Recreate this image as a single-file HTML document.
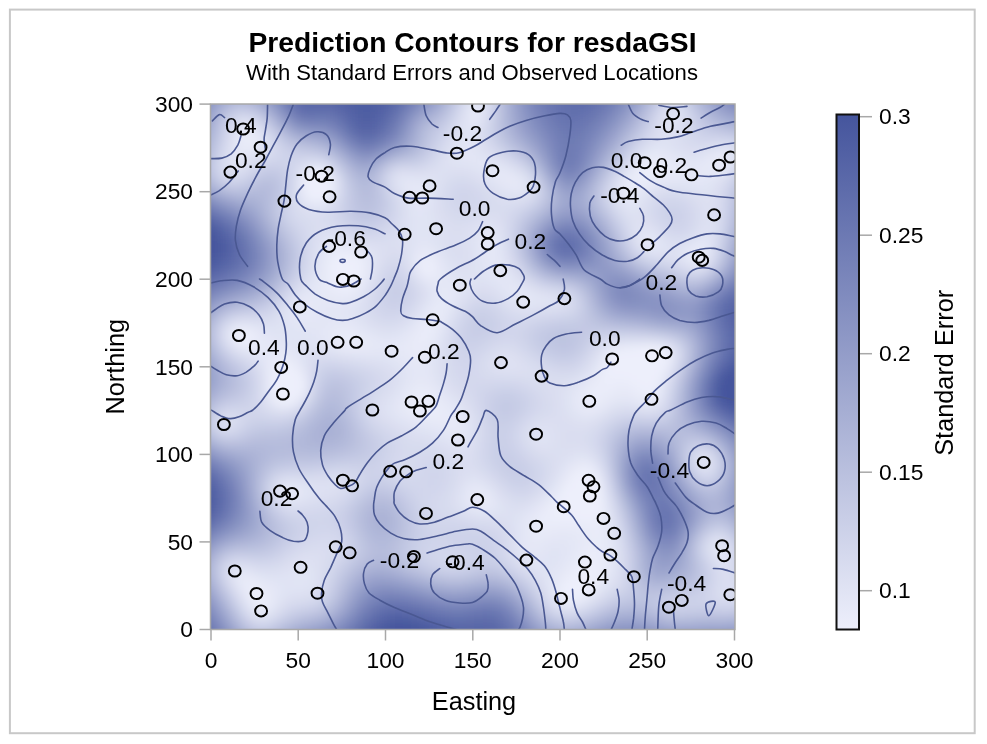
<!DOCTYPE html>
<html><head><meta charset="utf-8"><title>Prediction Contours for resdaGSI</title>
<style>
html,body{margin:0;padding:0;background:#fff;}
svg{display:block;}
text{font-family:"Liberation Sans",Arial,sans-serif;fill:#000;}
</style></head><body>
<svg width="987" height="744" viewBox="0 0 987 744">
<defs>
<clipPath id="pc"><rect x="210.5" y="104.0" width="524.5" height="525.5"/></clipPath>
<filter id="bl" x="-5%" y="-5%" width="110%" height="110%"><feGaussianBlur stdDeviation="4.5"/></filter>
<linearGradient id="cbg" x1="0" y1="0" x2="0" y2="1"><stop offset="0" stop-color="#45559d"/><stop offset="1" stop-color="#edeffb"/></linearGradient>
</defs>
<rect x="0" y="0" width="987" height="744" fill="#fff"/>
<rect x="9.9" y="9.6" width="964.8" height="723.6" fill="#fff" stroke="#c8c8c8" stroke-width="2"/>
<text x="472.5" y="51.5" text-anchor="middle" font-weight="bold" font-size="28.2">Prediction Contours for resdaGSI</text>
<text x="472" y="79.5" text-anchor="middle" font-size="22.1">With Standard Errors and Observed Locations</text>
<g clip-path="url(#pc)"><g class="fld" filter="url(#bl)">
<g transform="translate(0,80)"><rect x="186.5" width="8.5" height="8.5" fill="#5765a7"/><rect x="194.5" width="8.5" height="8.5" fill="#5f6dac"/><rect x="202.5" width="8.5" height="8.5" fill="#6976b1"/><rect x="210.5" width="8.5" height="8.5" fill="#727eb6"/><rect x="218.5" width="8.5" height="8.5" fill="#7a86bb"/><rect x="226.5" width="8.5" height="8.5" fill="#7f8bbe"/><rect x="234.5" width="8.5" height="8.5" fill="#828dbf"/><rect x="242.5" width="8.5" height="8.5" fill="#808bbe"/><rect x="250.5" width="8.5" height="8.5" fill="#7c87bc"/><rect x="258.5" width="8.5" height="8.5" fill="#7581b8"/><rect x="266.5" width="8.5" height="8.5" fill="#6d79b3"/><rect x="274.5" width="8.5" height="8.5" fill="#6472af"/><rect x="282.5" width="8.5" height="8.5" fill="#5d6baa"/><rect x="290.5" width="8.5" height="8.5" fill="#5765a7"/><rect x="298.5" width="8.5" height="8.5" fill="#5261a5"/><rect x="306.5" width="8.5" height="8.5" fill="#505fa3"/><rect x="314.5" width="8.5" height="8.5" fill="#4e5da2"/><rect x="322.5" width="8.5" height="8.5" fill="#4c5ca1"/><rect x="330.5" width="8.5" height="8.5" fill="#4b5aa0"/><rect x="338.5" width="8.5" height="8.5" fill="#49589f"/><rect x="346.5" width="8.5" height="8.5" fill="#47579e"/><rect x="354.5" width="8.5" height="8.5" fill="#46569e"/><rect x="362.5" width="8.5" height="8.5" fill="#46569e"/><rect x="370.5" width="8.5" height="8.5" fill="#47579e"/><rect x="378.5" width="8.5" height="8.5" fill="#4a5aa0"/><rect x="386.5" width="8.5" height="8.5" fill="#4e5da2"/><rect x="394.5" width="8.5" height="8.5" fill="#5362a5"/><rect x="402.5" width="8.5" height="8.5" fill="#5a68a9"/><rect x="410.5" width="8.5" height="8.5" fill="#6270ad"/><rect x="418.5" width="8.5" height="8.5" fill="#6c79b3"/><rect x="426.5" width="8.5" height="8.5" fill="#7783b9"/><rect x="434.5" width="8.5" height="8.5" fill="#848fc0"/><rect x="442.5" width="8.5" height="8.5" fill="#939dc9"/><rect x="450.5" width="8.5" height="8.5" fill="#a2abd1"/><rect x="458.5" width="8.5" height="8.5" fill="#b1b8d9"/><rect x="466.5" width="8.5" height="8.5" fill="#bbc1df"/><rect x="474.5" width="8.5" height="8.5" fill="#bfc5e1"/><rect x="482.5" width="8.5" height="8.5" fill="#bbc1df"/><rect x="490.5" width="8.5" height="8.5" fill="#b0b7d9"/><rect x="498.5" width="8.5" height="8.5" fill="#a1a9d0"/><rect x="506.5" width="8.5" height="8.5" fill="#929cc8"/><rect x="514.5" width="8.5" height="8.5" fill="#848fc0"/><rect x="522.5" width="8.5" height="8.5" fill="#7985ba"/><rect x="530.5" width="8.5" height="8.5" fill="#707cb5"/><rect x="538.5" width="8.5" height="8.5" fill="#6875b1"/><rect x="546.5" width="8.5" height="8.5" fill="#6270ad"/><rect x="554.5" width="8.5" height="8.5" fill="#5e6cab"/><rect x="562.5" width="8.5" height="8.5" fill="#5b69a9"/><rect x="570.5" width="8.5" height="8.5" fill="#5967a8"/><rect x="578.5" width="8.5" height="8.5" fill="#5866a8"/><rect x="586.5" width="8.5" height="8.5" fill="#5967a8"/><rect x="594.5" width="8.5" height="8.5" fill="#5b69a9"/><rect x="602.5" width="8.5" height="8.5" fill="#5f6dab"/><rect x="610.5" width="8.5" height="8.5" fill="#6472ae"/><rect x="618.5" width="8.5" height="8.5" fill="#6b78b3"/><rect x="626.5" width="8.5" height="8.5" fill="#7581b8"/><rect x="634.5" width="8.5" height="8.5" fill="#7f8abe"/><rect x="642.5" width="8.5" height="8.5" fill="#8b95c4"/><rect x="650.5" width="8.5" height="8.5" fill="#969fca"/><rect x="658.5" width="8.5" height="8.5" fill="#9fa8d0"/><rect x="666.5" width="8.5" height="8.5" fill="#a5add2"/><rect x="674.5" width="8.5" height="8.5" fill="#a4acd2"/><rect x="682.5" width="8.5" height="8.5" fill="#9ea7cf"/><rect x="690.5" width="8.5" height="8.5" fill="#959eca"/><rect x="698.5" width="8.5" height="8.5" fill="#8993c3"/><rect x="706.5" width="8.5" height="8.5" fill="#7e89bd"/><rect x="714.5" width="8.5" height="8.5" fill="#7480b7"/><rect x="722.5" width="8.5" height="8.5" fill="#6b78b2"/><rect x="730.5" width="8.5" height="8.5" fill="#6471ae"/><rect x="738.5" width="8.5" height="8.5" fill="#5e6cab"/><rect x="746.5" width="8.5" height="8.5" fill="#5a68a9"/><rect x="754.5" width="8.5" height="8.5" fill="#5665a7"/></g>
<g transform="translate(0,88)"><rect x="186.5" width="8.5" height="8.5" fill="#5d6bab"/><rect x="194.5" width="8.5" height="8.5" fill="#6875b1"/><rect x="202.5" width="8.5" height="8.5" fill="#7480b8"/><rect x="210.5" width="8.5" height="8.5" fill="#808cbe"/><rect x="218.5" width="8.5" height="8.5" fill="#8b95c4"/><rect x="226.5" width="8.5" height="8.5" fill="#939cc8"/><rect x="234.5" width="8.5" height="8.5" fill="#969fca"/><rect x="242.5" width="8.5" height="8.5" fill="#949ec9"/><rect x="250.5" width="8.5" height="8.5" fill="#8f99c6"/><rect x="258.5" width="8.5" height="8.5" fill="#8690c1"/><rect x="266.5" width="8.5" height="8.5" fill="#7b87bb"/><rect x="274.5" width="8.5" height="8.5" fill="#707cb5"/><rect x="282.5" width="8.5" height="8.5" fill="#6572af"/><rect x="290.5" width="8.5" height="8.5" fill="#5c6aaa"/><rect x="298.5" width="8.5" height="8.5" fill="#5664a6"/><rect x="306.5" width="8.5" height="8.5" fill="#5362a5"/><rect x="314.5" width="8.5" height="8.5" fill="#5261a4"/><rect x="322.5" width="8.5" height="8.5" fill="#5160a3"/><rect x="330.5" width="8.5" height="8.5" fill="#4f5ea2"/><rect x="338.5" width="8.5" height="8.5" fill="#4c5ba1"/><rect x="346.5" width="8.5" height="8.5" fill="#4a59a0"/><rect x="354.5" width="8.5" height="8.5" fill="#48589f"/><rect x="362.5" width="8.5" height="8.5" fill="#48589f"/><rect x="370.5" width="8.5" height="8.5" fill="#49599f"/><rect x="378.5" width="8.5" height="8.5" fill="#4c5ca1"/><rect x="386.5" width="8.5" height="8.5" fill="#5160a4"/><rect x="394.5" width="8.5" height="8.5" fill="#5766a7"/><rect x="402.5" width="8.5" height="8.5" fill="#5f6dac"/><rect x="410.5" width="8.5" height="8.5" fill="#6976b1"/><rect x="418.5" width="8.5" height="8.5" fill="#7480b7"/><rect x="426.5" width="8.5" height="8.5" fill="#818cbe"/><rect x="434.5" width="8.5" height="8.5" fill="#8f99c6"/><rect x="442.5" width="8.5" height="8.5" fill="#9fa8d0"/><rect x="450.5" width="8.5" height="8.5" fill="#b1b8d9"/><rect x="458.5" width="8.5" height="8.5" fill="#c2c7e3"/><rect x="466.5" width="8.5" height="8.5" fill="#ced3ea"/><rect x="474.5" width="8.5" height="8.5" fill="#d3d7ec"/><rect x="482.5" width="8.5" height="8.5" fill="#cdd2e9"/><rect x="490.5" width="8.5" height="8.5" fill="#bfc5e1"/><rect x="498.5" width="8.5" height="8.5" fill="#adb5d7"/><rect x="506.5" width="8.5" height="8.5" fill="#9ca4cd"/><rect x="514.5" width="8.5" height="8.5" fill="#8c96c5"/><rect x="522.5" width="8.5" height="8.5" fill="#7f8abd"/><rect x="530.5" width="8.5" height="8.5" fill="#7480b7"/><rect x="538.5" width="8.5" height="8.5" fill="#6b78b2"/><rect x="546.5" width="8.5" height="8.5" fill="#6572af"/><rect x="554.5" width="8.5" height="8.5" fill="#606eac"/><rect x="562.5" width="8.5" height="8.5" fill="#5c6aaa"/><rect x="570.5" width="8.5" height="8.5" fill="#5b69a9"/><rect x="578.5" width="8.5" height="8.5" fill="#5a69a9"/><rect x="586.5" width="8.5" height="8.5" fill="#5c6aaa"/><rect x="594.5" width="8.5" height="8.5" fill="#5f6dab"/><rect x="602.5" width="8.5" height="8.5" fill="#6471ae"/><rect x="610.5" width="8.5" height="8.5" fill="#6b77b2"/><rect x="618.5" width="8.5" height="8.5" fill="#7480b7"/><rect x="626.5" width="8.5" height="8.5" fill="#7f8abd"/><rect x="634.5" width="8.5" height="8.5" fill="#8c96c5"/><rect x="642.5" width="8.5" height="8.5" fill="#9aa3cd"/><rect x="650.5" width="8.5" height="8.5" fill="#a8b0d5"/><rect x="658.5" width="8.5" height="8.5" fill="#b4bbdb"/><rect x="666.5" width="8.5" height="8.5" fill="#bbc1df"/><rect x="674.5" width="8.5" height="8.5" fill="#bac1df"/><rect x="682.5" width="8.5" height="8.5" fill="#b3bada"/><rect x="690.5" width="8.5" height="8.5" fill="#a6aed3"/><rect x="698.5" width="8.5" height="8.5" fill="#98a1cc"/><rect x="706.5" width="8.5" height="8.5" fill="#8b95c4"/><rect x="714.5" width="8.5" height="8.5" fill="#7f8abe"/><rect x="722.5" width="8.5" height="8.5" fill="#7682b8"/><rect x="730.5" width="8.5" height="8.5" fill="#6e7ab4"/><rect x="738.5" width="8.5" height="8.5" fill="#6774b0"/><rect x="746.5" width="8.5" height="8.5" fill="#6270ad"/><rect x="754.5" width="8.5" height="8.5" fill="#5d6bab"/></g>
<g transform="translate(0,96)"><rect x="186.5" width="8.5" height="8.5" fill="#6472af"/><rect x="194.5" width="8.5" height="8.5" fill="#717eb6"/><rect x="202.5" width="8.5" height="8.5" fill="#808bbe"/><rect x="210.5" width="8.5" height="8.5" fill="#8f99c6"/><rect x="218.5" width="8.5" height="8.5" fill="#9ca5ce"/><rect x="226.5" width="8.5" height="8.5" fill="#a6aed4"/><rect x="234.5" width="8.5" height="8.5" fill="#abb3d6"/><rect x="242.5" width="8.5" height="8.5" fill="#aab2d6"/><rect x="250.5" width="8.5" height="8.5" fill="#a4acd2"/><rect x="258.5" width="8.5" height="8.5" fill="#99a2cc"/><rect x="266.5" width="8.5" height="8.5" fill="#8b96c4"/><rect x="274.5" width="8.5" height="8.5" fill="#7c88bc"/><rect x="282.5" width="8.5" height="8.5" fill="#6d7ab3"/><rect x="290.5" width="8.5" height="8.5" fill="#606eac"/><rect x="298.5" width="8.5" height="8.5" fill="#5867a8"/><rect x="306.5" width="8.5" height="8.5" fill="#5665a7"/><rect x="314.5" width="8.5" height="8.5" fill="#5665a7"/><rect x="322.5" width="8.5" height="8.5" fill="#5665a6"/><rect x="330.5" width="8.5" height="8.5" fill="#5463a5"/><rect x="338.5" width="8.5" height="8.5" fill="#5160a4"/><rect x="346.5" width="8.5" height="8.5" fill="#4e5da2"/><rect x="354.5" width="8.5" height="8.5" fill="#4b5ba1"/><rect x="362.5" width="8.5" height="8.5" fill="#4b5aa0"/><rect x="370.5" width="8.5" height="8.5" fill="#4c5ba1"/><rect x="378.5" width="8.5" height="8.5" fill="#4f5ea3"/><rect x="386.5" width="8.5" height="8.5" fill="#5563a6"/><rect x="394.5" width="8.5" height="8.5" fill="#5c6aaa"/><rect x="402.5" width="8.5" height="8.5" fill="#6674b0"/><rect x="410.5" width="8.5" height="8.5" fill="#727fb6"/><rect x="418.5" width="8.5" height="8.5" fill="#7f8abd"/><rect x="426.5" width="8.5" height="8.5" fill="#8c96c5"/><rect x="434.5" width="8.5" height="8.5" fill="#9aa3cd"/><rect x="442.5" width="8.5" height="8.5" fill="#abb3d6"/><rect x="450.5" width="8.5" height="8.5" fill="#bdc3e0"/><rect x="458.5" width="8.5" height="8.5" fill="#cfd3ea"/><rect x="466.5" width="8.5" height="8.5" fill="#dce0f2"/><rect x="474.5" width="8.5" height="8.5" fill="#e0e3f4"/><rect x="482.5" width="8.5" height="8.5" fill="#d9dcf0"/><rect x="490.5" width="8.5" height="8.5" fill="#c8cde6"/><rect x="498.5" width="8.5" height="8.5" fill="#b5bcdc"/><rect x="506.5" width="8.5" height="8.5" fill="#a2aad1"/><rect x="514.5" width="8.5" height="8.5" fill="#919bc8"/><rect x="522.5" width="8.5" height="8.5" fill="#838ec0"/><rect x="530.5" width="8.5" height="8.5" fill="#7883b9"/><rect x="538.5" width="8.5" height="8.5" fill="#6e7bb4"/><rect x="546.5" width="8.5" height="8.5" fill="#6774b0"/><rect x="554.5" width="8.5" height="8.5" fill="#6270ad"/><rect x="562.5" width="8.5" height="8.5" fill="#5f6dab"/><rect x="570.5" width="8.5" height="8.5" fill="#5d6baa"/><rect x="578.5" width="8.5" height="8.5" fill="#5d6bab"/><rect x="586.5" width="8.5" height="8.5" fill="#5f6dac"/><rect x="594.5" width="8.5" height="8.5" fill="#6371ae"/><rect x="602.5" width="8.5" height="8.5" fill="#6976b1"/><rect x="610.5" width="8.5" height="8.5" fill="#727eb6"/><rect x="618.5" width="8.5" height="8.5" fill="#7c88bc"/><rect x="626.5" width="8.5" height="8.5" fill="#8993c3"/><rect x="634.5" width="8.5" height="8.5" fill="#98a1cb"/><rect x="642.5" width="8.5" height="8.5" fill="#a8b0d4"/><rect x="650.5" width="8.5" height="8.5" fill="#b9bfde"/><rect x="658.5" width="8.5" height="8.5" fill="#c7cce6"/><rect x="666.5" width="8.5" height="8.5" fill="#cfd3ea"/><rect x="674.5" width="8.5" height="8.5" fill="#ced2e9"/><rect x="682.5" width="8.5" height="8.5" fill="#c4cae4"/><rect x="690.5" width="8.5" height="8.5" fill="#b6bcdc"/><rect x="698.5" width="8.5" height="8.5" fill="#a6aed4"/><rect x="706.5" width="8.5" height="8.5" fill="#98a1cc"/><rect x="714.5" width="8.5" height="8.5" fill="#8c96c5"/><rect x="722.5" width="8.5" height="8.5" fill="#828dbf"/><rect x="730.5" width="8.5" height="8.5" fill="#7a85ba"/><rect x="738.5" width="8.5" height="8.5" fill="#737fb6"/><rect x="746.5" width="8.5" height="8.5" fill="#6c79b3"/><rect x="754.5" width="8.5" height="8.5" fill="#6673b0"/></g>
<g transform="translate(0,104)"><rect x="186.5" width="8.5" height="8.5" fill="#6b78b2"/><rect x="194.5" width="8.5" height="8.5" fill="#7a85bb"/><rect x="202.5" width="8.5" height="8.5" fill="#8b95c4"/><rect x="210.5" width="8.5" height="8.5" fill="#9ca5ce"/><rect x="218.5" width="8.5" height="8.5" fill="#acb3d7"/><rect x="226.5" width="8.5" height="8.5" fill="#b9bfde"/><rect x="234.5" width="8.5" height="8.5" fill="#c0c6e2"/><rect x="242.5" width="8.5" height="8.5" fill="#c0c5e2"/><rect x="250.5" width="8.5" height="8.5" fill="#b9bfde"/><rect x="258.5" width="8.5" height="8.5" fill="#acb4d7"/><rect x="266.5" width="8.5" height="8.5" fill="#9da5ce"/><rect x="274.5" width="8.5" height="8.5" fill="#8a95c4"/><rect x="282.5" width="8.5" height="8.5" fill="#7783b9"/><rect x="290.5" width="8.5" height="8.5" fill="#6774b0"/><rect x="298.5" width="8.5" height="8.5" fill="#5e6bab"/><rect x="306.5" width="8.5" height="8.5" fill="#5b6aaa"/><rect x="314.5" width="8.5" height="8.5" fill="#5d6baa"/><rect x="322.5" width="8.5" height="8.5" fill="#5e6cab"/><rect x="330.5" width="8.5" height="8.5" fill="#5b69a9"/><rect x="338.5" width="8.5" height="8.5" fill="#5765a7"/><rect x="346.5" width="8.5" height="8.5" fill="#5261a4"/><rect x="354.5" width="8.5" height="8.5" fill="#4e5ea2"/><rect x="362.5" width="8.5" height="8.5" fill="#4d5ca2"/><rect x="370.5" width="8.5" height="8.5" fill="#4f5ea2"/><rect x="378.5" width="8.5" height="8.5" fill="#5361a5"/><rect x="386.5" width="8.5" height="8.5" fill="#5968a8"/><rect x="394.5" width="8.5" height="8.5" fill="#6371ae"/><rect x="402.5" width="8.5" height="8.5" fill="#717db5"/><rect x="410.5" width="8.5" height="8.5" fill="#7f8abe"/><rect x="418.5" width="8.5" height="8.5" fill="#8d97c5"/><rect x="426.5" width="8.5" height="8.5" fill="#9aa3cd"/><rect x="434.5" width="8.5" height="8.5" fill="#a7afd4"/><rect x="442.5" width="8.5" height="8.5" fill="#b6bddc"/><rect x="450.5" width="8.5" height="8.5" fill="#c7cce6"/><rect x="458.5" width="8.5" height="8.5" fill="#d7dbef"/><rect x="466.5" width="8.5" height="8.5" fill="#e3e6f5"/><rect x="474.5" width="8.5" height="8.5" fill="#e5e8f7"/><rect x="482.5" width="8.5" height="8.5" fill="#dcdff2"/><rect x="490.5" width="8.5" height="8.5" fill="#cbd0e8"/><rect x="498.5" width="8.5" height="8.5" fill="#b8bedd"/><rect x="506.5" width="8.5" height="8.5" fill="#a5add3"/><rect x="514.5" width="8.5" height="8.5" fill="#959ec9"/><rect x="522.5" width="8.5" height="8.5" fill="#8691c2"/><rect x="530.5" width="8.5" height="8.5" fill="#7b86bb"/><rect x="538.5" width="8.5" height="8.5" fill="#727eb6"/><rect x="546.5" width="8.5" height="8.5" fill="#6a77b2"/><rect x="554.5" width="8.5" height="8.5" fill="#6572af"/><rect x="562.5" width="8.5" height="8.5" fill="#626fad"/><rect x="570.5" width="8.5" height="8.5" fill="#606eac"/><rect x="578.5" width="8.5" height="8.5" fill="#616ead"/><rect x="586.5" width="8.5" height="8.5" fill="#6471ae"/><rect x="594.5" width="8.5" height="8.5" fill="#6976b1"/><rect x="602.5" width="8.5" height="8.5" fill="#707cb5"/><rect x="610.5" width="8.5" height="8.5" fill="#7985ba"/><rect x="618.5" width="8.5" height="8.5" fill="#8590c1"/><rect x="626.5" width="8.5" height="8.5" fill="#939dc9"/><rect x="634.5" width="8.5" height="8.5" fill="#a3abd2"/><rect x="642.5" width="8.5" height="8.5" fill="#b4bbdb"/><rect x="650.5" width="8.5" height="8.5" fill="#c5cae5"/><rect x="658.5" width="8.5" height="8.5" fill="#d4d8ed"/><rect x="666.5" width="8.5" height="8.5" fill="#dce0f2"/><rect x="674.5" width="8.5" height="8.5" fill="#dadef1"/><rect x="682.5" width="8.5" height="8.5" fill="#d0d5eb"/><rect x="690.5" width="8.5" height="8.5" fill="#c1c7e3"/><rect x="698.5" width="8.5" height="8.5" fill="#b2b9da"/><rect x="706.5" width="8.5" height="8.5" fill="#a5add3"/><rect x="714.5" width="8.5" height="8.5" fill="#99a2cc"/><rect x="722.5" width="8.5" height="8.5" fill="#9099c7"/><rect x="730.5" width="8.5" height="8.5" fill="#8792c2"/><rect x="738.5" width="8.5" height="8.5" fill="#808bbe"/><rect x="746.5" width="8.5" height="8.5" fill="#7984ba"/><rect x="754.5" width="8.5" height="8.5" fill="#717db6"/></g>
<g transform="translate(0,112)"><rect x="186.5" width="8.5" height="8.5" fill="#707db5"/><rect x="194.5" width="8.5" height="8.5" fill="#818cbf"/><rect x="202.5" width="8.5" height="8.5" fill="#939dc9"/><rect x="210.5" width="8.5" height="8.5" fill="#a6aed3"/><rect x="218.5" width="8.5" height="8.5" fill="#b9bfde"/><rect x="226.5" width="8.5" height="8.5" fill="#c8cde6"/><rect x="234.5" width="8.5" height="8.5" fill="#d1d6eb"/><rect x="242.5" width="8.5" height="8.5" fill="#d3d7ec"/><rect x="250.5" width="8.5" height="8.5" fill="#ccd1e9"/><rect x="258.5" width="8.5" height="8.5" fill="#bfc5e1"/><rect x="266.5" width="8.5" height="8.5" fill="#aeb6d8"/><rect x="274.5" width="8.5" height="8.5" fill="#9ba3cd"/><rect x="282.5" width="8.5" height="8.5" fill="#8690c1"/><rect x="290.5" width="8.5" height="8.5" fill="#7480b7"/><rect x="298.5" width="8.5" height="8.5" fill="#6976b1"/><rect x="306.5" width="8.5" height="8.5" fill="#6774b0"/><rect x="314.5" width="8.5" height="8.5" fill="#6876b1"/><rect x="322.5" width="8.5" height="8.5" fill="#6976b1"/><rect x="330.5" width="8.5" height="8.5" fill="#6572af"/><rect x="338.5" width="8.5" height="8.5" fill="#5e6cab"/><rect x="346.5" width="8.5" height="8.5" fill="#5765a7"/><rect x="354.5" width="8.5" height="8.5" fill="#5160a4"/><rect x="362.5" width="8.5" height="8.5" fill="#4f5ea3"/><rect x="370.5" width="8.5" height="8.5" fill="#5160a4"/><rect x="378.5" width="8.5" height="8.5" fill="#5765a7"/><rect x="386.5" width="8.5" height="8.5" fill="#5f6dac"/><rect x="394.5" width="8.5" height="8.5" fill="#6c79b3"/><rect x="402.5" width="8.5" height="8.5" fill="#7c88bc"/><rect x="410.5" width="8.5" height="8.5" fill="#8e98c6"/><rect x="418.5" width="8.5" height="8.5" fill="#9da6ce"/><rect x="426.5" width="8.5" height="8.5" fill="#a9b1d5"/><rect x="434.5" width="8.5" height="8.5" fill="#b4badb"/><rect x="442.5" width="8.5" height="8.5" fill="#c0c6e2"/><rect x="450.5" width="8.5" height="8.5" fill="#ced3ea"/><rect x="458.5" width="8.5" height="8.5" fill="#dcdff1"/><rect x="466.5" width="8.5" height="8.5" fill="#e4e7f6"/><rect x="474.5" width="8.5" height="8.5" fill="#e4e6f6"/><rect x="482.5" width="8.5" height="8.5" fill="#daddf0"/><rect x="490.5" width="8.5" height="8.5" fill="#cacfe7"/><rect x="498.5" width="8.5" height="8.5" fill="#b8bfdd"/><rect x="506.5" width="8.5" height="8.5" fill="#a7afd4"/><rect x="514.5" width="8.5" height="8.5" fill="#97a0cb"/><rect x="522.5" width="8.5" height="8.5" fill="#8a94c4"/><rect x="530.5" width="8.5" height="8.5" fill="#7f8abd"/><rect x="538.5" width="8.5" height="8.5" fill="#7581b8"/><rect x="546.5" width="8.5" height="8.5" fill="#6e7ab4"/><rect x="554.5" width="8.5" height="8.5" fill="#6875b1"/><rect x="562.5" width="8.5" height="8.5" fill="#6572af"/><rect x="570.5" width="8.5" height="8.5" fill="#6471ae"/><rect x="578.5" width="8.5" height="8.5" fill="#6572af"/><rect x="586.5" width="8.5" height="8.5" fill="#6976b1"/><rect x="594.5" width="8.5" height="8.5" fill="#6f7bb4"/><rect x="602.5" width="8.5" height="8.5" fill="#7783b9"/><rect x="610.5" width="8.5" height="8.5" fill="#828dbf"/><rect x="618.5" width="8.5" height="8.5" fill="#8f99c6"/><rect x="626.5" width="8.5" height="8.5" fill="#9da6ce"/><rect x="634.5" width="8.5" height="8.5" fill="#adb4d7"/><rect x="642.5" width="8.5" height="8.5" fill="#bec3e0"/><rect x="650.5" width="8.5" height="8.5" fill="#ced2e9"/><rect x="658.5" width="8.5" height="8.5" fill="#dbdef1"/><rect x="666.5" width="8.5" height="8.5" fill="#e1e4f5"/><rect x="674.5" width="8.5" height="8.5" fill="#dfe2f3"/><rect x="682.5" width="8.5" height="8.5" fill="#d6daee"/><rect x="690.5" width="8.5" height="8.5" fill="#c9cee7"/><rect x="698.5" width="8.5" height="8.5" fill="#bcc2e0"/><rect x="706.5" width="8.5" height="8.5" fill="#b0b8d9"/><rect x="714.5" width="8.5" height="8.5" fill="#a7afd4"/><rect x="722.5" width="8.5" height="8.5" fill="#9fa7cf"/><rect x="730.5" width="8.5" height="8.5" fill="#97a1cb"/><rect x="738.5" width="8.5" height="8.5" fill="#909ac7"/><rect x="746.5" width="8.5" height="8.5" fill="#8792c2"/><rect x="754.5" width="8.5" height="8.5" fill="#7e89bd"/></g>
<g transform="translate(0,120)"><rect x="186.5" width="8.5" height="8.5" fill="#7581b8"/><rect x="194.5" width="8.5" height="8.5" fill="#8791c2"/><rect x="202.5" width="8.5" height="8.5" fill="#9aa3cd"/><rect x="210.5" width="8.5" height="8.5" fill="#aeb5d8"/><rect x="218.5" width="8.5" height="8.5" fill="#c2c7e3"/><rect x="226.5" width="8.5" height="8.5" fill="#d2d6ec"/><rect x="234.5" width="8.5" height="8.5" fill="#dde1f2"/><rect x="242.5" width="8.5" height="8.5" fill="#e1e4f4"/><rect x="250.5" width="8.5" height="8.5" fill="#dcdff1"/><rect x="258.5" width="8.5" height="8.5" fill="#d0d4eb"/><rect x="266.5" width="8.5" height="8.5" fill="#c0c5e2"/><rect x="274.5" width="8.5" height="8.5" fill="#acb4d7"/><rect x="282.5" width="8.5" height="8.5" fill="#99a2cc"/><rect x="290.5" width="8.5" height="8.5" fill="#8892c2"/><rect x="298.5" width="8.5" height="8.5" fill="#7d89bc"/><rect x="306.5" width="8.5" height="8.5" fill="#7a85bb"/><rect x="314.5" width="8.5" height="8.5" fill="#7985ba"/><rect x="322.5" width="8.5" height="8.5" fill="#7783b9"/><rect x="330.5" width="8.5" height="8.5" fill="#717db6"/><rect x="338.5" width="8.5" height="8.5" fill="#6774b0"/><rect x="346.5" width="8.5" height="8.5" fill="#5c6baa"/><rect x="354.5" width="8.5" height="8.5" fill="#5463a6"/><rect x="362.5" width="8.5" height="8.5" fill="#5261a4"/><rect x="370.5" width="8.5" height="8.5" fill="#5563a6"/><rect x="378.5" width="8.5" height="8.5" fill="#5c6aaa"/><rect x="386.5" width="8.5" height="8.5" fill="#6673af"/><rect x="394.5" width="8.5" height="8.5" fill="#7480b7"/><rect x="402.5" width="8.5" height="8.5" fill="#8791c2"/><rect x="410.5" width="8.5" height="8.5" fill="#9ba3cd"/><rect x="418.5" width="8.5" height="8.5" fill="#abb2d6"/><rect x="426.5" width="8.5" height="8.5" fill="#b6bcdc"/><rect x="434.5" width="8.5" height="8.5" fill="#bfc5e1"/><rect x="442.5" width="8.5" height="8.5" fill="#c9cee7"/><rect x="450.5" width="8.5" height="8.5" fill="#d4d8ed"/><rect x="458.5" width="8.5" height="8.5" fill="#dee1f3"/><rect x="466.5" width="8.5" height="8.5" fill="#e3e5f5"/><rect x="474.5" width="8.5" height="8.5" fill="#e0e3f4"/><rect x="482.5" width="8.5" height="8.5" fill="#d6daee"/><rect x="490.5" width="8.5" height="8.5" fill="#c8cde6"/><rect x="498.5" width="8.5" height="8.5" fill="#b8bfde"/><rect x="506.5" width="8.5" height="8.5" fill="#a9b1d5"/><rect x="514.5" width="8.5" height="8.5" fill="#9ba4cd"/><rect x="522.5" width="8.5" height="8.5" fill="#8e98c6"/><rect x="530.5" width="8.5" height="8.5" fill="#838ec0"/><rect x="538.5" width="8.5" height="8.5" fill="#7a86bb"/><rect x="546.5" width="8.5" height="8.5" fill="#727eb6"/><rect x="554.5" width="8.5" height="8.5" fill="#6c79b3"/><rect x="562.5" width="8.5" height="8.5" fill="#6976b1"/><rect x="570.5" width="8.5" height="8.5" fill="#6875b1"/><rect x="578.5" width="8.5" height="8.5" fill="#6a77b2"/><rect x="586.5" width="8.5" height="8.5" fill="#6f7bb4"/><rect x="594.5" width="8.5" height="8.5" fill="#7682b8"/><rect x="602.5" width="8.5" height="8.5" fill="#808bbe"/><rect x="610.5" width="8.5" height="8.5" fill="#8b96c4"/><rect x="618.5" width="8.5" height="8.5" fill="#99a2cc"/><rect x="626.5" width="8.5" height="8.5" fill="#a8afd4"/><rect x="634.5" width="8.5" height="8.5" fill="#b7bddd"/><rect x="642.5" width="8.5" height="8.5" fill="#c5cbe5"/><rect x="650.5" width="8.5" height="8.5" fill="#d3d7ec"/><rect x="658.5" width="8.5" height="8.5" fill="#dde0f2"/><rect x="666.5" width="8.5" height="8.5" fill="#e1e4f4"/><rect x="674.5" width="8.5" height="8.5" fill="#dee1f3"/><rect x="682.5" width="8.5" height="8.5" fill="#d7daee"/><rect x="690.5" width="8.5" height="8.5" fill="#cdd2e9"/><rect x="698.5" width="8.5" height="8.5" fill="#c4c9e4"/><rect x="706.5" width="8.5" height="8.5" fill="#bcc2e0"/><rect x="714.5" width="8.5" height="8.5" fill="#b5bcdc"/><rect x="722.5" width="8.5" height="8.5" fill="#afb7d9"/><rect x="730.5" width="8.5" height="8.5" fill="#a9b1d5"/><rect x="738.5" width="8.5" height="8.5" fill="#a1aad1"/><rect x="746.5" width="8.5" height="8.5" fill="#97a1cb"/><rect x="754.5" width="8.5" height="8.5" fill="#8c96c5"/></g>
<g transform="translate(0,128)"><rect x="186.5" width="8.5" height="8.5" fill="#7a86bb"/><rect x="194.5" width="8.5" height="8.5" fill="#8c97c5"/><rect x="202.5" width="8.5" height="8.5" fill="#a0a9d0"/><rect x="210.5" width="8.5" height="8.5" fill="#b4bbdb"/><rect x="218.5" width="8.5" height="8.5" fill="#c7cce6"/><rect x="226.5" width="8.5" height="8.5" fill="#d8dbef"/><rect x="234.5" width="8.5" height="8.5" fill="#e3e6f6"/><rect x="242.5" width="8.5" height="8.5" fill="#e8ebf8"/><rect x="250.5" width="8.5" height="8.5" fill="#e5e8f7"/><rect x="258.5" width="8.5" height="8.5" fill="#dcdff1"/><rect x="266.5" width="8.5" height="8.5" fill="#ced2ea"/><rect x="274.5" width="8.5" height="8.5" fill="#bec3e0"/><rect x="282.5" width="8.5" height="8.5" fill="#adb4d7"/><rect x="290.5" width="8.5" height="8.5" fill="#9fa7cf"/><rect x="298.5" width="8.5" height="8.5" fill="#959fca"/><rect x="306.5" width="8.5" height="8.5" fill="#919bc7"/><rect x="314.5" width="8.5" height="8.5" fill="#8e98c6"/><rect x="322.5" width="8.5" height="8.5" fill="#8993c3"/><rect x="330.5" width="8.5" height="8.5" fill="#808bbe"/><rect x="338.5" width="8.5" height="8.5" fill="#737fb7"/><rect x="346.5" width="8.5" height="8.5" fill="#6573af"/><rect x="354.5" width="8.5" height="8.5" fill="#5b69a9"/><rect x="362.5" width="8.5" height="8.5" fill="#5866a7"/><rect x="370.5" width="8.5" height="8.5" fill="#5b69a9"/><rect x="378.5" width="8.5" height="8.5" fill="#6370ae"/><rect x="386.5" width="8.5" height="8.5" fill="#6e7ab4"/><rect x="394.5" width="8.5" height="8.5" fill="#7d88bc"/><rect x="402.5" width="8.5" height="8.5" fill="#8f99c6"/><rect x="410.5" width="8.5" height="8.5" fill="#a2aad1"/><rect x="418.5" width="8.5" height="8.5" fill="#b2b9da"/><rect x="426.5" width="8.5" height="8.5" fill="#bec4e0"/><rect x="434.5" width="8.5" height="8.5" fill="#c7cce6"/><rect x="442.5" width="8.5" height="8.5" fill="#d0d4eb"/><rect x="450.5" width="8.5" height="8.5" fill="#d9ddf0"/><rect x="458.5" width="8.5" height="8.5" fill="#dfe3f3"/><rect x="466.5" width="8.5" height="8.5" fill="#e1e4f4"/><rect x="474.5" width="8.5" height="8.5" fill="#dde0f2"/><rect x="482.5" width="8.5" height="8.5" fill="#d4d8ed"/><rect x="490.5" width="8.5" height="8.5" fill="#c8cde6"/><rect x="498.5" width="8.5" height="8.5" fill="#bbc1df"/><rect x="506.5" width="8.5" height="8.5" fill="#aeb5d8"/><rect x="514.5" width="8.5" height="8.5" fill="#a1a9d0"/><rect x="522.5" width="8.5" height="8.5" fill="#959eca"/><rect x="530.5" width="8.5" height="8.5" fill="#8a94c4"/><rect x="538.5" width="8.5" height="8.5" fill="#808bbe"/><rect x="546.5" width="8.5" height="8.5" fill="#7783b9"/><rect x="554.5" width="8.5" height="8.5" fill="#707db5"/><rect x="562.5" width="8.5" height="8.5" fill="#6c79b3"/><rect x="570.5" width="8.5" height="8.5" fill="#6c78b3"/><rect x="578.5" width="8.5" height="8.5" fill="#6e7bb4"/><rect x="586.5" width="8.5" height="8.5" fill="#7581b8"/><rect x="594.5" width="8.5" height="8.5" fill="#7d89bd"/><rect x="602.5" width="8.5" height="8.5" fill="#8993c3"/><rect x="610.5" width="8.5" height="8.5" fill="#969fca"/><rect x="618.5" width="8.5" height="8.5" fill="#a4acd2"/><rect x="626.5" width="8.5" height="8.5" fill="#b2b9da"/><rect x="634.5" width="8.5" height="8.5" fill="#c0c6e2"/><rect x="642.5" width="8.5" height="8.5" fill="#cdd1e9"/><rect x="650.5" width="8.5" height="8.5" fill="#d7daee"/><rect x="658.5" width="8.5" height="8.5" fill="#dde0f2"/><rect x="666.5" width="8.5" height="8.5" fill="#dee1f3"/><rect x="674.5" width="8.5" height="8.5" fill="#dbdff1"/><rect x="682.5" width="8.5" height="8.5" fill="#d6daee"/><rect x="690.5" width="8.5" height="8.5" fill="#d0d5eb"/><rect x="698.5" width="8.5" height="8.5" fill="#cbd0e8"/><rect x="706.5" width="8.5" height="8.5" fill="#c7cce6"/><rect x="714.5" width="8.5" height="8.5" fill="#c4c9e4"/><rect x="722.5" width="8.5" height="8.5" fill="#c1c6e2"/><rect x="730.5" width="8.5" height="8.5" fill="#bcc2df"/><rect x="738.5" width="8.5" height="8.5" fill="#b3badb"/><rect x="746.5" width="8.5" height="8.5" fill="#a7afd4"/><rect x="754.5" width="8.5" height="8.5" fill="#99a2cc"/></g>
<g transform="translate(0,136)"><rect x="186.5" width="8.5" height="8.5" fill="#7f8abd"/><rect x="194.5" width="8.5" height="8.5" fill="#929bc8"/><rect x="202.5" width="8.5" height="8.5" fill="#a6aed3"/><rect x="210.5" width="8.5" height="8.5" fill="#b9c0de"/><rect x="218.5" width="8.5" height="8.5" fill="#ccd0e8"/><rect x="226.5" width="8.5" height="8.5" fill="#dbdef1"/><rect x="234.5" width="8.5" height="8.5" fill="#e5e8f7"/><rect x="242.5" width="8.5" height="8.5" fill="#eaecf9"/><rect x="250.5" width="8.5" height="8.5" fill="#e8ebf8"/><rect x="258.5" width="8.5" height="8.5" fill="#e1e4f4"/><rect x="266.5" width="8.5" height="8.5" fill="#d7dbef"/><rect x="274.5" width="8.5" height="8.5" fill="#cacfe8"/><rect x="282.5" width="8.5" height="8.5" fill="#bec4e1"/><rect x="290.5" width="8.5" height="8.5" fill="#b4bbdb"/><rect x="298.5" width="8.5" height="8.5" fill="#adb4d7"/><rect x="306.5" width="8.5" height="8.5" fill="#a8afd4"/><rect x="314.5" width="8.5" height="8.5" fill="#a3abd2"/><rect x="322.5" width="8.5" height="8.5" fill="#9ca5ce"/><rect x="330.5" width="8.5" height="8.5" fill="#929bc8"/><rect x="338.5" width="8.5" height="8.5" fill="#838ec0"/><rect x="346.5" width="8.5" height="8.5" fill="#737fb7"/><rect x="354.5" width="8.5" height="8.5" fill="#6875b0"/><rect x="362.5" width="8.5" height="8.5" fill="#6371ae"/><rect x="370.5" width="8.5" height="8.5" fill="#6674b0"/><rect x="378.5" width="8.5" height="8.5" fill="#6f7bb4"/><rect x="386.5" width="8.5" height="8.5" fill="#7a85bb"/><rect x="394.5" width="8.5" height="8.5" fill="#8792c2"/><rect x="402.5" width="8.5" height="8.5" fill="#97a0cb"/><rect x="410.5" width="8.5" height="8.5" fill="#a7afd4"/><rect x="418.5" width="8.5" height="8.5" fill="#b6bddc"/><rect x="426.5" width="8.5" height="8.5" fill="#c2c8e3"/><rect x="434.5" width="8.5" height="8.5" fill="#ccd1e9"/><rect x="442.5" width="8.5" height="8.5" fill="#d5d9ee"/><rect x="450.5" width="8.5" height="8.5" fill="#dde0f2"/><rect x="458.5" width="8.5" height="8.5" fill="#e1e4f4"/><rect x="466.5" width="8.5" height="8.5" fill="#e1e4f4"/><rect x="474.5" width="8.5" height="8.5" fill="#dde0f2"/><rect x="482.5" width="8.5" height="8.5" fill="#d5d9ee"/><rect x="490.5" width="8.5" height="8.5" fill="#ccd1e8"/><rect x="498.5" width="8.5" height="8.5" fill="#c1c7e2"/><rect x="506.5" width="8.5" height="8.5" fill="#b5bcdc"/><rect x="514.5" width="8.5" height="8.5" fill="#aab1d5"/><rect x="522.5" width="8.5" height="8.5" fill="#9ea7cf"/><rect x="530.5" width="8.5" height="8.5" fill="#929cc8"/><rect x="538.5" width="8.5" height="8.5" fill="#8791c2"/><rect x="546.5" width="8.5" height="8.5" fill="#7c87bc"/><rect x="554.5" width="8.5" height="8.5" fill="#737fb7"/><rect x="562.5" width="8.5" height="8.5" fill="#6e7bb4"/><rect x="570.5" width="8.5" height="8.5" fill="#6e7bb4"/><rect x="578.5" width="8.5" height="8.5" fill="#727fb6"/><rect x="586.5" width="8.5" height="8.5" fill="#7a86bb"/><rect x="594.5" width="8.5" height="8.5" fill="#8590c1"/><rect x="602.5" width="8.5" height="8.5" fill="#929bc8"/><rect x="610.5" width="8.5" height="8.5" fill="#a0a8d0"/><rect x="618.5" width="8.5" height="8.5" fill="#afb6d8"/><rect x="626.5" width="8.5" height="8.5" fill="#bdc3e0"/><rect x="634.5" width="8.5" height="8.5" fill="#cacfe7"/><rect x="642.5" width="8.5" height="8.5" fill="#d4d8ed"/><rect x="650.5" width="8.5" height="8.5" fill="#dbdef1"/><rect x="658.5" width="8.5" height="8.5" fill="#dee1f3"/><rect x="666.5" width="8.5" height="8.5" fill="#dde1f2"/><rect x="674.5" width="8.5" height="8.5" fill="#dadef1"/><rect x="682.5" width="8.5" height="8.5" fill="#d7dbef"/><rect x="690.5" width="8.5" height="8.5" fill="#d4d8ed"/><rect x="698.5" width="8.5" height="8.5" fill="#d2d6ec"/><rect x="706.5" width="8.5" height="8.5" fill="#d2d6ec"/><rect x="714.5" width="8.5" height="8.5" fill="#d2d6ec"/><rect x="722.5" width="8.5" height="8.5" fill="#d1d6ec"/><rect x="730.5" width="8.5" height="8.5" fill="#cdd2e9"/><rect x="738.5" width="8.5" height="8.5" fill="#c4c9e4"/><rect x="746.5" width="8.5" height="8.5" fill="#b5bcdc"/><rect x="754.5" width="8.5" height="8.5" fill="#a4acd2"/></g>
<g transform="translate(0,144)"><rect x="186.5" width="8.5" height="8.5" fill="#848ec0"/><rect x="194.5" width="8.5" height="8.5" fill="#97a0cb"/><rect x="202.5" width="8.5" height="8.5" fill="#acb3d6"/><rect x="210.5" width="8.5" height="8.5" fill="#bfc5e1"/><rect x="218.5" width="8.5" height="8.5" fill="#d0d4eb"/><rect x="226.5" width="8.5" height="8.5" fill="#dde0f2"/><rect x="234.5" width="8.5" height="8.5" fill="#e4e7f6"/><rect x="242.5" width="8.5" height="8.5" fill="#e7eaf8"/><rect x="250.5" width="8.5" height="8.5" fill="#e5e8f7"/><rect x="258.5" width="8.5" height="8.5" fill="#e0e3f4"/><rect x="266.5" width="8.5" height="8.5" fill="#d9ddf0"/><rect x="274.5" width="8.5" height="8.5" fill="#d1d5eb"/><rect x="282.5" width="8.5" height="8.5" fill="#cacee7"/><rect x="290.5" width="8.5" height="8.5" fill="#c3c9e4"/><rect x="298.5" width="8.5" height="8.5" fill="#bfc5e1"/><rect x="306.5" width="8.5" height="8.5" fill="#bcc2df"/><rect x="314.5" width="8.5" height="8.5" fill="#b7bedd"/><rect x="322.5" width="8.5" height="8.5" fill="#b0b7d9"/><rect x="330.5" width="8.5" height="8.5" fill="#a4acd2"/><rect x="338.5" width="8.5" height="8.5" fill="#959fca"/><rect x="346.5" width="8.5" height="8.5" fill="#8590c1"/><rect x="354.5" width="8.5" height="8.5" fill="#7985ba"/><rect x="362.5" width="8.5" height="8.5" fill="#7480b7"/><rect x="370.5" width="8.5" height="8.5" fill="#7883b9"/><rect x="378.5" width="8.5" height="8.5" fill="#818cbe"/><rect x="386.5" width="8.5" height="8.5" fill="#8c96c5"/><rect x="394.5" width="8.5" height="8.5" fill="#97a1cb"/><rect x="402.5" width="8.5" height="8.5" fill="#a3abd1"/><rect x="410.5" width="8.5" height="8.5" fill="#afb6d8"/><rect x="418.5" width="8.5" height="8.5" fill="#bbc1df"/><rect x="426.5" width="8.5" height="8.5" fill="#c7cce6"/><rect x="434.5" width="8.5" height="8.5" fill="#d1d5eb"/><rect x="442.5" width="8.5" height="8.5" fill="#d9ddf0"/><rect x="450.5" width="8.5" height="8.5" fill="#dfe3f3"/><rect x="458.5" width="8.5" height="8.5" fill="#e2e5f5"/><rect x="466.5" width="8.5" height="8.5" fill="#e2e5f5"/><rect x="474.5" width="8.5" height="8.5" fill="#dfe2f3"/><rect x="482.5" width="8.5" height="8.5" fill="#daddf0"/><rect x="490.5" width="8.5" height="8.5" fill="#d3d7ec"/><rect x="498.5" width="8.5" height="8.5" fill="#cacfe7"/><rect x="506.5" width="8.5" height="8.5" fill="#c0c6e2"/><rect x="514.5" width="8.5" height="8.5" fill="#b6bcdc"/><rect x="522.5" width="8.5" height="8.5" fill="#aab1d5"/><rect x="530.5" width="8.5" height="8.5" fill="#9da5ce"/><rect x="538.5" width="8.5" height="8.5" fill="#8e98c6"/><rect x="546.5" width="8.5" height="8.5" fill="#808bbe"/><rect x="554.5" width="8.5" height="8.5" fill="#7581b8"/><rect x="562.5" width="8.5" height="8.5" fill="#6f7bb4"/><rect x="570.5" width="8.5" height="8.5" fill="#6f7cb5"/><rect x="578.5" width="8.5" height="8.5" fill="#7581b8"/><rect x="586.5" width="8.5" height="8.5" fill="#808bbe"/><rect x="594.5" width="8.5" height="8.5" fill="#8d97c5"/><rect x="602.5" width="8.5" height="8.5" fill="#9ca4cd"/><rect x="610.5" width="8.5" height="8.5" fill="#abb2d6"/><rect x="618.5" width="8.5" height="8.5" fill="#bac0df"/><rect x="626.5" width="8.5" height="8.5" fill="#c8cde6"/><rect x="634.5" width="8.5" height="8.5" fill="#d4d8ed"/><rect x="642.5" width="8.5" height="8.5" fill="#dce0f2"/><rect x="650.5" width="8.5" height="8.5" fill="#e0e4f4"/><rect x="658.5" width="8.5" height="8.5" fill="#e1e4f4"/><rect x="666.5" width="8.5" height="8.5" fill="#dfe2f3"/><rect x="674.5" width="8.5" height="8.5" fill="#dce0f2"/><rect x="682.5" width="8.5" height="8.5" fill="#daddf0"/><rect x="690.5" width="8.5" height="8.5" fill="#d9dcf0"/><rect x="698.5" width="8.5" height="8.5" fill="#d9ddf0"/><rect x="706.5" width="8.5" height="8.5" fill="#dcdff1"/><rect x="714.5" width="8.5" height="8.5" fill="#dee2f3"/><rect x="722.5" width="8.5" height="8.5" fill="#dfe2f3"/><rect x="730.5" width="8.5" height="8.5" fill="#dadef1"/><rect x="738.5" width="8.5" height="8.5" fill="#cfd4ea"/><rect x="746.5" width="8.5" height="8.5" fill="#bec4e1"/><rect x="754.5" width="8.5" height="8.5" fill="#aab2d5"/></g>
<g transform="translate(0,152)"><rect x="186.5" width="8.5" height="8.5" fill="#8892c2"/><rect x="194.5" width="8.5" height="8.5" fill="#9ca5ce"/><rect x="202.5" width="8.5" height="8.5" fill="#b1b8d9"/><rect x="210.5" width="8.5" height="8.5" fill="#c4cae4"/><rect x="218.5" width="8.5" height="8.5" fill="#d4d8ed"/><rect x="226.5" width="8.5" height="8.5" fill="#dee2f3"/><rect x="234.5" width="8.5" height="8.5" fill="#e3e6f5"/><rect x="242.5" width="8.5" height="8.5" fill="#e3e5f5"/><rect x="250.5" width="8.5" height="8.5" fill="#dfe2f3"/><rect x="258.5" width="8.5" height="8.5" fill="#dbdef1"/><rect x="266.5" width="8.5" height="8.5" fill="#d6daee"/><rect x="274.5" width="8.5" height="8.5" fill="#d1d6ec"/><rect x="282.5" width="8.5" height="8.5" fill="#ced3ea"/><rect x="290.5" width="8.5" height="8.5" fill="#cdd2e9"/><rect x="298.5" width="8.5" height="8.5" fill="#cdd1e9"/><rect x="306.5" width="8.5" height="8.5" fill="#cdd1e9"/><rect x="314.5" width="8.5" height="8.5" fill="#cacfe8"/><rect x="322.5" width="8.5" height="8.5" fill="#c3c9e4"/><rect x="330.5" width="8.5" height="8.5" fill="#b7bedd"/><rect x="338.5" width="8.5" height="8.5" fill="#a8b0d4"/><rect x="346.5" width="8.5" height="8.5" fill="#98a1cc"/><rect x="354.5" width="8.5" height="8.5" fill="#8c96c5"/><rect x="362.5" width="8.5" height="8.5" fill="#8892c2"/><rect x="370.5" width="8.5" height="8.5" fill="#8d97c5"/><rect x="378.5" width="8.5" height="8.5" fill="#98a1cc"/><rect x="386.5" width="8.5" height="8.5" fill="#a5add3"/><rect x="394.5" width="8.5" height="8.5" fill="#afb6d8"/><rect x="402.5" width="8.5" height="8.5" fill="#b5bcdc"/><rect x="410.5" width="8.5" height="8.5" fill="#bbc2df"/><rect x="418.5" width="8.5" height="8.5" fill="#c4c9e4"/><rect x="426.5" width="8.5" height="8.5" fill="#cdd2e9"/><rect x="434.5" width="8.5" height="8.5" fill="#d6daee"/><rect x="442.5" width="8.5" height="8.5" fill="#dde0f2"/><rect x="450.5" width="8.5" height="8.5" fill="#e1e4f4"/><rect x="458.5" width="8.5" height="8.5" fill="#e2e5f5"/><rect x="466.5" width="8.5" height="8.5" fill="#e2e5f5"/><rect x="474.5" width="8.5" height="8.5" fill="#e1e4f4"/><rect x="482.5" width="8.5" height="8.5" fill="#dfe2f3"/><rect x="490.5" width="8.5" height="8.5" fill="#dbdef1"/><rect x="498.5" width="8.5" height="8.5" fill="#d5d9ed"/><rect x="506.5" width="8.5" height="8.5" fill="#cdd2e9"/><rect x="514.5" width="8.5" height="8.5" fill="#c4c9e4"/><rect x="522.5" width="8.5" height="8.5" fill="#b8bedd"/><rect x="530.5" width="8.5" height="8.5" fill="#a9b0d5"/><rect x="538.5" width="8.5" height="8.5" fill="#97a0cb"/><rect x="546.5" width="8.5" height="8.5" fill="#8590c1"/><rect x="554.5" width="8.5" height="8.5" fill="#7682b9"/><rect x="562.5" width="8.5" height="8.5" fill="#6f7bb4"/><rect x="570.5" width="8.5" height="8.5" fill="#6f7cb5"/><rect x="578.5" width="8.5" height="8.5" fill="#7884ba"/><rect x="586.5" width="8.5" height="8.5" fill="#8590c1"/><rect x="594.5" width="8.5" height="8.5" fill="#959eca"/><rect x="602.5" width="8.5" height="8.5" fill="#a6aed3"/><rect x="610.5" width="8.5" height="8.5" fill="#b6bddc"/><rect x="618.5" width="8.5" height="8.5" fill="#c6cbe5"/><rect x="626.5" width="8.5" height="8.5" fill="#d3d7ed"/><rect x="634.5" width="8.5" height="8.5" fill="#dee1f2"/><rect x="642.5" width="8.5" height="8.5" fill="#e4e7f6"/><rect x="650.5" width="8.5" height="8.5" fill="#e6e9f7"/><rect x="658.5" width="8.5" height="8.5" fill="#e6e8f7"/><rect x="666.5" width="8.5" height="8.5" fill="#e3e6f5"/><rect x="674.5" width="8.5" height="8.5" fill="#e0e3f4"/><rect x="682.5" width="8.5" height="8.5" fill="#dfe2f3"/><rect x="690.5" width="8.5" height="8.5" fill="#dee1f3"/><rect x="698.5" width="8.5" height="8.5" fill="#e0e3f4"/><rect x="706.5" width="8.5" height="8.5" fill="#e3e6f5"/><rect x="714.5" width="8.5" height="8.5" fill="#e6e8f7"/><rect x="722.5" width="8.5" height="8.5" fill="#e6e9f7"/><rect x="730.5" width="8.5" height="8.5" fill="#e0e3f4"/><rect x="738.5" width="8.5" height="8.5" fill="#d3d7ed"/><rect x="746.5" width="8.5" height="8.5" fill="#c0c6e2"/><rect x="754.5" width="8.5" height="8.5" fill="#aab2d6"/></g>
<g transform="translate(0,160)"><rect x="186.5" width="8.5" height="8.5" fill="#8994c3"/><rect x="194.5" width="8.5" height="8.5" fill="#9fa7cf"/><rect x="202.5" width="8.5" height="8.5" fill="#b5bbdb"/><rect x="210.5" width="8.5" height="8.5" fill="#c8cde6"/><rect x="218.5" width="8.5" height="8.5" fill="#d7dbef"/><rect x="226.5" width="8.5" height="8.5" fill="#dfe2f3"/><rect x="234.5" width="8.5" height="8.5" fill="#e0e3f4"/><rect x="242.5" width="8.5" height="8.5" fill="#dde0f2"/><rect x="250.5" width="8.5" height="8.5" fill="#d7dbef"/><rect x="258.5" width="8.5" height="8.5" fill="#d1d6ec"/><rect x="266.5" width="8.5" height="8.5" fill="#ced2ea"/><rect x="274.5" width="8.5" height="8.5" fill="#cdd1e9"/><rect x="282.5" width="8.5" height="8.5" fill="#ced3ea"/><rect x="290.5" width="8.5" height="8.5" fill="#d2d6ec"/><rect x="298.5" width="8.5" height="8.5" fill="#d7dbef"/><rect x="306.5" width="8.5" height="8.5" fill="#dce0f2"/><rect x="314.5" width="8.5" height="8.5" fill="#dde1f2"/><rect x="322.5" width="8.5" height="8.5" fill="#d7dbef"/><rect x="330.5" width="8.5" height="8.5" fill="#c9cee7"/><rect x="338.5" width="8.5" height="8.5" fill="#b9bfde"/><rect x="346.5" width="8.5" height="8.5" fill="#a9b0d5"/><rect x="354.5" width="8.5" height="8.5" fill="#9da6ce"/><rect x="362.5" width="8.5" height="8.5" fill="#9aa3cd"/><rect x="370.5" width="8.5" height="8.5" fill="#a1aad1"/><rect x="378.5" width="8.5" height="8.5" fill="#b0b7d9"/><rect x="386.5" width="8.5" height="8.5" fill="#bfc5e1"/><rect x="394.5" width="8.5" height="8.5" fill="#c8cde6"/><rect x="402.5" width="8.5" height="8.5" fill="#cacfe7"/><rect x="410.5" width="8.5" height="8.5" fill="#cbd0e8"/><rect x="418.5" width="8.5" height="8.5" fill="#cfd4ea"/><rect x="426.5" width="8.5" height="8.5" fill="#d5d9ee"/><rect x="434.5" width="8.5" height="8.5" fill="#dadef1"/><rect x="442.5" width="8.5" height="8.5" fill="#dee1f2"/><rect x="450.5" width="8.5" height="8.5" fill="#dfe2f3"/><rect x="458.5" width="8.5" height="8.5" fill="#e0e3f4"/><rect x="466.5" width="8.5" height="8.5" fill="#e1e4f4"/><rect x="474.5" width="8.5" height="8.5" fill="#e2e5f5"/><rect x="482.5" width="8.5" height="8.5" fill="#e2e5f5"/><rect x="490.5" width="8.5" height="8.5" fill="#e1e4f5"/><rect x="498.5" width="8.5" height="8.5" fill="#dfe2f3"/><rect x="506.5" width="8.5" height="8.5" fill="#d9ddf0"/><rect x="514.5" width="8.5" height="8.5" fill="#d2d6ec"/><rect x="522.5" width="8.5" height="8.5" fill="#c6cce5"/><rect x="530.5" width="8.5" height="8.5" fill="#b6bddc"/><rect x="538.5" width="8.5" height="8.5" fill="#a2aad1"/><rect x="546.5" width="8.5" height="8.5" fill="#8c96c5"/><rect x="554.5" width="8.5" height="8.5" fill="#7a86bb"/><rect x="562.5" width="8.5" height="8.5" fill="#707db5"/><rect x="570.5" width="8.5" height="8.5" fill="#727eb6"/><rect x="578.5" width="8.5" height="8.5" fill="#7c88bc"/><rect x="586.5" width="8.5" height="8.5" fill="#8c96c5"/><rect x="594.5" width="8.5" height="8.5" fill="#9ea7cf"/><rect x="602.5" width="8.5" height="8.5" fill="#b0b7d9"/><rect x="610.5" width="8.5" height="8.5" fill="#c1c7e3"/><rect x="618.5" width="8.5" height="8.5" fill="#d0d5eb"/><rect x="626.5" width="8.5" height="8.5" fill="#dde0f2"/><rect x="634.5" width="8.5" height="8.5" fill="#e5e8f7"/><rect x="642.5" width="8.5" height="8.5" fill="#eaecf9"/><rect x="650.5" width="8.5" height="8.5" fill="#ebedfa"/><rect x="658.5" width="8.5" height="8.5" fill="#e9ebf9"/><rect x="666.5" width="8.5" height="8.5" fill="#e7e9f8"/><rect x="674.5" width="8.5" height="8.5" fill="#e5e7f6"/><rect x="682.5" width="8.5" height="8.5" fill="#e3e6f5"/><rect x="690.5" width="8.5" height="8.5" fill="#e3e6f5"/><rect x="698.5" width="8.5" height="8.5" fill="#e4e7f6"/><rect x="706.5" width="8.5" height="8.5" fill="#e6e9f7"/><rect x="714.5" width="8.5" height="8.5" fill="#e8eaf8"/><rect x="722.5" width="8.5" height="8.5" fill="#e6e8f7"/><rect x="730.5" width="8.5" height="8.5" fill="#dee1f2"/><rect x="738.5" width="8.5" height="8.5" fill="#cfd4ea"/><rect x="746.5" width="8.5" height="8.5" fill="#bcc2df"/><rect x="754.5" width="8.5" height="8.5" fill="#a6aed3"/></g>
<g transform="translate(0,168)"><rect x="186.5" width="8.5" height="8.5" fill="#8792c2"/><rect x="194.5" width="8.5" height="8.5" fill="#9da6ce"/><rect x="202.5" width="8.5" height="8.5" fill="#b4badb"/><rect x="210.5" width="8.5" height="8.5" fill="#c7cce6"/><rect x="218.5" width="8.5" height="8.5" fill="#d5d9ee"/><rect x="226.5" width="8.5" height="8.5" fill="#dcdff1"/><rect x="234.5" width="8.5" height="8.5" fill="#dadef1"/><rect x="242.5" width="8.5" height="8.5" fill="#d5d9ed"/><rect x="250.5" width="8.5" height="8.5" fill="#cdd2e9"/><rect x="258.5" width="8.5" height="8.5" fill="#c7cce6"/><rect x="266.5" width="8.5" height="8.5" fill="#c4c9e4"/><rect x="274.5" width="8.5" height="8.5" fill="#c6cbe5"/><rect x="282.5" width="8.5" height="8.5" fill="#cbd0e8"/><rect x="290.5" width="8.5" height="8.5" fill="#d4d8ed"/><rect x="298.5" width="8.5" height="8.5" fill="#e0e3f4"/><rect x="306.5" width="8.5" height="8.5" fill="#edeffb"/><rect x="314.5" width="8.5" height="8.5" fill="#edeffb"/><rect x="322.5" width="8.5" height="8.5" fill="#eaedfa"/><rect x="330.5" width="8.5" height="8.5" fill="#d9ddf0"/><rect x="338.5" width="8.5" height="8.5" fill="#c6cce5"/><rect x="346.5" width="8.5" height="8.5" fill="#b6bcdc"/><rect x="354.5" width="8.5" height="8.5" fill="#aab2d6"/><rect x="362.5" width="8.5" height="8.5" fill="#a8b0d4"/><rect x="370.5" width="8.5" height="8.5" fill="#b0b7d9"/><rect x="378.5" width="8.5" height="8.5" fill="#c1c6e2"/><rect x="386.5" width="8.5" height="8.5" fill="#d1d5eb"/><rect x="394.5" width="8.5" height="8.5" fill="#daddf0"/><rect x="402.5" width="8.5" height="8.5" fill="#dbdef1"/><rect x="410.5" width="8.5" height="8.5" fill="#d9ddf0"/><rect x="418.5" width="8.5" height="8.5" fill="#daddf0"/><rect x="426.5" width="8.5" height="8.5" fill="#dcdff1"/><rect x="434.5" width="8.5" height="8.5" fill="#dde0f2"/><rect x="442.5" width="8.5" height="8.5" fill="#dce0f2"/><rect x="450.5" width="8.5" height="8.5" fill="#dcdff1"/><rect x="458.5" width="8.5" height="8.5" fill="#dbdff1"/><rect x="466.5" width="8.5" height="8.5" fill="#dde0f2"/><rect x="474.5" width="8.5" height="8.5" fill="#dfe2f3"/><rect x="482.5" width="8.5" height="8.5" fill="#e2e5f5"/><rect x="490.5" width="8.5" height="8.5" fill="#e4e7f6"/><rect x="498.5" width="8.5" height="8.5" fill="#e4e7f6"/><rect x="506.5" width="8.5" height="8.5" fill="#e2e5f5"/><rect x="514.5" width="8.5" height="8.5" fill="#dee1f2"/><rect x="522.5" width="8.5" height="8.5" fill="#d4d9ed"/><rect x="530.5" width="8.5" height="8.5" fill="#c5cae5"/><rect x="538.5" width="8.5" height="8.5" fill="#afb7d9"/><rect x="546.5" width="8.5" height="8.5" fill="#97a0cb"/><rect x="554.5" width="8.5" height="8.5" fill="#838dbf"/><rect x="562.5" width="8.5" height="8.5" fill="#7783b9"/><rect x="570.5" width="8.5" height="8.5" fill="#7984ba"/><rect x="578.5" width="8.5" height="8.5" fill="#848fc0"/><rect x="586.5" width="8.5" height="8.5" fill="#969fca"/><rect x="594.5" width="8.5" height="8.5" fill="#a9b1d5"/><rect x="602.5" width="8.5" height="8.5" fill="#bcc2df"/><rect x="610.5" width="8.5" height="8.5" fill="#ccd1e9"/><rect x="618.5" width="8.5" height="8.5" fill="#dadef0"/><rect x="626.5" width="8.5" height="8.5" fill="#e4e7f6"/><rect x="634.5" width="8.5" height="8.5" fill="#eaecf9"/><rect x="642.5" width="8.5" height="8.5" fill="#eceefa"/><rect x="650.5" width="8.5" height="8.5" fill="#ebedfa"/><rect x="658.5" width="8.5" height="8.5" fill="#e9ecf9"/><rect x="666.5" width="8.5" height="8.5" fill="#e8eaf8"/><rect x="674.5" width="8.5" height="8.5" fill="#e6e9f7"/><rect x="682.5" width="8.5" height="8.5" fill="#e5e8f7"/><rect x="690.5" width="8.5" height="8.5" fill="#e5e7f6"/><rect x="698.5" width="8.5" height="8.5" fill="#e5e8f7"/><rect x="706.5" width="8.5" height="8.5" fill="#e5e8f7"/><rect x="714.5" width="8.5" height="8.5" fill="#e4e7f6"/><rect x="722.5" width="8.5" height="8.5" fill="#dfe3f3"/><rect x="730.5" width="8.5" height="8.5" fill="#d5d9ee"/><rect x="738.5" width="8.5" height="8.5" fill="#c6cbe5"/><rect x="746.5" width="8.5" height="8.5" fill="#b3b9da"/><rect x="754.5" width="8.5" height="8.5" fill="#9da6ce"/></g>
<g transform="translate(0,176)"><rect x="186.5" width="8.5" height="8.5" fill="#818cbf"/><rect x="194.5" width="8.5" height="8.5" fill="#96a0cb"/><rect x="202.5" width="8.5" height="8.5" fill="#acb3d6"/><rect x="210.5" width="8.5" height="8.5" fill="#bec4e1"/><rect x="218.5" width="8.5" height="8.5" fill="#ccd0e8"/><rect x="226.5" width="8.5" height="8.5" fill="#d2d6ec"/><rect x="234.5" width="8.5" height="8.5" fill="#d0d5eb"/><rect x="242.5" width="8.5" height="8.5" fill="#cacfe8"/><rect x="250.5" width="8.5" height="8.5" fill="#c2c8e3"/><rect x="258.5" width="8.5" height="8.5" fill="#bdc3e0"/><rect x="266.5" width="8.5" height="8.5" fill="#bbc2df"/><rect x="274.5" width="8.5" height="8.5" fill="#c0c6e2"/><rect x="282.5" width="8.5" height="8.5" fill="#c9cee7"/><rect x="290.5" width="8.5" height="8.5" fill="#d6daee"/><rect x="298.5" width="8.5" height="8.5" fill="#e7e9f8"/><rect x="306.5" width="8.5" height="8.5" fill="#edeffb"/><rect x="314.5" width="8.5" height="8.5" fill="#edeffb"/><rect x="322.5" width="8.5" height="8.5" fill="#edeffb"/><rect x="330.5" width="8.5" height="8.5" fill="#e4e7f6"/><rect x="338.5" width="8.5" height="8.5" fill="#cfd4ea"/><rect x="346.5" width="8.5" height="8.5" fill="#bec4e1"/><rect x="354.5" width="8.5" height="8.5" fill="#b3badb"/><rect x="362.5" width="8.5" height="8.5" fill="#b1b8d9"/><rect x="370.5" width="8.5" height="8.5" fill="#b8bedd"/><rect x="378.5" width="8.5" height="8.5" fill="#c7cce6"/><rect x="386.5" width="8.5" height="8.5" fill="#d7dbef"/><rect x="394.5" width="8.5" height="8.5" fill="#e0e3f4"/><rect x="402.5" width="8.5" height="8.5" fill="#e2e5f5"/><rect x="410.5" width="8.5" height="8.5" fill="#e2e5f5"/><rect x="418.5" width="8.5" height="8.5" fill="#e1e4f4"/><rect x="426.5" width="8.5" height="8.5" fill="#e0e3f4"/><rect x="434.5" width="8.5" height="8.5" fill="#dde1f2"/><rect x="442.5" width="8.5" height="8.5" fill="#dadef0"/><rect x="450.5" width="8.5" height="8.5" fill="#d7dbef"/><rect x="458.5" width="8.5" height="8.5" fill="#d6daee"/><rect x="466.5" width="8.5" height="8.5" fill="#d8dbef"/><rect x="474.5" width="8.5" height="8.5" fill="#dbdef1"/><rect x="482.5" width="8.5" height="8.5" fill="#dfe2f3"/><rect x="490.5" width="8.5" height="8.5" fill="#e2e5f5"/><rect x="498.5" width="8.5" height="8.5" fill="#e5e7f6"/><rect x="506.5" width="8.5" height="8.5" fill="#e6e8f7"/><rect x="514.5" width="8.5" height="8.5" fill="#e4e7f6"/><rect x="522.5" width="8.5" height="8.5" fill="#dee2f3"/><rect x="530.5" width="8.5" height="8.5" fill="#d1d6ec"/><rect x="538.5" width="8.5" height="8.5" fill="#bdc3e0"/><rect x="546.5" width="8.5" height="8.5" fill="#a5add3"/><rect x="554.5" width="8.5" height="8.5" fill="#909ac7"/><rect x="562.5" width="8.5" height="8.5" fill="#848fc0"/><rect x="570.5" width="8.5" height="8.5" fill="#848fc0"/><rect x="578.5" width="8.5" height="8.5" fill="#8f99c7"/><rect x="586.5" width="8.5" height="8.5" fill="#a1a9d0"/><rect x="594.5" width="8.5" height="8.5" fill="#b4bbdb"/><rect x="602.5" width="8.5" height="8.5" fill="#c6cbe5"/><rect x="610.5" width="8.5" height="8.5" fill="#d6daee"/><rect x="618.5" width="8.5" height="8.5" fill="#e1e4f4"/><rect x="626.5" width="8.5" height="8.5" fill="#e8ebf8"/><rect x="634.5" width="8.5" height="8.5" fill="#eaecf9"/><rect x="642.5" width="8.5" height="8.5" fill="#e9ecf9"/><rect x="650.5" width="8.5" height="8.5" fill="#e7eaf8"/><rect x="658.5" width="8.5" height="8.5" fill="#e5e8f7"/><rect x="666.5" width="8.5" height="8.5" fill="#e4e7f6"/><rect x="674.5" width="8.5" height="8.5" fill="#e3e6f6"/><rect x="682.5" width="8.5" height="8.5" fill="#e3e6f6"/><rect x="690.5" width="8.5" height="8.5" fill="#e3e6f6"/><rect x="698.5" width="8.5" height="8.5" fill="#e3e6f6"/><rect x="706.5" width="8.5" height="8.5" fill="#e2e5f5"/><rect x="714.5" width="8.5" height="8.5" fill="#dfe2f3"/><rect x="722.5" width="8.5" height="8.5" fill="#d8dcef"/><rect x="730.5" width="8.5" height="8.5" fill="#ccd1e9"/><rect x="738.5" width="8.5" height="8.5" fill="#bcc2df"/><rect x="746.5" width="8.5" height="8.5" fill="#a9b0d5"/><rect x="754.5" width="8.5" height="8.5" fill="#949ec9"/></g>
<g transform="translate(0,184)"><rect x="186.5" width="8.5" height="8.5" fill="#7682b8"/><rect x="194.5" width="8.5" height="8.5" fill="#8a94c3"/><rect x="202.5" width="8.5" height="8.5" fill="#9da6ce"/><rect x="210.5" width="8.5" height="8.5" fill="#aeb5d8"/><rect x="218.5" width="8.5" height="8.5" fill="#bac1df"/><rect x="226.5" width="8.5" height="8.5" fill="#c1c6e2"/><rect x="234.5" width="8.5" height="8.5" fill="#c1c7e3"/><rect x="242.5" width="8.5" height="8.5" fill="#bec4e1"/><rect x="250.5" width="8.5" height="8.5" fill="#b9bfde"/><rect x="258.5" width="8.5" height="8.5" fill="#b5bcdc"/><rect x="266.5" width="8.5" height="8.5" fill="#b7bddd"/><rect x="274.5" width="8.5" height="8.5" fill="#bec4e1"/><rect x="282.5" width="8.5" height="8.5" fill="#c9cee7"/><rect x="290.5" width="8.5" height="8.5" fill="#d6daee"/><rect x="298.5" width="8.5" height="8.5" fill="#e8eaf8"/><rect x="306.5" width="8.5" height="8.5" fill="#edeffb"/><rect x="314.5" width="8.5" height="8.5" fill="#edeffb"/><rect x="322.5" width="8.5" height="8.5" fill="#edeffb"/><rect x="330.5" width="8.5" height="8.5" fill="#e6e9f7"/><rect x="338.5" width="8.5" height="8.5" fill="#d2d6ec"/><rect x="346.5" width="8.5" height="8.5" fill="#c2c8e3"/><rect x="354.5" width="8.5" height="8.5" fill="#b8bfdd"/><rect x="362.5" width="8.5" height="8.5" fill="#b5bcdc"/><rect x="370.5" width="8.5" height="8.5" fill="#bac0df"/><rect x="378.5" width="8.5" height="8.5" fill="#c6cbe5"/><rect x="386.5" width="8.5" height="8.5" fill="#d4d8ed"/><rect x="394.5" width="8.5" height="8.5" fill="#dee1f3"/><rect x="402.5" width="8.5" height="8.5" fill="#e3e6f5"/><rect x="410.5" width="8.5" height="8.5" fill="#e5e7f6"/><rect x="418.5" width="8.5" height="8.5" fill="#e4e7f6"/><rect x="426.5" width="8.5" height="8.5" fill="#e1e4f4"/><rect x="434.5" width="8.5" height="8.5" fill="#dce0f2"/><rect x="442.5" width="8.5" height="8.5" fill="#d7dbef"/><rect x="450.5" width="8.5" height="8.5" fill="#d3d8ed"/><rect x="458.5" width="8.5" height="8.5" fill="#d2d6ec"/><rect x="466.5" width="8.5" height="8.5" fill="#d3d7ec"/><rect x="474.5" width="8.5" height="8.5" fill="#d6daee"/><rect x="482.5" width="8.5" height="8.5" fill="#daddf0"/><rect x="490.5" width="8.5" height="8.5" fill="#dee1f2"/><rect x="498.5" width="8.5" height="8.5" fill="#e1e4f4"/><rect x="506.5" width="8.5" height="8.5" fill="#e4e6f6"/><rect x="514.5" width="8.5" height="8.5" fill="#e4e7f6"/><rect x="522.5" width="8.5" height="8.5" fill="#e1e4f4"/><rect x="530.5" width="8.5" height="8.5" fill="#d8dbef"/><rect x="538.5" width="8.5" height="8.5" fill="#c7cce5"/><rect x="546.5" width="8.5" height="8.5" fill="#b1b8da"/><rect x="554.5" width="8.5" height="8.5" fill="#9ea6cf"/><rect x="562.5" width="8.5" height="8.5" fill="#929cc8"/><rect x="570.5" width="8.5" height="8.5" fill="#929cc8"/><rect x="578.5" width="8.5" height="8.5" fill="#9ba4cd"/><rect x="586.5" width="8.5" height="8.5" fill="#abb2d6"/><rect x="594.5" width="8.5" height="8.5" fill="#bdc3e0"/><rect x="602.5" width="8.5" height="8.5" fill="#ced2e9"/><rect x="610.5" width="8.5" height="8.5" fill="#dcdff1"/><rect x="618.5" width="8.5" height="8.5" fill="#e5e8f6"/><rect x="626.5" width="8.5" height="8.5" fill="#e9ebf9"/><rect x="634.5" width="8.5" height="8.5" fill="#e7eaf8"/><rect x="642.5" width="8.5" height="8.5" fill="#e4e7f6"/><rect x="650.5" width="8.5" height="8.5" fill="#e1e4f4"/><rect x="658.5" width="8.5" height="8.5" fill="#dee1f3"/><rect x="666.5" width="8.5" height="8.5" fill="#dde0f2"/><rect x="674.5" width="8.5" height="8.5" fill="#dde1f2"/><rect x="682.5" width="8.5" height="8.5" fill="#dee2f3"/><rect x="690.5" width="8.5" height="8.5" fill="#e0e3f4"/><rect x="698.5" width="8.5" height="8.5" fill="#e0e4f4"/><rect x="706.5" width="8.5" height="8.5" fill="#dfe3f3"/><rect x="714.5" width="8.5" height="8.5" fill="#dbdef1"/><rect x="722.5" width="8.5" height="8.5" fill="#d2d6ec"/><rect x="730.5" width="8.5" height="8.5" fill="#c4cae4"/><rect x="738.5" width="8.5" height="8.5" fill="#b3badb"/><rect x="746.5" width="8.5" height="8.5" fill="#a0a8d0"/><rect x="754.5" width="8.5" height="8.5" fill="#8c96c5"/></g>
<g transform="translate(0,192)"><rect x="186.5" width="8.5" height="8.5" fill="#6875b1"/><rect x="194.5" width="8.5" height="8.5" fill="#7985ba"/><rect x="202.5" width="8.5" height="8.5" fill="#8a94c4"/><rect x="210.5" width="8.5" height="8.5" fill="#99a2cc"/><rect x="218.5" width="8.5" height="8.5" fill="#a4acd2"/><rect x="226.5" width="8.5" height="8.5" fill="#acb3d7"/><rect x="234.5" width="8.5" height="8.5" fill="#b0b7d9"/><rect x="242.5" width="8.5" height="8.5" fill="#b0b7d9"/><rect x="250.5" width="8.5" height="8.5" fill="#b0b7d9"/><rect x="258.5" width="8.5" height="8.5" fill="#b2b9da"/><rect x="266.5" width="8.5" height="8.5" fill="#b7bddd"/><rect x="274.5" width="8.5" height="8.5" fill="#c0c6e2"/><rect x="282.5" width="8.5" height="8.5" fill="#cbd0e8"/><rect x="290.5" width="8.5" height="8.5" fill="#d7dbee"/><rect x="298.5" width="8.5" height="8.5" fill="#e3e6f6"/><rect x="306.5" width="8.5" height="8.5" fill="#edeffb"/><rect x="314.5" width="8.5" height="8.5" fill="#edeffb"/><rect x="322.5" width="8.5" height="8.5" fill="#edeffb"/><rect x="330.5" width="8.5" height="8.5" fill="#e0e3f4"/><rect x="338.5" width="8.5" height="8.5" fill="#d0d5eb"/><rect x="346.5" width="8.5" height="8.5" fill="#c4c9e4"/><rect x="354.5" width="8.5" height="8.5" fill="#bbc1df"/><rect x="362.5" width="8.5" height="8.5" fill="#b7bedd"/><rect x="370.5" width="8.5" height="8.5" fill="#bbc1df"/><rect x="378.5" width="8.5" height="8.5" fill="#c3c9e4"/><rect x="386.5" width="8.5" height="8.5" fill="#cfd3ea"/><rect x="394.5" width="8.5" height="8.5" fill="#d9ddf0"/><rect x="402.5" width="8.5" height="8.5" fill="#e0e3f4"/><rect x="410.5" width="8.5" height="8.5" fill="#e4e7f6"/><rect x="418.5" width="8.5" height="8.5" fill="#e4e7f6"/><rect x="426.5" width="8.5" height="8.5" fill="#e1e4f4"/><rect x="434.5" width="8.5" height="8.5" fill="#dbdff1"/><rect x="442.5" width="8.5" height="8.5" fill="#d6daee"/><rect x="450.5" width="8.5" height="8.5" fill="#d2d6ec"/><rect x="458.5" width="8.5" height="8.5" fill="#d0d4eb"/><rect x="466.5" width="8.5" height="8.5" fill="#d1d5eb"/><rect x="474.5" width="8.5" height="8.5" fill="#d3d7ed"/><rect x="482.5" width="8.5" height="8.5" fill="#d6daee"/><rect x="490.5" width="8.5" height="8.5" fill="#daddf0"/><rect x="498.5" width="8.5" height="8.5" fill="#dce0f2"/><rect x="506.5" width="8.5" height="8.5" fill="#dee2f3"/><rect x="514.5" width="8.5" height="8.5" fill="#dfe2f3"/><rect x="522.5" width="8.5" height="8.5" fill="#dde0f2"/><rect x="530.5" width="8.5" height="8.5" fill="#d5d9ee"/><rect x="538.5" width="8.5" height="8.5" fill="#c8cde6"/><rect x="546.5" width="8.5" height="8.5" fill="#b6bddc"/><rect x="554.5" width="8.5" height="8.5" fill="#a6aed3"/><rect x="562.5" width="8.5" height="8.5" fill="#9ca5ce"/><rect x="570.5" width="8.5" height="8.5" fill="#9ba4cd"/><rect x="578.5" width="8.5" height="8.5" fill="#a3abd2"/><rect x="586.5" width="8.5" height="8.5" fill="#b0b7d9"/><rect x="594.5" width="8.5" height="8.5" fill="#c0c6e2"/><rect x="602.5" width="8.5" height="8.5" fill="#d0d4eb"/><rect x="610.5" width="8.5" height="8.5" fill="#dce0f2"/><rect x="618.5" width="8.5" height="8.5" fill="#e4e7f6"/><rect x="626.5" width="8.5" height="8.5" fill="#e6e9f7"/><rect x="634.5" width="8.5" height="8.5" fill="#e3e6f6"/><rect x="642.5" width="8.5" height="8.5" fill="#dee2f3"/><rect x="650.5" width="8.5" height="8.5" fill="#daddf0"/><rect x="658.5" width="8.5" height="8.5" fill="#d7daee"/><rect x="666.5" width="8.5" height="8.5" fill="#d5d9ee"/><rect x="674.5" width="8.5" height="8.5" fill="#d6daee"/><rect x="682.5" width="8.5" height="8.5" fill="#d8dcef"/><rect x="690.5" width="8.5" height="8.5" fill="#dbdff1"/><rect x="698.5" width="8.5" height="8.5" fill="#dee1f2"/><rect x="706.5" width="8.5" height="8.5" fill="#dee1f2"/><rect x="714.5" width="8.5" height="8.5" fill="#d9ddf0"/><rect x="722.5" width="8.5" height="8.5" fill="#cfd3ea"/><rect x="730.5" width="8.5" height="8.5" fill="#c0c5e2"/><rect x="738.5" width="8.5" height="8.5" fill="#adb4d7"/><rect x="746.5" width="8.5" height="8.5" fill="#99a2cc"/><rect x="754.5" width="8.5" height="8.5" fill="#8590c1"/></g>
<g transform="translate(0,200)"><rect x="186.5" width="8.5" height="8.5" fill="#5968a8"/><rect x="194.5" width="8.5" height="8.5" fill="#6775b0"/><rect x="202.5" width="8.5" height="8.5" fill="#7581b8"/><rect x="210.5" width="8.5" height="8.5" fill="#828dbf"/><rect x="218.5" width="8.5" height="8.5" fill="#8d97c5"/><rect x="226.5" width="8.5" height="8.5" fill="#969fca"/><rect x="234.5" width="8.5" height="8.5" fill="#9da6ce"/><rect x="242.5" width="8.5" height="8.5" fill="#a3abd1"/><rect x="250.5" width="8.5" height="8.5" fill="#a8b0d4"/><rect x="258.5" width="8.5" height="8.5" fill="#afb6d8"/><rect x="266.5" width="8.5" height="8.5" fill="#b8bfde"/><rect x="274.5" width="8.5" height="8.5" fill="#c4c9e4"/><rect x="282.5" width="8.5" height="8.5" fill="#ced3ea"/><rect x="290.5" width="8.5" height="8.5" fill="#d7dbef"/><rect x="298.5" width="8.5" height="8.5" fill="#dee1f2"/><rect x="306.5" width="8.5" height="8.5" fill="#e3e6f6"/><rect x="314.5" width="8.5" height="8.5" fill="#e5e8f7"/><rect x="322.5" width="8.5" height="8.5" fill="#e1e4f4"/><rect x="330.5" width="8.5" height="8.5" fill="#d8dcef"/><rect x="338.5" width="8.5" height="8.5" fill="#cdd2e9"/><rect x="346.5" width="8.5" height="8.5" fill="#c4c9e4"/><rect x="354.5" width="8.5" height="8.5" fill="#bdc3e0"/><rect x="362.5" width="8.5" height="8.5" fill="#bac0de"/><rect x="370.5" width="8.5" height="8.5" fill="#bcc2e0"/><rect x="378.5" width="8.5" height="8.5" fill="#c3c8e3"/><rect x="386.5" width="8.5" height="8.5" fill="#ccd1e9"/><rect x="394.5" width="8.5" height="8.5" fill="#d6daee"/><rect x="402.5" width="8.5" height="8.5" fill="#dee1f2"/><rect x="410.5" width="8.5" height="8.5" fill="#e2e5f5"/><rect x="418.5" width="8.5" height="8.5" fill="#e3e5f5"/><rect x="426.5" width="8.5" height="8.5" fill="#e0e3f4"/><rect x="434.5" width="8.5" height="8.5" fill="#dbdef1"/><rect x="442.5" width="8.5" height="8.5" fill="#d6daee"/><rect x="450.5" width="8.5" height="8.5" fill="#d2d7ec"/><rect x="458.5" width="8.5" height="8.5" fill="#d1d5eb"/><rect x="466.5" width="8.5" height="8.5" fill="#d1d6eb"/><rect x="474.5" width="8.5" height="8.5" fill="#d3d7ed"/><rect x="482.5" width="8.5" height="8.5" fill="#d6daee"/><rect x="490.5" width="8.5" height="8.5" fill="#d8dcef"/><rect x="498.5" width="8.5" height="8.5" fill="#d9ddf0"/><rect x="506.5" width="8.5" height="8.5" fill="#d9ddf0"/><rect x="514.5" width="8.5" height="8.5" fill="#d8dbef"/><rect x="522.5" width="8.5" height="8.5" fill="#d4d8ed"/><rect x="530.5" width="8.5" height="8.5" fill="#ccd1e9"/><rect x="538.5" width="8.5" height="8.5" fill="#c1c6e2"/><rect x="546.5" width="8.5" height="8.5" fill="#b3b9da"/><rect x="554.5" width="8.5" height="8.5" fill="#a6aed3"/><rect x="562.5" width="8.5" height="8.5" fill="#9ea6cf"/><rect x="570.5" width="8.5" height="8.5" fill="#9da6ce"/><rect x="578.5" width="8.5" height="8.5" fill="#a3abd2"/><rect x="586.5" width="8.5" height="8.5" fill="#afb6d8"/><rect x="594.5" width="8.5" height="8.5" fill="#bdc3e0"/><rect x="602.5" width="8.5" height="8.5" fill="#cbd0e8"/><rect x="610.5" width="8.5" height="8.5" fill="#d8dcef"/><rect x="618.5" width="8.5" height="8.5" fill="#e0e3f4"/><rect x="626.5" width="8.5" height="8.5" fill="#e2e5f5"/><rect x="634.5" width="8.5" height="8.5" fill="#e0e3f3"/><rect x="642.5" width="8.5" height="8.5" fill="#dadef1"/><rect x="650.5" width="8.5" height="8.5" fill="#d5d9ee"/><rect x="658.5" width="8.5" height="8.5" fill="#d1d5eb"/><rect x="666.5" width="8.5" height="8.5" fill="#cfd4ea"/><rect x="674.5" width="8.5" height="8.5" fill="#d0d5eb"/><rect x="682.5" width="8.5" height="8.5" fill="#d3d7ed"/><rect x="690.5" width="8.5" height="8.5" fill="#d8dbef"/><rect x="698.5" width="8.5" height="8.5" fill="#dcdff1"/><rect x="706.5" width="8.5" height="8.5" fill="#dde0f2"/><rect x="714.5" width="8.5" height="8.5" fill="#d9dcf0"/><rect x="722.5" width="8.5" height="8.5" fill="#cdd2e9"/><rect x="730.5" width="8.5" height="8.5" fill="#bdc3e0"/><rect x="738.5" width="8.5" height="8.5" fill="#a9b0d5"/><rect x="746.5" width="8.5" height="8.5" fill="#949dc9"/><rect x="754.5" width="8.5" height="8.5" fill="#808bbe"/></g>
<g transform="translate(0,208)"><rect x="186.5" width="8.5" height="8.5" fill="#4c5ba1"/><rect x="194.5" width="8.5" height="8.5" fill="#5766a7"/><rect x="202.5" width="8.5" height="8.5" fill="#6370ae"/><rect x="210.5" width="8.5" height="8.5" fill="#6e7ab4"/><rect x="218.5" width="8.5" height="8.5" fill="#7884b9"/><rect x="226.5" width="8.5" height="8.5" fill="#828dbf"/><rect x="234.5" width="8.5" height="8.5" fill="#8b95c4"/><rect x="242.5" width="8.5" height="8.5" fill="#959eca"/><rect x="250.5" width="8.5" height="8.5" fill="#9fa8d0"/><rect x="258.5" width="8.5" height="8.5" fill="#abb3d6"/><rect x="266.5" width="8.5" height="8.5" fill="#b8bedd"/><rect x="274.5" width="8.5" height="8.5" fill="#c4cae4"/><rect x="282.5" width="8.5" height="8.5" fill="#cfd3ea"/><rect x="290.5" width="8.5" height="8.5" fill="#d6daee"/><rect x="298.5" width="8.5" height="8.5" fill="#daddf0"/><rect x="306.5" width="8.5" height="8.5" fill="#dcdff1"/><rect x="314.5" width="8.5" height="8.5" fill="#dcdff1"/><rect x="322.5" width="8.5" height="8.5" fill="#d9ddf0"/><rect x="330.5" width="8.5" height="8.5" fill="#d4d8ed"/><rect x="338.5" width="8.5" height="8.5" fill="#cdd1e9"/><rect x="346.5" width="8.5" height="8.5" fill="#c5cbe5"/><rect x="354.5" width="8.5" height="8.5" fill="#c0c5e2"/><rect x="362.5" width="8.5" height="8.5" fill="#bdc3e0"/><rect x="370.5" width="8.5" height="8.5" fill="#bfc5e1"/><rect x="378.5" width="8.5" height="8.5" fill="#c5cae5"/><rect x="386.5" width="8.5" height="8.5" fill="#cdd2e9"/><rect x="394.5" width="8.5" height="8.5" fill="#d5d9ee"/><rect x="402.5" width="8.5" height="8.5" fill="#dce0f2"/><rect x="410.5" width="8.5" height="8.5" fill="#e1e4f4"/><rect x="418.5" width="8.5" height="8.5" fill="#e1e4f5"/><rect x="426.5" width="8.5" height="8.5" fill="#dfe2f3"/><rect x="434.5" width="8.5" height="8.5" fill="#dcdff1"/><rect x="442.5" width="8.5" height="8.5" fill="#d8dbef"/><rect x="450.5" width="8.5" height="8.5" fill="#d5d9ed"/><rect x="458.5" width="8.5" height="8.5" fill="#d4d8ed"/><rect x="466.5" width="8.5" height="8.5" fill="#d4d8ed"/><rect x="474.5" width="8.5" height="8.5" fill="#d6daee"/><rect x="482.5" width="8.5" height="8.5" fill="#d8dcef"/><rect x="490.5" width="8.5" height="8.5" fill="#d9ddf0"/><rect x="498.5" width="8.5" height="8.5" fill="#d8dcef"/><rect x="506.5" width="8.5" height="8.5" fill="#d5d9ee"/><rect x="514.5" width="8.5" height="8.5" fill="#d0d5eb"/><rect x="522.5" width="8.5" height="8.5" fill="#c9cee7"/><rect x="530.5" width="8.5" height="8.5" fill="#c0c6e2"/><rect x="538.5" width="8.5" height="8.5" fill="#b4bbdb"/><rect x="546.5" width="8.5" height="8.5" fill="#a7afd4"/><rect x="554.5" width="8.5" height="8.5" fill="#9ca5ce"/><rect x="562.5" width="8.5" height="8.5" fill="#969fca"/><rect x="570.5" width="8.5" height="8.5" fill="#969fca"/><rect x="578.5" width="8.5" height="8.5" fill="#9ca4cd"/><rect x="586.5" width="8.5" height="8.5" fill="#a6aed4"/><rect x="594.5" width="8.5" height="8.5" fill="#b4bbdb"/><rect x="602.5" width="8.5" height="8.5" fill="#c3c8e3"/><rect x="610.5" width="8.5" height="8.5" fill="#d0d5eb"/><rect x="618.5" width="8.5" height="8.5" fill="#dadef0"/><rect x="626.5" width="8.5" height="8.5" fill="#dee2f3"/><rect x="634.5" width="8.5" height="8.5" fill="#dee1f2"/><rect x="642.5" width="8.5" height="8.5" fill="#d9ddf0"/><rect x="650.5" width="8.5" height="8.5" fill="#d3d8ed"/><rect x="658.5" width="8.5" height="8.5" fill="#cfd3ea"/><rect x="666.5" width="8.5" height="8.5" fill="#ccd1e9"/><rect x="674.5" width="8.5" height="8.5" fill="#cdd1e9"/><rect x="682.5" width="8.5" height="8.5" fill="#d0d4eb"/><rect x="690.5" width="8.5" height="8.5" fill="#d5d9ee"/><rect x="698.5" width="8.5" height="8.5" fill="#dbdef1"/><rect x="706.5" width="8.5" height="8.5" fill="#dde0f2"/><rect x="714.5" width="8.5" height="8.5" fill="#d9dcf0"/><rect x="722.5" width="8.5" height="8.5" fill="#ccd1e9"/><rect x="730.5" width="8.5" height="8.5" fill="#bac0df"/><rect x="738.5" width="8.5" height="8.5" fill="#a5add3"/><rect x="746.5" width="8.5" height="8.5" fill="#9099c7"/><rect x="754.5" width="8.5" height="8.5" fill="#7b87bb"/></g>
<g transform="translate(0,216)"><rect x="186.5" width="8.5" height="8.5" fill="#45559d"/><rect x="194.5" width="8.5" height="8.5" fill="#4a5aa0"/><rect x="202.5" width="8.5" height="8.5" fill="#5362a5"/><rect x="210.5" width="8.5" height="8.5" fill="#5d6baa"/><rect x="218.5" width="8.5" height="8.5" fill="#6673b0"/><rect x="226.5" width="8.5" height="8.5" fill="#707db5"/><rect x="234.5" width="8.5" height="8.5" fill="#7c87bc"/><rect x="242.5" width="8.5" height="8.5" fill="#8892c2"/><rect x="250.5" width="8.5" height="8.5" fill="#969fca"/><rect x="258.5" width="8.5" height="8.5" fill="#a4acd2"/><rect x="266.5" width="8.5" height="8.5" fill="#b3bada"/><rect x="274.5" width="8.5" height="8.5" fill="#c0c6e2"/><rect x="282.5" width="8.5" height="8.5" fill="#cbd0e8"/><rect x="290.5" width="8.5" height="8.5" fill="#d3d7ec"/><rect x="298.5" width="8.5" height="8.5" fill="#d7dbef"/><rect x="306.5" width="8.5" height="8.5" fill="#d9ddf0"/><rect x="314.5" width="8.5" height="8.5" fill="#d9ddf0"/><rect x="322.5" width="8.5" height="8.5" fill="#d8dcef"/><rect x="330.5" width="8.5" height="8.5" fill="#d4d8ed"/><rect x="338.5" width="8.5" height="8.5" fill="#cfd4ea"/><rect x="346.5" width="8.5" height="8.5" fill="#c9cee7"/><rect x="354.5" width="8.5" height="8.5" fill="#c5cae5"/><rect x="362.5" width="8.5" height="8.5" fill="#c3c9e4"/><rect x="370.5" width="8.5" height="8.5" fill="#c5cae5"/><rect x="378.5" width="8.5" height="8.5" fill="#cacee7"/><rect x="386.5" width="8.5" height="8.5" fill="#d0d4eb"/><rect x="394.5" width="8.5" height="8.5" fill="#d7dbef"/><rect x="402.5" width="8.5" height="8.5" fill="#dde0f2"/><rect x="410.5" width="8.5" height="8.5" fill="#e0e3f4"/><rect x="418.5" width="8.5" height="8.5" fill="#e1e4f4"/><rect x="426.5" width="8.5" height="8.5" fill="#dfe3f3"/><rect x="434.5" width="8.5" height="8.5" fill="#dde0f2"/><rect x="442.5" width="8.5" height="8.5" fill="#daddf0"/><rect x="450.5" width="8.5" height="8.5" fill="#d8dbef"/><rect x="458.5" width="8.5" height="8.5" fill="#d7dbef"/><rect x="466.5" width="8.5" height="8.5" fill="#d8dcf0"/><rect x="474.5" width="8.5" height="8.5" fill="#dbdef1"/><rect x="482.5" width="8.5" height="8.5" fill="#dce0f2"/><rect x="490.5" width="8.5" height="8.5" fill="#dcdff1"/><rect x="498.5" width="8.5" height="8.5" fill="#d9dcf0"/><rect x="506.5" width="8.5" height="8.5" fill="#d3d7ec"/><rect x="514.5" width="8.5" height="8.5" fill="#cacfe7"/><rect x="522.5" width="8.5" height="8.5" fill="#bfc5e2"/><rect x="530.5" width="8.5" height="8.5" fill="#b3bada"/><rect x="538.5" width="8.5" height="8.5" fill="#a5add3"/><rect x="546.5" width="8.5" height="8.5" fill="#97a0cb"/><rect x="554.5" width="8.5" height="8.5" fill="#8d97c5"/><rect x="562.5" width="8.5" height="8.5" fill="#8792c2"/><rect x="570.5" width="8.5" height="8.5" fill="#8892c3"/><rect x="578.5" width="8.5" height="8.5" fill="#8f99c6"/><rect x="586.5" width="8.5" height="8.5" fill="#9aa3cd"/><rect x="594.5" width="8.5" height="8.5" fill="#a8b0d5"/><rect x="602.5" width="8.5" height="8.5" fill="#b8bedd"/><rect x="610.5" width="8.5" height="8.5" fill="#c7cce6"/><rect x="618.5" width="8.5" height="8.5" fill="#d3d8ed"/><rect x="626.5" width="8.5" height="8.5" fill="#dbdff1"/><rect x="634.5" width="8.5" height="8.5" fill="#dee1f2"/><rect x="642.5" width="8.5" height="8.5" fill="#dbdef1"/><rect x="650.5" width="8.5" height="8.5" fill="#d6d9ee"/><rect x="658.5" width="8.5" height="8.5" fill="#d0d5eb"/><rect x="666.5" width="8.5" height="8.5" fill="#cdd1e9"/><rect x="674.5" width="8.5" height="8.5" fill="#cdd1e9"/><rect x="682.5" width="8.5" height="8.5" fill="#d0d4eb"/><rect x="690.5" width="8.5" height="8.5" fill="#d5d9ee"/><rect x="698.5" width="8.5" height="8.5" fill="#dbdff1"/><rect x="706.5" width="8.5" height="8.5" fill="#dde1f2"/><rect x="714.5" width="8.5" height="8.5" fill="#d8dcef"/><rect x="722.5" width="8.5" height="8.5" fill="#cbcfe8"/><rect x="730.5" width="8.5" height="8.5" fill="#b7bedd"/><rect x="738.5" width="8.5" height="8.5" fill="#a1aad1"/><rect x="746.5" width="8.5" height="8.5" fill="#8b95c4"/><rect x="754.5" width="8.5" height="8.5" fill="#7783b9"/></g>
<g transform="translate(0,224)"><rect x="186.5" width="8.5" height="8.5" fill="#45559d"/><rect x="194.5" width="8.5" height="8.5" fill="#45559d"/><rect x="202.5" width="8.5" height="8.5" fill="#48589f"/><rect x="210.5" width="8.5" height="8.5" fill="#505fa3"/><rect x="218.5" width="8.5" height="8.5" fill="#5967a8"/><rect x="226.5" width="8.5" height="8.5" fill="#6371ae"/><rect x="234.5" width="8.5" height="8.5" fill="#6f7bb4"/><rect x="242.5" width="8.5" height="8.5" fill="#7c87bc"/><rect x="250.5" width="8.5" height="8.5" fill="#8b95c4"/><rect x="258.5" width="8.5" height="8.5" fill="#9ba4cd"/><rect x="266.5" width="8.5" height="8.5" fill="#abb2d6"/><rect x="274.5" width="8.5" height="8.5" fill="#b9bfde"/><rect x="282.5" width="8.5" height="8.5" fill="#c5cae4"/><rect x="290.5" width="8.5" height="8.5" fill="#ced2e9"/><rect x="298.5" width="8.5" height="8.5" fill="#d4d8ed"/><rect x="306.5" width="8.5" height="8.5" fill="#d8dcef"/><rect x="314.5" width="8.5" height="8.5" fill="#dadef0"/><rect x="322.5" width="8.5" height="8.5" fill="#dadef1"/><rect x="330.5" width="8.5" height="8.5" fill="#d8dcef"/><rect x="338.5" width="8.5" height="8.5" fill="#d4d8ed"/><rect x="346.5" width="8.5" height="8.5" fill="#d0d4eb"/><rect x="354.5" width="8.5" height="8.5" fill="#ccd1e9"/><rect x="362.5" width="8.5" height="8.5" fill="#cbd0e8"/><rect x="370.5" width="8.5" height="8.5" fill="#ccd1e9"/><rect x="378.5" width="8.5" height="8.5" fill="#d0d4eb"/><rect x="386.5" width="8.5" height="8.5" fill="#d4d8ed"/><rect x="394.5" width="8.5" height="8.5" fill="#d9ddf0"/><rect x="402.5" width="8.5" height="8.5" fill="#dde1f2"/><rect x="410.5" width="8.5" height="8.5" fill="#e0e3f4"/><rect x="418.5" width="8.5" height="8.5" fill="#e1e4f4"/><rect x="426.5" width="8.5" height="8.5" fill="#e0e3f3"/><rect x="434.5" width="8.5" height="8.5" fill="#dde1f2"/><rect x="442.5" width="8.5" height="8.5" fill="#dbdff1"/><rect x="450.5" width="8.5" height="8.5" fill="#daddf0"/><rect x="458.5" width="8.5" height="8.5" fill="#dadef0"/><rect x="466.5" width="8.5" height="8.5" fill="#dcdff2"/><rect x="474.5" width="8.5" height="8.5" fill="#dfe2f3"/><rect x="482.5" width="8.5" height="8.5" fill="#e1e4f4"/><rect x="490.5" width="8.5" height="8.5" fill="#e0e3f4"/><rect x="498.5" width="8.5" height="8.5" fill="#dbdef1"/><rect x="506.5" width="8.5" height="8.5" fill="#d2d6ec"/><rect x="514.5" width="8.5" height="8.5" fill="#c6cbe5"/><rect x="522.5" width="8.5" height="8.5" fill="#b7bedd"/><rect x="530.5" width="8.5" height="8.5" fill="#a7afd4"/><rect x="538.5" width="8.5" height="8.5" fill="#969fca"/><rect x="546.5" width="8.5" height="8.5" fill="#8691c1"/><rect x="554.5" width="8.5" height="8.5" fill="#7b86bb"/><rect x="562.5" width="8.5" height="8.5" fill="#7682b8"/><rect x="570.5" width="8.5" height="8.5" fill="#7884ba"/><rect x="578.5" width="8.5" height="8.5" fill="#808bbe"/><rect x="586.5" width="8.5" height="8.5" fill="#8d97c5"/><rect x="594.5" width="8.5" height="8.5" fill="#9ca5ce"/><rect x="602.5" width="8.5" height="8.5" fill="#adb4d7"/><rect x="610.5" width="8.5" height="8.5" fill="#bec4e1"/><rect x="618.5" width="8.5" height="8.5" fill="#cdd2e9"/><rect x="626.5" width="8.5" height="8.5" fill="#d9ddf0"/><rect x="634.5" width="8.5" height="8.5" fill="#dfe2f3"/><rect x="642.5" width="8.5" height="8.5" fill="#dfe2f3"/><rect x="650.5" width="8.5" height="8.5" fill="#dbdef1"/><rect x="658.5" width="8.5" height="8.5" fill="#d5d9ee"/><rect x="666.5" width="8.5" height="8.5" fill="#d1d5eb"/><rect x="674.5" width="8.5" height="8.5" fill="#d0d4eb"/><rect x="682.5" width="8.5" height="8.5" fill="#d2d6ec"/><rect x="690.5" width="8.5" height="8.5" fill="#d7dbef"/><rect x="698.5" width="8.5" height="8.5" fill="#dde0f2"/><rect x="706.5" width="8.5" height="8.5" fill="#dee1f3"/><rect x="714.5" width="8.5" height="8.5" fill="#d7dbef"/><rect x="722.5" width="8.5" height="8.5" fill="#c7cde6"/><rect x="730.5" width="8.5" height="8.5" fill="#b3bada"/><rect x="738.5" width="8.5" height="8.5" fill="#9ca5ce"/><rect x="746.5" width="8.5" height="8.5" fill="#8791c2"/><rect x="754.5" width="8.5" height="8.5" fill="#737fb6"/></g>
<g transform="translate(0,232)"><rect x="186.5" width="8.5" height="8.5" fill="#45559d"/><rect x="194.5" width="8.5" height="8.5" fill="#45559d"/><rect x="202.5" width="8.5" height="8.5" fill="#45559d"/><rect x="210.5" width="8.5" height="8.5" fill="#49599f"/><rect x="218.5" width="8.5" height="8.5" fill="#5160a4"/><rect x="226.5" width="8.5" height="8.5" fill="#5a68a9"/><rect x="234.5" width="8.5" height="8.5" fill="#6573af"/><rect x="242.5" width="8.5" height="8.5" fill="#727fb6"/><rect x="250.5" width="8.5" height="8.5" fill="#818cbf"/><rect x="258.5" width="8.5" height="8.5" fill="#919bc8"/><rect x="266.5" width="8.5" height="8.5" fill="#a1aad1"/><rect x="274.5" width="8.5" height="8.5" fill="#b0b7d9"/><rect x="282.5" width="8.5" height="8.5" fill="#bdc3e0"/><rect x="290.5" width="8.5" height="8.5" fill="#c8cde6"/><rect x="298.5" width="8.5" height="8.5" fill="#d1d5eb"/><rect x="306.5" width="8.5" height="8.5" fill="#d7dbef"/><rect x="314.5" width="8.5" height="8.5" fill="#dcdff1"/><rect x="322.5" width="8.5" height="8.5" fill="#dee1f3"/><rect x="330.5" width="8.5" height="8.5" fill="#dee1f3"/><rect x="338.5" width="8.5" height="8.5" fill="#dcdff1"/><rect x="346.5" width="8.5" height="8.5" fill="#d8dcef"/><rect x="354.5" width="8.5" height="8.5" fill="#d5d9ee"/><rect x="362.5" width="8.5" height="8.5" fill="#d4d8ed"/><rect x="370.5" width="8.5" height="8.5" fill="#d4d8ed"/><rect x="378.5" width="8.5" height="8.5" fill="#d6daee"/><rect x="386.5" width="8.5" height="8.5" fill="#d8dcef"/><rect x="394.5" width="8.5" height="8.5" fill="#dbdff1"/><rect x="402.5" width="8.5" height="8.5" fill="#dee1f3"/><rect x="410.5" width="8.5" height="8.5" fill="#e0e3f4"/><rect x="418.5" width="8.5" height="8.5" fill="#e1e4f4"/><rect x="426.5" width="8.5" height="8.5" fill="#e0e3f4"/><rect x="434.5" width="8.5" height="8.5" fill="#dee1f2"/><rect x="442.5" width="8.5" height="8.5" fill="#dcdff1"/><rect x="450.5" width="8.5" height="8.5" fill="#dbdef1"/><rect x="458.5" width="8.5" height="8.5" fill="#dbdff1"/><rect x="466.5" width="8.5" height="8.5" fill="#dee1f3"/><rect x="474.5" width="8.5" height="8.5" fill="#e1e4f4"/><rect x="482.5" width="8.5" height="8.5" fill="#e4e7f6"/><rect x="490.5" width="8.5" height="8.5" fill="#e3e6f5"/><rect x="498.5" width="8.5" height="8.5" fill="#dde0f2"/><rect x="506.5" width="8.5" height="8.5" fill="#d2d6ec"/><rect x="514.5" width="8.5" height="8.5" fill="#c3c9e4"/><rect x="522.5" width="8.5" height="8.5" fill="#b2b9da"/><rect x="530.5" width="8.5" height="8.5" fill="#9ea6cf"/><rect x="538.5" width="8.5" height="8.5" fill="#8a94c3"/><rect x="546.5" width="8.5" height="8.5" fill="#7884ba"/><rect x="554.5" width="8.5" height="8.5" fill="#6c79b3"/><rect x="562.5" width="8.5" height="8.5" fill="#6774b0"/><rect x="570.5" width="8.5" height="8.5" fill="#6b77b2"/><rect x="578.5" width="8.5" height="8.5" fill="#7480b7"/><rect x="586.5" width="8.5" height="8.5" fill="#828dbf"/><rect x="594.5" width="8.5" height="8.5" fill="#929cc8"/><rect x="602.5" width="8.5" height="8.5" fill="#a4acd2"/><rect x="610.5" width="8.5" height="8.5" fill="#b6bcdc"/><rect x="618.5" width="8.5" height="8.5" fill="#c7cce6"/><rect x="626.5" width="8.5" height="8.5" fill="#d6daee"/><rect x="634.5" width="8.5" height="8.5" fill="#e0e3f4"/><rect x="642.5" width="8.5" height="8.5" fill="#e3e6f6"/><rect x="650.5" width="8.5" height="8.5" fill="#e1e4f4"/><rect x="658.5" width="8.5" height="8.5" fill="#dbdff1"/><rect x="666.5" width="8.5" height="8.5" fill="#d7dbef"/><rect x="674.5" width="8.5" height="8.5" fill="#d5d9ee"/><rect x="682.5" width="8.5" height="8.5" fill="#d7dbef"/><rect x="690.5" width="8.5" height="8.5" fill="#dcdff2"/><rect x="698.5" width="8.5" height="8.5" fill="#e0e3f4"/><rect x="706.5" width="8.5" height="8.5" fill="#dfe2f3"/><rect x="714.5" width="8.5" height="8.5" fill="#d5d9ee"/><rect x="722.5" width="8.5" height="8.5" fill="#c3c9e4"/><rect x="730.5" width="8.5" height="8.5" fill="#aeb5d8"/><rect x="738.5" width="8.5" height="8.5" fill="#97a0cb"/><rect x="746.5" width="8.5" height="8.5" fill="#818cbf"/><rect x="754.5" width="8.5" height="8.5" fill="#6e7bb4"/></g>
<g transform="translate(0,240)"><rect x="186.5" width="8.5" height="8.5" fill="#45559d"/><rect x="194.5" width="8.5" height="8.5" fill="#45559d"/><rect x="202.5" width="8.5" height="8.5" fill="#45559d"/><rect x="210.5" width="8.5" height="8.5" fill="#46569e"/><rect x="218.5" width="8.5" height="8.5" fill="#4d5ca1"/><rect x="226.5" width="8.5" height="8.5" fill="#5564a6"/><rect x="234.5" width="8.5" height="8.5" fill="#606dac"/><rect x="242.5" width="8.5" height="8.5" fill="#6c79b3"/><rect x="250.5" width="8.5" height="8.5" fill="#7a86bb"/><rect x="258.5" width="8.5" height="8.5" fill="#8a94c3"/><rect x="266.5" width="8.5" height="8.5" fill="#99a2cc"/><rect x="274.5" width="8.5" height="8.5" fill="#a9b0d5"/><rect x="282.5" width="8.5" height="8.5" fill="#b7bddd"/><rect x="290.5" width="8.5" height="8.5" fill="#c3c9e4"/><rect x="298.5" width="8.5" height="8.5" fill="#ced3ea"/><rect x="306.5" width="8.5" height="8.5" fill="#d7dbef"/><rect x="314.5" width="8.5" height="8.5" fill="#dee1f3"/><rect x="322.5" width="8.5" height="8.5" fill="#e2e5f5"/><rect x="330.5" width="8.5" height="8.5" fill="#e4e7f6"/><rect x="338.5" width="8.5" height="8.5" fill="#e3e6f5"/><rect x="346.5" width="8.5" height="8.5" fill="#e1e4f4"/><rect x="354.5" width="8.5" height="8.5" fill="#dee2f3"/><rect x="362.5" width="8.5" height="8.5" fill="#dce0f2"/><rect x="370.5" width="8.5" height="8.5" fill="#dbdef1"/><rect x="378.5" width="8.5" height="8.5" fill="#dadef1"/><rect x="386.5" width="8.5" height="8.5" fill="#dadef1"/><rect x="394.5" width="8.5" height="8.5" fill="#dbdff1"/><rect x="402.5" width="8.5" height="8.5" fill="#dee1f2"/><rect x="410.5" width="8.5" height="8.5" fill="#e0e3f4"/><rect x="418.5" width="8.5" height="8.5" fill="#e2e5f5"/><rect x="426.5" width="8.5" height="8.5" fill="#e1e4f4"/><rect x="434.5" width="8.5" height="8.5" fill="#dee2f3"/><rect x="442.5" width="8.5" height="8.5" fill="#dcdff1"/><rect x="450.5" width="8.5" height="8.5" fill="#dadef1"/><rect x="458.5" width="8.5" height="8.5" fill="#dbdff1"/><rect x="466.5" width="8.5" height="8.5" fill="#dee1f2"/><rect x="474.5" width="8.5" height="8.5" fill="#e2e5f5"/><rect x="482.5" width="8.5" height="8.5" fill="#e5e7f6"/><rect x="490.5" width="8.5" height="8.5" fill="#e4e7f6"/><rect x="498.5" width="8.5" height="8.5" fill="#dee2f3"/><rect x="506.5" width="8.5" height="8.5" fill="#d3d7ec"/><rect x="514.5" width="8.5" height="8.5" fill="#c3c9e4"/><rect x="522.5" width="8.5" height="8.5" fill="#b0b7d9"/><rect x="530.5" width="8.5" height="8.5" fill="#9aa3cd"/><rect x="538.5" width="8.5" height="8.5" fill="#858fc1"/><rect x="546.5" width="8.5" height="8.5" fill="#717eb6"/><rect x="554.5" width="8.5" height="8.5" fill="#6572af"/><rect x="562.5" width="8.5" height="8.5" fill="#606eac"/><rect x="570.5" width="8.5" height="8.5" fill="#6471ae"/><rect x="578.5" width="8.5" height="8.5" fill="#6e7bb4"/><rect x="586.5" width="8.5" height="8.5" fill="#7c87bc"/><rect x="594.5" width="8.5" height="8.5" fill="#8c96c5"/><rect x="602.5" width="8.5" height="8.5" fill="#9ca5ce"/><rect x="610.5" width="8.5" height="8.5" fill="#aeb5d8"/><rect x="618.5" width="8.5" height="8.5" fill="#c0c6e2"/><rect x="626.5" width="8.5" height="8.5" fill="#d1d5eb"/><rect x="634.5" width="8.5" height="8.5" fill="#dee1f2"/><rect x="642.5" width="8.5" height="8.5" fill="#e4e7f6"/><rect x="650.5" width="8.5" height="8.5" fill="#e4e7f6"/><rect x="658.5" width="8.5" height="8.5" fill="#e0e3f4"/><rect x="666.5" width="8.5" height="8.5" fill="#dce0f2"/><rect x="674.5" width="8.5" height="8.5" fill="#dcdff1"/><rect x="682.5" width="8.5" height="8.5" fill="#dee1f3"/><rect x="690.5" width="8.5" height="8.5" fill="#e2e5f5"/><rect x="698.5" width="8.5" height="8.5" fill="#e4e7f6"/><rect x="706.5" width="8.5" height="8.5" fill="#e0e3f4"/><rect x="714.5" width="8.5" height="8.5" fill="#d3d7ec"/><rect x="722.5" width="8.5" height="8.5" fill="#bfc5e1"/><rect x="730.5" width="8.5" height="8.5" fill="#a8b0d4"/><rect x="738.5" width="8.5" height="8.5" fill="#919bc8"/><rect x="746.5" width="8.5" height="8.5" fill="#7c88bc"/><rect x="754.5" width="8.5" height="8.5" fill="#6a77b2"/></g>
<g transform="translate(0,248)"><rect x="186.5" width="8.5" height="8.5" fill="#45559d"/><rect x="194.5" width="8.5" height="8.5" fill="#45559d"/><rect x="202.5" width="8.5" height="8.5" fill="#45559d"/><rect x="210.5" width="8.5" height="8.5" fill="#47579e"/><rect x="218.5" width="8.5" height="8.5" fill="#4d5ca1"/><rect x="226.5" width="8.5" height="8.5" fill="#5563a6"/><rect x="234.5" width="8.5" height="8.5" fill="#5e6cab"/><rect x="242.5" width="8.5" height="8.5" fill="#6976b1"/><rect x="250.5" width="8.5" height="8.5" fill="#7783b9"/><rect x="258.5" width="8.5" height="8.5" fill="#8590c1"/><rect x="266.5" width="8.5" height="8.5" fill="#959eca"/><rect x="274.5" width="8.5" height="8.5" fill="#a4acd2"/><rect x="282.5" width="8.5" height="8.5" fill="#b3bada"/><rect x="290.5" width="8.5" height="8.5" fill="#c0c6e2"/><rect x="298.5" width="8.5" height="8.5" fill="#cdd1e9"/><rect x="306.5" width="8.5" height="8.5" fill="#d7dbef"/><rect x="314.5" width="8.5" height="8.5" fill="#dfe3f3"/><rect x="322.5" width="8.5" height="8.5" fill="#e5e8f7"/><rect x="330.5" width="8.5" height="8.5" fill="#e8ebf8"/><rect x="338.5" width="8.5" height="8.5" fill="#e9ebf9"/><rect x="346.5" width="8.5" height="8.5" fill="#e8eaf8"/><rect x="354.5" width="8.5" height="8.5" fill="#e6e8f7"/><rect x="362.5" width="8.5" height="8.5" fill="#e3e5f5"/><rect x="370.5" width="8.5" height="8.5" fill="#dfe2f3"/><rect x="378.5" width="8.5" height="8.5" fill="#dcdff1"/><rect x="386.5" width="8.5" height="8.5" fill="#daddf0"/><rect x="394.5" width="8.5" height="8.5" fill="#daddf0"/><rect x="402.5" width="8.5" height="8.5" fill="#dde0f2"/><rect x="410.5" width="8.5" height="8.5" fill="#e2e5f5"/><rect x="418.5" width="8.5" height="8.5" fill="#e6e8f7"/><rect x="426.5" width="8.5" height="8.5" fill="#e5e8f6"/><rect x="434.5" width="8.5" height="8.5" fill="#e1e4f4"/><rect x="442.5" width="8.5" height="8.5" fill="#dce0f2"/><rect x="450.5" width="8.5" height="8.5" fill="#dadef0"/><rect x="458.5" width="8.5" height="8.5" fill="#dbdef1"/><rect x="466.5" width="8.5" height="8.5" fill="#dde0f2"/><rect x="474.5" width="8.5" height="8.5" fill="#e1e4f4"/><rect x="482.5" width="8.5" height="8.5" fill="#e4e7f6"/><rect x="490.5" width="8.5" height="8.5" fill="#e4e7f6"/><rect x="498.5" width="8.5" height="8.5" fill="#e0e3f4"/><rect x="506.5" width="8.5" height="8.5" fill="#d5d9ee"/><rect x="514.5" width="8.5" height="8.5" fill="#c6cbe5"/><rect x="522.5" width="8.5" height="8.5" fill="#b3badb"/><rect x="530.5" width="8.5" height="8.5" fill="#9ea6cf"/><rect x="538.5" width="8.5" height="8.5" fill="#8892c2"/><rect x="546.5" width="8.5" height="8.5" fill="#7581b8"/><rect x="554.5" width="8.5" height="8.5" fill="#6875b1"/><rect x="562.5" width="8.5" height="8.5" fill="#6471ae"/><rect x="570.5" width="8.5" height="8.5" fill="#6774b0"/><rect x="578.5" width="8.5" height="8.5" fill="#707cb5"/><rect x="586.5" width="8.5" height="8.5" fill="#7c87bc"/><rect x="594.5" width="8.5" height="8.5" fill="#8994c3"/><rect x="602.5" width="8.5" height="8.5" fill="#97a1cb"/><rect x="610.5" width="8.5" height="8.5" fill="#a7afd4"/><rect x="618.5" width="8.5" height="8.5" fill="#b7bedd"/><rect x="626.5" width="8.5" height="8.5" fill="#c7cce6"/><rect x="634.5" width="8.5" height="8.5" fill="#d5d9ee"/><rect x="642.5" width="8.5" height="8.5" fill="#dde1f2"/><rect x="650.5" width="8.5" height="8.5" fill="#e0e3f4"/><rect x="658.5" width="8.5" height="8.5" fill="#dfe2f3"/><rect x="666.5" width="8.5" height="8.5" fill="#dee1f3"/><rect x="674.5" width="8.5" height="8.5" fill="#dfe2f3"/><rect x="682.5" width="8.5" height="8.5" fill="#e3e6f5"/><rect x="690.5" width="8.5" height="8.5" fill="#e7e9f8"/><rect x="698.5" width="8.5" height="8.5" fill="#e8eaf8"/><rect x="706.5" width="8.5" height="8.5" fill="#e0e3f4"/><rect x="714.5" width="8.5" height="8.5" fill="#cfd4ea"/><rect x="722.5" width="8.5" height="8.5" fill="#bac0de"/><rect x="730.5" width="8.5" height="8.5" fill="#a2aad1"/><rect x="738.5" width="8.5" height="8.5" fill="#8c96c4"/><rect x="746.5" width="8.5" height="8.5" fill="#7783b9"/><rect x="754.5" width="8.5" height="8.5" fill="#6673af"/></g>
<g transform="translate(0,256)"><rect x="186.5" width="8.5" height="8.5" fill="#45559d"/><rect x="194.5" width="8.5" height="8.5" fill="#45559d"/><rect x="202.5" width="8.5" height="8.5" fill="#46569e"/><rect x="210.5" width="8.5" height="8.5" fill="#4b5aa0"/><rect x="218.5" width="8.5" height="8.5" fill="#5160a4"/><rect x="226.5" width="8.5" height="8.5" fill="#5866a8"/><rect x="234.5" width="8.5" height="8.5" fill="#606eac"/><rect x="242.5" width="8.5" height="8.5" fill="#6b78b2"/><rect x="250.5" width="8.5" height="8.5" fill="#7783b9"/><rect x="258.5" width="8.5" height="8.5" fill="#8590c1"/><rect x="266.5" width="8.5" height="8.5" fill="#949dc9"/><rect x="274.5" width="8.5" height="8.5" fill="#a3abd2"/><rect x="282.5" width="8.5" height="8.5" fill="#b2b9da"/><rect x="290.5" width="8.5" height="8.5" fill="#c0c6e2"/><rect x="298.5" width="8.5" height="8.5" fill="#cdd2e9"/><rect x="306.5" width="8.5" height="8.5" fill="#d8dcef"/><rect x="314.5" width="8.5" height="8.5" fill="#e1e4f4"/><rect x="322.5" width="8.5" height="8.5" fill="#e7eaf8"/><rect x="330.5" width="8.5" height="8.5" fill="#ebeefa"/><rect x="338.5" width="8.5" height="8.5" fill="#edeffb"/><rect x="346.5" width="8.5" height="8.5" fill="#edeffb"/><rect x="354.5" width="8.5" height="8.5" fill="#ebedfa"/><rect x="362.5" width="8.5" height="8.5" fill="#e6e9f7"/><rect x="370.5" width="8.5" height="8.5" fill="#e0e3f4"/><rect x="378.5" width="8.5" height="8.5" fill="#dbdef1"/><rect x="386.5" width="8.5" height="8.5" fill="#d7daee"/><rect x="394.5" width="8.5" height="8.5" fill="#d6daee"/><rect x="402.5" width="8.5" height="8.5" fill="#dbdff1"/><rect x="410.5" width="8.5" height="8.5" fill="#e4e7f6"/><rect x="418.5" width="8.5" height="8.5" fill="#eaecf9"/><rect x="426.5" width="8.5" height="8.5" fill="#eaecf9"/><rect x="434.5" width="8.5" height="8.5" fill="#e5e7f6"/><rect x="442.5" width="8.5" height="8.5" fill="#dfe2f3"/><rect x="450.5" width="8.5" height="8.5" fill="#dbdff1"/><rect x="458.5" width="8.5" height="8.5" fill="#dbdff1"/><rect x="466.5" width="8.5" height="8.5" fill="#dde0f2"/><rect x="474.5" width="8.5" height="8.5" fill="#e0e3f4"/><rect x="482.5" width="8.5" height="8.5" fill="#e3e6f5"/><rect x="490.5" width="8.5" height="8.5" fill="#e4e7f6"/><rect x="498.5" width="8.5" height="8.5" fill="#e1e4f4"/><rect x="506.5" width="8.5" height="8.5" fill="#d9dcf0"/><rect x="514.5" width="8.5" height="8.5" fill="#ccd0e8"/><rect x="522.5" width="8.5" height="8.5" fill="#bbc1df"/><rect x="530.5" width="8.5" height="8.5" fill="#a7afd4"/><rect x="538.5" width="8.5" height="8.5" fill="#939dc9"/><rect x="546.5" width="8.5" height="8.5" fill="#828dbf"/><rect x="554.5" width="8.5" height="8.5" fill="#7783b9"/><rect x="562.5" width="8.5" height="8.5" fill="#727fb6"/><rect x="570.5" width="8.5" height="8.5" fill="#7480b7"/><rect x="578.5" width="8.5" height="8.5" fill="#7a86bb"/><rect x="586.5" width="8.5" height="8.5" fill="#828dbf"/><rect x="594.5" width="8.5" height="8.5" fill="#8b95c4"/><rect x="602.5" width="8.5" height="8.5" fill="#949dc9"/><rect x="610.5" width="8.5" height="8.5" fill="#9fa7cf"/><rect x="618.5" width="8.5" height="8.5" fill="#abb3d6"/><rect x="626.5" width="8.5" height="8.5" fill="#b9bfde"/><rect x="634.5" width="8.5" height="8.5" fill="#c6cbe5"/><rect x="642.5" width="8.5" height="8.5" fill="#cfd4ea"/><rect x="650.5" width="8.5" height="8.5" fill="#d4d8ed"/><rect x="658.5" width="8.5" height="8.5" fill="#d7dbef"/><rect x="666.5" width="8.5" height="8.5" fill="#d9ddf0"/><rect x="674.5" width="8.5" height="8.5" fill="#dde0f2"/><rect x="682.5" width="8.5" height="8.5" fill="#e2e5f5"/><rect x="690.5" width="8.5" height="8.5" fill="#e6e9f7"/><rect x="698.5" width="8.5" height="8.5" fill="#e6e8f7"/><rect x="706.5" width="8.5" height="8.5" fill="#dbdff1"/><rect x="714.5" width="8.5" height="8.5" fill="#c9cee7"/><rect x="722.5" width="8.5" height="8.5" fill="#b2b9da"/><rect x="730.5" width="8.5" height="8.5" fill="#9ba4cd"/><rect x="738.5" width="8.5" height="8.5" fill="#8590c1"/><rect x="746.5" width="8.5" height="8.5" fill="#727eb6"/><rect x="754.5" width="8.5" height="8.5" fill="#626fad"/></g>
<g transform="translate(0,264)"><rect x="186.5" width="8.5" height="8.5" fill="#45559d"/><rect x="194.5" width="8.5" height="8.5" fill="#49589f"/><rect x="202.5" width="8.5" height="8.5" fill="#4d5ca2"/><rect x="210.5" width="8.5" height="8.5" fill="#5261a4"/><rect x="218.5" width="8.5" height="8.5" fill="#5867a8"/><rect x="226.5" width="8.5" height="8.5" fill="#5f6dab"/><rect x="234.5" width="8.5" height="8.5" fill="#6774b0"/><rect x="242.5" width="8.5" height="8.5" fill="#717db5"/><rect x="250.5" width="8.5" height="8.5" fill="#7c87bc"/><rect x="258.5" width="8.5" height="8.5" fill="#8993c3"/><rect x="266.5" width="8.5" height="8.5" fill="#97a1cb"/><rect x="274.5" width="8.5" height="8.5" fill="#a6aed4"/><rect x="282.5" width="8.5" height="8.5" fill="#b5bcdc"/><rect x="290.5" width="8.5" height="8.5" fill="#c3c9e4"/><rect x="298.5" width="8.5" height="8.5" fill="#cfd4ea"/><rect x="306.5" width="8.5" height="8.5" fill="#d9ddf0"/><rect x="314.5" width="8.5" height="8.5" fill="#e2e5f5"/><rect x="322.5" width="8.5" height="8.5" fill="#e8eaf8"/><rect x="330.5" width="8.5" height="8.5" fill="#edeffb"/><rect x="338.5" width="8.5" height="8.5" fill="#edeffb"/><rect x="346.5" width="8.5" height="8.5" fill="#edeffb"/><rect x="354.5" width="8.5" height="8.5" fill="#edeffb"/><rect x="362.5" width="8.5" height="8.5" fill="#e7e9f8"/><rect x="370.5" width="8.5" height="8.5" fill="#dfe2f3"/><rect x="378.5" width="8.5" height="8.5" fill="#d8dbef"/><rect x="386.5" width="8.5" height="8.5" fill="#d2d7ec"/><rect x="394.5" width="8.5" height="8.5" fill="#d2d6ec"/><rect x="402.5" width="8.5" height="8.5" fill="#d8dcef"/><rect x="410.5" width="8.5" height="8.5" fill="#e3e5f5"/><rect x="418.5" width="8.5" height="8.5" fill="#ebedfa"/><rect x="426.5" width="8.5" height="8.5" fill="#eceefa"/><rect x="434.5" width="8.5" height="8.5" fill="#e7e9f8"/><rect x="442.5" width="8.5" height="8.5" fill="#e1e4f4"/><rect x="450.5" width="8.5" height="8.5" fill="#dee1f2"/><rect x="458.5" width="8.5" height="8.5" fill="#dde0f2"/><rect x="466.5" width="8.5" height="8.5" fill="#dee1f2"/><rect x="474.5" width="8.5" height="8.5" fill="#dfe3f3"/><rect x="482.5" width="8.5" height="8.5" fill="#e2e5f5"/><rect x="490.5" width="8.5" height="8.5" fill="#e3e6f6"/><rect x="498.5" width="8.5" height="8.5" fill="#e2e5f5"/><rect x="506.5" width="8.5" height="8.5" fill="#dde0f2"/><rect x="514.5" width="8.5" height="8.5" fill="#d3d7ec"/><rect x="522.5" width="8.5" height="8.5" fill="#c5cbe5"/><rect x="530.5" width="8.5" height="8.5" fill="#b5bcdc"/><rect x="538.5" width="8.5" height="8.5" fill="#a5add3"/><rect x="546.5" width="8.5" height="8.5" fill="#98a1cb"/><rect x="554.5" width="8.5" height="8.5" fill="#8e98c6"/><rect x="562.5" width="8.5" height="8.5" fill="#8a94c4"/><rect x="570.5" width="8.5" height="8.5" fill="#8994c3"/><rect x="578.5" width="8.5" height="8.5" fill="#8b95c4"/><rect x="586.5" width="8.5" height="8.5" fill="#8d97c5"/><rect x="594.5" width="8.5" height="8.5" fill="#8e98c6"/><rect x="602.5" width="8.5" height="8.5" fill="#919ac7"/><rect x="610.5" width="8.5" height="8.5" fill="#959fca"/><rect x="618.5" width="8.5" height="8.5" fill="#9da6ce"/><rect x="626.5" width="8.5" height="8.5" fill="#a8afd4"/><rect x="634.5" width="8.5" height="8.5" fill="#b3bada"/><rect x="642.5" width="8.5" height="8.5" fill="#bcc2e0"/><rect x="650.5" width="8.5" height="8.5" fill="#c3c9e4"/><rect x="658.5" width="8.5" height="8.5" fill="#c8cde6"/><rect x="666.5" width="8.5" height="8.5" fill="#cdd2e9"/><rect x="674.5" width="8.5" height="8.5" fill="#d3d7ed"/><rect x="682.5" width="8.5" height="8.5" fill="#daddf0"/><rect x="690.5" width="8.5" height="8.5" fill="#dee1f2"/><rect x="698.5" width="8.5" height="8.5" fill="#dbdff1"/><rect x="706.5" width="8.5" height="8.5" fill="#d0d4eb"/><rect x="714.5" width="8.5" height="8.5" fill="#bdc3e0"/><rect x="722.5" width="8.5" height="8.5" fill="#a7aed4"/><rect x="730.5" width="8.5" height="8.5" fill="#919bc8"/><rect x="738.5" width="8.5" height="8.5" fill="#7d89bc"/><rect x="746.5" width="8.5" height="8.5" fill="#6c79b3"/><rect x="754.5" width="8.5" height="8.5" fill="#5e6cab"/></g>
<g transform="translate(0,272)"><rect x="186.5" width="8.5" height="8.5" fill="#4c5ca1"/><rect x="194.5" width="8.5" height="8.5" fill="#5160a4"/><rect x="202.5" width="8.5" height="8.5" fill="#5765a7"/><rect x="210.5" width="8.5" height="8.5" fill="#5d6baa"/><rect x="218.5" width="8.5" height="8.5" fill="#6370ae"/><rect x="226.5" width="8.5" height="8.5" fill="#6a77b2"/><rect x="234.5" width="8.5" height="8.5" fill="#717eb6"/><rect x="242.5" width="8.5" height="8.5" fill="#7a86bb"/><rect x="250.5" width="8.5" height="8.5" fill="#858fc1"/><rect x="258.5" width="8.5" height="8.5" fill="#919bc8"/><rect x="266.5" width="8.5" height="8.5" fill="#9fa7cf"/><rect x="274.5" width="8.5" height="8.5" fill="#adb5d7"/><rect x="282.5" width="8.5" height="8.5" fill="#bcc2df"/><rect x="290.5" width="8.5" height="8.5" fill="#c9cee7"/><rect x="298.5" width="8.5" height="8.5" fill="#d4d8ed"/><rect x="306.5" width="8.5" height="8.5" fill="#dce0f2"/><rect x="314.5" width="8.5" height="8.5" fill="#e3e6f5"/><rect x="322.5" width="8.5" height="8.5" fill="#e8ebf8"/><rect x="330.5" width="8.5" height="8.5" fill="#eceefb"/><rect x="338.5" width="8.5" height="8.5" fill="#edeffb"/><rect x="346.5" width="8.5" height="8.5" fill="#edeffb"/><rect x="354.5" width="8.5" height="8.5" fill="#eceefa"/><rect x="362.5" width="8.5" height="8.5" fill="#e5e8f7"/><rect x="370.5" width="8.5" height="8.5" fill="#dde0f2"/><rect x="378.5" width="8.5" height="8.5" fill="#d4d8ed"/><rect x="386.5" width="8.5" height="8.5" fill="#ced3ea"/><rect x="394.5" width="8.5" height="8.5" fill="#cdd2e9"/><rect x="402.5" width="8.5" height="8.5" fill="#d3d7ed"/><rect x="410.5" width="8.5" height="8.5" fill="#dde0f2"/><rect x="418.5" width="8.5" height="8.5" fill="#e6e8f7"/><rect x="426.5" width="8.5" height="8.5" fill="#e9ebf9"/><rect x="434.5" width="8.5" height="8.5" fill="#e6e9f7"/><rect x="442.5" width="8.5" height="8.5" fill="#e3e6f5"/><rect x="450.5" width="8.5" height="8.5" fill="#e0e3f4"/><rect x="458.5" width="8.5" height="8.5" fill="#dfe2f3"/><rect x="466.5" width="8.5" height="8.5" fill="#dfe2f3"/><rect x="474.5" width="8.5" height="8.5" fill="#dfe2f3"/><rect x="482.5" width="8.5" height="8.5" fill="#e0e3f4"/><rect x="490.5" width="8.5" height="8.5" fill="#e2e5f5"/><rect x="498.5" width="8.5" height="8.5" fill="#e3e6f5"/><rect x="506.5" width="8.5" height="8.5" fill="#e1e4f4"/><rect x="514.5" width="8.5" height="8.5" fill="#dbdef1"/><rect x="522.5" width="8.5" height="8.5" fill="#d1d5eb"/><rect x="530.5" width="8.5" height="8.5" fill="#c6cbe5"/><rect x="538.5" width="8.5" height="8.5" fill="#bac0df"/><rect x="546.5" width="8.5" height="8.5" fill="#b1b8d9"/><rect x="554.5" width="8.5" height="8.5" fill="#aab1d5"/><rect x="562.5" width="8.5" height="8.5" fill="#a5add3"/><rect x="570.5" width="8.5" height="8.5" fill="#a2aad1"/><rect x="578.5" width="8.5" height="8.5" fill="#9ea7cf"/><rect x="586.5" width="8.5" height="8.5" fill="#99a2cc"/><rect x="594.5" width="8.5" height="8.5" fill="#939dc9"/><rect x="602.5" width="8.5" height="8.5" fill="#8e98c6"/><rect x="610.5" width="8.5" height="8.5" fill="#8c96c5"/><rect x="618.5" width="8.5" height="8.5" fill="#8f99c6"/><rect x="626.5" width="8.5" height="8.5" fill="#969fca"/><rect x="634.5" width="8.5" height="8.5" fill="#9fa8d0"/><rect x="642.5" width="8.5" height="8.5" fill="#a8b0d5"/><rect x="650.5" width="8.5" height="8.5" fill="#b0b7d9"/><rect x="658.5" width="8.5" height="8.5" fill="#b7bddd"/><rect x="666.5" width="8.5" height="8.5" fill="#bdc3e0"/><rect x="674.5" width="8.5" height="8.5" fill="#c4cae4"/><rect x="682.5" width="8.5" height="8.5" fill="#cacfe8"/><rect x="690.5" width="8.5" height="8.5" fill="#cdd2e9"/><rect x="698.5" width="8.5" height="8.5" fill="#c9cee7"/><rect x="706.5" width="8.5" height="8.5" fill="#bdc3e0"/><rect x="714.5" width="8.5" height="8.5" fill="#aab2d6"/><rect x="722.5" width="8.5" height="8.5" fill="#97a0cb"/><rect x="730.5" width="8.5" height="8.5" fill="#848fc0"/><rect x="738.5" width="8.5" height="8.5" fill="#7480b7"/><rect x="746.5" width="8.5" height="8.5" fill="#6573af"/><rect x="754.5" width="8.5" height="8.5" fill="#5968a8"/></g>
<g transform="translate(0,280)"><rect x="186.5" width="8.5" height="8.5" fill="#5564a6"/><rect x="194.5" width="8.5" height="8.5" fill="#5c6aaa"/><rect x="202.5" width="8.5" height="8.5" fill="#6370ae"/><rect x="210.5" width="8.5" height="8.5" fill="#6a77b2"/><rect x="218.5" width="8.5" height="8.5" fill="#717db6"/><rect x="226.5" width="8.5" height="8.5" fill="#7884ba"/><rect x="234.5" width="8.5" height="8.5" fill="#7f8abe"/><rect x="242.5" width="8.5" height="8.5" fill="#8792c2"/><rect x="250.5" width="8.5" height="8.5" fill="#919bc8"/><rect x="258.5" width="8.5" height="8.5" fill="#9ca5ce"/><rect x="266.5" width="8.5" height="8.5" fill="#a9b1d5"/><rect x="274.5" width="8.5" height="8.5" fill="#b7bedd"/><rect x="282.5" width="8.5" height="8.5" fill="#c5cae5"/><rect x="290.5" width="8.5" height="8.5" fill="#d1d5eb"/><rect x="298.5" width="8.5" height="8.5" fill="#daddf0"/><rect x="306.5" width="8.5" height="8.5" fill="#e0e3f4"/><rect x="314.5" width="8.5" height="8.5" fill="#e4e7f6"/><rect x="322.5" width="8.5" height="8.5" fill="#e8eaf8"/><rect x="330.5" width="8.5" height="8.5" fill="#ebedfa"/><rect x="338.5" width="8.5" height="8.5" fill="#edeffb"/><rect x="346.5" width="8.5" height="8.5" fill="#edeffb"/><rect x="354.5" width="8.5" height="8.5" fill="#e9ebf9"/><rect x="362.5" width="8.5" height="8.5" fill="#e2e5f5"/><rect x="370.5" width="8.5" height="8.5" fill="#d9ddf0"/><rect x="378.5" width="8.5" height="8.5" fill="#d1d5eb"/><rect x="386.5" width="8.5" height="8.5" fill="#cbd0e8"/><rect x="394.5" width="8.5" height="8.5" fill="#cacfe7"/><rect x="402.5" width="8.5" height="8.5" fill="#ced3ea"/><rect x="410.5" width="8.5" height="8.5" fill="#d6daee"/><rect x="418.5" width="8.5" height="8.5" fill="#dee1f3"/><rect x="426.5" width="8.5" height="8.5" fill="#e3e6f5"/><rect x="434.5" width="8.5" height="8.5" fill="#e4e7f6"/><rect x="442.5" width="8.5" height="8.5" fill="#e4e7f6"/><rect x="450.5" width="8.5" height="8.5" fill="#e3e6f5"/><rect x="458.5" width="8.5" height="8.5" fill="#e1e4f4"/><rect x="466.5" width="8.5" height="8.5" fill="#dfe2f3"/><rect x="474.5" width="8.5" height="8.5" fill="#dde1f2"/><rect x="482.5" width="8.5" height="8.5" fill="#dee1f3"/><rect x="490.5" width="8.5" height="8.5" fill="#e0e3f4"/><rect x="498.5" width="8.5" height="8.5" fill="#e2e5f5"/><rect x="506.5" width="8.5" height="8.5" fill="#e3e6f5"/><rect x="514.5" width="8.5" height="8.5" fill="#e1e4f4"/><rect x="522.5" width="8.5" height="8.5" fill="#dcdff1"/><rect x="530.5" width="8.5" height="8.5" fill="#d5d9ed"/><rect x="538.5" width="8.5" height="8.5" fill="#ced2ea"/><rect x="546.5" width="8.5" height="8.5" fill="#c8cde6"/><rect x="554.5" width="8.5" height="8.5" fill="#c3c9e4"/><rect x="562.5" width="8.5" height="8.5" fill="#bfc5e1"/><rect x="570.5" width="8.5" height="8.5" fill="#b9bfde"/><rect x="578.5" width="8.5" height="8.5" fill="#b0b7d9"/><rect x="586.5" width="8.5" height="8.5" fill="#a5add3"/><rect x="594.5" width="8.5" height="8.5" fill="#98a1cc"/><rect x="602.5" width="8.5" height="8.5" fill="#8d97c5"/><rect x="610.5" width="8.5" height="8.5" fill="#8690c1"/><rect x="618.5" width="8.5" height="8.5" fill="#848fc0"/><rect x="626.5" width="8.5" height="8.5" fill="#8892c2"/><rect x="634.5" width="8.5" height="8.5" fill="#8f99c7"/><rect x="642.5" width="8.5" height="8.5" fill="#97a0cb"/><rect x="650.5" width="8.5" height="8.5" fill="#9fa7cf"/><rect x="658.5" width="8.5" height="8.5" fill="#a5add3"/><rect x="666.5" width="8.5" height="8.5" fill="#acb3d7"/><rect x="674.5" width="8.5" height="8.5" fill="#b3bada"/><rect x="682.5" width="8.5" height="8.5" fill="#b8bedd"/><rect x="690.5" width="8.5" height="8.5" fill="#b9bfde"/><rect x="698.5" width="8.5" height="8.5" fill="#b3b9da"/><rect x="706.5" width="8.5" height="8.5" fill="#a5add3"/><rect x="714.5" width="8.5" height="8.5" fill="#959eca"/><rect x="722.5" width="8.5" height="8.5" fill="#848ec0"/><rect x="730.5" width="8.5" height="8.5" fill="#7581b8"/><rect x="738.5" width="8.5" height="8.5" fill="#6976b1"/><rect x="746.5" width="8.5" height="8.5" fill="#5e6cab"/><rect x="754.5" width="8.5" height="8.5" fill="#5564a6"/></g>
<g transform="translate(0,288)"><rect x="186.5" width="8.5" height="8.5" fill="#5e6cab"/><rect x="194.5" width="8.5" height="8.5" fill="#6774b0"/><rect x="202.5" width="8.5" height="8.5" fill="#707db5"/><rect x="210.5" width="8.5" height="8.5" fill="#7a85ba"/><rect x="218.5" width="8.5" height="8.5" fill="#828dbf"/><rect x="226.5" width="8.5" height="8.5" fill="#8a94c3"/><rect x="234.5" width="8.5" height="8.5" fill="#919ac7"/><rect x="242.5" width="8.5" height="8.5" fill="#98a1cb"/><rect x="250.5" width="8.5" height="8.5" fill="#a0a8d0"/><rect x="258.5" width="8.5" height="8.5" fill="#aab2d6"/><rect x="266.5" width="8.5" height="8.5" fill="#b6bcdc"/><rect x="274.5" width="8.5" height="8.5" fill="#c3c8e3"/><rect x="282.5" width="8.5" height="8.5" fill="#cfd3ea"/><rect x="290.5" width="8.5" height="8.5" fill="#d9ddf0"/><rect x="298.5" width="8.5" height="8.5" fill="#e0e3f4"/><rect x="306.5" width="8.5" height="8.5" fill="#e3e6f6"/><rect x="314.5" width="8.5" height="8.5" fill="#e5e8f7"/><rect x="322.5" width="8.5" height="8.5" fill="#e6e9f7"/><rect x="330.5" width="8.5" height="8.5" fill="#e8eaf8"/><rect x="338.5" width="8.5" height="8.5" fill="#e9ebf9"/><rect x="346.5" width="8.5" height="8.5" fill="#e9ebf9"/><rect x="354.5" width="8.5" height="8.5" fill="#e5e8f6"/><rect x="362.5" width="8.5" height="8.5" fill="#dee1f3"/><rect x="370.5" width="8.5" height="8.5" fill="#d6daee"/><rect x="378.5" width="8.5" height="8.5" fill="#cfd3ea"/><rect x="386.5" width="8.5" height="8.5" fill="#cacfe7"/><rect x="394.5" width="8.5" height="8.5" fill="#c8cee7"/><rect x="402.5" width="8.5" height="8.5" fill="#ccd0e8"/><rect x="410.5" width="8.5" height="8.5" fill="#d2d6ec"/><rect x="418.5" width="8.5" height="8.5" fill="#daddf0"/><rect x="426.5" width="8.5" height="8.5" fill="#e0e3f4"/><rect x="434.5" width="8.5" height="8.5" fill="#e4e7f6"/><rect x="442.5" width="8.5" height="8.5" fill="#e5e8f7"/><rect x="450.5" width="8.5" height="8.5" fill="#e4e6f6"/><rect x="458.5" width="8.5" height="8.5" fill="#e0e3f4"/><rect x="466.5" width="8.5" height="8.5" fill="#dce0f2"/><rect x="474.5" width="8.5" height="8.5" fill="#daddf0"/><rect x="482.5" width="8.5" height="8.5" fill="#daddf0"/><rect x="490.5" width="8.5" height="8.5" fill="#dcdff1"/><rect x="498.5" width="8.5" height="8.5" fill="#e0e3f4"/><rect x="506.5" width="8.5" height="8.5" fill="#e3e6f5"/><rect x="514.5" width="8.5" height="8.5" fill="#e4e7f6"/><rect x="522.5" width="8.5" height="8.5" fill="#e2e5f5"/><rect x="530.5" width="8.5" height="8.5" fill="#dfe2f3"/><rect x="538.5" width="8.5" height="8.5" fill="#dcdff1"/><rect x="546.5" width="8.5" height="8.5" fill="#d9ddf0"/><rect x="554.5" width="8.5" height="8.5" fill="#d6daee"/><rect x="562.5" width="8.5" height="8.5" fill="#d2d6ec"/><rect x="570.5" width="8.5" height="8.5" fill="#cacfe8"/><rect x="578.5" width="8.5" height="8.5" fill="#bec4e1"/><rect x="586.5" width="8.5" height="8.5" fill="#afb6d8"/><rect x="594.5" width="8.5" height="8.5" fill="#9ea7cf"/><rect x="602.5" width="8.5" height="8.5" fill="#8f99c6"/><rect x="610.5" width="8.5" height="8.5" fill="#848fc0"/><rect x="618.5" width="8.5" height="8.5" fill="#7f8abe"/><rect x="626.5" width="8.5" height="8.5" fill="#818cbe"/><rect x="634.5" width="8.5" height="8.5" fill="#8690c1"/><rect x="642.5" width="8.5" height="8.5" fill="#8c96c4"/><rect x="650.5" width="8.5" height="8.5" fill="#919bc7"/><rect x="658.5" width="8.5" height="8.5" fill="#969fca"/><rect x="666.5" width="8.5" height="8.5" fill="#9ca4cd"/><rect x="674.5" width="8.5" height="8.5" fill="#a2aad1"/><rect x="682.5" width="8.5" height="8.5" fill="#a6aed3"/><rect x="690.5" width="8.5" height="8.5" fill="#a5add3"/><rect x="698.5" width="8.5" height="8.5" fill="#9da5ce"/><rect x="706.5" width="8.5" height="8.5" fill="#8f99c6"/><rect x="714.5" width="8.5" height="8.5" fill="#7f8abe"/><rect x="722.5" width="8.5" height="8.5" fill="#717db6"/><rect x="730.5" width="8.5" height="8.5" fill="#6673b0"/><rect x="738.5" width="8.5" height="8.5" fill="#5e6cab"/><rect x="746.5" width="8.5" height="8.5" fill="#5765a7"/><rect x="754.5" width="8.5" height="8.5" fill="#5060a3"/></g>
<g transform="translate(0,296)"><rect x="186.5" width="8.5" height="8.5" fill="#6875b1"/><rect x="194.5" width="8.5" height="8.5" fill="#737fb7"/><rect x="202.5" width="8.5" height="8.5" fill="#7f8abe"/><rect x="210.5" width="8.5" height="8.5" fill="#8b95c4"/><rect x="218.5" width="8.5" height="8.5" fill="#959fca"/><rect x="226.5" width="8.5" height="8.5" fill="#9ea6cf"/><rect x="234.5" width="8.5" height="8.5" fill="#a5add2"/><rect x="242.5" width="8.5" height="8.5" fill="#aab2d6"/><rect x="250.5" width="8.5" height="8.5" fill="#b1b8d9"/><rect x="258.5" width="8.5" height="8.5" fill="#b9bfde"/><rect x="266.5" width="8.5" height="8.5" fill="#c2c8e3"/><rect x="274.5" width="8.5" height="8.5" fill="#cdd2e9"/><rect x="282.5" width="8.5" height="8.5" fill="#d8dcef"/><rect x="290.5" width="8.5" height="8.5" fill="#e0e3f4"/><rect x="298.5" width="8.5" height="8.5" fill="#e5e7f6"/><rect x="306.5" width="8.5" height="8.5" fill="#e6e8f7"/><rect x="314.5" width="8.5" height="8.5" fill="#e5e8f7"/><rect x="322.5" width="8.5" height="8.5" fill="#e5e7f6"/><rect x="330.5" width="8.5" height="8.5" fill="#e5e8f6"/><rect x="338.5" width="8.5" height="8.5" fill="#e5e8f7"/><rect x="346.5" width="8.5" height="8.5" fill="#e4e7f6"/><rect x="354.5" width="8.5" height="8.5" fill="#e1e4f4"/><rect x="362.5" width="8.5" height="8.5" fill="#dbdef1"/><rect x="370.5" width="8.5" height="8.5" fill="#d4d8ed"/><rect x="378.5" width="8.5" height="8.5" fill="#ced3ea"/><rect x="386.5" width="8.5" height="8.5" fill="#cbcfe8"/><rect x="394.5" width="8.5" height="8.5" fill="#cacfe7"/><rect x="402.5" width="8.5" height="8.5" fill="#cdd2e9"/><rect x="410.5" width="8.5" height="8.5" fill="#d3d7ec"/><rect x="418.5" width="8.5" height="8.5" fill="#dadef1"/><rect x="426.5" width="8.5" height="8.5" fill="#e1e4f4"/><rect x="434.5" width="8.5" height="8.5" fill="#e5e8f7"/><rect x="442.5" width="8.5" height="8.5" fill="#e6e9f7"/><rect x="450.5" width="8.5" height="8.5" fill="#e3e5f5"/><rect x="458.5" width="8.5" height="8.5" fill="#dde0f2"/><rect x="466.5" width="8.5" height="8.5" fill="#d8dbef"/><rect x="474.5" width="8.5" height="8.5" fill="#d4d8ed"/><rect x="482.5" width="8.5" height="8.5" fill="#d4d8ed"/><rect x="490.5" width="8.5" height="8.5" fill="#d7dbef"/><rect x="498.5" width="8.5" height="8.5" fill="#dbdff1"/><rect x="506.5" width="8.5" height="8.5" fill="#e0e3f4"/><rect x="514.5" width="8.5" height="8.5" fill="#e3e5f5"/><rect x="522.5" width="8.5" height="8.5" fill="#e3e6f6"/><rect x="530.5" width="8.5" height="8.5" fill="#e2e5f5"/><rect x="538.5" width="8.5" height="8.5" fill="#e1e4f4"/><rect x="546.5" width="8.5" height="8.5" fill="#e0e3f4"/><rect x="554.5" width="8.5" height="8.5" fill="#dee1f3"/><rect x="562.5" width="8.5" height="8.5" fill="#dadef1"/><rect x="570.5" width="8.5" height="8.5" fill="#d2d7ec"/><rect x="578.5" width="8.5" height="8.5" fill="#c6cbe5"/><rect x="586.5" width="8.5" height="8.5" fill="#b6bcdc"/><rect x="594.5" width="8.5" height="8.5" fill="#a4acd2"/><rect x="602.5" width="8.5" height="8.5" fill="#959eca"/><rect x="610.5" width="8.5" height="8.5" fill="#8993c3"/><rect x="618.5" width="8.5" height="8.5" fill="#838dbf"/><rect x="626.5" width="8.5" height="8.5" fill="#828dbf"/><rect x="634.5" width="8.5" height="8.5" fill="#848fc0"/><rect x="642.5" width="8.5" height="8.5" fill="#8791c2"/><rect x="650.5" width="8.5" height="8.5" fill="#8993c3"/><rect x="658.5" width="8.5" height="8.5" fill="#8b95c4"/><rect x="666.5" width="8.5" height="8.5" fill="#8f99c6"/><rect x="674.5" width="8.5" height="8.5" fill="#949dc9"/><rect x="682.5" width="8.5" height="8.5" fill="#97a0cb"/><rect x="690.5" width="8.5" height="8.5" fill="#959eca"/><rect x="698.5" width="8.5" height="8.5" fill="#8c96c5"/><rect x="706.5" width="8.5" height="8.5" fill="#7e89bd"/><rect x="714.5" width="8.5" height="8.5" fill="#6f7cb5"/><rect x="722.5" width="8.5" height="8.5" fill="#6371ae"/><rect x="730.5" width="8.5" height="8.5" fill="#5b69a9"/><rect x="738.5" width="8.5" height="8.5" fill="#5564a6"/><rect x="746.5" width="8.5" height="8.5" fill="#5160a4"/><rect x="754.5" width="8.5" height="8.5" fill="#4d5ca1"/></g>
<g transform="translate(0,304)"><rect x="186.5" width="8.5" height="8.5" fill="#717eb6"/><rect x="194.5" width="8.5" height="8.5" fill="#7f8abe"/><rect x="202.5" width="8.5" height="8.5" fill="#8e98c6"/><rect x="210.5" width="8.5" height="8.5" fill="#9da6ce"/><rect x="218.5" width="8.5" height="8.5" fill="#aab1d5"/><rect x="226.5" width="8.5" height="8.5" fill="#b3badb"/><rect x="234.5" width="8.5" height="8.5" fill="#bac0de"/><rect x="242.5" width="8.5" height="8.5" fill="#bec4e1"/><rect x="250.5" width="8.5" height="8.5" fill="#c2c7e3"/><rect x="258.5" width="8.5" height="8.5" fill="#c7cce6"/><rect x="266.5" width="8.5" height="8.5" fill="#ced2e9"/><rect x="274.5" width="8.5" height="8.5" fill="#d6daee"/><rect x="282.5" width="8.5" height="8.5" fill="#dee1f3"/><rect x="290.5" width="8.5" height="8.5" fill="#e4e7f6"/><rect x="298.5" width="8.5" height="8.5" fill="#e6e9f7"/><rect x="306.5" width="8.5" height="8.5" fill="#e6e9f7"/><rect x="314.5" width="8.5" height="8.5" fill="#e4e7f6"/><rect x="322.5" width="8.5" height="8.5" fill="#e3e6f5"/><rect x="330.5" width="8.5" height="8.5" fill="#e3e6f5"/><rect x="338.5" width="8.5" height="8.5" fill="#e3e5f5"/><rect x="346.5" width="8.5" height="8.5" fill="#e1e4f4"/><rect x="354.5" width="8.5" height="8.5" fill="#dee1f3"/><rect x="362.5" width="8.5" height="8.5" fill="#d9ddf0"/><rect x="370.5" width="8.5" height="8.5" fill="#d4d8ed"/><rect x="378.5" width="8.5" height="8.5" fill="#d0d4eb"/><rect x="386.5" width="8.5" height="8.5" fill="#cdd2e9"/><rect x="394.5" width="8.5" height="8.5" fill="#ced2ea"/><rect x="402.5" width="8.5" height="8.5" fill="#d1d6ec"/><rect x="410.5" width="8.5" height="8.5" fill="#d7dbef"/><rect x="418.5" width="8.5" height="8.5" fill="#dfe2f3"/><rect x="426.5" width="8.5" height="8.5" fill="#e4e7f6"/><rect x="434.5" width="8.5" height="8.5" fill="#e7eaf8"/><rect x="442.5" width="8.5" height="8.5" fill="#e5e8f7"/><rect x="450.5" width="8.5" height="8.5" fill="#e0e3f3"/><rect x="458.5" width="8.5" height="8.5" fill="#d8dcef"/><rect x="466.5" width="8.5" height="8.5" fill="#d2d6ec"/><rect x="474.5" width="8.5" height="8.5" fill="#ced3ea"/><rect x="482.5" width="8.5" height="8.5" fill="#ced3ea"/><rect x="490.5" width="8.5" height="8.5" fill="#d1d5eb"/><rect x="498.5" width="8.5" height="8.5" fill="#d6daee"/><rect x="506.5" width="8.5" height="8.5" fill="#dbdef1"/><rect x="514.5" width="8.5" height="8.5" fill="#dee1f2"/><rect x="522.5" width="8.5" height="8.5" fill="#dfe2f3"/><rect x="530.5" width="8.5" height="8.5" fill="#dee1f3"/><rect x="538.5" width="8.5" height="8.5" fill="#dde0f2"/><rect x="546.5" width="8.5" height="8.5" fill="#dce0f2"/><rect x="554.5" width="8.5" height="8.5" fill="#dbdef1"/><rect x="562.5" width="8.5" height="8.5" fill="#d8dcef"/><rect x="570.5" width="8.5" height="8.5" fill="#d2d6ec"/><rect x="578.5" width="8.5" height="8.5" fill="#c8cde6"/><rect x="586.5" width="8.5" height="8.5" fill="#bac1df"/><rect x="594.5" width="8.5" height="8.5" fill="#acb3d6"/><rect x="602.5" width="8.5" height="8.5" fill="#9ea7cf"/><rect x="610.5" width="8.5" height="8.5" fill="#949dc9"/><rect x="618.5" width="8.5" height="8.5" fill="#8e97c6"/><rect x="626.5" width="8.5" height="8.5" fill="#8b95c4"/><rect x="634.5" width="8.5" height="8.5" fill="#8b95c4"/><rect x="642.5" width="8.5" height="8.5" fill="#8a95c4"/><rect x="650.5" width="8.5" height="8.5" fill="#8993c3"/><rect x="658.5" width="8.5" height="8.5" fill="#8892c2"/><rect x="666.5" width="8.5" height="8.5" fill="#8a94c3"/><rect x="674.5" width="8.5" height="8.5" fill="#8d97c5"/><rect x="682.5" width="8.5" height="8.5" fill="#9099c7"/><rect x="690.5" width="8.5" height="8.5" fill="#8d97c5"/><rect x="698.5" width="8.5" height="8.5" fill="#838ec0"/><rect x="706.5" width="8.5" height="8.5" fill="#7581b8"/><rect x="714.5" width="8.5" height="8.5" fill="#6774b0"/><rect x="722.5" width="8.5" height="8.5" fill="#5c6aaa"/><rect x="730.5" width="8.5" height="8.5" fill="#5563a6"/><rect x="738.5" width="8.5" height="8.5" fill="#5160a3"/><rect x="746.5" width="8.5" height="8.5" fill="#4d5da2"/><rect x="754.5" width="8.5" height="8.5" fill="#4a5aa0"/></g>
<g transform="translate(0,312)"><rect x="186.5" width="8.5" height="8.5" fill="#7984ba"/><rect x="194.5" width="8.5" height="8.5" fill="#8994c3"/><rect x="202.5" width="8.5" height="8.5" fill="#9ca4cd"/><rect x="210.5" width="8.5" height="8.5" fill="#aeb5d8"/><rect x="218.5" width="8.5" height="8.5" fill="#bdc3e0"/><rect x="226.5" width="8.5" height="8.5" fill="#c9cee7"/><rect x="234.5" width="8.5" height="8.5" fill="#cfd3ea"/><rect x="242.5" width="8.5" height="8.5" fill="#d1d5eb"/><rect x="250.5" width="8.5" height="8.5" fill="#d2d6ec"/><rect x="258.5" width="8.5" height="8.5" fill="#d3d7ed"/><rect x="266.5" width="8.5" height="8.5" fill="#d6daee"/><rect x="274.5" width="8.5" height="8.5" fill="#dbdff1"/><rect x="282.5" width="8.5" height="8.5" fill="#e0e3f4"/><rect x="290.5" width="8.5" height="8.5" fill="#e4e7f6"/><rect x="298.5" width="8.5" height="8.5" fill="#e5e8f7"/><rect x="306.5" width="8.5" height="8.5" fill="#e5e7f6"/><rect x="314.5" width="8.5" height="8.5" fill="#e3e6f6"/><rect x="322.5" width="8.5" height="8.5" fill="#e3e5f5"/><rect x="330.5" width="8.5" height="8.5" fill="#e2e5f5"/><rect x="338.5" width="8.5" height="8.5" fill="#e2e5f5"/><rect x="346.5" width="8.5" height="8.5" fill="#e1e4f4"/><rect x="354.5" width="8.5" height="8.5" fill="#dee2f3"/><rect x="362.5" width="8.5" height="8.5" fill="#dadef1"/><rect x="370.5" width="8.5" height="8.5" fill="#d6daee"/><rect x="378.5" width="8.5" height="8.5" fill="#d3d7ec"/><rect x="386.5" width="8.5" height="8.5" fill="#d2d6ec"/><rect x="394.5" width="8.5" height="8.5" fill="#d3d7ed"/><rect x="402.5" width="8.5" height="8.5" fill="#d7dbef"/><rect x="410.5" width="8.5" height="8.5" fill="#dde0f2"/><rect x="418.5" width="8.5" height="8.5" fill="#e3e6f6"/><rect x="426.5" width="8.5" height="8.5" fill="#e8eaf8"/><rect x="434.5" width="8.5" height="8.5" fill="#e8eaf8"/><rect x="442.5" width="8.5" height="8.5" fill="#e3e6f5"/><rect x="450.5" width="8.5" height="8.5" fill="#dbdff1"/><rect x="458.5" width="8.5" height="8.5" fill="#d3d7ed"/><rect x="466.5" width="8.5" height="8.5" fill="#cdd2e9"/><rect x="474.5" width="8.5" height="8.5" fill="#cacfe7"/><rect x="482.5" width="8.5" height="8.5" fill="#cacfe7"/><rect x="490.5" width="8.5" height="8.5" fill="#cdd2e9"/><rect x="498.5" width="8.5" height="8.5" fill="#d1d6eb"/><rect x="506.5" width="8.5" height="8.5" fill="#d5d9ee"/><rect x="514.5" width="8.5" height="8.5" fill="#d7dbef"/><rect x="522.5" width="8.5" height="8.5" fill="#d8dbef"/><rect x="530.5" width="8.5" height="8.5" fill="#d6daee"/><rect x="538.5" width="8.5" height="8.5" fill="#d4d8ed"/><rect x="546.5" width="8.5" height="8.5" fill="#d3d7ec"/><rect x="554.5" width="8.5" height="8.5" fill="#d1d6ec"/><rect x="562.5" width="8.5" height="8.5" fill="#cfd4ea"/><rect x="570.5" width="8.5" height="8.5" fill="#ccd1e8"/><rect x="578.5" width="8.5" height="8.5" fill="#c6cbe5"/><rect x="586.5" width="8.5" height="8.5" fill="#bec4e0"/><rect x="594.5" width="8.5" height="8.5" fill="#b4bbdb"/><rect x="602.5" width="8.5" height="8.5" fill="#abb2d6"/><rect x="610.5" width="8.5" height="8.5" fill="#a3abd2"/><rect x="618.5" width="8.5" height="8.5" fill="#9ea7cf"/><rect x="626.5" width="8.5" height="8.5" fill="#9ca4cd"/><rect x="634.5" width="8.5" height="8.5" fill="#9aa3cc"/><rect x="642.5" width="8.5" height="8.5" fill="#97a0cb"/><rect x="650.5" width="8.5" height="8.5" fill="#939cc8"/><rect x="658.5" width="8.5" height="8.5" fill="#8f99c7"/><rect x="666.5" width="8.5" height="8.5" fill="#8f98c6"/><rect x="674.5" width="8.5" height="8.5" fill="#909ac7"/><rect x="682.5" width="8.5" height="8.5" fill="#919bc8"/><rect x="690.5" width="8.5" height="8.5" fill="#8d97c5"/><rect x="698.5" width="8.5" height="8.5" fill="#838ec0"/><rect x="706.5" width="8.5" height="8.5" fill="#7581b8"/><rect x="714.5" width="8.5" height="8.5" fill="#6674b0"/><rect x="722.5" width="8.5" height="8.5" fill="#5b69a9"/><rect x="730.5" width="8.5" height="8.5" fill="#5462a5"/><rect x="738.5" width="8.5" height="8.5" fill="#4f5ea3"/><rect x="746.5" width="8.5" height="8.5" fill="#4c5ba1"/><rect x="754.5" width="8.5" height="8.5" fill="#49599f"/></g>
<g transform="translate(0,320)"><rect x="186.5" width="8.5" height="8.5" fill="#7e89bd"/><rect x="194.5" width="8.5" height="8.5" fill="#919ac7"/><rect x="202.5" width="8.5" height="8.5" fill="#a6add3"/><rect x="210.5" width="8.5" height="8.5" fill="#bac1df"/><rect x="218.5" width="8.5" height="8.5" fill="#cdd2e9"/><rect x="226.5" width="8.5" height="8.5" fill="#dadef1"/><rect x="234.5" width="8.5" height="8.5" fill="#e1e4f4"/><rect x="242.5" width="8.5" height="8.5" fill="#e1e4f4"/><rect x="250.5" width="8.5" height="8.5" fill="#dfe2f3"/><rect x="258.5" width="8.5" height="8.5" fill="#dde0f2"/><rect x="266.5" width="8.5" height="8.5" fill="#dce0f2"/><rect x="274.5" width="8.5" height="8.5" fill="#dee1f3"/><rect x="282.5" width="8.5" height="8.5" fill="#e0e3f4"/><rect x="290.5" width="8.5" height="8.5" fill="#e2e5f5"/><rect x="298.5" width="8.5" height="8.5" fill="#e3e6f5"/><rect x="306.5" width="8.5" height="8.5" fill="#e3e6f5"/><rect x="314.5" width="8.5" height="8.5" fill="#e3e6f5"/><rect x="322.5" width="8.5" height="8.5" fill="#e3e6f5"/><rect x="330.5" width="8.5" height="8.5" fill="#e4e7f6"/><rect x="338.5" width="8.5" height="8.5" fill="#e4e7f6"/><rect x="346.5" width="8.5" height="8.5" fill="#e4e6f6"/><rect x="354.5" width="8.5" height="8.5" fill="#e1e4f4"/><rect x="362.5" width="8.5" height="8.5" fill="#dee1f2"/><rect x="370.5" width="8.5" height="8.5" fill="#dadef1"/><rect x="378.5" width="8.5" height="8.5" fill="#d8dcef"/><rect x="386.5" width="8.5" height="8.5" fill="#d7dbef"/><rect x="394.5" width="8.5" height="8.5" fill="#d9ddf0"/><rect x="402.5" width="8.5" height="8.5" fill="#dde0f2"/><rect x="410.5" width="8.5" height="8.5" fill="#e2e5f5"/><rect x="418.5" width="8.5" height="8.5" fill="#e7e9f8"/><rect x="426.5" width="8.5" height="8.5" fill="#e9ebf9"/><rect x="434.5" width="8.5" height="8.5" fill="#e7e9f7"/><rect x="442.5" width="8.5" height="8.5" fill="#e0e3f4"/><rect x="450.5" width="8.5" height="8.5" fill="#d7dbef"/><rect x="458.5" width="8.5" height="8.5" fill="#cfd4ea"/><rect x="466.5" width="8.5" height="8.5" fill="#cacfe7"/><rect x="474.5" width="8.5" height="8.5" fill="#c7cde6"/><rect x="482.5" width="8.5" height="8.5" fill="#c8cde6"/><rect x="490.5" width="8.5" height="8.5" fill="#cbd0e8"/><rect x="498.5" width="8.5" height="8.5" fill="#cfd3ea"/><rect x="506.5" width="8.5" height="8.5" fill="#d2d6ec"/><rect x="514.5" width="8.5" height="8.5" fill="#d2d7ec"/><rect x="522.5" width="8.5" height="8.5" fill="#d1d5eb"/><rect x="530.5" width="8.5" height="8.5" fill="#ced3ea"/><rect x="538.5" width="8.5" height="8.5" fill="#cbd0e8"/><rect x="546.5" width="8.5" height="8.5" fill="#c9cee7"/><rect x="554.5" width="8.5" height="8.5" fill="#c7cce6"/><rect x="562.5" width="8.5" height="8.5" fill="#c6cce5"/><rect x="570.5" width="8.5" height="8.5" fill="#c5cbe5"/><rect x="578.5" width="8.5" height="8.5" fill="#c4c9e4"/><rect x="586.5" width="8.5" height="8.5" fill="#c1c6e2"/><rect x="594.5" width="8.5" height="8.5" fill="#bdc3e0"/><rect x="602.5" width="8.5" height="8.5" fill="#b9bfde"/><rect x="610.5" width="8.5" height="8.5" fill="#b5bbdc"/><rect x="618.5" width="8.5" height="8.5" fill="#b2b9da"/><rect x="626.5" width="8.5" height="8.5" fill="#b0b7d9"/><rect x="634.5" width="8.5" height="8.5" fill="#aeb5d8"/><rect x="642.5" width="8.5" height="8.5" fill="#aab2d6"/><rect x="650.5" width="8.5" height="8.5" fill="#a6aed3"/><rect x="658.5" width="8.5" height="8.5" fill="#a2aad1"/><rect x="666.5" width="8.5" height="8.5" fill="#9fa8cf"/><rect x="674.5" width="8.5" height="8.5" fill="#9ea6cf"/><rect x="682.5" width="8.5" height="8.5" fill="#9ba4cd"/><rect x="690.5" width="8.5" height="8.5" fill="#949ec9"/><rect x="698.5" width="8.5" height="8.5" fill="#8892c3"/><rect x="706.5" width="8.5" height="8.5" fill="#7985ba"/><rect x="714.5" width="8.5" height="8.5" fill="#6a77b2"/><rect x="722.5" width="8.5" height="8.5" fill="#5e6cab"/><rect x="730.5" width="8.5" height="8.5" fill="#5664a6"/><rect x="738.5" width="8.5" height="8.5" fill="#505fa3"/><rect x="746.5" width="8.5" height="8.5" fill="#4c5ca1"/><rect x="754.5" width="8.5" height="8.5" fill="#49599f"/></g>
<g transform="translate(0,328)"><rect x="186.5" width="8.5" height="8.5" fill="#808bbe"/><rect x="194.5" width="8.5" height="8.5" fill="#949ec9"/><rect x="202.5" width="8.5" height="8.5" fill="#aab2d6"/><rect x="210.5" width="8.5" height="8.5" fill="#c1c6e2"/><rect x="218.5" width="8.5" height="8.5" fill="#d5d9ee"/><rect x="226.5" width="8.5" height="8.5" fill="#e4e7f6"/><rect x="234.5" width="8.5" height="8.5" fill="#ebedfa"/><rect x="242.5" width="8.5" height="8.5" fill="#ebedfa"/><rect x="250.5" width="8.5" height="8.5" fill="#e7e9f8"/><rect x="258.5" width="8.5" height="8.5" fill="#e3e5f5"/><rect x="266.5" width="8.5" height="8.5" fill="#e0e3f4"/><rect x="274.5" width="8.5" height="8.5" fill="#dfe3f3"/><rect x="282.5" width="8.5" height="8.5" fill="#e0e3f4"/><rect x="290.5" width="8.5" height="8.5" fill="#e0e4f4"/><rect x="298.5" width="8.5" height="8.5" fill="#e1e4f4"/><rect x="306.5" width="8.5" height="8.5" fill="#e1e4f4"/><rect x="314.5" width="8.5" height="8.5" fill="#e2e5f5"/><rect x="322.5" width="8.5" height="8.5" fill="#e4e7f6"/><rect x="330.5" width="8.5" height="8.5" fill="#e6e9f7"/><rect x="338.5" width="8.5" height="8.5" fill="#e7eaf8"/><rect x="346.5" width="8.5" height="8.5" fill="#e7eaf8"/><rect x="354.5" width="8.5" height="8.5" fill="#e5e8f7"/><rect x="362.5" width="8.5" height="8.5" fill="#e2e5f5"/><rect x="370.5" width="8.5" height="8.5" fill="#e0e3f3"/><rect x="378.5" width="8.5" height="8.5" fill="#dee1f2"/><rect x="386.5" width="8.5" height="8.5" fill="#dde1f2"/><rect x="394.5" width="8.5" height="8.5" fill="#dfe2f3"/><rect x="402.5" width="8.5" height="8.5" fill="#e2e5f5"/><rect x="410.5" width="8.5" height="8.5" fill="#e6e8f7"/><rect x="418.5" width="8.5" height="8.5" fill="#e9ebf9"/><rect x="426.5" width="8.5" height="8.5" fill="#e9ebf9"/><rect x="434.5" width="8.5" height="8.5" fill="#e4e7f6"/><rect x="442.5" width="8.5" height="8.5" fill="#dde0f2"/><rect x="450.5" width="8.5" height="8.5" fill="#d4d8ed"/><rect x="458.5" width="8.5" height="8.5" fill="#cdd2e9"/><rect x="466.5" width="8.5" height="8.5" fill="#c9cee7"/><rect x="474.5" width="8.5" height="8.5" fill="#c8cde6"/><rect x="482.5" width="8.5" height="8.5" fill="#c9cee7"/><rect x="490.5" width="8.5" height="8.5" fill="#cdd1e9"/><rect x="498.5" width="8.5" height="8.5" fill="#d0d4eb"/><rect x="506.5" width="8.5" height="8.5" fill="#d1d5eb"/><rect x="514.5" width="8.5" height="8.5" fill="#d0d4eb"/><rect x="522.5" width="8.5" height="8.5" fill="#cdd2e9"/><rect x="530.5" width="8.5" height="8.5" fill="#c9cee7"/><rect x="538.5" width="8.5" height="8.5" fill="#c5cae5"/><rect x="546.5" width="8.5" height="8.5" fill="#c2c8e3"/><rect x="554.5" width="8.5" height="8.5" fill="#c0c6e2"/><rect x="562.5" width="8.5" height="8.5" fill="#c0c6e2"/><rect x="570.5" width="8.5" height="8.5" fill="#c1c7e2"/><rect x="578.5" width="8.5" height="8.5" fill="#c3c8e3"/><rect x="586.5" width="8.5" height="8.5" fill="#c5cae5"/><rect x="594.5" width="8.5" height="8.5" fill="#c6cce5"/><rect x="602.5" width="8.5" height="8.5" fill="#c7cce6"/><rect x="610.5" width="8.5" height="8.5" fill="#c7cce6"/><rect x="618.5" width="8.5" height="8.5" fill="#c6cce5"/><rect x="626.5" width="8.5" height="8.5" fill="#c6cbe5"/><rect x="634.5" width="8.5" height="8.5" fill="#c5cae4"/><rect x="642.5" width="8.5" height="8.5" fill="#c3c8e3"/><rect x="650.5" width="8.5" height="8.5" fill="#bfc5e1"/><rect x="658.5" width="8.5" height="8.5" fill="#bbc2df"/><rect x="666.5" width="8.5" height="8.5" fill="#b7bedd"/><rect x="674.5" width="8.5" height="8.5" fill="#b2b9da"/><rect x="682.5" width="8.5" height="8.5" fill="#aab2d6"/><rect x="690.5" width="8.5" height="8.5" fill="#9fa7cf"/><rect x="698.5" width="8.5" height="8.5" fill="#909ac7"/><rect x="706.5" width="8.5" height="8.5" fill="#7f8abd"/><rect x="714.5" width="8.5" height="8.5" fill="#6f7cb5"/><rect x="722.5" width="8.5" height="8.5" fill="#6270ad"/><rect x="730.5" width="8.5" height="8.5" fill="#5867a8"/><rect x="738.5" width="8.5" height="8.5" fill="#5260a4"/><rect x="746.5" width="8.5" height="8.5" fill="#4d5ca1"/><rect x="754.5" width="8.5" height="8.5" fill="#49599f"/></g>
<g transform="translate(0,336)"><rect x="186.5" width="8.5" height="8.5" fill="#808bbe"/><rect x="194.5" width="8.5" height="8.5" fill="#939dc9"/><rect x="202.5" width="8.5" height="8.5" fill="#a9b1d5"/><rect x="210.5" width="8.5" height="8.5" fill="#c0c5e2"/><rect x="218.5" width="8.5" height="8.5" fill="#d4d8ed"/><rect x="226.5" width="8.5" height="8.5" fill="#e3e6f6"/><rect x="234.5" width="8.5" height="8.5" fill="#ebeefa"/><rect x="242.5" width="8.5" height="8.5" fill="#eceefb"/><rect x="250.5" width="8.5" height="8.5" fill="#e9ebf9"/><rect x="258.5" width="8.5" height="8.5" fill="#e5e8f7"/><rect x="266.5" width="8.5" height="8.5" fill="#e3e5f5"/><rect x="274.5" width="8.5" height="8.5" fill="#e1e4f4"/><rect x="282.5" width="8.5" height="8.5" fill="#e0e3f4"/><rect x="290.5" width="8.5" height="8.5" fill="#e0e3f4"/><rect x="298.5" width="8.5" height="8.5" fill="#dfe3f3"/><rect x="306.5" width="8.5" height="8.5" fill="#e0e3f4"/><rect x="314.5" width="8.5" height="8.5" fill="#e1e4f4"/><rect x="322.5" width="8.5" height="8.5" fill="#e4e7f6"/><rect x="330.5" width="8.5" height="8.5" fill="#e7e9f7"/><rect x="338.5" width="8.5" height="8.5" fill="#e9ebf9"/><rect x="346.5" width="8.5" height="8.5" fill="#e9ecf9"/><rect x="354.5" width="8.5" height="8.5" fill="#e8ebf8"/><rect x="362.5" width="8.5" height="8.5" fill="#e6e9f7"/><rect x="370.5" width="8.5" height="8.5" fill="#e4e7f6"/><rect x="378.5" width="8.5" height="8.5" fill="#e2e5f5"/><rect x="386.5" width="8.5" height="8.5" fill="#e2e5f5"/><rect x="394.5" width="8.5" height="8.5" fill="#e3e6f6"/><rect x="402.5" width="8.5" height="8.5" fill="#e5e8f7"/><rect x="410.5" width="8.5" height="8.5" fill="#e8eaf8"/><rect x="418.5" width="8.5" height="8.5" fill="#e9ebf9"/><rect x="426.5" width="8.5" height="8.5" fill="#e7eaf8"/><rect x="434.5" width="8.5" height="8.5" fill="#e2e5f5"/><rect x="442.5" width="8.5" height="8.5" fill="#dadef1"/><rect x="450.5" width="8.5" height="8.5" fill="#d3d7ec"/><rect x="458.5" width="8.5" height="8.5" fill="#cdd2e9"/><rect x="466.5" width="8.5" height="8.5" fill="#cacfe8"/><rect x="474.5" width="8.5" height="8.5" fill="#cbd0e8"/><rect x="482.5" width="8.5" height="8.5" fill="#cdd2e9"/><rect x="490.5" width="8.5" height="8.5" fill="#d1d5eb"/><rect x="498.5" width="8.5" height="8.5" fill="#d3d7ec"/><rect x="506.5" width="8.5" height="8.5" fill="#d3d7ed"/><rect x="514.5" width="8.5" height="8.5" fill="#d1d5eb"/><rect x="522.5" width="8.5" height="8.5" fill="#cdd2e9"/><rect x="530.5" width="8.5" height="8.5" fill="#c8cde6"/><rect x="538.5" width="8.5" height="8.5" fill="#c3c9e4"/><rect x="546.5" width="8.5" height="8.5" fill="#c0c6e2"/><rect x="554.5" width="8.5" height="8.5" fill="#bec4e0"/><rect x="562.5" width="8.5" height="8.5" fill="#bec4e0"/><rect x="570.5" width="8.5" height="8.5" fill="#c0c6e2"/><rect x="578.5" width="8.5" height="8.5" fill="#c4cae4"/><rect x="586.5" width="8.5" height="8.5" fill="#cacfe7"/><rect x="594.5" width="8.5" height="8.5" fill="#d0d4eb"/><rect x="602.5" width="8.5" height="8.5" fill="#d5d9ed"/><rect x="610.5" width="8.5" height="8.5" fill="#d8dcef"/><rect x="618.5" width="8.5" height="8.5" fill="#d9ddf0"/><rect x="626.5" width="8.5" height="8.5" fill="#dadef0"/><rect x="634.5" width="8.5" height="8.5" fill="#dadef1"/><rect x="642.5" width="8.5" height="8.5" fill="#dadef0"/><rect x="650.5" width="8.5" height="8.5" fill="#d9ddf0"/><rect x="658.5" width="8.5" height="8.5" fill="#d6daee"/><rect x="666.5" width="8.5" height="8.5" fill="#d0d4eb"/><rect x="674.5" width="8.5" height="8.5" fill="#c6cce5"/><rect x="682.5" width="8.5" height="8.5" fill="#b9bfde"/><rect x="690.5" width="8.5" height="8.5" fill="#a9b0d5"/><rect x="698.5" width="8.5" height="8.5" fill="#969fca"/><rect x="706.5" width="8.5" height="8.5" fill="#848ec0"/><rect x="714.5" width="8.5" height="8.5" fill="#727fb6"/><rect x="722.5" width="8.5" height="8.5" fill="#6472af"/><rect x="730.5" width="8.5" height="8.5" fill="#5a68a9"/><rect x="738.5" width="8.5" height="8.5" fill="#5261a4"/><rect x="746.5" width="8.5" height="8.5" fill="#4d5ca1"/><rect x="754.5" width="8.5" height="8.5" fill="#49599f"/></g>
<g transform="translate(0,344)"><rect x="186.5" width="8.5" height="8.5" fill="#7d88bc"/><rect x="194.5" width="8.5" height="8.5" fill="#8f99c7"/><rect x="202.5" width="8.5" height="8.5" fill="#a4acd2"/><rect x="210.5" width="8.5" height="8.5" fill="#b8bfde"/><rect x="218.5" width="8.5" height="8.5" fill="#cbd0e8"/><rect x="226.5" width="8.5" height="8.5" fill="#daddf0"/><rect x="234.5" width="8.5" height="8.5" fill="#e3e5f5"/><rect x="242.5" width="8.5" height="8.5" fill="#e6e9f7"/><rect x="250.5" width="8.5" height="8.5" fill="#e6e9f7"/><rect x="258.5" width="8.5" height="8.5" fill="#e5e8f7"/><rect x="266.5" width="8.5" height="8.5" fill="#e4e7f6"/><rect x="274.5" width="8.5" height="8.5" fill="#e4e6f6"/><rect x="282.5" width="8.5" height="8.5" fill="#e2e5f5"/><rect x="290.5" width="8.5" height="8.5" fill="#e1e4f4"/><rect x="298.5" width="8.5" height="8.5" fill="#dfe2f3"/><rect x="306.5" width="8.5" height="8.5" fill="#dee1f3"/><rect x="314.5" width="8.5" height="8.5" fill="#dee2f3"/><rect x="322.5" width="8.5" height="8.5" fill="#e0e3f4"/><rect x="330.5" width="8.5" height="8.5" fill="#e3e6f5"/><rect x="338.5" width="8.5" height="8.5" fill="#e6e8f7"/><rect x="346.5" width="8.5" height="8.5" fill="#e7e9f8"/><rect x="354.5" width="8.5" height="8.5" fill="#e7e9f7"/><rect x="362.5" width="8.5" height="8.5" fill="#e6e8f7"/><rect x="370.5" width="8.5" height="8.5" fill="#e4e7f6"/><rect x="378.5" width="8.5" height="8.5" fill="#e4e7f6"/><rect x="386.5" width="8.5" height="8.5" fill="#e4e7f6"/><rect x="394.5" width="8.5" height="8.5" fill="#e5e8f7"/><rect x="402.5" width="8.5" height="8.5" fill="#e7e9f7"/><rect x="410.5" width="8.5" height="8.5" fill="#e8eaf8"/><rect x="418.5" width="8.5" height="8.5" fill="#e8eaf8"/><rect x="426.5" width="8.5" height="8.5" fill="#e5e8f7"/><rect x="434.5" width="8.5" height="8.5" fill="#e0e3f4"/><rect x="442.5" width="8.5" height="8.5" fill="#d9ddf0"/><rect x="450.5" width="8.5" height="8.5" fill="#d3d7ec"/><rect x="458.5" width="8.5" height="8.5" fill="#ced3ea"/><rect x="466.5" width="8.5" height="8.5" fill="#cdd2e9"/><rect x="474.5" width="8.5" height="8.5" fill="#cfd3ea"/><rect x="482.5" width="8.5" height="8.5" fill="#d2d7ec"/><rect x="490.5" width="8.5" height="8.5" fill="#d6daee"/><rect x="498.5" width="8.5" height="8.5" fill="#d8dcef"/><rect x="506.5" width="8.5" height="8.5" fill="#d8dcef"/><rect x="514.5" width="8.5" height="8.5" fill="#d5d9ee"/><rect x="522.5" width="8.5" height="8.5" fill="#d0d5eb"/><rect x="530.5" width="8.5" height="8.5" fill="#cbd0e8"/><rect x="538.5" width="8.5" height="8.5" fill="#c6cce5"/><rect x="546.5" width="8.5" height="8.5" fill="#c2c8e3"/><rect x="554.5" width="8.5" height="8.5" fill="#c0c6e2"/><rect x="562.5" width="8.5" height="8.5" fill="#c0c5e2"/><rect x="570.5" width="8.5" height="8.5" fill="#c2c8e3"/><rect x="578.5" width="8.5" height="8.5" fill="#c8cde6"/><rect x="586.5" width="8.5" height="8.5" fill="#d0d4eb"/><rect x="594.5" width="8.5" height="8.5" fill="#d8dcef"/><rect x="602.5" width="8.5" height="8.5" fill="#e0e3f4"/><rect x="610.5" width="8.5" height="8.5" fill="#e5e8f6"/><rect x="618.5" width="8.5" height="8.5" fill="#e8eaf8"/><rect x="626.5" width="8.5" height="8.5" fill="#e9ecf9"/><rect x="634.5" width="8.5" height="8.5" fill="#ebedfa"/><rect x="642.5" width="8.5" height="8.5" fill="#eceefa"/><rect x="650.5" width="8.5" height="8.5" fill="#eceefa"/><rect x="658.5" width="8.5" height="8.5" fill="#e9ecf9"/><rect x="666.5" width="8.5" height="8.5" fill="#e2e4f5"/><rect x="674.5" width="8.5" height="8.5" fill="#d4d8ed"/><rect x="682.5" width="8.5" height="8.5" fill="#c2c8e3"/><rect x="690.5" width="8.5" height="8.5" fill="#aeb5d8"/><rect x="698.5" width="8.5" height="8.5" fill="#99a2cc"/><rect x="706.5" width="8.5" height="8.5" fill="#848fc0"/><rect x="714.5" width="8.5" height="8.5" fill="#727eb6"/><rect x="722.5" width="8.5" height="8.5" fill="#6471ae"/><rect x="730.5" width="8.5" height="8.5" fill="#5967a8"/><rect x="738.5" width="8.5" height="8.5" fill="#5160a4"/><rect x="746.5" width="8.5" height="8.5" fill="#4c5ba1"/><rect x="754.5" width="8.5" height="8.5" fill="#48589f"/></g>
<g transform="translate(0,352)"><rect x="186.5" width="8.5" height="8.5" fill="#7985ba"/><rect x="194.5" width="8.5" height="8.5" fill="#8a94c4"/><rect x="202.5" width="8.5" height="8.5" fill="#9ca5ce"/><rect x="210.5" width="8.5" height="8.5" fill="#aeb6d8"/><rect x="218.5" width="8.5" height="8.5" fill="#bfc5e1"/><rect x="226.5" width="8.5" height="8.5" fill="#ccd1e9"/><rect x="234.5" width="8.5" height="8.5" fill="#d6daee"/><rect x="242.5" width="8.5" height="8.5" fill="#dcdff1"/><rect x="250.5" width="8.5" height="8.5" fill="#e0e3f4"/><rect x="258.5" width="8.5" height="8.5" fill="#e3e6f6"/><rect x="266.5" width="8.5" height="8.5" fill="#e6e8f7"/><rect x="274.5" width="8.5" height="8.5" fill="#e7e9f8"/><rect x="282.5" width="8.5" height="8.5" fill="#e6e9f7"/><rect x="290.5" width="8.5" height="8.5" fill="#e3e6f6"/><rect x="298.5" width="8.5" height="8.5" fill="#dfe2f3"/><rect x="306.5" width="8.5" height="8.5" fill="#dcdff1"/><rect x="314.5" width="8.5" height="8.5" fill="#daddf0"/><rect x="322.5" width="8.5" height="8.5" fill="#daddf0"/><rect x="330.5" width="8.5" height="8.5" fill="#dbdff1"/><rect x="338.5" width="8.5" height="8.5" fill="#dee1f2"/><rect x="346.5" width="8.5" height="8.5" fill="#dfe2f3"/><rect x="354.5" width="8.5" height="8.5" fill="#e0e3f4"/><rect x="362.5" width="8.5" height="8.5" fill="#e1e4f4"/><rect x="370.5" width="8.5" height="8.5" fill="#e1e4f4"/><rect x="378.5" width="8.5" height="8.5" fill="#e1e4f4"/><rect x="386.5" width="8.5" height="8.5" fill="#e2e5f5"/><rect x="394.5" width="8.5" height="8.5" fill="#e4e7f6"/><rect x="402.5" width="8.5" height="8.5" fill="#e5e8f7"/><rect x="410.5" width="8.5" height="8.5" fill="#e7e9f7"/><rect x="418.5" width="8.5" height="8.5" fill="#e6e9f7"/><rect x="426.5" width="8.5" height="8.5" fill="#e3e6f6"/><rect x="434.5" width="8.5" height="8.5" fill="#dee1f3"/><rect x="442.5" width="8.5" height="8.5" fill="#d8dcef"/><rect x="450.5" width="8.5" height="8.5" fill="#d3d7ec"/><rect x="458.5" width="8.5" height="8.5" fill="#d0d4eb"/><rect x="466.5" width="8.5" height="8.5" fill="#d0d4eb"/><rect x="474.5" width="8.5" height="8.5" fill="#d3d7ec"/><rect x="482.5" width="8.5" height="8.5" fill="#d7dbef"/><rect x="490.5" width="8.5" height="8.5" fill="#dbdef1"/><rect x="498.5" width="8.5" height="8.5" fill="#dde0f2"/><rect x="506.5" width="8.5" height="8.5" fill="#dde0f2"/><rect x="514.5" width="8.5" height="8.5" fill="#daddf0"/><rect x="522.5" width="8.5" height="8.5" fill="#d6daee"/><rect x="530.5" width="8.5" height="8.5" fill="#d1d6eb"/><rect x="538.5" width="8.5" height="8.5" fill="#cdd1e9"/><rect x="546.5" width="8.5" height="8.5" fill="#c8cee7"/><rect x="554.5" width="8.5" height="8.5" fill="#c6cbe5"/><rect x="562.5" width="8.5" height="8.5" fill="#c5cbe5"/><rect x="570.5" width="8.5" height="8.5" fill="#c8cde6"/><rect x="578.5" width="8.5" height="8.5" fill="#ced2e9"/><rect x="586.5" width="8.5" height="8.5" fill="#d6daee"/><rect x="594.5" width="8.5" height="8.5" fill="#dfe2f3"/><rect x="602.5" width="8.5" height="8.5" fill="#e7eaf8"/><rect x="610.5" width="8.5" height="8.5" fill="#eceffb"/><rect x="618.5" width="8.5" height="8.5" fill="#edeffb"/><rect x="626.5" width="8.5" height="8.5" fill="#edeffb"/><rect x="634.5" width="8.5" height="8.5" fill="#edeffb"/><rect x="642.5" width="8.5" height="8.5" fill="#edeffb"/><rect x="650.5" width="8.5" height="8.5" fill="#edeffb"/><rect x="658.5" width="8.5" height="8.5" fill="#edeffb"/><rect x="666.5" width="8.5" height="8.5" fill="#e8eaf8"/><rect x="674.5" width="8.5" height="8.5" fill="#d8dcef"/><rect x="682.5" width="8.5" height="8.5" fill="#c4c9e4"/><rect x="690.5" width="8.5" height="8.5" fill="#adb5d7"/><rect x="698.5" width="8.5" height="8.5" fill="#969fca"/><rect x="706.5" width="8.5" height="8.5" fill="#808cbe"/><rect x="714.5" width="8.5" height="8.5" fill="#6e7ab4"/><rect x="722.5" width="8.5" height="8.5" fill="#5f6dac"/><rect x="730.5" width="8.5" height="8.5" fill="#5563a6"/><rect x="738.5" width="8.5" height="8.5" fill="#4e5da2"/><rect x="746.5" width="8.5" height="8.5" fill="#4a59a0"/><rect x="754.5" width="8.5" height="8.5" fill="#47579e"/></g>
<g transform="translate(0,360)"><rect x="186.5" width="8.5" height="8.5" fill="#7682b8"/><rect x="194.5" width="8.5" height="8.5" fill="#8590c1"/><rect x="202.5" width="8.5" height="8.5" fill="#959fca"/><rect x="210.5" width="8.5" height="8.5" fill="#a5add3"/><rect x="218.5" width="8.5" height="8.5" fill="#b4badb"/><rect x="226.5" width="8.5" height="8.5" fill="#c0c5e2"/><rect x="234.5" width="8.5" height="8.5" fill="#c9cee7"/><rect x="242.5" width="8.5" height="8.5" fill="#d2d6ec"/><rect x="250.5" width="8.5" height="8.5" fill="#d9ddf0"/><rect x="258.5" width="8.5" height="8.5" fill="#e0e3f4"/><rect x="266.5" width="8.5" height="8.5" fill="#e7e9f8"/><rect x="274.5" width="8.5" height="8.5" fill="#ebedfa"/><rect x="282.5" width="8.5" height="8.5" fill="#eceefa"/><rect x="290.5" width="8.5" height="8.5" fill="#e8eaf8"/><rect x="298.5" width="8.5" height="8.5" fill="#e1e4f4"/><rect x="306.5" width="8.5" height="8.5" fill="#daddf0"/><rect x="314.5" width="8.5" height="8.5" fill="#d4d8ed"/><rect x="322.5" width="8.5" height="8.5" fill="#d1d6ec"/><rect x="330.5" width="8.5" height="8.5" fill="#d1d6ec"/><rect x="338.5" width="8.5" height="8.5" fill="#d3d7ec"/><rect x="346.5" width="8.5" height="8.5" fill="#d5d9ee"/><rect x="354.5" width="8.5" height="8.5" fill="#d7dbef"/><rect x="362.5" width="8.5" height="8.5" fill="#d9ddf0"/><rect x="370.5" width="8.5" height="8.5" fill="#dbdef1"/><rect x="378.5" width="8.5" height="8.5" fill="#dce0f2"/><rect x="386.5" width="8.5" height="8.5" fill="#dee2f3"/><rect x="394.5" width="8.5" height="8.5" fill="#e1e4f4"/><rect x="402.5" width="8.5" height="8.5" fill="#e3e6f5"/><rect x="410.5" width="8.5" height="8.5" fill="#e5e7f6"/><rect x="418.5" width="8.5" height="8.5" fill="#e4e7f6"/><rect x="426.5" width="8.5" height="8.5" fill="#e2e5f5"/><rect x="434.5" width="8.5" height="8.5" fill="#dde1f2"/><rect x="442.5" width="8.5" height="8.5" fill="#d8dcef"/><rect x="450.5" width="8.5" height="8.5" fill="#d4d8ed"/><rect x="458.5" width="8.5" height="8.5" fill="#d2d6ec"/><rect x="466.5" width="8.5" height="8.5" fill="#d2d6ec"/><rect x="474.5" width="8.5" height="8.5" fill="#d5d9ee"/><rect x="482.5" width="8.5" height="8.5" fill="#d9ddf0"/><rect x="490.5" width="8.5" height="8.5" fill="#dde0f2"/><rect x="498.5" width="8.5" height="8.5" fill="#dfe2f3"/><rect x="506.5" width="8.5" height="8.5" fill="#dfe2f3"/><rect x="514.5" width="8.5" height="8.5" fill="#dde0f2"/><rect x="522.5" width="8.5" height="8.5" fill="#dadef1"/><rect x="530.5" width="8.5" height="8.5" fill="#d7dbef"/><rect x="538.5" width="8.5" height="8.5" fill="#d4d8ed"/><rect x="546.5" width="8.5" height="8.5" fill="#d0d5eb"/><rect x="554.5" width="8.5" height="8.5" fill="#cdd2e9"/><rect x="562.5" width="8.5" height="8.5" fill="#cdd1e9"/><rect x="570.5" width="8.5" height="8.5" fill="#cfd3ea"/><rect x="578.5" width="8.5" height="8.5" fill="#d4d8ed"/><rect x="586.5" width="8.5" height="8.5" fill="#dbdff1"/><rect x="594.5" width="8.5" height="8.5" fill="#e3e6f6"/><rect x="602.5" width="8.5" height="8.5" fill="#eaecf9"/><rect x="610.5" width="8.5" height="8.5" fill="#edeffb"/><rect x="618.5" width="8.5" height="8.5" fill="#edeffb"/><rect x="626.5" width="8.5" height="8.5" fill="#edeffb"/><rect x="634.5" width="8.5" height="8.5" fill="#edeffb"/><rect x="642.5" width="8.5" height="8.5" fill="#edeffb"/><rect x="650.5" width="8.5" height="8.5" fill="#edeffb"/><rect x="658.5" width="8.5" height="8.5" fill="#edeffb"/><rect x="666.5" width="8.5" height="8.5" fill="#e6e8f7"/><rect x="674.5" width="8.5" height="8.5" fill="#d4d8ed"/><rect x="682.5" width="8.5" height="8.5" fill="#bfc5e1"/><rect x="690.5" width="8.5" height="8.5" fill="#a7afd4"/><rect x="698.5" width="8.5" height="8.5" fill="#8f99c6"/><rect x="706.5" width="8.5" height="8.5" fill="#7884ba"/><rect x="714.5" width="8.5" height="8.5" fill="#6572af"/><rect x="722.5" width="8.5" height="8.5" fill="#5765a7"/><rect x="730.5" width="8.5" height="8.5" fill="#4d5da2"/><rect x="738.5" width="8.5" height="8.5" fill="#48589f"/><rect x="746.5" width="8.5" height="8.5" fill="#46569e"/><rect x="754.5" width="8.5" height="8.5" fill="#45559d"/></g>
<g transform="translate(0,368)"><rect x="186.5" width="8.5" height="8.5" fill="#7581b8"/><rect x="194.5" width="8.5" height="8.5" fill="#838ec0"/><rect x="202.5" width="8.5" height="8.5" fill="#919bc8"/><rect x="210.5" width="8.5" height="8.5" fill="#9fa8d0"/><rect x="218.5" width="8.5" height="8.5" fill="#acb3d7"/><rect x="226.5" width="8.5" height="8.5" fill="#b7bddd"/><rect x="234.5" width="8.5" height="8.5" fill="#c0c6e2"/><rect x="242.5" width="8.5" height="8.5" fill="#c9cee7"/><rect x="250.5" width="8.5" height="8.5" fill="#d3d7ed"/><rect x="258.5" width="8.5" height="8.5" fill="#dee1f2"/><rect x="266.5" width="8.5" height="8.5" fill="#e8eaf8"/><rect x="274.5" width="8.5" height="8.5" fill="#edeffb"/><rect x="282.5" width="8.5" height="8.5" fill="#edeffb"/><rect x="290.5" width="8.5" height="8.5" fill="#edeffb"/><rect x="298.5" width="8.5" height="8.5" fill="#e6e8f7"/><rect x="306.5" width="8.5" height="8.5" fill="#daddf0"/><rect x="314.5" width="8.5" height="8.5" fill="#cfd4ea"/><rect x="322.5" width="8.5" height="8.5" fill="#c9cee7"/><rect x="330.5" width="8.5" height="8.5" fill="#c8cde6"/><rect x="338.5" width="8.5" height="8.5" fill="#c9cee7"/><rect x="346.5" width="8.5" height="8.5" fill="#ccd1e8"/><rect x="354.5" width="8.5" height="8.5" fill="#cfd4ea"/><rect x="362.5" width="8.5" height="8.5" fill="#d2d6ec"/><rect x="370.5" width="8.5" height="8.5" fill="#d5d9ed"/><rect x="378.5" width="8.5" height="8.5" fill="#d8dbef"/><rect x="386.5" width="8.5" height="8.5" fill="#dbdef1"/><rect x="394.5" width="8.5" height="8.5" fill="#dee1f3"/><rect x="402.5" width="8.5" height="8.5" fill="#e1e4f4"/><rect x="410.5" width="8.5" height="8.5" fill="#e3e6f6"/><rect x="418.5" width="8.5" height="8.5" fill="#e4e7f6"/><rect x="426.5" width="8.5" height="8.5" fill="#e2e5f5"/><rect x="434.5" width="8.5" height="8.5" fill="#dee1f2"/><rect x="442.5" width="8.5" height="8.5" fill="#d9ddf0"/><rect x="450.5" width="8.5" height="8.5" fill="#d5d9ee"/><rect x="458.5" width="8.5" height="8.5" fill="#d3d7ec"/><rect x="466.5" width="8.5" height="8.5" fill="#d3d7ed"/><rect x="474.5" width="8.5" height="8.5" fill="#d5d9ee"/><rect x="482.5" width="8.5" height="8.5" fill="#d8dcef"/><rect x="490.5" width="8.5" height="8.5" fill="#dadef1"/><rect x="498.5" width="8.5" height="8.5" fill="#dcdff1"/><rect x="506.5" width="8.5" height="8.5" fill="#dcdff2"/><rect x="514.5" width="8.5" height="8.5" fill="#dcdff1"/><rect x="522.5" width="8.5" height="8.5" fill="#dbdff1"/><rect x="530.5" width="8.5" height="8.5" fill="#dadef1"/><rect x="538.5" width="8.5" height="8.5" fill="#d9dcf0"/><rect x="546.5" width="8.5" height="8.5" fill="#d7daee"/><rect x="554.5" width="8.5" height="8.5" fill="#d5d9ed"/><rect x="562.5" width="8.5" height="8.5" fill="#d4d8ed"/><rect x="570.5" width="8.5" height="8.5" fill="#d6daee"/><rect x="578.5" width="8.5" height="8.5" fill="#dadef1"/><rect x="586.5" width="8.5" height="8.5" fill="#e0e3f4"/><rect x="594.5" width="8.5" height="8.5" fill="#e6e9f7"/><rect x="602.5" width="8.5" height="8.5" fill="#ebedfa"/><rect x="610.5" width="8.5" height="8.5" fill="#edeffb"/><rect x="618.5" width="8.5" height="8.5" fill="#edeffb"/><rect x="626.5" width="8.5" height="8.5" fill="#edeffb"/><rect x="634.5" width="8.5" height="8.5" fill="#edeffb"/><rect x="642.5" width="8.5" height="8.5" fill="#edeffb"/><rect x="650.5" width="8.5" height="8.5" fill="#edeffb"/><rect x="658.5" width="8.5" height="8.5" fill="#ebedfa"/><rect x="666.5" width="8.5" height="8.5" fill="#dfe2f3"/><rect x="674.5" width="8.5" height="8.5" fill="#cdd2e9"/><rect x="682.5" width="8.5" height="8.5" fill="#b7bddd"/><rect x="690.5" width="8.5" height="8.5" fill="#9fa7cf"/><rect x="698.5" width="8.5" height="8.5" fill="#8690c1"/><rect x="706.5" width="8.5" height="8.5" fill="#6e7bb4"/><rect x="714.5" width="8.5" height="8.5" fill="#5a68a9"/><rect x="722.5" width="8.5" height="8.5" fill="#4c5ca1"/><rect x="730.5" width="8.5" height="8.5" fill="#45559d"/><rect x="738.5" width="8.5" height="8.5" fill="#45559d"/><rect x="746.5" width="8.5" height="8.5" fill="#45559d"/><rect x="754.5" width="8.5" height="8.5" fill="#45559d"/></g>
<g transform="translate(0,376)"><rect x="186.5" width="8.5" height="8.5" fill="#7681b8"/><rect x="194.5" width="8.5" height="8.5" fill="#838ec0"/><rect x="202.5" width="8.5" height="8.5" fill="#919bc8"/><rect x="210.5" width="8.5" height="8.5" fill="#9ea7cf"/><rect x="218.5" width="8.5" height="8.5" fill="#aab1d5"/><rect x="226.5" width="8.5" height="8.5" fill="#b3badb"/><rect x="234.5" width="8.5" height="8.5" fill="#bcc2e0"/><rect x="242.5" width="8.5" height="8.5" fill="#c5cbe5"/><rect x="250.5" width="8.5" height="8.5" fill="#d0d4eb"/><rect x="258.5" width="8.5" height="8.5" fill="#dcdff1"/><rect x="266.5" width="8.5" height="8.5" fill="#e9ebf9"/><rect x="274.5" width="8.5" height="8.5" fill="#edeffb"/><rect x="282.5" width="8.5" height="8.5" fill="#edeffb"/><rect x="290.5" width="8.5" height="8.5" fill="#edeffb"/><rect x="298.5" width="8.5" height="8.5" fill="#ebedfa"/><rect x="306.5" width="8.5" height="8.5" fill="#dbdef1"/><rect x="314.5" width="8.5" height="8.5" fill="#ccd1e9"/><rect x="322.5" width="8.5" height="8.5" fill="#c3c9e4"/><rect x="330.5" width="8.5" height="8.5" fill="#c0c6e2"/><rect x="338.5" width="8.5" height="8.5" fill="#c2c7e3"/><rect x="346.5" width="8.5" height="8.5" fill="#c5cbe5"/><rect x="354.5" width="8.5" height="8.5" fill="#cacfe7"/><rect x="362.5" width="8.5" height="8.5" fill="#ced3ea"/><rect x="370.5" width="8.5" height="8.5" fill="#d2d6ec"/><rect x="378.5" width="8.5" height="8.5" fill="#d6d9ee"/><rect x="386.5" width="8.5" height="8.5" fill="#d9ddf0"/><rect x="394.5" width="8.5" height="8.5" fill="#dde0f2"/><rect x="402.5" width="8.5" height="8.5" fill="#e1e4f4"/><rect x="410.5" width="8.5" height="8.5" fill="#e4e7f6"/><rect x="418.5" width="8.5" height="8.5" fill="#e5e7f6"/><rect x="426.5" width="8.5" height="8.5" fill="#e3e6f5"/><rect x="434.5" width="8.5" height="8.5" fill="#dfe2f3"/><rect x="442.5" width="8.5" height="8.5" fill="#dbdef1"/><rect x="450.5" width="8.5" height="8.5" fill="#d7dbef"/><rect x="458.5" width="8.5" height="8.5" fill="#d4d8ed"/><rect x="466.5" width="8.5" height="8.5" fill="#d4d8ed"/><rect x="474.5" width="8.5" height="8.5" fill="#d4d8ed"/><rect x="482.5" width="8.5" height="8.5" fill="#d5d9ed"/><rect x="490.5" width="8.5" height="8.5" fill="#d5d9ee"/><rect x="498.5" width="8.5" height="8.5" fill="#d5d9ee"/><rect x="506.5" width="8.5" height="8.5" fill="#d6daee"/><rect x="514.5" width="8.5" height="8.5" fill="#d7daee"/><rect x="522.5" width="8.5" height="8.5" fill="#d8dcef"/><rect x="530.5" width="8.5" height="8.5" fill="#d9ddf0"/><rect x="538.5" width="8.5" height="8.5" fill="#dadef0"/><rect x="546.5" width="8.5" height="8.5" fill="#daddf0"/><rect x="554.5" width="8.5" height="8.5" fill="#d9ddf0"/><rect x="562.5" width="8.5" height="8.5" fill="#dadef0"/><rect x="570.5" width="8.5" height="8.5" fill="#dce0f2"/><rect x="578.5" width="8.5" height="8.5" fill="#e0e3f4"/><rect x="586.5" width="8.5" height="8.5" fill="#e5e7f6"/><rect x="594.5" width="8.5" height="8.5" fill="#e9ebf8"/><rect x="602.5" width="8.5" height="8.5" fill="#ebedfa"/><rect x="610.5" width="8.5" height="8.5" fill="#ebedfa"/><rect x="618.5" width="8.5" height="8.5" fill="#ebedfa"/><rect x="626.5" width="8.5" height="8.5" fill="#eceefa"/><rect x="634.5" width="8.5" height="8.5" fill="#edeffb"/><rect x="642.5" width="8.5" height="8.5" fill="#edeffb"/><rect x="650.5" width="8.5" height="8.5" fill="#edeffb"/><rect x="658.5" width="8.5" height="8.5" fill="#e6e9f7"/><rect x="666.5" width="8.5" height="8.5" fill="#d9dcf0"/><rect x="674.5" width="8.5" height="8.5" fill="#c6cbe5"/><rect x="682.5" width="8.5" height="8.5" fill="#afb6d8"/><rect x="690.5" width="8.5" height="8.5" fill="#969fca"/><rect x="698.5" width="8.5" height="8.5" fill="#7c88bc"/><rect x="706.5" width="8.5" height="8.5" fill="#6472ae"/><rect x="714.5" width="8.5" height="8.5" fill="#505fa3"/><rect x="722.5" width="8.5" height="8.5" fill="#45559d"/><rect x="730.5" width="8.5" height="8.5" fill="#45559d"/><rect x="738.5" width="8.5" height="8.5" fill="#45559d"/><rect x="746.5" width="8.5" height="8.5" fill="#45559d"/><rect x="754.5" width="8.5" height="8.5" fill="#45559d"/></g>
<g transform="translate(0,384)"><rect x="186.5" width="8.5" height="8.5" fill="#7985ba"/><rect x="194.5" width="8.5" height="8.5" fill="#8892c2"/><rect x="202.5" width="8.5" height="8.5" fill="#969fca"/><rect x="210.5" width="8.5" height="8.5" fill="#a3abd2"/><rect x="218.5" width="8.5" height="8.5" fill="#adb5d7"/><rect x="226.5" width="8.5" height="8.5" fill="#b6bcdc"/><rect x="234.5" width="8.5" height="8.5" fill="#bdc3e0"/><rect x="242.5" width="8.5" height="8.5" fill="#c5cae5"/><rect x="250.5" width="8.5" height="8.5" fill="#cfd4ea"/><rect x="258.5" width="8.5" height="8.5" fill="#dbdff1"/><rect x="266.5" width="8.5" height="8.5" fill="#e9ebf9"/><rect x="274.5" width="8.5" height="8.5" fill="#edeffb"/><rect x="282.5" width="8.5" height="8.5" fill="#edeffb"/><rect x="290.5" width="8.5" height="8.5" fill="#edeffb"/><rect x="298.5" width="8.5" height="8.5" fill="#eceefb"/><rect x="306.5" width="8.5" height="8.5" fill="#daddf0"/><rect x="314.5" width="8.5" height="8.5" fill="#c9cee7"/><rect x="322.5" width="8.5" height="8.5" fill="#bec4e1"/><rect x="330.5" width="8.5" height="8.5" fill="#bbc1df"/><rect x="338.5" width="8.5" height="8.5" fill="#bdc3e0"/><rect x="346.5" width="8.5" height="8.5" fill="#c2c8e3"/><rect x="354.5" width="8.5" height="8.5" fill="#c8cee7"/><rect x="362.5" width="8.5" height="8.5" fill="#ced3ea"/><rect x="370.5" width="8.5" height="8.5" fill="#d3d7ec"/><rect x="378.5" width="8.5" height="8.5" fill="#d7dbef"/><rect x="386.5" width="8.5" height="8.5" fill="#dadef1"/><rect x="394.5" width="8.5" height="8.5" fill="#dfe2f3"/><rect x="402.5" width="8.5" height="8.5" fill="#e3e6f5"/><rect x="410.5" width="8.5" height="8.5" fill="#e6e9f7"/><rect x="418.5" width="8.5" height="8.5" fill="#e7eaf8"/><rect x="426.5" width="8.5" height="8.5" fill="#e6e8f7"/><rect x="434.5" width="8.5" height="8.5" fill="#e2e5f5"/><rect x="442.5" width="8.5" height="8.5" fill="#dee1f3"/><rect x="450.5" width="8.5" height="8.5" fill="#daddf0"/><rect x="458.5" width="8.5" height="8.5" fill="#d7daee"/><rect x="466.5" width="8.5" height="8.5" fill="#d4d8ed"/><rect x="474.5" width="8.5" height="8.5" fill="#d2d7ec"/><rect x="482.5" width="8.5" height="8.5" fill="#d1d5eb"/><rect x="490.5" width="8.5" height="8.5" fill="#cfd4ea"/><rect x="498.5" width="8.5" height="8.5" fill="#ced3ea"/><rect x="506.5" width="8.5" height="8.5" fill="#ced3ea"/><rect x="514.5" width="8.5" height="8.5" fill="#d0d4eb"/><rect x="522.5" width="8.5" height="8.5" fill="#d3d7ec"/><rect x="530.5" width="8.5" height="8.5" fill="#d6daee"/><rect x="538.5" width="8.5" height="8.5" fill="#d8dcef"/><rect x="546.5" width="8.5" height="8.5" fill="#daddf0"/><rect x="554.5" width="8.5" height="8.5" fill="#dbdff1"/><rect x="562.5" width="8.5" height="8.5" fill="#dee1f2"/><rect x="570.5" width="8.5" height="8.5" fill="#e1e4f4"/><rect x="578.5" width="8.5" height="8.5" fill="#e5e7f6"/><rect x="586.5" width="8.5" height="8.5" fill="#e8ebf8"/><rect x="594.5" width="8.5" height="8.5" fill="#eaecf9"/><rect x="602.5" width="8.5" height="8.5" fill="#eaecf9"/><rect x="610.5" width="8.5" height="8.5" fill="#e9ebf9"/><rect x="618.5" width="8.5" height="8.5" fill="#e8eaf8"/><rect x="626.5" width="8.5" height="8.5" fill="#e9ebf9"/><rect x="634.5" width="8.5" height="8.5" fill="#ebedfa"/><rect x="642.5" width="8.5" height="8.5" fill="#edeffb"/><rect x="650.5" width="8.5" height="8.5" fill="#ebedfa"/><rect x="658.5" width="8.5" height="8.5" fill="#e3e6f5"/><rect x="666.5" width="8.5" height="8.5" fill="#d4d8ed"/><rect x="674.5" width="8.5" height="8.5" fill="#c0c6e2"/><rect x="682.5" width="8.5" height="8.5" fill="#a9b1d5"/><rect x="690.5" width="8.5" height="8.5" fill="#909ac7"/><rect x="698.5" width="8.5" height="8.5" fill="#7682b9"/><rect x="706.5" width="8.5" height="8.5" fill="#5e6cab"/><rect x="714.5" width="8.5" height="8.5" fill="#4b5aa0"/><rect x="722.5" width="8.5" height="8.5" fill="#45559d"/><rect x="730.5" width="8.5" height="8.5" fill="#45559d"/><rect x="738.5" width="8.5" height="8.5" fill="#45559d"/><rect x="746.5" width="8.5" height="8.5" fill="#45559d"/><rect x="754.5" width="8.5" height="8.5" fill="#45559d"/></g>
<g transform="translate(0,392)"><rect x="186.5" width="8.5" height="8.5" fill="#7f8abd"/><rect x="194.5" width="8.5" height="8.5" fill="#8f99c6"/><rect x="202.5" width="8.5" height="8.5" fill="#9fa7cf"/><rect x="210.5" width="8.5" height="8.5" fill="#adb4d7"/><rect x="218.5" width="8.5" height="8.5" fill="#b7bddd"/><rect x="226.5" width="8.5" height="8.5" fill="#bec3e0"/><rect x="234.5" width="8.5" height="8.5" fill="#c3c8e3"/><rect x="242.5" width="8.5" height="8.5" fill="#c9cee7"/><rect x="250.5" width="8.5" height="8.5" fill="#d0d5eb"/><rect x="258.5" width="8.5" height="8.5" fill="#dbdef1"/><rect x="266.5" width="8.5" height="8.5" fill="#e7e9f7"/><rect x="274.5" width="8.5" height="8.5" fill="#edeffb"/><rect x="282.5" width="8.5" height="8.5" fill="#edeffb"/><rect x="290.5" width="8.5" height="8.5" fill="#edeffb"/><rect x="298.5" width="8.5" height="8.5" fill="#e7e9f7"/><rect x="306.5" width="8.5" height="8.5" fill="#d5d9ed"/><rect x="314.5" width="8.5" height="8.5" fill="#c4cae4"/><rect x="322.5" width="8.5" height="8.5" fill="#bac0df"/><rect x="330.5" width="8.5" height="8.5" fill="#b7bedd"/><rect x="338.5" width="8.5" height="8.5" fill="#bbc1df"/><rect x="346.5" width="8.5" height="8.5" fill="#c1c7e3"/><rect x="354.5" width="8.5" height="8.5" fill="#c9cee7"/><rect x="362.5" width="8.5" height="8.5" fill="#d0d5eb"/><rect x="370.5" width="8.5" height="8.5" fill="#d6daee"/><rect x="378.5" width="8.5" height="8.5" fill="#dadef0"/><rect x="386.5" width="8.5" height="8.5" fill="#dee1f2"/><rect x="394.5" width="8.5" height="8.5" fill="#e1e4f5"/><rect x="402.5" width="8.5" height="8.5" fill="#e5e8f7"/><rect x="410.5" width="8.5" height="8.5" fill="#e9ebf9"/><rect x="418.5" width="8.5" height="8.5" fill="#eaecf9"/><rect x="426.5" width="8.5" height="8.5" fill="#e9ebf9"/><rect x="434.5" width="8.5" height="8.5" fill="#e5e8f7"/><rect x="442.5" width="8.5" height="8.5" fill="#e2e4f5"/><rect x="450.5" width="8.5" height="8.5" fill="#dee1f2"/><rect x="458.5" width="8.5" height="8.5" fill="#daddf0"/><rect x="466.5" width="8.5" height="8.5" fill="#d6daee"/><rect x="474.5" width="8.5" height="8.5" fill="#d2d6ec"/><rect x="482.5" width="8.5" height="8.5" fill="#ced2ea"/><rect x="490.5" width="8.5" height="8.5" fill="#cacfe8"/><rect x="498.5" width="8.5" height="8.5" fill="#c8cde6"/><rect x="506.5" width="8.5" height="8.5" fill="#c8cde6"/><rect x="514.5" width="8.5" height="8.5" fill="#cacfe8"/><rect x="522.5" width="8.5" height="8.5" fill="#ced3ea"/><rect x="530.5" width="8.5" height="8.5" fill="#d2d6ec"/><rect x="538.5" width="8.5" height="8.5" fill="#d6daee"/><rect x="546.5" width="8.5" height="8.5" fill="#d9dcf0"/><rect x="554.5" width="8.5" height="8.5" fill="#dbdff1"/><rect x="562.5" width="8.5" height="8.5" fill="#dfe2f3"/><rect x="570.5" width="8.5" height="8.5" fill="#e3e6f5"/><rect x="578.5" width="8.5" height="8.5" fill="#e7eaf8"/><rect x="586.5" width="8.5" height="8.5" fill="#eaecf9"/><rect x="594.5" width="8.5" height="8.5" fill="#eaecf9"/><rect x="602.5" width="8.5" height="8.5" fill="#e8ebf8"/><rect x="610.5" width="8.5" height="8.5" fill="#e6e9f7"/><rect x="618.5" width="8.5" height="8.5" fill="#e5e8f6"/><rect x="626.5" width="8.5" height="8.5" fill="#e6e8f7"/><rect x="634.5" width="8.5" height="8.5" fill="#e8ebf8"/><rect x="642.5" width="8.5" height="8.5" fill="#ebedfa"/><rect x="650.5" width="8.5" height="8.5" fill="#e9ebf9"/><rect x="658.5" width="8.5" height="8.5" fill="#e0e3f4"/><rect x="666.5" width="8.5" height="8.5" fill="#d0d5eb"/><rect x="674.5" width="8.5" height="8.5" fill="#bcc2e0"/><rect x="682.5" width="8.5" height="8.5" fill="#a6aed3"/><rect x="690.5" width="8.5" height="8.5" fill="#8e98c6"/><rect x="698.5" width="8.5" height="8.5" fill="#7682b8"/><rect x="706.5" width="8.5" height="8.5" fill="#5f6dab"/><rect x="714.5" width="8.5" height="8.5" fill="#4c5ca1"/><rect x="722.5" width="8.5" height="8.5" fill="#45559d"/><rect x="730.5" width="8.5" height="8.5" fill="#45559d"/><rect x="738.5" width="8.5" height="8.5" fill="#45559d"/><rect x="746.5" width="8.5" height="8.5" fill="#45559d"/><rect x="754.5" width="8.5" height="8.5" fill="#45559d"/></g>
<g transform="translate(0,400)"><rect x="186.5" width="8.5" height="8.5" fill="#858fc1"/><rect x="194.5" width="8.5" height="8.5" fill="#98a1cb"/><rect x="202.5" width="8.5" height="8.5" fill="#aab2d6"/><rect x="210.5" width="8.5" height="8.5" fill="#b9c0de"/><rect x="218.5" width="8.5" height="8.5" fill="#c4c9e4"/><rect x="226.5" width="8.5" height="8.5" fill="#c9cee7"/><rect x="234.5" width="8.5" height="8.5" fill="#cbd0e8"/><rect x="242.5" width="8.5" height="8.5" fill="#cdd2e9"/><rect x="250.5" width="8.5" height="8.5" fill="#d2d6ec"/><rect x="258.5" width="8.5" height="8.5" fill="#d8dcf0"/><rect x="266.5" width="8.5" height="8.5" fill="#e1e4f4"/><rect x="274.5" width="8.5" height="8.5" fill="#e8ebf8"/><rect x="282.5" width="8.5" height="8.5" fill="#ebedfa"/><rect x="290.5" width="8.5" height="8.5" fill="#e6e9f7"/><rect x="298.5" width="8.5" height="8.5" fill="#dbdef1"/><rect x="306.5" width="8.5" height="8.5" fill="#cbd0e8"/><rect x="314.5" width="8.5" height="8.5" fill="#bec4e0"/><rect x="322.5" width="8.5" height="8.5" fill="#b5bcdc"/><rect x="330.5" width="8.5" height="8.5" fill="#b4bbdb"/><rect x="338.5" width="8.5" height="8.5" fill="#b8bfde"/><rect x="346.5" width="8.5" height="8.5" fill="#c1c6e2"/><rect x="354.5" width="8.5" height="8.5" fill="#cacfe7"/><rect x="362.5" width="8.5" height="8.5" fill="#d3d7ec"/><rect x="370.5" width="8.5" height="8.5" fill="#d9ddf0"/><rect x="378.5" width="8.5" height="8.5" fill="#dde0f2"/><rect x="386.5" width="8.5" height="8.5" fill="#e0e3f4"/><rect x="394.5" width="8.5" height="8.5" fill="#e4e6f6"/><rect x="402.5" width="8.5" height="8.5" fill="#e7eaf8"/><rect x="410.5" width="8.5" height="8.5" fill="#eaecf9"/><rect x="418.5" width="8.5" height="8.5" fill="#ebedfa"/><rect x="426.5" width="8.5" height="8.5" fill="#eaedfa"/><rect x="434.5" width="8.5" height="8.5" fill="#e8ebf8"/><rect x="442.5" width="8.5" height="8.5" fill="#e5e8f7"/><rect x="450.5" width="8.5" height="8.5" fill="#e2e5f5"/><rect x="458.5" width="8.5" height="8.5" fill="#dee1f2"/><rect x="466.5" width="8.5" height="8.5" fill="#d9dcf0"/><rect x="474.5" width="8.5" height="8.5" fill="#d3d7ec"/><rect x="482.5" width="8.5" height="8.5" fill="#cdd2e9"/><rect x="490.5" width="8.5" height="8.5" fill="#c8cde6"/><rect x="498.5" width="8.5" height="8.5" fill="#c5cbe5"/><rect x="506.5" width="8.5" height="8.5" fill="#c5cbe5"/><rect x="514.5" width="8.5" height="8.5" fill="#c8cde6"/><rect x="522.5" width="8.5" height="8.5" fill="#ccd1e9"/><rect x="530.5" width="8.5" height="8.5" fill="#d1d5eb"/><rect x="538.5" width="8.5" height="8.5" fill="#d5d9ed"/><rect x="546.5" width="8.5" height="8.5" fill="#d8dbef"/><rect x="554.5" width="8.5" height="8.5" fill="#dbdef1"/><rect x="562.5" width="8.5" height="8.5" fill="#dee2f3"/><rect x="570.5" width="8.5" height="8.5" fill="#e3e6f5"/><rect x="578.5" width="8.5" height="8.5" fill="#e7e9f8"/><rect x="586.5" width="8.5" height="8.5" fill="#e9ebf9"/><rect x="594.5" width="8.5" height="8.5" fill="#e8eaf8"/><rect x="602.5" width="8.5" height="8.5" fill="#e5e7f6"/><rect x="610.5" width="8.5" height="8.5" fill="#e1e4f4"/><rect x="618.5" width="8.5" height="8.5" fill="#e0e3f3"/><rect x="626.5" width="8.5" height="8.5" fill="#e0e3f4"/><rect x="634.5" width="8.5" height="8.5" fill="#e3e6f5"/><rect x="642.5" width="8.5" height="8.5" fill="#e5e8f6"/><rect x="650.5" width="8.5" height="8.5" fill="#e3e6f5"/><rect x="658.5" width="8.5" height="8.5" fill="#dbdef1"/><rect x="666.5" width="8.5" height="8.5" fill="#cdd1e9"/><rect x="674.5" width="8.5" height="8.5" fill="#bac0df"/><rect x="682.5" width="8.5" height="8.5" fill="#a5add3"/><rect x="690.5" width="8.5" height="8.5" fill="#909ac7"/><rect x="698.5" width="8.5" height="8.5" fill="#7a86bb"/><rect x="706.5" width="8.5" height="8.5" fill="#6673af"/><rect x="714.5" width="8.5" height="8.5" fill="#5564a6"/><rect x="722.5" width="8.5" height="8.5" fill="#4a59a0"/><rect x="730.5" width="8.5" height="8.5" fill="#45559d"/><rect x="738.5" width="8.5" height="8.5" fill="#45559d"/><rect x="746.5" width="8.5" height="8.5" fill="#45559d"/><rect x="754.5" width="8.5" height="8.5" fill="#45559d"/></g>
<g transform="translate(0,408)"><rect x="186.5" width="8.5" height="8.5" fill="#8a94c4"/><rect x="194.5" width="8.5" height="8.5" fill="#a0a8d0"/><rect x="202.5" width="8.5" height="8.5" fill="#b5bcdc"/><rect x="210.5" width="8.5" height="8.5" fill="#c6cce5"/><rect x="218.5" width="8.5" height="8.5" fill="#d1d5eb"/><rect x="226.5" width="8.5" height="8.5" fill="#d4d8ed"/><rect x="234.5" width="8.5" height="8.5" fill="#d3d7ec"/><rect x="242.5" width="8.5" height="8.5" fill="#d1d5eb"/><rect x="250.5" width="8.5" height="8.5" fill="#d1d6eb"/><rect x="258.5" width="8.5" height="8.5" fill="#d4d8ed"/><rect x="266.5" width="8.5" height="8.5" fill="#d8dcef"/><rect x="274.5" width="8.5" height="8.5" fill="#dcdff1"/><rect x="282.5" width="8.5" height="8.5" fill="#dcdff1"/><rect x="290.5" width="8.5" height="8.5" fill="#d7daee"/><rect x="298.5" width="8.5" height="8.5" fill="#cdd1e9"/><rect x="306.5" width="8.5" height="8.5" fill="#c1c6e2"/><rect x="314.5" width="8.5" height="8.5" fill="#b6bddc"/><rect x="322.5" width="8.5" height="8.5" fill="#b0b7d9"/><rect x="330.5" width="8.5" height="8.5" fill="#b0b7d9"/><rect x="338.5" width="8.5" height="8.5" fill="#b5bcdc"/><rect x="346.5" width="8.5" height="8.5" fill="#bec4e1"/><rect x="354.5" width="8.5" height="8.5" fill="#c9cee7"/><rect x="362.5" width="8.5" height="8.5" fill="#d2d6ec"/><rect x="370.5" width="8.5" height="8.5" fill="#d9ddf0"/><rect x="378.5" width="8.5" height="8.5" fill="#dde0f2"/><rect x="386.5" width="8.5" height="8.5" fill="#e0e3f4"/><rect x="394.5" width="8.5" height="8.5" fill="#e3e6f5"/><rect x="402.5" width="8.5" height="8.5" fill="#e6e9f7"/><rect x="410.5" width="8.5" height="8.5" fill="#e9ebf9"/><rect x="418.5" width="8.5" height="8.5" fill="#eaecf9"/><rect x="426.5" width="8.5" height="8.5" fill="#eaecf9"/><rect x="434.5" width="8.5" height="8.5" fill="#e9ebf9"/><rect x="442.5" width="8.5" height="8.5" fill="#e7eaf8"/><rect x="450.5" width="8.5" height="8.5" fill="#e5e8f7"/><rect x="458.5" width="8.5" height="8.5" fill="#e1e4f5"/><rect x="466.5" width="8.5" height="8.5" fill="#dcdff1"/><rect x="474.5" width="8.5" height="8.5" fill="#d5d9ee"/><rect x="482.5" width="8.5" height="8.5" fill="#ced2ea"/><rect x="490.5" width="8.5" height="8.5" fill="#c8cde6"/><rect x="498.5" width="8.5" height="8.5" fill="#c5cbe5"/><rect x="506.5" width="8.5" height="8.5" fill="#c6cbe5"/><rect x="514.5" width="8.5" height="8.5" fill="#c9cee7"/><rect x="522.5" width="8.5" height="8.5" fill="#ced3ea"/><rect x="530.5" width="8.5" height="8.5" fill="#d3d7ed"/><rect x="538.5" width="8.5" height="8.5" fill="#d6daee"/><rect x="546.5" width="8.5" height="8.5" fill="#d8dcf0"/><rect x="554.5" width="8.5" height="8.5" fill="#dadef1"/><rect x="562.5" width="8.5" height="8.5" fill="#dde1f2"/><rect x="570.5" width="8.5" height="8.5" fill="#e1e4f4"/><rect x="578.5" width="8.5" height="8.5" fill="#e4e7f6"/><rect x="586.5" width="8.5" height="8.5" fill="#e5e7f6"/><rect x="594.5" width="8.5" height="8.5" fill="#e3e6f5"/><rect x="602.5" width="8.5" height="8.5" fill="#dfe2f3"/><rect x="610.5" width="8.5" height="8.5" fill="#dadef0"/><rect x="618.5" width="8.5" height="8.5" fill="#d7dbef"/><rect x="626.5" width="8.5" height="8.5" fill="#d7dbef"/><rect x="634.5" width="8.5" height="8.5" fill="#d8dcef"/><rect x="642.5" width="8.5" height="8.5" fill="#dadef0"/><rect x="650.5" width="8.5" height="8.5" fill="#d9ddf0"/><rect x="658.5" width="8.5" height="8.5" fill="#d3d7ec"/><rect x="666.5" width="8.5" height="8.5" fill="#c8cde6"/><rect x="674.5" width="8.5" height="8.5" fill="#b9bfde"/><rect x="682.5" width="8.5" height="8.5" fill="#a8afd4"/><rect x="690.5" width="8.5" height="8.5" fill="#969fca"/><rect x="698.5" width="8.5" height="8.5" fill="#848fc0"/><rect x="706.5" width="8.5" height="8.5" fill="#737fb6"/><rect x="714.5" width="8.5" height="8.5" fill="#6371ae"/><rect x="722.5" width="8.5" height="8.5" fill="#5866a8"/><rect x="730.5" width="8.5" height="8.5" fill="#505fa3"/><rect x="738.5" width="8.5" height="8.5" fill="#4c5ba1"/><rect x="746.5" width="8.5" height="8.5" fill="#49599f"/><rect x="754.5" width="8.5" height="8.5" fill="#47579e"/></g>
<g transform="translate(0,416)"><rect x="186.5" width="8.5" height="8.5" fill="#8c96c5"/><rect x="194.5" width="8.5" height="8.5" fill="#a4acd2"/><rect x="202.5" width="8.5" height="8.5" fill="#bcc2df"/><rect x="210.5" width="8.5" height="8.5" fill="#cfd3ea"/><rect x="218.5" width="8.5" height="8.5" fill="#dadef0"/><rect x="226.5" width="8.5" height="8.5" fill="#dbdff1"/><rect x="234.5" width="8.5" height="8.5" fill="#d6daee"/><rect x="242.5" width="8.5" height="8.5" fill="#d1d5eb"/><rect x="250.5" width="8.5" height="8.5" fill="#cdd2e9"/><rect x="258.5" width="8.5" height="8.5" fill="#cdd2e9"/><rect x="266.5" width="8.5" height="8.5" fill="#ced3ea"/><rect x="274.5" width="8.5" height="8.5" fill="#cfd3ea"/><rect x="282.5" width="8.5" height="8.5" fill="#cdd2e9"/><rect x="290.5" width="8.5" height="8.5" fill="#c8cde6"/><rect x="298.5" width="8.5" height="8.5" fill="#c0c6e2"/><rect x="306.5" width="8.5" height="8.5" fill="#b7bedd"/><rect x="314.5" width="8.5" height="8.5" fill="#b0b7d9"/><rect x="322.5" width="8.5" height="8.5" fill="#acb3d7"/><rect x="330.5" width="8.5" height="8.5" fill="#acb4d7"/><rect x="338.5" width="8.5" height="8.5" fill="#b2b9da"/><rect x="346.5" width="8.5" height="8.5" fill="#bac1df"/><rect x="354.5" width="8.5" height="8.5" fill="#c5cae5"/><rect x="362.5" width="8.5" height="8.5" fill="#ced3ea"/><rect x="370.5" width="8.5" height="8.5" fill="#d5d9ee"/><rect x="378.5" width="8.5" height="8.5" fill="#daddf0"/><rect x="386.5" width="8.5" height="8.5" fill="#dde0f2"/><rect x="394.5" width="8.5" height="8.5" fill="#e0e3f4"/><rect x="402.5" width="8.5" height="8.5" fill="#e2e5f5"/><rect x="410.5" width="8.5" height="8.5" fill="#e5e7f6"/><rect x="418.5" width="8.5" height="8.5" fill="#e6e9f7"/><rect x="426.5" width="8.5" height="8.5" fill="#e7eaf8"/><rect x="434.5" width="8.5" height="8.5" fill="#e8eaf8"/><rect x="442.5" width="8.5" height="8.5" fill="#e8eaf8"/><rect x="450.5" width="8.5" height="8.5" fill="#e7e9f8"/><rect x="458.5" width="8.5" height="8.5" fill="#e4e7f6"/><rect x="466.5" width="8.5" height="8.5" fill="#dfe2f3"/><rect x="474.5" width="8.5" height="8.5" fill="#d7dbef"/><rect x="482.5" width="8.5" height="8.5" fill="#cfd4ea"/><rect x="490.5" width="8.5" height="8.5" fill="#cacfe7"/><rect x="498.5" width="8.5" height="8.5" fill="#c7cde6"/><rect x="506.5" width="8.5" height="8.5" fill="#c9cee7"/><rect x="514.5" width="8.5" height="8.5" fill="#cdd2e9"/><rect x="522.5" width="8.5" height="8.5" fill="#d3d7ed"/><rect x="530.5" width="8.5" height="8.5" fill="#d8dcef"/><rect x="538.5" width="8.5" height="8.5" fill="#dadef0"/><rect x="546.5" width="8.5" height="8.5" fill="#dbdef1"/><rect x="554.5" width="8.5" height="8.5" fill="#dbdef1"/><rect x="562.5" width="8.5" height="8.5" fill="#dcdff1"/><rect x="570.5" width="8.5" height="8.5" fill="#dee1f2"/><rect x="578.5" width="8.5" height="8.5" fill="#dfe2f3"/><rect x="586.5" width="8.5" height="8.5" fill="#dfe2f3"/><rect x="594.5" width="8.5" height="8.5" fill="#dcdff1"/><rect x="602.5" width="8.5" height="8.5" fill="#d7dbef"/><rect x="610.5" width="8.5" height="8.5" fill="#d1d5eb"/><rect x="618.5" width="8.5" height="8.5" fill="#cdd1e9"/><rect x="626.5" width="8.5" height="8.5" fill="#cacfe8"/><rect x="634.5" width="8.5" height="8.5" fill="#cacfe8"/><rect x="642.5" width="8.5" height="8.5" fill="#cbd0e8"/><rect x="650.5" width="8.5" height="8.5" fill="#cbcfe8"/><rect x="658.5" width="8.5" height="8.5" fill="#c8cde6"/><rect x="666.5" width="8.5" height="8.5" fill="#c1c7e2"/><rect x="674.5" width="8.5" height="8.5" fill="#b8bedd"/><rect x="682.5" width="8.5" height="8.5" fill="#acb3d7"/><rect x="690.5" width="8.5" height="8.5" fill="#9fa7cf"/><rect x="698.5" width="8.5" height="8.5" fill="#919bc8"/><rect x="706.5" width="8.5" height="8.5" fill="#838ec0"/><rect x="714.5" width="8.5" height="8.5" fill="#7581b8"/><rect x="722.5" width="8.5" height="8.5" fill="#6976b1"/><rect x="730.5" width="8.5" height="8.5" fill="#5f6dac"/><rect x="738.5" width="8.5" height="8.5" fill="#5866a7"/><rect x="746.5" width="8.5" height="8.5" fill="#5261a4"/><rect x="754.5" width="8.5" height="8.5" fill="#4d5ca1"/></g>
<g transform="translate(0,424)"><rect x="186.5" width="8.5" height="8.5" fill="#8a94c3"/><rect x="194.5" width="8.5" height="8.5" fill="#a2aad1"/><rect x="202.5" width="8.5" height="8.5" fill="#bac0de"/><rect x="210.5" width="8.5" height="8.5" fill="#cdd2e9"/><rect x="218.5" width="8.5" height="8.5" fill="#d8dcef"/><rect x="226.5" width="8.5" height="8.5" fill="#d8dcef"/><rect x="234.5" width="8.5" height="8.5" fill="#d2d6ec"/><rect x="242.5" width="8.5" height="8.5" fill="#cbd0e8"/><rect x="250.5" width="8.5" height="8.5" fill="#c6cce5"/><rect x="258.5" width="8.5" height="8.5" fill="#c4cae4"/><rect x="266.5" width="8.5" height="8.5" fill="#c4c9e4"/><rect x="274.5" width="8.5" height="8.5" fill="#c3c9e4"/><rect x="282.5" width="8.5" height="8.5" fill="#c1c7e2"/><rect x="290.5" width="8.5" height="8.5" fill="#bdc3e0"/><rect x="298.5" width="8.5" height="8.5" fill="#b7bedd"/><rect x="306.5" width="8.5" height="8.5" fill="#b1b8d9"/><rect x="314.5" width="8.5" height="8.5" fill="#acb3d7"/><rect x="322.5" width="8.5" height="8.5" fill="#a9b1d5"/><rect x="330.5" width="8.5" height="8.5" fill="#aab2d6"/><rect x="338.5" width="8.5" height="8.5" fill="#afb6d8"/><rect x="346.5" width="8.5" height="8.5" fill="#b7bddd"/><rect x="354.5" width="8.5" height="8.5" fill="#c0c6e2"/><rect x="362.5" width="8.5" height="8.5" fill="#c9cee7"/><rect x="370.5" width="8.5" height="8.5" fill="#cfd4ea"/><rect x="378.5" width="8.5" height="8.5" fill="#d4d8ed"/><rect x="386.5" width="8.5" height="8.5" fill="#d8dbef"/><rect x="394.5" width="8.5" height="8.5" fill="#dbdef1"/><rect x="402.5" width="8.5" height="8.5" fill="#dee1f2"/><rect x="410.5" width="8.5" height="8.5" fill="#e0e3f4"/><rect x="418.5" width="8.5" height="8.5" fill="#e1e4f4"/><rect x="426.5" width="8.5" height="8.5" fill="#e2e5f5"/><rect x="434.5" width="8.5" height="8.5" fill="#e4e7f6"/><rect x="442.5" width="8.5" height="8.5" fill="#e6e8f7"/><rect x="450.5" width="8.5" height="8.5" fill="#e7e9f7"/><rect x="458.5" width="8.5" height="8.5" fill="#e5e8f6"/><rect x="466.5" width="8.5" height="8.5" fill="#e0e3f4"/><rect x="474.5" width="8.5" height="8.5" fill="#d8dcef"/><rect x="482.5" width="8.5" height="8.5" fill="#d1d5eb"/><rect x="490.5" width="8.5" height="8.5" fill="#cbd0e8"/><rect x="498.5" width="8.5" height="8.5" fill="#cacfe7"/><rect x="506.5" width="8.5" height="8.5" fill="#ccd1e9"/><rect x="514.5" width="8.5" height="8.5" fill="#d2d6ec"/><rect x="522.5" width="8.5" height="8.5" fill="#d8dcef"/><rect x="530.5" width="8.5" height="8.5" fill="#dde0f2"/><rect x="538.5" width="8.5" height="8.5" fill="#dee1f3"/><rect x="546.5" width="8.5" height="8.5" fill="#dde0f2"/><rect x="554.5" width="8.5" height="8.5" fill="#dbdff1"/><rect x="562.5" width="8.5" height="8.5" fill="#dadef1"/><rect x="570.5" width="8.5" height="8.5" fill="#dbdef1"/><rect x="578.5" width="8.5" height="8.5" fill="#dbdff1"/><rect x="586.5" width="8.5" height="8.5" fill="#daddf0"/><rect x="594.5" width="8.5" height="8.5" fill="#d6daee"/><rect x="602.5" width="8.5" height="8.5" fill="#cfd4ea"/><rect x="610.5" width="8.5" height="8.5" fill="#c8cde6"/><rect x="618.5" width="8.5" height="8.5" fill="#c1c7e2"/><rect x="626.5" width="8.5" height="8.5" fill="#bcc2e0"/><rect x="634.5" width="8.5" height="8.5" fill="#bac0df"/><rect x="642.5" width="8.5" height="8.5" fill="#bac0de"/><rect x="650.5" width="8.5" height="8.5" fill="#bac0df"/><rect x="658.5" width="8.5" height="8.5" fill="#bbc1df"/><rect x="666.5" width="8.5" height="8.5" fill="#bac0de"/><rect x="674.5" width="8.5" height="8.5" fill="#b7bddd"/><rect x="682.5" width="8.5" height="8.5" fill="#b2b9da"/><rect x="690.5" width="8.5" height="8.5" fill="#abb2d6"/><rect x="698.5" width="8.5" height="8.5" fill="#a1aad1"/><rect x="706.5" width="8.5" height="8.5" fill="#969fca"/><rect x="714.5" width="8.5" height="8.5" fill="#8993c3"/><rect x="722.5" width="8.5" height="8.5" fill="#7b87bb"/><rect x="730.5" width="8.5" height="8.5" fill="#6f7bb4"/><rect x="738.5" width="8.5" height="8.5" fill="#6471ae"/><rect x="746.5" width="8.5" height="8.5" fill="#5a69a9"/><rect x="754.5" width="8.5" height="8.5" fill="#5261a4"/></g>
<g transform="translate(0,432)"><rect x="186.5" width="8.5" height="8.5" fill="#828dbf"/><rect x="194.5" width="8.5" height="8.5" fill="#99a2cc"/><rect x="202.5" width="8.5" height="8.5" fill="#aeb6d8"/><rect x="210.5" width="8.5" height="8.5" fill="#c0c6e2"/><rect x="218.5" width="8.5" height="8.5" fill="#cacfe8"/><rect x="226.5" width="8.5" height="8.5" fill="#ccd0e8"/><rect x="234.5" width="8.5" height="8.5" fill="#c7cde6"/><rect x="242.5" width="8.5" height="8.5" fill="#c2c7e3"/><rect x="250.5" width="8.5" height="8.5" fill="#bec3e0"/><rect x="258.5" width="8.5" height="8.5" fill="#bbc2df"/><rect x="266.5" width="8.5" height="8.5" fill="#bbc1df"/><rect x="274.5" width="8.5" height="8.5" fill="#bac1df"/><rect x="282.5" width="8.5" height="8.5" fill="#b9bfde"/><rect x="290.5" width="8.5" height="8.5" fill="#b6bcdc"/><rect x="298.5" width="8.5" height="8.5" fill="#b2b9da"/><rect x="306.5" width="8.5" height="8.5" fill="#aeb5d8"/><rect x="314.5" width="8.5" height="8.5" fill="#abb2d6"/><rect x="322.5" width="8.5" height="8.5" fill="#aab1d5"/><rect x="330.5" width="8.5" height="8.5" fill="#abb3d6"/><rect x="338.5" width="8.5" height="8.5" fill="#afb6d8"/><rect x="346.5" width="8.5" height="8.5" fill="#b5bcdc"/><rect x="354.5" width="8.5" height="8.5" fill="#bdc3e0"/><rect x="362.5" width="8.5" height="8.5" fill="#c4c9e4"/><rect x="370.5" width="8.5" height="8.5" fill="#cacfe7"/><rect x="378.5" width="8.5" height="8.5" fill="#cfd4ea"/><rect x="386.5" width="8.5" height="8.5" fill="#d3d7ed"/><rect x="394.5" width="8.5" height="8.5" fill="#d7daee"/><rect x="402.5" width="8.5" height="8.5" fill="#d9ddf0"/><rect x="410.5" width="8.5" height="8.5" fill="#dbdef1"/><rect x="418.5" width="8.5" height="8.5" fill="#dce0f2"/><rect x="426.5" width="8.5" height="8.5" fill="#dee1f2"/><rect x="434.5" width="8.5" height="8.5" fill="#e0e3f4"/><rect x="442.5" width="8.5" height="8.5" fill="#e2e5f5"/><rect x="450.5" width="8.5" height="8.5" fill="#e4e7f6"/><rect x="458.5" width="8.5" height="8.5" fill="#e3e6f6"/><rect x="466.5" width="8.5" height="8.5" fill="#dfe2f3"/><rect x="474.5" width="8.5" height="8.5" fill="#d8dcef"/><rect x="482.5" width="8.5" height="8.5" fill="#d1d5eb"/><rect x="490.5" width="8.5" height="8.5" fill="#ccd1e8"/><rect x="498.5" width="8.5" height="8.5" fill="#cbcfe8"/><rect x="506.5" width="8.5" height="8.5" fill="#cdd2e9"/><rect x="514.5" width="8.5" height="8.5" fill="#d3d8ed"/><rect x="522.5" width="8.5" height="8.5" fill="#dadef0"/><rect x="530.5" width="8.5" height="8.5" fill="#dfe2f3"/><rect x="538.5" width="8.5" height="8.5" fill="#e0e3f4"/><rect x="546.5" width="8.5" height="8.5" fill="#dee1f3"/><rect x="554.5" width="8.5" height="8.5" fill="#dcdff1"/><rect x="562.5" width="8.5" height="8.5" fill="#daddf0"/><rect x="570.5" width="8.5" height="8.5" fill="#d9ddf0"/><rect x="578.5" width="8.5" height="8.5" fill="#d9ddf0"/><rect x="586.5" width="8.5" height="8.5" fill="#d7dbef"/><rect x="594.5" width="8.5" height="8.5" fill="#d2d6ec"/><rect x="602.5" width="8.5" height="8.5" fill="#cacfe7"/><rect x="610.5" width="8.5" height="8.5" fill="#c0c6e2"/><rect x="618.5" width="8.5" height="8.5" fill="#b6bddc"/><rect x="626.5" width="8.5" height="8.5" fill="#afb6d8"/><rect x="634.5" width="8.5" height="8.5" fill="#aab1d5"/><rect x="642.5" width="8.5" height="8.5" fill="#a8b0d4"/><rect x="650.5" width="8.5" height="8.5" fill="#aab1d5"/><rect x="658.5" width="8.5" height="8.5" fill="#adb4d7"/><rect x="666.5" width="8.5" height="8.5" fill="#b2b9da"/><rect x="674.5" width="8.5" height="8.5" fill="#b6bddc"/><rect x="682.5" width="8.5" height="8.5" fill="#b9bfde"/><rect x="690.5" width="8.5" height="8.5" fill="#b9bfde"/><rect x="698.5" width="8.5" height="8.5" fill="#b4badb"/><rect x="706.5" width="8.5" height="8.5" fill="#aab2d6"/><rect x="714.5" width="8.5" height="8.5" fill="#9da5ce"/><rect x="722.5" width="8.5" height="8.5" fill="#8e98c6"/><rect x="730.5" width="8.5" height="8.5" fill="#7e89bd"/><rect x="738.5" width="8.5" height="8.5" fill="#707cb5"/><rect x="746.5" width="8.5" height="8.5" fill="#6370ae"/><rect x="754.5" width="8.5" height="8.5" fill="#5867a8"/></g>
<g transform="translate(0,440)"><rect x="186.5" width="8.5" height="8.5" fill="#7782b9"/><rect x="194.5" width="8.5" height="8.5" fill="#8a94c4"/><rect x="202.5" width="8.5" height="8.5" fill="#9da6ce"/><rect x="210.5" width="8.5" height="8.5" fill="#acb4d7"/><rect x="218.5" width="8.5" height="8.5" fill="#b6bddc"/><rect x="226.5" width="8.5" height="8.5" fill="#bac0de"/><rect x="234.5" width="8.5" height="8.5" fill="#b9bfde"/><rect x="242.5" width="8.5" height="8.5" fill="#b7bddd"/><rect x="250.5" width="8.5" height="8.5" fill="#b5bcdc"/><rect x="258.5" width="8.5" height="8.5" fill="#b5bbdb"/><rect x="266.5" width="8.5" height="8.5" fill="#b5bcdc"/><rect x="274.5" width="8.5" height="8.5" fill="#b5bcdc"/><rect x="282.5" width="8.5" height="8.5" fill="#b5bbdc"/><rect x="290.5" width="8.5" height="8.5" fill="#b3badb"/><rect x="298.5" width="8.5" height="8.5" fill="#b1b8d9"/><rect x="306.5" width="8.5" height="8.5" fill="#afb6d8"/><rect x="314.5" width="8.5" height="8.5" fill="#aeb5d8"/><rect x="322.5" width="8.5" height="8.5" fill="#aeb5d8"/><rect x="330.5" width="8.5" height="8.5" fill="#b0b7d9"/><rect x="338.5" width="8.5" height="8.5" fill="#b3bada"/><rect x="346.5" width="8.5" height="8.5" fill="#b7bedd"/><rect x="354.5" width="8.5" height="8.5" fill="#bdc3e0"/><rect x="362.5" width="8.5" height="8.5" fill="#c2c8e3"/><rect x="370.5" width="8.5" height="8.5" fill="#c7cce6"/><rect x="378.5" width="8.5" height="8.5" fill="#ccd1e9"/><rect x="386.5" width="8.5" height="8.5" fill="#d1d5eb"/><rect x="394.5" width="8.5" height="8.5" fill="#d4d8ed"/><rect x="402.5" width="8.5" height="8.5" fill="#d7dbef"/><rect x="410.5" width="8.5" height="8.5" fill="#d8dcef"/><rect x="418.5" width="8.5" height="8.5" fill="#d8dcef"/><rect x="426.5" width="8.5" height="8.5" fill="#d9ddf0"/><rect x="434.5" width="8.5" height="8.5" fill="#dbdff1"/><rect x="442.5" width="8.5" height="8.5" fill="#dee1f3"/><rect x="450.5" width="8.5" height="8.5" fill="#e0e3f4"/><rect x="458.5" width="8.5" height="8.5" fill="#e0e3f4"/><rect x="466.5" width="8.5" height="8.5" fill="#dde0f2"/><rect x="474.5" width="8.5" height="8.5" fill="#d7dbef"/><rect x="482.5" width="8.5" height="8.5" fill="#d0d4eb"/><rect x="490.5" width="8.5" height="8.5" fill="#cbd0e8"/><rect x="498.5" width="8.5" height="8.5" fill="#cacfe7"/><rect x="506.5" width="8.5" height="8.5" fill="#cdd1e9"/><rect x="514.5" width="8.5" height="8.5" fill="#d2d6ec"/><rect x="522.5" width="8.5" height="8.5" fill="#d8dcef"/><rect x="530.5" width="8.5" height="8.5" fill="#dde0f2"/><rect x="538.5" width="8.5" height="8.5" fill="#dfe2f3"/><rect x="546.5" width="8.5" height="8.5" fill="#dde1f2"/><rect x="554.5" width="8.5" height="8.5" fill="#dbdff1"/><rect x="562.5" width="8.5" height="8.5" fill="#dadef0"/><rect x="570.5" width="8.5" height="8.5" fill="#dadef0"/><rect x="578.5" width="8.5" height="8.5" fill="#daddf0"/><rect x="586.5" width="8.5" height="8.5" fill="#d7dbef"/><rect x="594.5" width="8.5" height="8.5" fill="#d1d5eb"/><rect x="602.5" width="8.5" height="8.5" fill="#c7cce6"/><rect x="610.5" width="8.5" height="8.5" fill="#bac1df"/><rect x="618.5" width="8.5" height="8.5" fill="#adb4d7"/><rect x="626.5" width="8.5" height="8.5" fill="#a2aad1"/><rect x="634.5" width="8.5" height="8.5" fill="#9aa3cc"/><rect x="642.5" width="8.5" height="8.5" fill="#97a0cb"/><rect x="650.5" width="8.5" height="8.5" fill="#99a2cc"/><rect x="658.5" width="8.5" height="8.5" fill="#a0a9d0"/><rect x="666.5" width="8.5" height="8.5" fill="#aab2d6"/><rect x="674.5" width="8.5" height="8.5" fill="#b5bcdc"/><rect x="682.5" width="8.5" height="8.5" fill="#c0c6e2"/><rect x="690.5" width="8.5" height="8.5" fill="#c7cce6"/><rect x="698.5" width="8.5" height="8.5" fill="#c7cce6"/><rect x="706.5" width="8.5" height="8.5" fill="#bfc5e1"/><rect x="714.5" width="8.5" height="8.5" fill="#b0b7d9"/><rect x="722.5" width="8.5" height="8.5" fill="#9ea7cf"/><rect x="730.5" width="8.5" height="8.5" fill="#8c96c4"/><rect x="738.5" width="8.5" height="8.5" fill="#7a85bb"/><rect x="746.5" width="8.5" height="8.5" fill="#6a77b2"/><rect x="754.5" width="8.5" height="8.5" fill="#5d6bab"/></g>
<g transform="translate(0,448)"><rect x="186.5" width="8.5" height="8.5" fill="#6976b1"/><rect x="194.5" width="8.5" height="8.5" fill="#7a85ba"/><rect x="202.5" width="8.5" height="8.5" fill="#8993c3"/><rect x="210.5" width="8.5" height="8.5" fill="#97a0cb"/><rect x="218.5" width="8.5" height="8.5" fill="#a1a9d0"/><rect x="226.5" width="8.5" height="8.5" fill="#a7afd4"/><rect x="234.5" width="8.5" height="8.5" fill="#aab2d6"/><rect x="242.5" width="8.5" height="8.5" fill="#acb4d7"/><rect x="250.5" width="8.5" height="8.5" fill="#afb6d8"/><rect x="258.5" width="8.5" height="8.5" fill="#b1b8d9"/><rect x="266.5" width="8.5" height="8.5" fill="#b4badb"/><rect x="274.5" width="8.5" height="8.5" fill="#b5bcdc"/><rect x="282.5" width="8.5" height="8.5" fill="#b6bcdc"/><rect x="290.5" width="8.5" height="8.5" fill="#b5bcdc"/><rect x="298.5" width="8.5" height="8.5" fill="#b5bbdb"/><rect x="306.5" width="8.5" height="8.5" fill="#b4bbdb"/><rect x="314.5" width="8.5" height="8.5" fill="#b4bbdb"/><rect x="322.5" width="8.5" height="8.5" fill="#b6bcdc"/><rect x="330.5" width="8.5" height="8.5" fill="#b8bedd"/><rect x="338.5" width="8.5" height="8.5" fill="#bac0df"/><rect x="346.5" width="8.5" height="8.5" fill="#bdc3e0"/><rect x="354.5" width="8.5" height="8.5" fill="#c0c6e2"/><rect x="362.5" width="8.5" height="8.5" fill="#c4c9e4"/><rect x="370.5" width="8.5" height="8.5" fill="#c8cde6"/><rect x="378.5" width="8.5" height="8.5" fill="#ccd1e9"/><rect x="386.5" width="8.5" height="8.5" fill="#d1d5eb"/><rect x="394.5" width="8.5" height="8.5" fill="#d4d8ed"/><rect x="402.5" width="8.5" height="8.5" fill="#d6daee"/><rect x="410.5" width="8.5" height="8.5" fill="#d6daee"/><rect x="418.5" width="8.5" height="8.5" fill="#d6daee"/><rect x="426.5" width="8.5" height="8.5" fill="#d6daee"/><rect x="434.5" width="8.5" height="8.5" fill="#d7dbef"/><rect x="442.5" width="8.5" height="8.5" fill="#daddf0"/><rect x="450.5" width="8.5" height="8.5" fill="#dce0f2"/><rect x="458.5" width="8.5" height="8.5" fill="#dde0f2"/><rect x="466.5" width="8.5" height="8.5" fill="#dbdef1"/><rect x="474.5" width="8.5" height="8.5" fill="#d6daee"/><rect x="482.5" width="8.5" height="8.5" fill="#d0d4eb"/><rect x="490.5" width="8.5" height="8.5" fill="#cbd0e8"/><rect x="498.5" width="8.5" height="8.5" fill="#c9cee7"/><rect x="506.5" width="8.5" height="8.5" fill="#cacfe8"/><rect x="514.5" width="8.5" height="8.5" fill="#ced3ea"/><rect x="522.5" width="8.5" height="8.5" fill="#d4d8ed"/><rect x="530.5" width="8.5" height="8.5" fill="#d8dcef"/><rect x="538.5" width="8.5" height="8.5" fill="#dbdef1"/><rect x="546.5" width="8.5" height="8.5" fill="#dbdff1"/><rect x="554.5" width="8.5" height="8.5" fill="#dbdff1"/><rect x="562.5" width="8.5" height="8.5" fill="#dcdff1"/><rect x="570.5" width="8.5" height="8.5" fill="#dde0f2"/><rect x="578.5" width="8.5" height="8.5" fill="#dde1f2"/><rect x="586.5" width="8.5" height="8.5" fill="#dbdef1"/><rect x="594.5" width="8.5" height="8.5" fill="#d4d8ed"/><rect x="602.5" width="8.5" height="8.5" fill="#c8cde6"/><rect x="610.5" width="8.5" height="8.5" fill="#b7bedd"/><rect x="618.5" width="8.5" height="8.5" fill="#a6aed3"/><rect x="626.5" width="8.5" height="8.5" fill="#969fca"/><rect x="634.5" width="8.5" height="8.5" fill="#8a95c4"/><rect x="642.5" width="8.5" height="8.5" fill="#8691c2"/><rect x="650.5" width="8.5" height="8.5" fill="#8a94c3"/><rect x="658.5" width="8.5" height="8.5" fill="#949dc9"/><rect x="666.5" width="8.5" height="8.5" fill="#a2aad1"/><rect x="674.5" width="8.5" height="8.5" fill="#b3badb"/><rect x="682.5" width="8.5" height="8.5" fill="#c5cae4"/><rect x="690.5" width="8.5" height="8.5" fill="#d2d7ec"/><rect x="698.5" width="8.5" height="8.5" fill="#d8dbef"/><rect x="706.5" width="8.5" height="8.5" fill="#d1d5eb"/><rect x="714.5" width="8.5" height="8.5" fill="#c1c7e2"/><rect x="722.5" width="8.5" height="8.5" fill="#acb3d7"/><rect x="730.5" width="8.5" height="8.5" fill="#969fca"/><rect x="738.5" width="8.5" height="8.5" fill="#828dbf"/><rect x="746.5" width="8.5" height="8.5" fill="#707db5"/><rect x="754.5" width="8.5" height="8.5" fill="#626fad"/></g>
<g transform="translate(0,456)"><rect x="186.5" width="8.5" height="8.5" fill="#5c6aaa"/><rect x="194.5" width="8.5" height="8.5" fill="#6976b1"/><rect x="202.5" width="8.5" height="8.5" fill="#7682b9"/><rect x="210.5" width="8.5" height="8.5" fill="#828dbf"/><rect x="218.5" width="8.5" height="8.5" fill="#8d97c5"/><rect x="226.5" width="8.5" height="8.5" fill="#959fca"/><rect x="234.5" width="8.5" height="8.5" fill="#9da6ce"/><rect x="242.5" width="8.5" height="8.5" fill="#a4acd2"/><rect x="250.5" width="8.5" height="8.5" fill="#abb2d6"/><rect x="258.5" width="8.5" height="8.5" fill="#b1b8da"/><rect x="266.5" width="8.5" height="8.5" fill="#b7bddd"/><rect x="274.5" width="8.5" height="8.5" fill="#bac1df"/><rect x="282.5" width="8.5" height="8.5" fill="#bcc2e0"/><rect x="290.5" width="8.5" height="8.5" fill="#bdc3e0"/><rect x="298.5" width="8.5" height="8.5" fill="#bdc3e0"/><rect x="306.5" width="8.5" height="8.5" fill="#bdc3e0"/><rect x="314.5" width="8.5" height="8.5" fill="#bec4e1"/><rect x="322.5" width="8.5" height="8.5" fill="#c0c6e2"/><rect x="330.5" width="8.5" height="8.5" fill="#c2c8e3"/><rect x="338.5" width="8.5" height="8.5" fill="#c4cae4"/><rect x="346.5" width="8.5" height="8.5" fill="#c6cbe5"/><rect x="354.5" width="8.5" height="8.5" fill="#c6cce5"/><rect x="362.5" width="8.5" height="8.5" fill="#c8cde6"/><rect x="370.5" width="8.5" height="8.5" fill="#cacfe8"/><rect x="378.5" width="8.5" height="8.5" fill="#ced3ea"/><rect x="386.5" width="8.5" height="8.5" fill="#d2d6ec"/><rect x="394.5" width="8.5" height="8.5" fill="#d5d9ee"/><rect x="402.5" width="8.5" height="8.5" fill="#d7daee"/><rect x="410.5" width="8.5" height="8.5" fill="#d6daee"/><rect x="418.5" width="8.5" height="8.5" fill="#d4d8ed"/><rect x="426.5" width="8.5" height="8.5" fill="#d3d7ec"/><rect x="434.5" width="8.5" height="8.5" fill="#d4d8ed"/><rect x="442.5" width="8.5" height="8.5" fill="#d6daee"/><rect x="450.5" width="8.5" height="8.5" fill="#d9dcf0"/><rect x="458.5" width="8.5" height="8.5" fill="#dadef1"/><rect x="466.5" width="8.5" height="8.5" fill="#daddf0"/><rect x="474.5" width="8.5" height="8.5" fill="#d6daee"/><rect x="482.5" width="8.5" height="8.5" fill="#d0d5eb"/><rect x="490.5" width="8.5" height="8.5" fill="#cbd0e8"/><rect x="498.5" width="8.5" height="8.5" fill="#c8cde7"/><rect x="506.5" width="8.5" height="8.5" fill="#c8cde6"/><rect x="514.5" width="8.5" height="8.5" fill="#cbcfe8"/><rect x="522.5" width="8.5" height="8.5" fill="#cfd3ea"/><rect x="530.5" width="8.5" height="8.5" fill="#d3d7ec"/><rect x="538.5" width="8.5" height="8.5" fill="#d6daee"/><rect x="546.5" width="8.5" height="8.5" fill="#d9ddf0"/><rect x="554.5" width="8.5" height="8.5" fill="#dbdff1"/><rect x="562.5" width="8.5" height="8.5" fill="#dee1f3"/><rect x="570.5" width="8.5" height="8.5" fill="#e1e4f4"/><rect x="578.5" width="8.5" height="8.5" fill="#e3e6f5"/><rect x="586.5" width="8.5" height="8.5" fill="#e1e4f4"/><rect x="594.5" width="8.5" height="8.5" fill="#d9ddf0"/><rect x="602.5" width="8.5" height="8.5" fill="#cbd0e8"/><rect x="610.5" width="8.5" height="8.5" fill="#b7bddd"/><rect x="618.5" width="8.5" height="8.5" fill="#a0a9d0"/><rect x="626.5" width="8.5" height="8.5" fill="#8c96c5"/><rect x="634.5" width="8.5" height="8.5" fill="#7d88bc"/><rect x="642.5" width="8.5" height="8.5" fill="#7883b9"/><rect x="650.5" width="8.5" height="8.5" fill="#7c87bc"/><rect x="658.5" width="8.5" height="8.5" fill="#8892c2"/><rect x="666.5" width="8.5" height="8.5" fill="#9aa3cc"/><rect x="674.5" width="8.5" height="8.5" fill="#afb6d8"/><rect x="682.5" width="8.5" height="8.5" fill="#c4cae4"/><rect x="690.5" width="8.5" height="8.5" fill="#d7dbef"/><rect x="698.5" width="8.5" height="8.5" fill="#e1e4f4"/><rect x="706.5" width="8.5" height="8.5" fill="#dcdff1"/><rect x="714.5" width="8.5" height="8.5" fill="#cbd0e8"/><rect x="722.5" width="8.5" height="8.5" fill="#b4bbdb"/><rect x="730.5" width="8.5" height="8.5" fill="#9da5ce"/><rect x="738.5" width="8.5" height="8.5" fill="#8791c2"/><rect x="746.5" width="8.5" height="8.5" fill="#7480b7"/><rect x="754.5" width="8.5" height="8.5" fill="#6472af"/></g>
<g transform="translate(0,464)"><rect x="186.5" width="8.5" height="8.5" fill="#505fa3"/><rect x="194.5" width="8.5" height="8.5" fill="#5b69a9"/><rect x="202.5" width="8.5" height="8.5" fill="#6673af"/><rect x="210.5" width="8.5" height="8.5" fill="#717db6"/><rect x="218.5" width="8.5" height="8.5" fill="#7c88bc"/><rect x="226.5" width="8.5" height="8.5" fill="#8792c2"/><rect x="234.5" width="8.5" height="8.5" fill="#939cc8"/><rect x="242.5" width="8.5" height="8.5" fill="#9ea7cf"/><rect x="250.5" width="8.5" height="8.5" fill="#aab2d5"/><rect x="258.5" width="8.5" height="8.5" fill="#b5bcdc"/><rect x="266.5" width="8.5" height="8.5" fill="#bec4e1"/><rect x="274.5" width="8.5" height="8.5" fill="#c4cae4"/><rect x="282.5" width="8.5" height="8.5" fill="#c7cce6"/><rect x="290.5" width="8.5" height="8.5" fill="#c8cde6"/><rect x="298.5" width="8.5" height="8.5" fill="#c8cde6"/><rect x="306.5" width="8.5" height="8.5" fill="#c9cee7"/><rect x="314.5" width="8.5" height="8.5" fill="#cacfe8"/><rect x="322.5" width="8.5" height="8.5" fill="#ccd1e9"/><rect x="330.5" width="8.5" height="8.5" fill="#ced3ea"/><rect x="338.5" width="8.5" height="8.5" fill="#cfd4ea"/><rect x="346.5" width="8.5" height="8.5" fill="#cfd3ea"/><rect x="354.5" width="8.5" height="8.5" fill="#ced2e9"/><rect x="362.5" width="8.5" height="8.5" fill="#cdd1e9"/><rect x="370.5" width="8.5" height="8.5" fill="#cdd2e9"/><rect x="378.5" width="8.5" height="8.5" fill="#d0d4eb"/><rect x="386.5" width="8.5" height="8.5" fill="#d3d7ec"/><rect x="394.5" width="8.5" height="8.5" fill="#d6daee"/><rect x="402.5" width="8.5" height="8.5" fill="#d7dbef"/><rect x="410.5" width="8.5" height="8.5" fill="#d5d9ee"/><rect x="418.5" width="8.5" height="8.5" fill="#d3d7ed"/><rect x="426.5" width="8.5" height="8.5" fill="#d1d6ec"/><rect x="434.5" width="8.5" height="8.5" fill="#d1d6ec"/><rect x="442.5" width="8.5" height="8.5" fill="#d3d8ed"/><rect x="450.5" width="8.5" height="8.5" fill="#d7dbef"/><rect x="458.5" width="8.5" height="8.5" fill="#daddf0"/><rect x="466.5" width="8.5" height="8.5" fill="#dadef1"/><rect x="474.5" width="8.5" height="8.5" fill="#d8dcef"/><rect x="482.5" width="8.5" height="8.5" fill="#d3d8ed"/><rect x="490.5" width="8.5" height="8.5" fill="#ced3ea"/><rect x="498.5" width="8.5" height="8.5" fill="#cacfe7"/><rect x="506.5" width="8.5" height="8.5" fill="#c8cde6"/><rect x="514.5" width="8.5" height="8.5" fill="#c8cde7"/><rect x="522.5" width="8.5" height="8.5" fill="#cbd0e8"/><rect x="530.5" width="8.5" height="8.5" fill="#cfd4ea"/><rect x="538.5" width="8.5" height="8.5" fill="#d3d8ed"/><rect x="546.5" width="8.5" height="8.5" fill="#d8dcef"/><rect x="554.5" width="8.5" height="8.5" fill="#dde0f2"/><rect x="562.5" width="8.5" height="8.5" fill="#e2e5f5"/><rect x="570.5" width="8.5" height="8.5" fill="#e7e9f7"/><rect x="578.5" width="8.5" height="8.5" fill="#eaecf9"/><rect x="586.5" width="8.5" height="8.5" fill="#e9ebf9"/><rect x="594.5" width="8.5" height="8.5" fill="#e0e3f4"/><rect x="602.5" width="8.5" height="8.5" fill="#d0d4eb"/><rect x="610.5" width="8.5" height="8.5" fill="#b8bfdd"/><rect x="618.5" width="8.5" height="8.5" fill="#9ea7cf"/><rect x="626.5" width="8.5" height="8.5" fill="#8590c1"/><rect x="634.5" width="8.5" height="8.5" fill="#7480b7"/><rect x="642.5" width="8.5" height="8.5" fill="#6d7ab3"/><rect x="650.5" width="8.5" height="8.5" fill="#717db6"/><rect x="658.5" width="8.5" height="8.5" fill="#7e89bd"/><rect x="666.5" width="8.5" height="8.5" fill="#919bc7"/><rect x="674.5" width="8.5" height="8.5" fill="#a7afd4"/><rect x="682.5" width="8.5" height="8.5" fill="#bec4e1"/><rect x="690.5" width="8.5" height="8.5" fill="#d2d6ec"/><rect x="698.5" width="8.5" height="8.5" fill="#dee1f3"/><rect x="706.5" width="8.5" height="8.5" fill="#dbdff1"/><rect x="714.5" width="8.5" height="8.5" fill="#ccd1e8"/><rect x="722.5" width="8.5" height="8.5" fill="#b6bcdc"/><rect x="730.5" width="8.5" height="8.5" fill="#9ea7cf"/><rect x="738.5" width="8.5" height="8.5" fill="#8893c3"/><rect x="746.5" width="8.5" height="8.5" fill="#7581b8"/><rect x="754.5" width="8.5" height="8.5" fill="#6673af"/></g>
<g transform="translate(0,472)"><rect x="186.5" width="8.5" height="8.5" fill="#46569d"/><rect x="194.5" width="8.5" height="8.5" fill="#4f5ea2"/><rect x="202.5" width="8.5" height="8.5" fill="#5967a8"/><rect x="210.5" width="8.5" height="8.5" fill="#6471ae"/><rect x="218.5" width="8.5" height="8.5" fill="#6f7cb5"/><rect x="226.5" width="8.5" height="8.5" fill="#7c88bc"/><rect x="234.5" width="8.5" height="8.5" fill="#8b95c4"/><rect x="242.5" width="8.5" height="8.5" fill="#9aa3cd"/><rect x="250.5" width="8.5" height="8.5" fill="#aab2d6"/><rect x="258.5" width="8.5" height="8.5" fill="#bac0df"/><rect x="266.5" width="8.5" height="8.5" fill="#c7cde6"/><rect x="274.5" width="8.5" height="8.5" fill="#d1d5eb"/><rect x="282.5" width="8.5" height="8.5" fill="#d5d9ee"/><rect x="290.5" width="8.5" height="8.5" fill="#d6daee"/><rect x="298.5" width="8.5" height="8.5" fill="#d5d9ee"/><rect x="306.5" width="8.5" height="8.5" fill="#d5d9ed"/><rect x="314.5" width="8.5" height="8.5" fill="#d6d9ee"/><rect x="322.5" width="8.5" height="8.5" fill="#d7dbef"/><rect x="330.5" width="8.5" height="8.5" fill="#d8dcef"/><rect x="338.5" width="8.5" height="8.5" fill="#d8dcef"/><rect x="346.5" width="8.5" height="8.5" fill="#d6daee"/><rect x="354.5" width="8.5" height="8.5" fill="#d2d7ec"/><rect x="362.5" width="8.5" height="8.5" fill="#cfd3ea"/><rect x="370.5" width="8.5" height="8.5" fill="#cdd2e9"/><rect x="378.5" width="8.5" height="8.5" fill="#ced3ea"/><rect x="386.5" width="8.5" height="8.5" fill="#d1d5eb"/><rect x="394.5" width="8.5" height="8.5" fill="#d4d8ed"/><rect x="402.5" width="8.5" height="8.5" fill="#d5d9ee"/><rect x="410.5" width="8.5" height="8.5" fill="#d4d8ed"/><rect x="418.5" width="8.5" height="8.5" fill="#d2d7ec"/><rect x="426.5" width="8.5" height="8.5" fill="#d1d5eb"/><rect x="434.5" width="8.5" height="8.5" fill="#d1d5eb"/><rect x="442.5" width="8.5" height="8.5" fill="#d3d7ec"/><rect x="450.5" width="8.5" height="8.5" fill="#d7dbef"/><rect x="458.5" width="8.5" height="8.5" fill="#dbdef1"/><rect x="466.5" width="8.5" height="8.5" fill="#dde1f2"/><rect x="474.5" width="8.5" height="8.5" fill="#dde0f2"/><rect x="482.5" width="8.5" height="8.5" fill="#d9dcf0"/><rect x="490.5" width="8.5" height="8.5" fill="#d3d7ec"/><rect x="498.5" width="8.5" height="8.5" fill="#ced2e9"/><rect x="506.5" width="8.5" height="8.5" fill="#cacfe7"/><rect x="514.5" width="8.5" height="8.5" fill="#c9cee7"/><rect x="522.5" width="8.5" height="8.5" fill="#cbcfe8"/><rect x="530.5" width="8.5" height="8.5" fill="#ced3ea"/><rect x="538.5" width="8.5" height="8.5" fill="#d3d7ed"/><rect x="546.5" width="8.5" height="8.5" fill="#d9ddf0"/><rect x="554.5" width="8.5" height="8.5" fill="#dfe2f3"/><rect x="562.5" width="8.5" height="8.5" fill="#e6e8f7"/><rect x="570.5" width="8.5" height="8.5" fill="#eceefa"/><rect x="578.5" width="8.5" height="8.5" fill="#edeffb"/><rect x="586.5" width="8.5" height="8.5" fill="#edeffb"/><rect x="594.5" width="8.5" height="8.5" fill="#e7e9f8"/><rect x="602.5" width="8.5" height="8.5" fill="#d5d9ee"/><rect x="610.5" width="8.5" height="8.5" fill="#bcc2e0"/><rect x="618.5" width="8.5" height="8.5" fill="#a0a8d0"/><rect x="626.5" width="8.5" height="8.5" fill="#8590c1"/><rect x="634.5" width="8.5" height="8.5" fill="#717db6"/><rect x="642.5" width="8.5" height="8.5" fill="#6875b1"/><rect x="650.5" width="8.5" height="8.5" fill="#6b78b2"/><rect x="658.5" width="8.5" height="8.5" fill="#7782b9"/><rect x="666.5" width="8.5" height="8.5" fill="#8993c3"/><rect x="674.5" width="8.5" height="8.5" fill="#9ea6cf"/><rect x="682.5" width="8.5" height="8.5" fill="#b3badb"/><rect x="690.5" width="8.5" height="8.5" fill="#c6cbe5"/><rect x="698.5" width="8.5" height="8.5" fill="#d2d6ec"/><rect x="706.5" width="8.5" height="8.5" fill="#d1d6ec"/><rect x="714.5" width="8.5" height="8.5" fill="#c5cbe5"/><rect x="722.5" width="8.5" height="8.5" fill="#b2b9da"/><rect x="730.5" width="8.5" height="8.5" fill="#9ca5ce"/><rect x="738.5" width="8.5" height="8.5" fill="#8792c2"/><rect x="746.5" width="8.5" height="8.5" fill="#7581b8"/><rect x="754.5" width="8.5" height="8.5" fill="#6573af"/></g>
<g transform="translate(0,480)"><rect x="186.5" width="8.5" height="8.5" fill="#45559d"/><rect x="194.5" width="8.5" height="8.5" fill="#46569e"/><rect x="202.5" width="8.5" height="8.5" fill="#4f5fa3"/><rect x="210.5" width="8.5" height="8.5" fill="#5a68a9"/><rect x="218.5" width="8.5" height="8.5" fill="#6673b0"/><rect x="226.5" width="8.5" height="8.5" fill="#7480b8"/><rect x="234.5" width="8.5" height="8.5" fill="#858fc1"/><rect x="242.5" width="8.5" height="8.5" fill="#97a0cb"/><rect x="250.5" width="8.5" height="8.5" fill="#abb2d6"/><rect x="258.5" width="8.5" height="8.5" fill="#bec4e1"/><rect x="266.5" width="8.5" height="8.5" fill="#cfd4ea"/><rect x="274.5" width="8.5" height="8.5" fill="#dbdff1"/><rect x="282.5" width="8.5" height="8.5" fill="#e1e4f4"/><rect x="290.5" width="8.5" height="8.5" fill="#e1e4f4"/><rect x="298.5" width="8.5" height="8.5" fill="#dfe2f3"/><rect x="306.5" width="8.5" height="8.5" fill="#dde1f2"/><rect x="314.5" width="8.5" height="8.5" fill="#dde0f2"/><rect x="322.5" width="8.5" height="8.5" fill="#dde0f2"/><rect x="330.5" width="8.5" height="8.5" fill="#dde1f2"/><rect x="338.5" width="8.5" height="8.5" fill="#dcdff1"/><rect x="346.5" width="8.5" height="8.5" fill="#d8dbef"/><rect x="354.5" width="8.5" height="8.5" fill="#d2d6ec"/><rect x="362.5" width="8.5" height="8.5" fill="#ccd1e9"/><rect x="370.5" width="8.5" height="8.5" fill="#c9cee7"/><rect x="378.5" width="8.5" height="8.5" fill="#c8cde6"/><rect x="386.5" width="8.5" height="8.5" fill="#cbd0e8"/><rect x="394.5" width="8.5" height="8.5" fill="#ced3ea"/><rect x="402.5" width="8.5" height="8.5" fill="#d1d6eb"/><rect x="410.5" width="8.5" height="8.5" fill="#d2d7ec"/><rect x="418.5" width="8.5" height="8.5" fill="#d2d6ec"/><rect x="426.5" width="8.5" height="8.5" fill="#d1d5eb"/><rect x="434.5" width="8.5" height="8.5" fill="#d1d6ec"/><rect x="442.5" width="8.5" height="8.5" fill="#d4d8ed"/><rect x="450.5" width="8.5" height="8.5" fill="#d8dcef"/><rect x="458.5" width="8.5" height="8.5" fill="#dee1f2"/><rect x="466.5" width="8.5" height="8.5" fill="#e2e4f5"/><rect x="474.5" width="8.5" height="8.5" fill="#e2e5f5"/><rect x="482.5" width="8.5" height="8.5" fill="#dfe2f3"/><rect x="490.5" width="8.5" height="8.5" fill="#d9ddf0"/><rect x="498.5" width="8.5" height="8.5" fill="#d3d7ec"/><rect x="506.5" width="8.5" height="8.5" fill="#ced3ea"/><rect x="514.5" width="8.5" height="8.5" fill="#ccd1e9"/><rect x="522.5" width="8.5" height="8.5" fill="#cdd2e9"/><rect x="530.5" width="8.5" height="8.5" fill="#d1d5eb"/><rect x="538.5" width="8.5" height="8.5" fill="#d6daee"/><rect x="546.5" width="8.5" height="8.5" fill="#dce0f2"/><rect x="554.5" width="8.5" height="8.5" fill="#e3e6f5"/><rect x="562.5" width="8.5" height="8.5" fill="#eaecf9"/><rect x="570.5" width="8.5" height="8.5" fill="#edeffb"/><rect x="578.5" width="8.5" height="8.5" fill="#edeffb"/><rect x="586.5" width="8.5" height="8.5" fill="#edeffb"/><rect x="594.5" width="8.5" height="8.5" fill="#eceefa"/><rect x="602.5" width="8.5" height="8.5" fill="#dbdef1"/><rect x="610.5" width="8.5" height="8.5" fill="#c2c8e3"/><rect x="618.5" width="8.5" height="8.5" fill="#a6aed3"/><rect x="626.5" width="8.5" height="8.5" fill="#8a94c4"/><rect x="634.5" width="8.5" height="8.5" fill="#7581b8"/><rect x="642.5" width="8.5" height="8.5" fill="#6a77b2"/><rect x="650.5" width="8.5" height="8.5" fill="#6a76b1"/><rect x="658.5" width="8.5" height="8.5" fill="#727fb6"/><rect x="666.5" width="8.5" height="8.5" fill="#818cbf"/><rect x="674.5" width="8.5" height="8.5" fill="#939dc9"/><rect x="682.5" width="8.5" height="8.5" fill="#a6aed3"/><rect x="690.5" width="8.5" height="8.5" fill="#b7bddd"/><rect x="698.5" width="8.5" height="8.5" fill="#c2c8e3"/><rect x="706.5" width="8.5" height="8.5" fill="#c4c9e4"/><rect x="714.5" width="8.5" height="8.5" fill="#bbc1df"/><rect x="722.5" width="8.5" height="8.5" fill="#abb3d6"/><rect x="730.5" width="8.5" height="8.5" fill="#98a2cc"/><rect x="738.5" width="8.5" height="8.5" fill="#8590c1"/><rect x="746.5" width="8.5" height="8.5" fill="#7480b7"/><rect x="754.5" width="8.5" height="8.5" fill="#6572af"/></g>
<g transform="translate(0,488)"><rect x="186.5" width="8.5" height="8.5" fill="#45559d"/><rect x="194.5" width="8.5" height="8.5" fill="#45559d"/><rect x="202.5" width="8.5" height="8.5" fill="#4a5aa0"/><rect x="210.5" width="8.5" height="8.5" fill="#5463a6"/><rect x="218.5" width="8.5" height="8.5" fill="#616fad"/><rect x="226.5" width="8.5" height="8.5" fill="#6f7cb5"/><rect x="234.5" width="8.5" height="8.5" fill="#818cbe"/><rect x="242.5" width="8.5" height="8.5" fill="#949dc9"/><rect x="250.5" width="8.5" height="8.5" fill="#a9b1d5"/><rect x="258.5" width="8.5" height="8.5" fill="#bec4e1"/><rect x="266.5" width="8.5" height="8.5" fill="#d1d5eb"/><rect x="274.5" width="8.5" height="8.5" fill="#dfe2f3"/><rect x="282.5" width="8.5" height="8.5" fill="#e6e8f7"/><rect x="290.5" width="8.5" height="8.5" fill="#e6e8f7"/><rect x="298.5" width="8.5" height="8.5" fill="#e3e6f5"/><rect x="306.5" width="8.5" height="8.5" fill="#e0e3f4"/><rect x="314.5" width="8.5" height="8.5" fill="#dee1f3"/><rect x="322.5" width="8.5" height="8.5" fill="#dde0f2"/><rect x="330.5" width="8.5" height="8.5" fill="#dcdff1"/><rect x="338.5" width="8.5" height="8.5" fill="#d9dcf0"/><rect x="346.5" width="8.5" height="8.5" fill="#d3d7ed"/><rect x="354.5" width="8.5" height="8.5" fill="#ccd1e8"/><rect x="362.5" width="8.5" height="8.5" fill="#c5cae5"/><rect x="370.5" width="8.5" height="8.5" fill="#c0c6e2"/><rect x="378.5" width="8.5" height="8.5" fill="#c0c5e2"/><rect x="386.5" width="8.5" height="8.5" fill="#c2c8e3"/><rect x="394.5" width="8.5" height="8.5" fill="#c7cce6"/><rect x="402.5" width="8.5" height="8.5" fill="#ccd1e9"/><rect x="410.5" width="8.5" height="8.5" fill="#d0d4eb"/><rect x="418.5" width="8.5" height="8.5" fill="#d2d6ec"/><rect x="426.5" width="8.5" height="8.5" fill="#d2d6ec"/><rect x="434.5" width="8.5" height="8.5" fill="#d3d7ed"/><rect x="442.5" width="8.5" height="8.5" fill="#d6daee"/><rect x="450.5" width="8.5" height="8.5" fill="#dadef1"/><rect x="458.5" width="8.5" height="8.5" fill="#e0e3f4"/><rect x="466.5" width="8.5" height="8.5" fill="#e5e8f7"/><rect x="474.5" width="8.5" height="8.5" fill="#e7e9f7"/><rect x="482.5" width="8.5" height="8.5" fill="#e4e7f6"/><rect x="490.5" width="8.5" height="8.5" fill="#dfe2f3"/><rect x="498.5" width="8.5" height="8.5" fill="#d9dcf0"/><rect x="506.5" width="8.5" height="8.5" fill="#d4d8ed"/><rect x="514.5" width="8.5" height="8.5" fill="#d1d6ec"/><rect x="522.5" width="8.5" height="8.5" fill="#d2d6ec"/><rect x="530.5" width="8.5" height="8.5" fill="#d5d9ee"/><rect x="538.5" width="8.5" height="8.5" fill="#dbdef1"/><rect x="546.5" width="8.5" height="8.5" fill="#e1e4f4"/><rect x="554.5" width="8.5" height="8.5" fill="#e7eaf8"/><rect x="562.5" width="8.5" height="8.5" fill="#edeffb"/><rect x="570.5" width="8.5" height="8.5" fill="#edeffb"/><rect x="578.5" width="8.5" height="8.5" fill="#edeffb"/><rect x="586.5" width="8.5" height="8.5" fill="#edeffb"/><rect x="594.5" width="8.5" height="8.5" fill="#edeffb"/><rect x="602.5" width="8.5" height="8.5" fill="#dfe2f3"/><rect x="610.5" width="8.5" height="8.5" fill="#c9cee7"/><rect x="618.5" width="8.5" height="8.5" fill="#aeb6d8"/><rect x="626.5" width="8.5" height="8.5" fill="#949dc9"/><rect x="634.5" width="8.5" height="8.5" fill="#7e89bd"/><rect x="642.5" width="8.5" height="8.5" fill="#707cb5"/><rect x="650.5" width="8.5" height="8.5" fill="#6c78b3"/><rect x="658.5" width="8.5" height="8.5" fill="#707cb5"/><rect x="666.5" width="8.5" height="8.5" fill="#7a86bb"/><rect x="674.5" width="8.5" height="8.5" fill="#8993c3"/><rect x="682.5" width="8.5" height="8.5" fill="#99a2cc"/><rect x="690.5" width="8.5" height="8.5" fill="#a8b0d5"/><rect x="698.5" width="8.5" height="8.5" fill="#b3badb"/><rect x="706.5" width="8.5" height="8.5" fill="#b7bddd"/><rect x="714.5" width="8.5" height="8.5" fill="#b2b9da"/><rect x="722.5" width="8.5" height="8.5" fill="#a6aed3"/><rect x="730.5" width="8.5" height="8.5" fill="#959fca"/><rect x="738.5" width="8.5" height="8.5" fill="#848fc0"/><rect x="746.5" width="8.5" height="8.5" fill="#737fb7"/><rect x="754.5" width="8.5" height="8.5" fill="#6472af"/></g>
<g transform="translate(0,496)"><rect x="186.5" width="8.5" height="8.5" fill="#45559d"/><rect x="194.5" width="8.5" height="8.5" fill="#45559d"/><rect x="202.5" width="8.5" height="8.5" fill="#49589f"/><rect x="210.5" width="8.5" height="8.5" fill="#5362a5"/><rect x="218.5" width="8.5" height="8.5" fill="#5f6dac"/><rect x="226.5" width="8.5" height="8.5" fill="#6e7ab4"/><rect x="234.5" width="8.5" height="8.5" fill="#7e89bd"/><rect x="242.5" width="8.5" height="8.5" fill="#919bc8"/><rect x="250.5" width="8.5" height="8.5" fill="#a5add3"/><rect x="258.5" width="8.5" height="8.5" fill="#bac0de"/><rect x="266.5" width="8.5" height="8.5" fill="#ccd1e9"/><rect x="274.5" width="8.5" height="8.5" fill="#daddf0"/><rect x="282.5" width="8.5" height="8.5" fill="#e1e4f4"/><rect x="290.5" width="8.5" height="8.5" fill="#e2e5f5"/><rect x="298.5" width="8.5" height="8.5" fill="#dfe2f3"/><rect x="306.5" width="8.5" height="8.5" fill="#dce0f2"/><rect x="314.5" width="8.5" height="8.5" fill="#dadef1"/><rect x="322.5" width="8.5" height="8.5" fill="#d9dcf0"/><rect x="330.5" width="8.5" height="8.5" fill="#d7daee"/><rect x="338.5" width="8.5" height="8.5" fill="#d3d7ec"/><rect x="346.5" width="8.5" height="8.5" fill="#ccd1e9"/><rect x="354.5" width="8.5" height="8.5" fill="#c4cae4"/><rect x="362.5" width="8.5" height="8.5" fill="#bdc3e0"/><rect x="370.5" width="8.5" height="8.5" fill="#b8bedd"/><rect x="378.5" width="8.5" height="8.5" fill="#b7bddd"/><rect x="386.5" width="8.5" height="8.5" fill="#bac0de"/><rect x="394.5" width="8.5" height="8.5" fill="#c0c5e2"/><rect x="402.5" width="8.5" height="8.5" fill="#c7cce6"/><rect x="410.5" width="8.5" height="8.5" fill="#cdd2e9"/><rect x="418.5" width="8.5" height="8.5" fill="#d1d6eb"/><rect x="426.5" width="8.5" height="8.5" fill="#d3d7ed"/><rect x="434.5" width="8.5" height="8.5" fill="#d5d9ed"/><rect x="442.5" width="8.5" height="8.5" fill="#d7dbef"/><rect x="450.5" width="8.5" height="8.5" fill="#dcdff1"/><rect x="458.5" width="8.5" height="8.5" fill="#e1e4f4"/><rect x="466.5" width="8.5" height="8.5" fill="#e6e8f7"/><rect x="474.5" width="8.5" height="8.5" fill="#e8eaf8"/><rect x="482.5" width="8.5" height="8.5" fill="#e7e9f7"/><rect x="490.5" width="8.5" height="8.5" fill="#e2e5f5"/><rect x="498.5" width="8.5" height="8.5" fill="#dde0f2"/><rect x="506.5" width="8.5" height="8.5" fill="#d9ddf0"/><rect x="514.5" width="8.5" height="8.5" fill="#d7dbef"/><rect x="522.5" width="8.5" height="8.5" fill="#d8dcef"/><rect x="530.5" width="8.5" height="8.5" fill="#dcdff1"/><rect x="538.5" width="8.5" height="8.5" fill="#e1e4f4"/><rect x="546.5" width="8.5" height="8.5" fill="#e6e9f7"/><rect x="554.5" width="8.5" height="8.5" fill="#ebedfa"/><rect x="562.5" width="8.5" height="8.5" fill="#edeffb"/><rect x="570.5" width="8.5" height="8.5" fill="#edeffb"/><rect x="578.5" width="8.5" height="8.5" fill="#edeffb"/><rect x="586.5" width="8.5" height="8.5" fill="#edeffb"/><rect x="594.5" width="8.5" height="8.5" fill="#edeffb"/><rect x="602.5" width="8.5" height="8.5" fill="#e2e5f5"/><rect x="610.5" width="8.5" height="8.5" fill="#d0d4eb"/><rect x="618.5" width="8.5" height="8.5" fill="#b8bfdd"/><rect x="626.5" width="8.5" height="8.5" fill="#9fa8cf"/><rect x="634.5" width="8.5" height="8.5" fill="#8893c3"/><rect x="642.5" width="8.5" height="8.5" fill="#7783b9"/><rect x="650.5" width="8.5" height="8.5" fill="#6e7bb4"/><rect x="658.5" width="8.5" height="8.5" fill="#6d7ab3"/><rect x="666.5" width="8.5" height="8.5" fill="#7480b7"/><rect x="674.5" width="8.5" height="8.5" fill="#7f8bbe"/><rect x="682.5" width="8.5" height="8.5" fill="#8e98c6"/><rect x="690.5" width="8.5" height="8.5" fill="#9da5ce"/><rect x="698.5" width="8.5" height="8.5" fill="#a9b0d5"/><rect x="706.5" width="8.5" height="8.5" fill="#aeb6d8"/><rect x="714.5" width="8.5" height="8.5" fill="#adb4d7"/><rect x="722.5" width="8.5" height="8.5" fill="#a3acd2"/><rect x="730.5" width="8.5" height="8.5" fill="#959fca"/><rect x="738.5" width="8.5" height="8.5" fill="#8590c1"/><rect x="746.5" width="8.5" height="8.5" fill="#7480b8"/><rect x="754.5" width="8.5" height="8.5" fill="#6573af"/></g>
<g transform="translate(0,504)"><rect x="186.5" width="8.5" height="8.5" fill="#45559d"/><rect x="194.5" width="8.5" height="8.5" fill="#45559d"/><rect x="202.5" width="8.5" height="8.5" fill="#4b5ba1"/><rect x="210.5" width="8.5" height="8.5" fill="#5664a6"/><rect x="218.5" width="8.5" height="8.5" fill="#626fad"/><rect x="226.5" width="8.5" height="8.5" fill="#6f7cb5"/><rect x="234.5" width="8.5" height="8.5" fill="#7e8abd"/><rect x="242.5" width="8.5" height="8.5" fill="#8f99c6"/><rect x="250.5" width="8.5" height="8.5" fill="#a1a9d1"/><rect x="258.5" width="8.5" height="8.5" fill="#b3badb"/><rect x="266.5" width="8.5" height="8.5" fill="#c3c9e4"/><rect x="274.5" width="8.5" height="8.5" fill="#d0d4eb"/><rect x="282.5" width="8.5" height="8.5" fill="#d7dbef"/><rect x="290.5" width="8.5" height="8.5" fill="#d9ddf0"/><rect x="298.5" width="8.5" height="8.5" fill="#d8dcef"/><rect x="306.5" width="8.5" height="8.5" fill="#d7daee"/><rect x="314.5" width="8.5" height="8.5" fill="#d5d9ee"/><rect x="322.5" width="8.5" height="8.5" fill="#d4d8ed"/><rect x="330.5" width="8.5" height="8.5" fill="#d1d6eb"/><rect x="338.5" width="8.5" height="8.5" fill="#cdd2e9"/><rect x="346.5" width="8.5" height="8.5" fill="#c6cbe5"/><rect x="354.5" width="8.5" height="8.5" fill="#bec4e0"/><rect x="362.5" width="8.5" height="8.5" fill="#b6bcdc"/><rect x="370.5" width="8.5" height="8.5" fill="#b1b8d9"/><rect x="378.5" width="8.5" height="8.5" fill="#b0b7d9"/><rect x="386.5" width="8.5" height="8.5" fill="#b3bada"/><rect x="394.5" width="8.5" height="8.5" fill="#bac0de"/><rect x="402.5" width="8.5" height="8.5" fill="#c2c8e3"/><rect x="410.5" width="8.5" height="8.5" fill="#cacfe8"/><rect x="418.5" width="8.5" height="8.5" fill="#d0d5eb"/><rect x="426.5" width="8.5" height="8.5" fill="#d3d8ed"/><rect x="434.5" width="8.5" height="8.5" fill="#d5d9ee"/><rect x="442.5" width="8.5" height="8.5" fill="#d7dbef"/><rect x="450.5" width="8.5" height="8.5" fill="#dadef0"/><rect x="458.5" width="8.5" height="8.5" fill="#dee2f3"/><rect x="466.5" width="8.5" height="8.5" fill="#e2e5f5"/><rect x="474.5" width="8.5" height="8.5" fill="#e5e7f6"/><rect x="482.5" width="8.5" height="8.5" fill="#e4e7f6"/><rect x="490.5" width="8.5" height="8.5" fill="#e2e5f5"/><rect x="498.5" width="8.5" height="8.5" fill="#dee2f3"/><rect x="506.5" width="8.5" height="8.5" fill="#dce0f2"/><rect x="514.5" width="8.5" height="8.5" fill="#dcdff1"/><rect x="522.5" width="8.5" height="8.5" fill="#dee1f3"/><rect x="530.5" width="8.5" height="8.5" fill="#e2e4f5"/><rect x="538.5" width="8.5" height="8.5" fill="#e6e8f7"/><rect x="546.5" width="8.5" height="8.5" fill="#eaecf9"/><rect x="554.5" width="8.5" height="8.5" fill="#edeffb"/><rect x="562.5" width="8.5" height="8.5" fill="#edeffb"/><rect x="570.5" width="8.5" height="8.5" fill="#edeffb"/><rect x="578.5" width="8.5" height="8.5" fill="#edeffb"/><rect x="586.5" width="8.5" height="8.5" fill="#edeffb"/><rect x="594.5" width="8.5" height="8.5" fill="#edeffb"/><rect x="602.5" width="8.5" height="8.5" fill="#e4e7f6"/><rect x="610.5" width="8.5" height="8.5" fill="#d5d9ee"/><rect x="618.5" width="8.5" height="8.5" fill="#c1c7e2"/><rect x="626.5" width="8.5" height="8.5" fill="#a9b1d5"/><rect x="634.5" width="8.5" height="8.5" fill="#919bc8"/><rect x="642.5" width="8.5" height="8.5" fill="#7d88bc"/><rect x="650.5" width="8.5" height="8.5" fill="#6f7cb5"/><rect x="658.5" width="8.5" height="8.5" fill="#6a77b2"/><rect x="666.5" width="8.5" height="8.5" fill="#6d7ab4"/><rect x="674.5" width="8.5" height="8.5" fill="#7884b9"/><rect x="682.5" width="8.5" height="8.5" fill="#8691c2"/><rect x="690.5" width="8.5" height="8.5" fill="#969fca"/><rect x="698.5" width="8.5" height="8.5" fill="#a4acd2"/><rect x="706.5" width="8.5" height="8.5" fill="#acb3d7"/><rect x="714.5" width="8.5" height="8.5" fill="#adb4d7"/><rect x="722.5" width="8.5" height="8.5" fill="#a6aed3"/><rect x="730.5" width="8.5" height="8.5" fill="#99a2cc"/><rect x="738.5" width="8.5" height="8.5" fill="#8994c3"/><rect x="746.5" width="8.5" height="8.5" fill="#7884ba"/><rect x="754.5" width="8.5" height="8.5" fill="#6976b1"/></g>
<g transform="translate(0,512)"><rect x="186.5" width="8.5" height="8.5" fill="#45559d"/><rect x="194.5" width="8.5" height="8.5" fill="#48589f"/><rect x="202.5" width="8.5" height="8.5" fill="#5261a4"/><rect x="210.5" width="8.5" height="8.5" fill="#5d6baa"/><rect x="218.5" width="8.5" height="8.5" fill="#6875b1"/><rect x="226.5" width="8.5" height="8.5" fill="#7581b8"/><rect x="234.5" width="8.5" height="8.5" fill="#828dbf"/><rect x="242.5" width="8.5" height="8.5" fill="#909ac7"/><rect x="250.5" width="8.5" height="8.5" fill="#9ea7cf"/><rect x="258.5" width="8.5" height="8.5" fill="#adb4d7"/><rect x="266.5" width="8.5" height="8.5" fill="#bbc1df"/><rect x="274.5" width="8.5" height="8.5" fill="#c6cbe5"/><rect x="282.5" width="8.5" height="8.5" fill="#cdd2e9"/><rect x="290.5" width="8.5" height="8.5" fill="#d1d5eb"/><rect x="298.5" width="8.5" height="8.5" fill="#d2d6ec"/><rect x="306.5" width="8.5" height="8.5" fill="#d2d6ec"/><rect x="314.5" width="8.5" height="8.5" fill="#d1d6eb"/><rect x="322.5" width="8.5" height="8.5" fill="#d0d5eb"/><rect x="330.5" width="8.5" height="8.5" fill="#ced3ea"/><rect x="338.5" width="8.5" height="8.5" fill="#cacfe7"/><rect x="346.5" width="8.5" height="8.5" fill="#c3c8e3"/><rect x="354.5" width="8.5" height="8.5" fill="#bac1df"/><rect x="362.5" width="8.5" height="8.5" fill="#b2b9da"/><rect x="370.5" width="8.5" height="8.5" fill="#adb4d7"/><rect x="378.5" width="8.5" height="8.5" fill="#acb3d6"/><rect x="386.5" width="8.5" height="8.5" fill="#afb6d8"/><rect x="394.5" width="8.5" height="8.5" fill="#b6bddc"/><rect x="402.5" width="8.5" height="8.5" fill="#bfc5e1"/><rect x="410.5" width="8.5" height="8.5" fill="#c8cde6"/><rect x="418.5" width="8.5" height="8.5" fill="#cfd3ea"/><rect x="426.5" width="8.5" height="8.5" fill="#d2d7ec"/><rect x="434.5" width="8.5" height="8.5" fill="#d4d8ed"/><rect x="442.5" width="8.5" height="8.5" fill="#d5d9ed"/><rect x="450.5" width="8.5" height="8.5" fill="#d6daee"/><rect x="458.5" width="8.5" height="8.5" fill="#d9ddf0"/><rect x="466.5" width="8.5" height="8.5" fill="#dcdff1"/><rect x="474.5" width="8.5" height="8.5" fill="#dde1f2"/><rect x="482.5" width="8.5" height="8.5" fill="#dee1f3"/><rect x="490.5" width="8.5" height="8.5" fill="#dde1f2"/><rect x="498.5" width="8.5" height="8.5" fill="#dde0f2"/><rect x="506.5" width="8.5" height="8.5" fill="#dde1f2"/><rect x="514.5" width="8.5" height="8.5" fill="#dfe2f3"/><rect x="522.5" width="8.5" height="8.5" fill="#e2e5f5"/><rect x="530.5" width="8.5" height="8.5" fill="#e6e8f7"/><rect x="538.5" width="8.5" height="8.5" fill="#e9ebf9"/><rect x="546.5" width="8.5" height="8.5" fill="#ebedfa"/><rect x="554.5" width="8.5" height="8.5" fill="#eceefa"/><rect x="562.5" width="8.5" height="8.5" fill="#eceefb"/><rect x="570.5" width="8.5" height="8.5" fill="#eceefb"/><rect x="578.5" width="8.5" height="8.5" fill="#edeffb"/><rect x="586.5" width="8.5" height="8.5" fill="#edeffb"/><rect x="594.5" width="8.5" height="8.5" fill="#ebedfa"/><rect x="602.5" width="8.5" height="8.5" fill="#e5e8f7"/><rect x="610.5" width="8.5" height="8.5" fill="#daddf0"/><rect x="618.5" width="8.5" height="8.5" fill="#c8cde6"/><rect x="626.5" width="8.5" height="8.5" fill="#b1b8da"/><rect x="634.5" width="8.5" height="8.5" fill="#99a2cc"/><rect x="642.5" width="8.5" height="8.5" fill="#818cbf"/><rect x="650.5" width="8.5" height="8.5" fill="#707cb5"/><rect x="658.5" width="8.5" height="8.5" fill="#6775b0"/><rect x="666.5" width="8.5" height="8.5" fill="#6976b1"/><rect x="674.5" width="8.5" height="8.5" fill="#7480b7"/><rect x="682.5" width="8.5" height="8.5" fill="#848fc0"/><rect x="690.5" width="8.5" height="8.5" fill="#969fca"/><rect x="698.5" width="8.5" height="8.5" fill="#a6aed3"/><rect x="706.5" width="8.5" height="8.5" fill="#b1b8d9"/><rect x="714.5" width="8.5" height="8.5" fill="#b4bbdb"/><rect x="722.5" width="8.5" height="8.5" fill="#afb6d8"/><rect x="730.5" width="8.5" height="8.5" fill="#a2aad1"/><rect x="738.5" width="8.5" height="8.5" fill="#919bc8"/><rect x="746.5" width="8.5" height="8.5" fill="#7f8abd"/><rect x="754.5" width="8.5" height="8.5" fill="#6e7ab4"/></g>
<g transform="translate(0,520)"><rect x="186.5" width="8.5" height="8.5" fill="#47579e"/><rect x="194.5" width="8.5" height="8.5" fill="#5261a4"/><rect x="202.5" width="8.5" height="8.5" fill="#5d6baa"/><rect x="210.5" width="8.5" height="8.5" fill="#6875b1"/><rect x="218.5" width="8.5" height="8.5" fill="#7480b7"/><rect x="226.5" width="8.5" height="8.5" fill="#7f8abd"/><rect x="234.5" width="8.5" height="8.5" fill="#8994c3"/><rect x="242.5" width="8.5" height="8.5" fill="#949ec9"/><rect x="250.5" width="8.5" height="8.5" fill="#9fa8d0"/><rect x="258.5" width="8.5" height="8.5" fill="#abb2d6"/><rect x="266.5" width="8.5" height="8.5" fill="#b5bcdc"/><rect x="274.5" width="8.5" height="8.5" fill="#bfc5e1"/><rect x="282.5" width="8.5" height="8.5" fill="#c6cce5"/><rect x="290.5" width="8.5" height="8.5" fill="#cbd0e8"/><rect x="298.5" width="8.5" height="8.5" fill="#ced3ea"/><rect x="306.5" width="8.5" height="8.5" fill="#cfd4ea"/><rect x="314.5" width="8.5" height="8.5" fill="#d0d5eb"/><rect x="322.5" width="8.5" height="8.5" fill="#d0d5eb"/><rect x="330.5" width="8.5" height="8.5" fill="#cfd3ea"/><rect x="338.5" width="8.5" height="8.5" fill="#cbcfe8"/><rect x="346.5" width="8.5" height="8.5" fill="#c4c9e4"/><rect x="354.5" width="8.5" height="8.5" fill="#bbc1df"/><rect x="362.5" width="8.5" height="8.5" fill="#b2b9da"/><rect x="370.5" width="8.5" height="8.5" fill="#adb4d7"/><rect x="378.5" width="8.5" height="8.5" fill="#abb3d6"/><rect x="386.5" width="8.5" height="8.5" fill="#aeb5d8"/><rect x="394.5" width="8.5" height="8.5" fill="#b5bcdc"/><rect x="402.5" width="8.5" height="8.5" fill="#bec4e1"/><rect x="410.5" width="8.5" height="8.5" fill="#c7cce6"/><rect x="418.5" width="8.5" height="8.5" fill="#cdd2e9"/><rect x="426.5" width="8.5" height="8.5" fill="#d0d5eb"/><rect x="434.5" width="8.5" height="8.5" fill="#d1d5eb"/><rect x="442.5" width="8.5" height="8.5" fill="#d1d6ec"/><rect x="450.5" width="8.5" height="8.5" fill="#d2d6ec"/><rect x="458.5" width="8.5" height="8.5" fill="#d3d7ec"/><rect x="466.5" width="8.5" height="8.5" fill="#d4d8ed"/><rect x="474.5" width="8.5" height="8.5" fill="#d6daee"/><rect x="482.5" width="8.5" height="8.5" fill="#d7daee"/><rect x="490.5" width="8.5" height="8.5" fill="#d8dcef"/><rect x="498.5" width="8.5" height="8.5" fill="#daddf0"/><rect x="506.5" width="8.5" height="8.5" fill="#dce0f2"/><rect x="514.5" width="8.5" height="8.5" fill="#e0e3f4"/><rect x="522.5" width="8.5" height="8.5" fill="#e4e7f6"/><rect x="530.5" width="8.5" height="8.5" fill="#e7eaf8"/><rect x="538.5" width="8.5" height="8.5" fill="#e9ecf9"/><rect x="546.5" width="8.5" height="8.5" fill="#eaecf9"/><rect x="554.5" width="8.5" height="8.5" fill="#e9ecf9"/><rect x="562.5" width="8.5" height="8.5" fill="#e9ebf9"/><rect x="570.5" width="8.5" height="8.5" fill="#e9ebf9"/><rect x="578.5" width="8.5" height="8.5" fill="#e9ecf9"/><rect x="586.5" width="8.5" height="8.5" fill="#eaecf9"/><rect x="594.5" width="8.5" height="8.5" fill="#eaecf9"/><rect x="602.5" width="8.5" height="8.5" fill="#e6e9f7"/><rect x="610.5" width="8.5" height="8.5" fill="#dde0f2"/><rect x="618.5" width="8.5" height="8.5" fill="#cdd2e9"/><rect x="626.5" width="8.5" height="8.5" fill="#b8bedd"/><rect x="634.5" width="8.5" height="8.5" fill="#9fa8cf"/><rect x="642.5" width="8.5" height="8.5" fill="#8791c2"/><rect x="650.5" width="8.5" height="8.5" fill="#737fb7"/><rect x="658.5" width="8.5" height="8.5" fill="#6976b1"/><rect x="666.5" width="8.5" height="8.5" fill="#6a77b2"/><rect x="674.5" width="8.5" height="8.5" fill="#7581b8"/><rect x="682.5" width="8.5" height="8.5" fill="#8892c2"/><rect x="690.5" width="8.5" height="8.5" fill="#9ca5ce"/><rect x="698.5" width="8.5" height="8.5" fill="#afb6d8"/><rect x="706.5" width="8.5" height="8.5" fill="#bcc2df"/><rect x="714.5" width="8.5" height="8.5" fill="#c0c6e2"/><rect x="722.5" width="8.5" height="8.5" fill="#bcc2df"/><rect x="730.5" width="8.5" height="8.5" fill="#aeb5d8"/><rect x="738.5" width="8.5" height="8.5" fill="#9ca5ce"/><rect x="746.5" width="8.5" height="8.5" fill="#8892c2"/><rect x="754.5" width="8.5" height="8.5" fill="#7480b8"/></g>
<g transform="translate(0,528)"><rect x="186.5" width="8.5" height="8.5" fill="#5261a4"/><rect x="194.5" width="8.5" height="8.5" fill="#5e6cab"/><rect x="202.5" width="8.5" height="8.5" fill="#6b78b2"/><rect x="210.5" width="8.5" height="8.5" fill="#7884b9"/><rect x="218.5" width="8.5" height="8.5" fill="#838ec0"/><rect x="226.5" width="8.5" height="8.5" fill="#8d97c5"/><rect x="234.5" width="8.5" height="8.5" fill="#959fca"/><rect x="242.5" width="8.5" height="8.5" fill="#9da6ce"/><rect x="250.5" width="8.5" height="8.5" fill="#a4add2"/><rect x="258.5" width="8.5" height="8.5" fill="#adb4d7"/><rect x="266.5" width="8.5" height="8.5" fill="#b5bcdc"/><rect x="274.5" width="8.5" height="8.5" fill="#bdc3e0"/><rect x="282.5" width="8.5" height="8.5" fill="#c4cae4"/><rect x="290.5" width="8.5" height="8.5" fill="#cacfe7"/><rect x="298.5" width="8.5" height="8.5" fill="#ced2ea"/><rect x="306.5" width="8.5" height="8.5" fill="#d0d5eb"/><rect x="314.5" width="8.5" height="8.5" fill="#d2d6ec"/><rect x="322.5" width="8.5" height="8.5" fill="#d3d7ec"/><rect x="330.5" width="8.5" height="8.5" fill="#d2d6ec"/><rect x="338.5" width="8.5" height="8.5" fill="#ced2ea"/><rect x="346.5" width="8.5" height="8.5" fill="#c7cce6"/><rect x="354.5" width="8.5" height="8.5" fill="#bec4e1"/><rect x="362.5" width="8.5" height="8.5" fill="#b5bcdc"/><rect x="370.5" width="8.5" height="8.5" fill="#afb7d9"/><rect x="378.5" width="8.5" height="8.5" fill="#aeb5d8"/><rect x="386.5" width="8.5" height="8.5" fill="#b0b7d9"/><rect x="394.5" width="8.5" height="8.5" fill="#b7bddd"/><rect x="402.5" width="8.5" height="8.5" fill="#bfc5e1"/><rect x="410.5" width="8.5" height="8.5" fill="#c6cce5"/><rect x="418.5" width="8.5" height="8.5" fill="#ccd1e9"/><rect x="426.5" width="8.5" height="8.5" fill="#cfd3ea"/><rect x="434.5" width="8.5" height="8.5" fill="#cfd4ea"/><rect x="442.5" width="8.5" height="8.5" fill="#cfd3ea"/><rect x="450.5" width="8.5" height="8.5" fill="#ced3ea"/><rect x="458.5" width="8.5" height="8.5" fill="#ced3ea"/><rect x="466.5" width="8.5" height="8.5" fill="#cfd3ea"/><rect x="474.5" width="8.5" height="8.5" fill="#cfd4ea"/><rect x="482.5" width="8.5" height="8.5" fill="#d1d5eb"/><rect x="490.5" width="8.5" height="8.5" fill="#d3d7ec"/><rect x="498.5" width="8.5" height="8.5" fill="#d6daee"/><rect x="506.5" width="8.5" height="8.5" fill="#dbdef1"/><rect x="514.5" width="8.5" height="8.5" fill="#e0e3f4"/><rect x="522.5" width="8.5" height="8.5" fill="#e4e7f6"/><rect x="530.5" width="8.5" height="8.5" fill="#e7eaf8"/><rect x="538.5" width="8.5" height="8.5" fill="#e8eaf8"/><rect x="546.5" width="8.5" height="8.5" fill="#e7e9f7"/><rect x="554.5" width="8.5" height="8.5" fill="#e6e8f7"/><rect x="562.5" width="8.5" height="8.5" fill="#e5e8f7"/><rect x="570.5" width="8.5" height="8.5" fill="#e6e9f7"/><rect x="578.5" width="8.5" height="8.5" fill="#e7eaf8"/><rect x="586.5" width="8.5" height="8.5" fill="#e8ebf8"/><rect x="594.5" width="8.5" height="8.5" fill="#e9ebf9"/><rect x="602.5" width="8.5" height="8.5" fill="#e6e9f7"/><rect x="610.5" width="8.5" height="8.5" fill="#dfe2f3"/><rect x="618.5" width="8.5" height="8.5" fill="#d1d6ec"/><rect x="626.5" width="8.5" height="8.5" fill="#bec4e1"/><rect x="634.5" width="8.5" height="8.5" fill="#a6aed3"/><rect x="642.5" width="8.5" height="8.5" fill="#8e98c6"/><rect x="650.5" width="8.5" height="8.5" fill="#7a86bb"/><rect x="658.5" width="8.5" height="8.5" fill="#707cb5"/><rect x="666.5" width="8.5" height="8.5" fill="#707db5"/><rect x="674.5" width="8.5" height="8.5" fill="#7d88bc"/><rect x="682.5" width="8.5" height="8.5" fill="#919bc8"/><rect x="690.5" width="8.5" height="8.5" fill="#a8b0d5"/><rect x="698.5" width="8.5" height="8.5" fill="#bdc3e0"/><rect x="706.5" width="8.5" height="8.5" fill="#cbd0e8"/><rect x="714.5" width="8.5" height="8.5" fill="#d0d5eb"/><rect x="722.5" width="8.5" height="8.5" fill="#cbd0e8"/><rect x="730.5" width="8.5" height="8.5" fill="#bcc2e0"/><rect x="738.5" width="8.5" height="8.5" fill="#a7afd4"/><rect x="746.5" width="8.5" height="8.5" fill="#919bc8"/><rect x="754.5" width="8.5" height="8.5" fill="#7c87bc"/></g>
<g transform="translate(0,536)"><rect x="186.5" width="8.5" height="8.5" fill="#5d6bab"/><rect x="194.5" width="8.5" height="8.5" fill="#6c79b3"/><rect x="202.5" width="8.5" height="8.5" fill="#7c87bc"/><rect x="210.5" width="8.5" height="8.5" fill="#8a94c4"/><rect x="218.5" width="8.5" height="8.5" fill="#969fca"/><rect x="226.5" width="8.5" height="8.5" fill="#9fa8cf"/><rect x="234.5" width="8.5" height="8.5" fill="#a5add3"/><rect x="242.5" width="8.5" height="8.5" fill="#aab1d5"/><rect x="250.5" width="8.5" height="8.5" fill="#aeb5d8"/><rect x="258.5" width="8.5" height="8.5" fill="#b3badb"/><rect x="266.5" width="8.5" height="8.5" fill="#b9c0de"/><rect x="274.5" width="8.5" height="8.5" fill="#c0c6e2"/><rect x="282.5" width="8.5" height="8.5" fill="#c7cce6"/><rect x="290.5" width="8.5" height="8.5" fill="#cdd1e9"/><rect x="298.5" width="8.5" height="8.5" fill="#d1d5eb"/><rect x="306.5" width="8.5" height="8.5" fill="#d4d8ed"/><rect x="314.5" width="8.5" height="8.5" fill="#d5d9ee"/><rect x="322.5" width="8.5" height="8.5" fill="#d6daee"/><rect x="330.5" width="8.5" height="8.5" fill="#d5d9ee"/><rect x="338.5" width="8.5" height="8.5" fill="#d2d6ec"/><rect x="346.5" width="8.5" height="8.5" fill="#cbd0e8"/><rect x="354.5" width="8.5" height="8.5" fill="#c2c8e3"/><rect x="362.5" width="8.5" height="8.5" fill="#b9c0de"/><rect x="370.5" width="8.5" height="8.5" fill="#b4badb"/><rect x="378.5" width="8.5" height="8.5" fill="#b2b9da"/><rect x="386.5" width="8.5" height="8.5" fill="#b4bbdb"/><rect x="394.5" width="8.5" height="8.5" fill="#bac0de"/><rect x="402.5" width="8.5" height="8.5" fill="#c1c7e2"/><rect x="410.5" width="8.5" height="8.5" fill="#c8cde6"/><rect x="418.5" width="8.5" height="8.5" fill="#ccd1e9"/><rect x="426.5" width="8.5" height="8.5" fill="#ced3ea"/><rect x="434.5" width="8.5" height="8.5" fill="#cfd3ea"/><rect x="442.5" width="8.5" height="8.5" fill="#cfd3ea"/><rect x="450.5" width="8.5" height="8.5" fill="#ced2ea"/><rect x="458.5" width="8.5" height="8.5" fill="#cdd2e9"/><rect x="466.5" width="8.5" height="8.5" fill="#ccd1e9"/><rect x="474.5" width="8.5" height="8.5" fill="#ccd1e9"/><rect x="482.5" width="8.5" height="8.5" fill="#cdd2e9"/><rect x="490.5" width="8.5" height="8.5" fill="#d0d4eb"/><rect x="498.5" width="8.5" height="8.5" fill="#d4d8ed"/><rect x="506.5" width="8.5" height="8.5" fill="#dadef0"/><rect x="514.5" width="8.5" height="8.5" fill="#e0e3f4"/><rect x="522.5" width="8.5" height="8.5" fill="#e4e7f6"/><rect x="530.5" width="8.5" height="8.5" fill="#e6e8f7"/><rect x="538.5" width="8.5" height="8.5" fill="#e5e8f7"/><rect x="546.5" width="8.5" height="8.5" fill="#e4e6f6"/><rect x="554.5" width="8.5" height="8.5" fill="#e3e6f5"/><rect x="562.5" width="8.5" height="8.5" fill="#e3e6f5"/><rect x="570.5" width="8.5" height="8.5" fill="#e4e7f6"/><rect x="578.5" width="8.5" height="8.5" fill="#e6e9f7"/><rect x="586.5" width="8.5" height="8.5" fill="#e8eaf8"/><rect x="594.5" width="8.5" height="8.5" fill="#e8ebf8"/><rect x="602.5" width="8.5" height="8.5" fill="#e6e9f7"/><rect x="610.5" width="8.5" height="8.5" fill="#e0e3f4"/><rect x="618.5" width="8.5" height="8.5" fill="#d4d9ed"/><rect x="626.5" width="8.5" height="8.5" fill="#c3c8e3"/><rect x="634.5" width="8.5" height="8.5" fill="#adb5d7"/><rect x="642.5" width="8.5" height="8.5" fill="#97a0cb"/><rect x="650.5" width="8.5" height="8.5" fill="#848fc1"/><rect x="658.5" width="8.5" height="8.5" fill="#7a86bb"/><rect x="666.5" width="8.5" height="8.5" fill="#7b86bb"/><rect x="674.5" width="8.5" height="8.5" fill="#8791c2"/><rect x="682.5" width="8.5" height="8.5" fill="#9ca5ce"/><rect x="690.5" width="8.5" height="8.5" fill="#b4bbdb"/><rect x="698.5" width="8.5" height="8.5" fill="#cacfe7"/><rect x="706.5" width="8.5" height="8.5" fill="#d8dcef"/><rect x="714.5" width="8.5" height="8.5" fill="#dee1f2"/><rect x="722.5" width="8.5" height="8.5" fill="#d8dcef"/><rect x="730.5" width="8.5" height="8.5" fill="#c8cde6"/><rect x="738.5" width="8.5" height="8.5" fill="#b2b9da"/><rect x="746.5" width="8.5" height="8.5" fill="#9aa3cd"/><rect x="754.5" width="8.5" height="8.5" fill="#838ec0"/></g>
<g transform="translate(0,544)"><rect x="186.5" width="8.5" height="8.5" fill="#6875b1"/><rect x="194.5" width="8.5" height="8.5" fill="#7a85bb"/><rect x="202.5" width="8.5" height="8.5" fill="#8c96c5"/><rect x="210.5" width="8.5" height="8.5" fill="#9da5ce"/><rect x="218.5" width="8.5" height="8.5" fill="#aab2d6"/><rect x="226.5" width="8.5" height="8.5" fill="#b3badb"/><rect x="234.5" width="8.5" height="8.5" fill="#b8bedd"/><rect x="242.5" width="8.5" height="8.5" fill="#b9c0de"/><rect x="250.5" width="8.5" height="8.5" fill="#bac1df"/><rect x="258.5" width="8.5" height="8.5" fill="#bdc3e0"/><rect x="266.5" width="8.5" height="8.5" fill="#c1c7e2"/><rect x="274.5" width="8.5" height="8.5" fill="#c7cce6"/><rect x="282.5" width="8.5" height="8.5" fill="#cdd1e9"/><rect x="290.5" width="8.5" height="8.5" fill="#d2d6ec"/><rect x="298.5" width="8.5" height="8.5" fill="#d6daee"/><rect x="306.5" width="8.5" height="8.5" fill="#d8dcef"/><rect x="314.5" width="8.5" height="8.5" fill="#d9dcf0"/><rect x="322.5" width="8.5" height="8.5" fill="#d9dcf0"/><rect x="330.5" width="8.5" height="8.5" fill="#d7dbef"/><rect x="338.5" width="8.5" height="8.5" fill="#d3d8ed"/><rect x="346.5" width="8.5" height="8.5" fill="#cdd1e9"/><rect x="354.5" width="8.5" height="8.5" fill="#c4cae4"/><rect x="362.5" width="8.5" height="8.5" fill="#bcc2e0"/><rect x="370.5" width="8.5" height="8.5" fill="#b7bddd"/><rect x="378.5" width="8.5" height="8.5" fill="#b5bcdc"/><rect x="386.5" width="8.5" height="8.5" fill="#b7bedd"/><rect x="394.5" width="8.5" height="8.5" fill="#bdc3e0"/><rect x="402.5" width="8.5" height="8.5" fill="#c3c9e4"/><rect x="410.5" width="8.5" height="8.5" fill="#c9cee7"/><rect x="418.5" width="8.5" height="8.5" fill="#cdd2e9"/><rect x="426.5" width="8.5" height="8.5" fill="#d0d4eb"/><rect x="434.5" width="8.5" height="8.5" fill="#d1d5eb"/><rect x="442.5" width="8.5" height="8.5" fill="#d1d5eb"/><rect x="450.5" width="8.5" height="8.5" fill="#d0d5eb"/><rect x="458.5" width="8.5" height="8.5" fill="#cfd3ea"/><rect x="466.5" width="8.5" height="8.5" fill="#cdd2e9"/><rect x="474.5" width="8.5" height="8.5" fill="#ccd1e8"/><rect x="482.5" width="8.5" height="8.5" fill="#ccd1e9"/><rect x="490.5" width="8.5" height="8.5" fill="#cfd3ea"/><rect x="498.5" width="8.5" height="8.5" fill="#d3d7ed"/><rect x="506.5" width="8.5" height="8.5" fill="#daddf0"/><rect x="514.5" width="8.5" height="8.5" fill="#e0e3f4"/><rect x="522.5" width="8.5" height="8.5" fill="#e4e6f6"/><rect x="530.5" width="8.5" height="8.5" fill="#e5e7f6"/><rect x="538.5" width="8.5" height="8.5" fill="#e3e6f5"/><rect x="546.5" width="8.5" height="8.5" fill="#e1e4f4"/><rect x="554.5" width="8.5" height="8.5" fill="#e1e4f4"/><rect x="562.5" width="8.5" height="8.5" fill="#e2e5f5"/><rect x="570.5" width="8.5" height="8.5" fill="#e4e7f6"/><rect x="578.5" width="8.5" height="8.5" fill="#e7e9f8"/><rect x="586.5" width="8.5" height="8.5" fill="#e9ebf8"/><rect x="594.5" width="8.5" height="8.5" fill="#e9ebf9"/><rect x="602.5" width="8.5" height="8.5" fill="#e6e9f7"/><rect x="610.5" width="8.5" height="8.5" fill="#e1e4f4"/><rect x="618.5" width="8.5" height="8.5" fill="#d7dbef"/><rect x="626.5" width="8.5" height="8.5" fill="#c7cce6"/><rect x="634.5" width="8.5" height="8.5" fill="#b4badb"/><rect x="642.5" width="8.5" height="8.5" fill="#9fa8cf"/><rect x="650.5" width="8.5" height="8.5" fill="#8e98c6"/><rect x="658.5" width="8.5" height="8.5" fill="#8590c1"/><rect x="666.5" width="8.5" height="8.5" fill="#8690c1"/><rect x="674.5" width="8.5" height="8.5" fill="#909ac7"/><rect x="682.5" width="8.5" height="8.5" fill="#a4acd2"/><rect x="690.5" width="8.5" height="8.5" fill="#bbc1df"/><rect x="698.5" width="8.5" height="8.5" fill="#cfd4ea"/><rect x="706.5" width="8.5" height="8.5" fill="#dde1f2"/><rect x="714.5" width="8.5" height="8.5" fill="#e4e7f6"/><rect x="722.5" width="8.5" height="8.5" fill="#e0e3f4"/><rect x="730.5" width="8.5" height="8.5" fill="#d0d4eb"/><rect x="738.5" width="8.5" height="8.5" fill="#bac0de"/><rect x="746.5" width="8.5" height="8.5" fill="#a1aad1"/><rect x="754.5" width="8.5" height="8.5" fill="#8994c3"/></g>
<g transform="translate(0,552)"><rect x="186.5" width="8.5" height="8.5" fill="#717eb6"/><rect x="194.5" width="8.5" height="8.5" fill="#8590c1"/><rect x="202.5" width="8.5" height="8.5" fill="#9aa2cc"/><rect x="210.5" width="8.5" height="8.5" fill="#adb4d7"/><rect x="218.5" width="8.5" height="8.5" fill="#bdc3e0"/><rect x="226.5" width="8.5" height="8.5" fill="#c7cce6"/><rect x="234.5" width="8.5" height="8.5" fill="#cacfe7"/><rect x="242.5" width="8.5" height="8.5" fill="#c9cee7"/><rect x="250.5" width="8.5" height="8.5" fill="#c8cde6"/><rect x="258.5" width="8.5" height="8.5" fill="#c8cde6"/><rect x="266.5" width="8.5" height="8.5" fill="#cacfe8"/><rect x="274.5" width="8.5" height="8.5" fill="#cfd3ea"/><rect x="282.5" width="8.5" height="8.5" fill="#d4d8ed"/><rect x="290.5" width="8.5" height="8.5" fill="#d8dcef"/><rect x="298.5" width="8.5" height="8.5" fill="#dbdef1"/><rect x="306.5" width="8.5" height="8.5" fill="#dcdff1"/><rect x="314.5" width="8.5" height="8.5" fill="#dbdff1"/><rect x="322.5" width="8.5" height="8.5" fill="#d9ddf0"/><rect x="330.5" width="8.5" height="8.5" fill="#d6daee"/><rect x="338.5" width="8.5" height="8.5" fill="#d1d6ec"/><rect x="346.5" width="8.5" height="8.5" fill="#cacfe7"/><rect x="354.5" width="8.5" height="8.5" fill="#c2c7e3"/><rect x="362.5" width="8.5" height="8.5" fill="#bbc1df"/><rect x="370.5" width="8.5" height="8.5" fill="#b6bcdc"/><rect x="378.5" width="8.5" height="8.5" fill="#b5bcdc"/><rect x="386.5" width="8.5" height="8.5" fill="#b8bedd"/><rect x="394.5" width="8.5" height="8.5" fill="#bdc3e0"/><rect x="402.5" width="8.5" height="8.5" fill="#c3c9e4"/><rect x="410.5" width="8.5" height="8.5" fill="#c9cee7"/><rect x="418.5" width="8.5" height="8.5" fill="#cdd2e9"/><rect x="426.5" width="8.5" height="8.5" fill="#d0d5eb"/><rect x="434.5" width="8.5" height="8.5" fill="#d2d7ec"/><rect x="442.5" width="8.5" height="8.5" fill="#d3d8ed"/><rect x="450.5" width="8.5" height="8.5" fill="#d3d7ec"/><rect x="458.5" width="8.5" height="8.5" fill="#d1d5eb"/><rect x="466.5" width="8.5" height="8.5" fill="#ced3ea"/><rect x="474.5" width="8.5" height="8.5" fill="#ccd1e9"/><rect x="482.5" width="8.5" height="8.5" fill="#cbd0e8"/><rect x="490.5" width="8.5" height="8.5" fill="#cdd2e9"/><rect x="498.5" width="8.5" height="8.5" fill="#d2d6ec"/><rect x="506.5" width="8.5" height="8.5" fill="#d8dcef"/><rect x="514.5" width="8.5" height="8.5" fill="#dee1f3"/><rect x="522.5" width="8.5" height="8.5" fill="#e2e5f5"/><rect x="530.5" width="8.5" height="8.5" fill="#e3e6f5"/><rect x="538.5" width="8.5" height="8.5" fill="#e2e4f5"/><rect x="546.5" width="8.5" height="8.5" fill="#e0e3f4"/><rect x="554.5" width="8.5" height="8.5" fill="#e0e3f4"/><rect x="562.5" width="8.5" height="8.5" fill="#e2e5f5"/><rect x="570.5" width="8.5" height="8.5" fill="#e5e8f7"/><rect x="578.5" width="8.5" height="8.5" fill="#e8ebf8"/><rect x="586.5" width="8.5" height="8.5" fill="#eaecf9"/><rect x="594.5" width="8.5" height="8.5" fill="#e9ebf9"/><rect x="602.5" width="8.5" height="8.5" fill="#e6e9f7"/><rect x="610.5" width="8.5" height="8.5" fill="#e1e4f4"/><rect x="618.5" width="8.5" height="8.5" fill="#d8dcef"/><rect x="626.5" width="8.5" height="8.5" fill="#cacee7"/><rect x="634.5" width="8.5" height="8.5" fill="#b7bedd"/><rect x="642.5" width="8.5" height="8.5" fill="#a4acd2"/><rect x="650.5" width="8.5" height="8.5" fill="#959fca"/><rect x="658.5" width="8.5" height="8.5" fill="#8e98c6"/><rect x="666.5" width="8.5" height="8.5" fill="#8f99c6"/><rect x="674.5" width="8.5" height="8.5" fill="#97a1cb"/><rect x="682.5" width="8.5" height="8.5" fill="#a7afd4"/><rect x="690.5" width="8.5" height="8.5" fill="#bac1df"/><rect x="698.5" width="8.5" height="8.5" fill="#ccd1e9"/><rect x="706.5" width="8.5" height="8.5" fill="#dadef0"/><rect x="714.5" width="8.5" height="8.5" fill="#e2e5f5"/><rect x="722.5" width="8.5" height="8.5" fill="#e0e3f4"/><rect x="730.5" width="8.5" height="8.5" fill="#d3d7ed"/><rect x="738.5" width="8.5" height="8.5" fill="#bfc5e1"/><rect x="746.5" width="8.5" height="8.5" fill="#a7afd4"/><rect x="754.5" width="8.5" height="8.5" fill="#8f99c6"/></g>
<g transform="translate(0,560)"><rect x="186.5" width="8.5" height="8.5" fill="#7783b9"/><rect x="194.5" width="8.5" height="8.5" fill="#8c96c5"/><rect x="202.5" width="8.5" height="8.5" fill="#a2aad1"/><rect x="210.5" width="8.5" height="8.5" fill="#b8bedd"/><rect x="218.5" width="8.5" height="8.5" fill="#cacfe7"/><rect x="226.5" width="8.5" height="8.5" fill="#d5d9ee"/><rect x="234.5" width="8.5" height="8.5" fill="#d9ddf0"/><rect x="242.5" width="8.5" height="8.5" fill="#d8dcef"/><rect x="250.5" width="8.5" height="8.5" fill="#d5d9ee"/><rect x="258.5" width="8.5" height="8.5" fill="#d3d7ec"/><rect x="266.5" width="8.5" height="8.5" fill="#d4d8ed"/><rect x="274.5" width="8.5" height="8.5" fill="#d6daee"/><rect x="282.5" width="8.5" height="8.5" fill="#daddf0"/><rect x="290.5" width="8.5" height="8.5" fill="#dde0f2"/><rect x="298.5" width="8.5" height="8.5" fill="#dfe2f3"/><rect x="306.5" width="8.5" height="8.5" fill="#dee1f3"/><rect x="314.5" width="8.5" height="8.5" fill="#dcdff1"/><rect x="322.5" width="8.5" height="8.5" fill="#d8dcef"/><rect x="330.5" width="8.5" height="8.5" fill="#d3d7ec"/><rect x="338.5" width="8.5" height="8.5" fill="#ccd0e8"/><rect x="346.5" width="8.5" height="8.5" fill="#c3c9e4"/><rect x="354.5" width="8.5" height="8.5" fill="#bbc1df"/><rect x="362.5" width="8.5" height="8.5" fill="#b4bbdb"/><rect x="370.5" width="8.5" height="8.5" fill="#b0b7d9"/><rect x="378.5" width="8.5" height="8.5" fill="#afb6d8"/><rect x="386.5" width="8.5" height="8.5" fill="#b2b9da"/><rect x="394.5" width="8.5" height="8.5" fill="#b7bedd"/><rect x="402.5" width="8.5" height="8.5" fill="#bec4e0"/><rect x="410.5" width="8.5" height="8.5" fill="#c3c9e4"/><rect x="418.5" width="8.5" height="8.5" fill="#c8cde7"/><rect x="426.5" width="8.5" height="8.5" fill="#cdd1e9"/><rect x="434.5" width="8.5" height="8.5" fill="#d0d4eb"/><rect x="442.5" width="8.5" height="8.5" fill="#d2d6ec"/><rect x="450.5" width="8.5" height="8.5" fill="#d2d7ec"/><rect x="458.5" width="8.5" height="8.5" fill="#d0d5eb"/><rect x="466.5" width="8.5" height="8.5" fill="#cdd1e9"/><rect x="474.5" width="8.5" height="8.5" fill="#c9cee7"/><rect x="482.5" width="8.5" height="8.5" fill="#c8cde6"/><rect x="490.5" width="8.5" height="8.5" fill="#c9cee7"/><rect x="498.5" width="8.5" height="8.5" fill="#cdd2e9"/><rect x="506.5" width="8.5" height="8.5" fill="#d3d7ed"/><rect x="514.5" width="8.5" height="8.5" fill="#daddf0"/><rect x="522.5" width="8.5" height="8.5" fill="#dfe2f3"/><rect x="530.5" width="8.5" height="8.5" fill="#e0e3f4"/><rect x="538.5" width="8.5" height="8.5" fill="#e0e3f4"/><rect x="546.5" width="8.5" height="8.5" fill="#e0e3f4"/><rect x="554.5" width="8.5" height="8.5" fill="#e1e4f4"/><rect x="562.5" width="8.5" height="8.5" fill="#e4e7f6"/><rect x="570.5" width="8.5" height="8.5" fill="#e7eaf8"/><rect x="578.5" width="8.5" height="8.5" fill="#eaecf9"/><rect x="586.5" width="8.5" height="8.5" fill="#ebedfa"/><rect x="594.5" width="8.5" height="8.5" fill="#eaecf9"/><rect x="602.5" width="8.5" height="8.5" fill="#e6e9f7"/><rect x="610.5" width="8.5" height="8.5" fill="#e1e4f4"/><rect x="618.5" width="8.5" height="8.5" fill="#d8dcef"/><rect x="626.5" width="8.5" height="8.5" fill="#cacfe8"/><rect x="634.5" width="8.5" height="8.5" fill="#b8bfde"/><rect x="642.5" width="8.5" height="8.5" fill="#a6aed3"/><rect x="650.5" width="8.5" height="8.5" fill="#9aa3cc"/><rect x="658.5" width="8.5" height="8.5" fill="#949ec9"/><rect x="666.5" width="8.5" height="8.5" fill="#969fca"/><rect x="674.5" width="8.5" height="8.5" fill="#9da6ce"/><rect x="682.5" width="8.5" height="8.5" fill="#a9b1d5"/><rect x="690.5" width="8.5" height="8.5" fill="#b8bedd"/><rect x="698.5" width="8.5" height="8.5" fill="#c6cce5"/><rect x="706.5" width="8.5" height="8.5" fill="#d3d7ed"/><rect x="714.5" width="8.5" height="8.5" fill="#dce0f2"/><rect x="722.5" width="8.5" height="8.5" fill="#dde1f2"/><rect x="730.5" width="8.5" height="8.5" fill="#d4d8ed"/><rect x="738.5" width="8.5" height="8.5" fill="#c2c8e3"/><rect x="746.5" width="8.5" height="8.5" fill="#acb3d7"/><rect x="754.5" width="8.5" height="8.5" fill="#959eca"/></g>
<g transform="translate(0,568)"><rect x="186.5" width="8.5" height="8.5" fill="#7884ba"/><rect x="194.5" width="8.5" height="8.5" fill="#8d97c5"/><rect x="202.5" width="8.5" height="8.5" fill="#a4acd2"/><rect x="210.5" width="8.5" height="8.5" fill="#bac0df"/><rect x="218.5" width="8.5" height="8.5" fill="#ced3ea"/><rect x="226.5" width="8.5" height="8.5" fill="#dce0f2"/><rect x="234.5" width="8.5" height="8.5" fill="#e3e6f5"/><rect x="242.5" width="8.5" height="8.5" fill="#e2e5f5"/><rect x="250.5" width="8.5" height="8.5" fill="#dfe2f3"/><rect x="258.5" width="8.5" height="8.5" fill="#dce0f2"/><rect x="266.5" width="8.5" height="8.5" fill="#dbdff1"/><rect x="274.5" width="8.5" height="8.5" fill="#dce0f2"/><rect x="282.5" width="8.5" height="8.5" fill="#dee1f3"/><rect x="290.5" width="8.5" height="8.5" fill="#e0e3f4"/><rect x="298.5" width="8.5" height="8.5" fill="#e1e4f4"/><rect x="306.5" width="8.5" height="8.5" fill="#dfe3f3"/><rect x="314.5" width="8.5" height="8.5" fill="#dcdff1"/><rect x="322.5" width="8.5" height="8.5" fill="#d6daee"/><rect x="330.5" width="8.5" height="8.5" fill="#ced3ea"/><rect x="338.5" width="8.5" height="8.5" fill="#c5cae4"/><rect x="346.5" width="8.5" height="8.5" fill="#bbc1df"/><rect x="354.5" width="8.5" height="8.5" fill="#b1b8d9"/><rect x="362.5" width="8.5" height="8.5" fill="#aab1d5"/><rect x="370.5" width="8.5" height="8.5" fill="#a5add3"/><rect x="378.5" width="8.5" height="8.5" fill="#a5add2"/><rect x="386.5" width="8.5" height="8.5" fill="#a7afd4"/><rect x="394.5" width="8.5" height="8.5" fill="#acb3d7"/><rect x="402.5" width="8.5" height="8.5" fill="#b2b9da"/><rect x="410.5" width="8.5" height="8.5" fill="#b8bedd"/><rect x="418.5" width="8.5" height="8.5" fill="#bdc3e0"/><rect x="426.5" width="8.5" height="8.5" fill="#c2c8e3"/><rect x="434.5" width="8.5" height="8.5" fill="#c6cce5"/><rect x="442.5" width="8.5" height="8.5" fill="#c9cee7"/><rect x="450.5" width="8.5" height="8.5" fill="#cacfe8"/><rect x="458.5" width="8.5" height="8.5" fill="#c8cde7"/><rect x="466.5" width="8.5" height="8.5" fill="#c5cae4"/><rect x="474.5" width="8.5" height="8.5" fill="#c1c6e2"/><rect x="482.5" width="8.5" height="8.5" fill="#bfc4e1"/><rect x="490.5" width="8.5" height="8.5" fill="#bfc5e1"/><rect x="498.5" width="8.5" height="8.5" fill="#c3c9e4"/><rect x="506.5" width="8.5" height="8.5" fill="#cacfe7"/><rect x="514.5" width="8.5" height="8.5" fill="#d2d6ec"/><rect x="522.5" width="8.5" height="8.5" fill="#d8dcef"/><rect x="530.5" width="8.5" height="8.5" fill="#dde0f2"/><rect x="538.5" width="8.5" height="8.5" fill="#dfe2f3"/><rect x="546.5" width="8.5" height="8.5" fill="#e1e4f4"/><rect x="554.5" width="8.5" height="8.5" fill="#e3e6f5"/><rect x="562.5" width="8.5" height="8.5" fill="#e7e9f7"/><rect x="570.5" width="8.5" height="8.5" fill="#eaecf9"/><rect x="578.5" width="8.5" height="8.5" fill="#eceefb"/><rect x="586.5" width="8.5" height="8.5" fill="#eceefb"/><rect x="594.5" width="8.5" height="8.5" fill="#eaecf9"/><rect x="602.5" width="8.5" height="8.5" fill="#e5e8f7"/><rect x="610.5" width="8.5" height="8.5" fill="#e0e3f4"/><rect x="618.5" width="8.5" height="8.5" fill="#d7dbef"/><rect x="626.5" width="8.5" height="8.5" fill="#cacfe8"/><rect x="634.5" width="8.5" height="8.5" fill="#bac0de"/><rect x="642.5" width="8.5" height="8.5" fill="#a9b1d5"/><rect x="650.5" width="8.5" height="8.5" fill="#9fa7cf"/><rect x="658.5" width="8.5" height="8.5" fill="#9ca5ce"/><rect x="666.5" width="8.5" height="8.5" fill="#9fa8cf"/><rect x="674.5" width="8.5" height="8.5" fill="#a5add3"/><rect x="682.5" width="8.5" height="8.5" fill="#adb4d7"/><rect x="690.5" width="8.5" height="8.5" fill="#b7bedd"/><rect x="698.5" width="8.5" height="8.5" fill="#c3c9e4"/><rect x="706.5" width="8.5" height="8.5" fill="#cfd3ea"/><rect x="714.5" width="8.5" height="8.5" fill="#d8dbef"/><rect x="722.5" width="8.5" height="8.5" fill="#dbdef1"/><rect x="730.5" width="8.5" height="8.5" fill="#d5d9ed"/><rect x="738.5" width="8.5" height="8.5" fill="#c6cbe5"/><rect x="746.5" width="8.5" height="8.5" fill="#b1b8d9"/><rect x="754.5" width="8.5" height="8.5" fill="#9aa3cd"/></g>
<g transform="translate(0,576)"><rect x="186.5" width="8.5" height="8.5" fill="#7682b8"/><rect x="194.5" width="8.5" height="8.5" fill="#8a94c3"/><rect x="202.5" width="8.5" height="8.5" fill="#9fa8d0"/><rect x="210.5" width="8.5" height="8.5" fill="#b5bcdc"/><rect x="218.5" width="8.5" height="8.5" fill="#cacfe7"/><rect x="226.5" width="8.5" height="8.5" fill="#dbdef1"/><rect x="234.5" width="8.5" height="8.5" fill="#e5e8f6"/><rect x="242.5" width="8.5" height="8.5" fill="#e8eaf8"/><rect x="250.5" width="8.5" height="8.5" fill="#e6e9f7"/><rect x="258.5" width="8.5" height="8.5" fill="#e3e6f5"/><rect x="266.5" width="8.5" height="8.5" fill="#e1e4f4"/><rect x="274.5" width="8.5" height="8.5" fill="#e0e3f4"/><rect x="282.5" width="8.5" height="8.5" fill="#e0e3f4"/><rect x="290.5" width="8.5" height="8.5" fill="#e1e4f4"/><rect x="298.5" width="8.5" height="8.5" fill="#e1e4f4"/><rect x="306.5" width="8.5" height="8.5" fill="#e0e3f4"/><rect x="314.5" width="8.5" height="8.5" fill="#dbdff1"/><rect x="322.5" width="8.5" height="8.5" fill="#d4d8ed"/><rect x="330.5" width="8.5" height="8.5" fill="#cacfe7"/><rect x="338.5" width="8.5" height="8.5" fill="#bec4e1"/><rect x="346.5" width="8.5" height="8.5" fill="#b2b9da"/><rect x="354.5" width="8.5" height="8.5" fill="#a7aed4"/><rect x="362.5" width="8.5" height="8.5" fill="#9ea6cf"/><rect x="370.5" width="8.5" height="8.5" fill="#98a1cc"/><rect x="378.5" width="8.5" height="8.5" fill="#97a0cb"/><rect x="386.5" width="8.5" height="8.5" fill="#98a1cc"/><rect x="394.5" width="8.5" height="8.5" fill="#9ca5ce"/><rect x="402.5" width="8.5" height="8.5" fill="#a1a9d1"/><rect x="410.5" width="8.5" height="8.5" fill="#a7afd4"/><rect x="418.5" width="8.5" height="8.5" fill="#acb4d7"/><rect x="426.5" width="8.5" height="8.5" fill="#b2b9da"/><rect x="434.5" width="8.5" height="8.5" fill="#b6bddc"/><rect x="442.5" width="8.5" height="8.5" fill="#bac0de"/><rect x="450.5" width="8.5" height="8.5" fill="#bbc1df"/><rect x="458.5" width="8.5" height="8.5" fill="#b9c0de"/><rect x="466.5" width="8.5" height="8.5" fill="#b6bddc"/><rect x="474.5" width="8.5" height="8.5" fill="#b2b9da"/><rect x="482.5" width="8.5" height="8.5" fill="#b0b7d9"/><rect x="490.5" width="8.5" height="8.5" fill="#b0b7d9"/><rect x="498.5" width="8.5" height="8.5" fill="#b5bbdb"/><rect x="506.5" width="8.5" height="8.5" fill="#bcc2e0"/><rect x="514.5" width="8.5" height="8.5" fill="#c6cbe5"/><rect x="522.5" width="8.5" height="8.5" fill="#cfd3ea"/><rect x="530.5" width="8.5" height="8.5" fill="#d7dbef"/><rect x="538.5" width="8.5" height="8.5" fill="#dde0f2"/><rect x="546.5" width="8.5" height="8.5" fill="#e2e5f5"/><rect x="554.5" width="8.5" height="8.5" fill="#e6e8f7"/><rect x="562.5" width="8.5" height="8.5" fill="#eaecf9"/><rect x="570.5" width="8.5" height="8.5" fill="#edeffb"/><rect x="578.5" width="8.5" height="8.5" fill="#edeffb"/><rect x="586.5" width="8.5" height="8.5" fill="#eceefb"/><rect x="594.5" width="8.5" height="8.5" fill="#e9ebf8"/><rect x="602.5" width="8.5" height="8.5" fill="#e3e6f6"/><rect x="610.5" width="8.5" height="8.5" fill="#dde0f2"/><rect x="618.5" width="8.5" height="8.5" fill="#d5d9ee"/><rect x="626.5" width="8.5" height="8.5" fill="#cacfe8"/><rect x="634.5" width="8.5" height="8.5" fill="#bdc3e0"/><rect x="642.5" width="8.5" height="8.5" fill="#b0b7d9"/><rect x="650.5" width="8.5" height="8.5" fill="#a9b1d5"/><rect x="658.5" width="8.5" height="8.5" fill="#a8b0d4"/><rect x="666.5" width="8.5" height="8.5" fill="#abb3d6"/><rect x="674.5" width="8.5" height="8.5" fill="#b0b7d9"/><rect x="682.5" width="8.5" height="8.5" fill="#b5bcdc"/><rect x="690.5" width="8.5" height="8.5" fill="#bcc2e0"/><rect x="698.5" width="8.5" height="8.5" fill="#c5cae4"/><rect x="706.5" width="8.5" height="8.5" fill="#ced3ea"/><rect x="714.5" width="8.5" height="8.5" fill="#d7dbef"/><rect x="722.5" width="8.5" height="8.5" fill="#dbdef1"/><rect x="730.5" width="8.5" height="8.5" fill="#d7dbef"/><rect x="738.5" width="8.5" height="8.5" fill="#cacfe7"/><rect x="746.5" width="8.5" height="8.5" fill="#b6bddc"/><rect x="754.5" width="8.5" height="8.5" fill="#a0a8d0"/></g>
<g transform="translate(0,584)"><rect x="186.5" width="8.5" height="8.5" fill="#717db5"/><rect x="194.5" width="8.5" height="8.5" fill="#838ec0"/><rect x="202.5" width="8.5" height="8.5" fill="#97a0cb"/><rect x="210.5" width="8.5" height="8.5" fill="#acb3d7"/><rect x="218.5" width="8.5" height="8.5" fill="#c1c6e2"/><rect x="226.5" width="8.5" height="8.5" fill="#d3d7ec"/><rect x="234.5" width="8.5" height="8.5" fill="#e1e4f4"/><rect x="242.5" width="8.5" height="8.5" fill="#e9ebf9"/><rect x="250.5" width="8.5" height="8.5" fill="#eaecf9"/><rect x="258.5" width="8.5" height="8.5" fill="#e8eaf8"/><rect x="266.5" width="8.5" height="8.5" fill="#e5e7f6"/><rect x="274.5" width="8.5" height="8.5" fill="#e2e5f5"/><rect x="282.5" width="8.5" height="8.5" fill="#e0e3f4"/><rect x="290.5" width="8.5" height="8.5" fill="#e0e3f4"/><rect x="298.5" width="8.5" height="8.5" fill="#e0e3f4"/><rect x="306.5" width="8.5" height="8.5" fill="#dee2f3"/><rect x="314.5" width="8.5" height="8.5" fill="#daddf0"/><rect x="322.5" width="8.5" height="8.5" fill="#d2d6ec"/><rect x="330.5" width="8.5" height="8.5" fill="#c6cbe5"/><rect x="338.5" width="8.5" height="8.5" fill="#b8bedd"/><rect x="346.5" width="8.5" height="8.5" fill="#a9b1d5"/><rect x="354.5" width="8.5" height="8.5" fill="#9ca5ce"/><rect x="362.5" width="8.5" height="8.5" fill="#929bc8"/><rect x="370.5" width="8.5" height="8.5" fill="#8b95c4"/><rect x="378.5" width="8.5" height="8.5" fill="#8892c2"/><rect x="386.5" width="8.5" height="8.5" fill="#8892c2"/><rect x="394.5" width="8.5" height="8.5" fill="#8a95c4"/><rect x="402.5" width="8.5" height="8.5" fill="#8e98c6"/><rect x="410.5" width="8.5" height="8.5" fill="#939dc9"/><rect x="418.5" width="8.5" height="8.5" fill="#99a2cc"/><rect x="426.5" width="8.5" height="8.5" fill="#9ea7cf"/><rect x="434.5" width="8.5" height="8.5" fill="#a3abd1"/><rect x="442.5" width="8.5" height="8.5" fill="#a6aed3"/><rect x="450.5" width="8.5" height="8.5" fill="#a7afd4"/><rect x="458.5" width="8.5" height="8.5" fill="#a6aed3"/><rect x="466.5" width="8.5" height="8.5" fill="#a3abd2"/><rect x="474.5" width="8.5" height="8.5" fill="#9fa8d0"/><rect x="482.5" width="8.5" height="8.5" fill="#9da6ce"/><rect x="490.5" width="8.5" height="8.5" fill="#9ea6cf"/><rect x="498.5" width="8.5" height="8.5" fill="#a3abd1"/><rect x="506.5" width="8.5" height="8.5" fill="#abb3d6"/><rect x="514.5" width="8.5" height="8.5" fill="#b7bddd"/><rect x="522.5" width="8.5" height="8.5" fill="#c3c9e4"/><rect x="530.5" width="8.5" height="8.5" fill="#cfd4ea"/><rect x="538.5" width="8.5" height="8.5" fill="#daddf0"/><rect x="546.5" width="8.5" height="8.5" fill="#e2e5f5"/><rect x="554.5" width="8.5" height="8.5" fill="#e8ebf8"/><rect x="562.5" width="8.5" height="8.5" fill="#edeffb"/><rect x="570.5" width="8.5" height="8.5" fill="#edeffb"/><rect x="578.5" width="8.5" height="8.5" fill="#edeffb"/><rect x="586.5" width="8.5" height="8.5" fill="#ebedfa"/><rect x="594.5" width="8.5" height="8.5" fill="#e5e8f6"/><rect x="602.5" width="8.5" height="8.5" fill="#dee2f3"/><rect x="610.5" width="8.5" height="8.5" fill="#d8dcef"/><rect x="618.5" width="8.5" height="8.5" fill="#d1d5eb"/><rect x="626.5" width="8.5" height="8.5" fill="#c9cee7"/><rect x="634.5" width="8.5" height="8.5" fill="#c0c6e2"/><rect x="642.5" width="8.5" height="8.5" fill="#b9bfde"/><rect x="650.5" width="8.5" height="8.5" fill="#b6bcdc"/><rect x="658.5" width="8.5" height="8.5" fill="#b7bddd"/><rect x="666.5" width="8.5" height="8.5" fill="#b9c0de"/><rect x="674.5" width="8.5" height="8.5" fill="#bcc2e0"/><rect x="682.5" width="8.5" height="8.5" fill="#bfc5e2"/><rect x="690.5" width="8.5" height="8.5" fill="#c4c9e4"/><rect x="698.5" width="8.5" height="8.5" fill="#c9cee7"/><rect x="706.5" width="8.5" height="8.5" fill="#d1d5eb"/><rect x="714.5" width="8.5" height="8.5" fill="#d8dcef"/><rect x="722.5" width="8.5" height="8.5" fill="#dcdff2"/><rect x="730.5" width="8.5" height="8.5" fill="#d9ddf0"/><rect x="738.5" width="8.5" height="8.5" fill="#cdd2e9"/><rect x="746.5" width="8.5" height="8.5" fill="#bbc1df"/><rect x="754.5" width="8.5" height="8.5" fill="#a5add2"/></g>
<g transform="translate(0,592)"><rect x="186.5" width="8.5" height="8.5" fill="#6a77b2"/><rect x="194.5" width="8.5" height="8.5" fill="#7a86bb"/><rect x="202.5" width="8.5" height="8.5" fill="#8c96c5"/><rect x="210.5" width="8.5" height="8.5" fill="#a0a8d0"/><rect x="218.5" width="8.5" height="8.5" fill="#b5bbdb"/><rect x="226.5" width="8.5" height="8.5" fill="#c8cde7"/><rect x="234.5" width="8.5" height="8.5" fill="#daddf0"/><rect x="242.5" width="8.5" height="8.5" fill="#e6e8f7"/><rect x="250.5" width="8.5" height="8.5" fill="#ebeefa"/><rect x="258.5" width="8.5" height="8.5" fill="#ebedfa"/><rect x="266.5" width="8.5" height="8.5" fill="#e7e9f7"/><rect x="274.5" width="8.5" height="8.5" fill="#e2e5f5"/><rect x="282.5" width="8.5" height="8.5" fill="#dee2f3"/><rect x="290.5" width="8.5" height="8.5" fill="#dde0f2"/><rect x="298.5" width="8.5" height="8.5" fill="#dcdff1"/><rect x="306.5" width="8.5" height="8.5" fill="#dadef0"/><rect x="314.5" width="8.5" height="8.5" fill="#d6daee"/><rect x="322.5" width="8.5" height="8.5" fill="#cdd2e9"/><rect x="330.5" width="8.5" height="8.5" fill="#c0c6e2"/><rect x="338.5" width="8.5" height="8.5" fill="#b1b8d9"/><rect x="346.5" width="8.5" height="8.5" fill="#a1a9d0"/><rect x="354.5" width="8.5" height="8.5" fill="#929cc8"/><rect x="362.5" width="8.5" height="8.5" fill="#8691c2"/><rect x="370.5" width="8.5" height="8.5" fill="#7e89bd"/><rect x="378.5" width="8.5" height="8.5" fill="#7985ba"/><rect x="386.5" width="8.5" height="8.5" fill="#7883b9"/><rect x="394.5" width="8.5" height="8.5" fill="#7984ba"/><rect x="402.5" width="8.5" height="8.5" fill="#7c87bc"/><rect x="410.5" width="8.5" height="8.5" fill="#808bbe"/><rect x="418.5" width="8.5" height="8.5" fill="#858fc1"/><rect x="426.5" width="8.5" height="8.5" fill="#8a94c3"/><rect x="434.5" width="8.5" height="8.5" fill="#8e98c6"/><rect x="442.5" width="8.5" height="8.5" fill="#929bc8"/><rect x="450.5" width="8.5" height="8.5" fill="#939cc9"/><rect x="458.5" width="8.5" height="8.5" fill="#929bc8"/><rect x="466.5" width="8.5" height="8.5" fill="#8f99c6"/><rect x="474.5" width="8.5" height="8.5" fill="#8c96c4"/><rect x="482.5" width="8.5" height="8.5" fill="#8994c3"/><rect x="490.5" width="8.5" height="8.5" fill="#8b95c4"/><rect x="498.5" width="8.5" height="8.5" fill="#909ac7"/><rect x="506.5" width="8.5" height="8.5" fill="#9aa3cd"/><rect x="514.5" width="8.5" height="8.5" fill="#a7afd4"/><rect x="522.5" width="8.5" height="8.5" fill="#b7bddd"/><rect x="530.5" width="8.5" height="8.5" fill="#c6cbe5"/><rect x="538.5" width="8.5" height="8.5" fill="#d4d8ed"/><rect x="546.5" width="8.5" height="8.5" fill="#dfe2f3"/><rect x="554.5" width="8.5" height="8.5" fill="#e8eaf8"/><rect x="562.5" width="8.5" height="8.5" fill="#eceefb"/><rect x="570.5" width="8.5" height="8.5" fill="#edeffb"/><rect x="578.5" width="8.5" height="8.5" fill="#eaedfa"/><rect x="586.5" width="8.5" height="8.5" fill="#e5e8f6"/><rect x="594.5" width="8.5" height="8.5" fill="#dee1f2"/><rect x="602.5" width="8.5" height="8.5" fill="#d6daee"/><rect x="610.5" width="8.5" height="8.5" fill="#cfd4ea"/><rect x="618.5" width="8.5" height="8.5" fill="#c9cee7"/><rect x="626.5" width="8.5" height="8.5" fill="#c4cae4"/><rect x="634.5" width="8.5" height="8.5" fill="#c0c6e2"/><rect x="642.5" width="8.5" height="8.5" fill="#bec4e1"/><rect x="650.5" width="8.5" height="8.5" fill="#bfc5e1"/><rect x="658.5" width="8.5" height="8.5" fill="#c2c8e3"/><rect x="666.5" width="8.5" height="8.5" fill="#c6cbe5"/><rect x="674.5" width="8.5" height="8.5" fill="#c8cde6"/><rect x="682.5" width="8.5" height="8.5" fill="#c9cee7"/><rect x="690.5" width="8.5" height="8.5" fill="#cbd0e8"/><rect x="698.5" width="8.5" height="8.5" fill="#ced2ea"/><rect x="706.5" width="8.5" height="8.5" fill="#d3d7ec"/><rect x="714.5" width="8.5" height="8.5" fill="#d8dcef"/><rect x="722.5" width="8.5" height="8.5" fill="#dbdef1"/><rect x="730.5" width="8.5" height="8.5" fill="#d8dcef"/><rect x="738.5" width="8.5" height="8.5" fill="#cdd2e9"/><rect x="746.5" width="8.5" height="8.5" fill="#bcc2df"/><rect x="754.5" width="8.5" height="8.5" fill="#a6aed3"/></g>
<g transform="translate(0,600)"><rect x="186.5" width="8.5" height="8.5" fill="#6370ae"/><rect x="194.5" width="8.5" height="8.5" fill="#717db6"/><rect x="202.5" width="8.5" height="8.5" fill="#818cbf"/><rect x="210.5" width="8.5" height="8.5" fill="#949dc9"/><rect x="218.5" width="8.5" height="8.5" fill="#a8b0d5"/><rect x="226.5" width="8.5" height="8.5" fill="#bdc3e0"/><rect x="234.5" width="8.5" height="8.5" fill="#d0d5eb"/><rect x="242.5" width="8.5" height="8.5" fill="#e0e3f4"/><rect x="250.5" width="8.5" height="8.5" fill="#e9ecf9"/><rect x="258.5" width="8.5" height="8.5" fill="#ebedfa"/><rect x="266.5" width="8.5" height="8.5" fill="#e6e9f7"/><rect x="274.5" width="8.5" height="8.5" fill="#e0e3f3"/><rect x="282.5" width="8.5" height="8.5" fill="#daddf0"/><rect x="290.5" width="8.5" height="8.5" fill="#d6daee"/><rect x="298.5" width="8.5" height="8.5" fill="#d4d8ed"/><rect x="306.5" width="8.5" height="8.5" fill="#d1d6ec"/><rect x="314.5" width="8.5" height="8.5" fill="#cdd2e9"/><rect x="322.5" width="8.5" height="8.5" fill="#c4cae4"/><rect x="330.5" width="8.5" height="8.5" fill="#b7bedd"/><rect x="338.5" width="8.5" height="8.5" fill="#a8afd4"/><rect x="346.5" width="8.5" height="8.5" fill="#97a0cb"/><rect x="354.5" width="8.5" height="8.5" fill="#8892c2"/><rect x="362.5" width="8.5" height="8.5" fill="#7b87bb"/><rect x="370.5" width="8.5" height="8.5" fill="#727eb6"/><rect x="378.5" width="8.5" height="8.5" fill="#6b78b2"/><rect x="386.5" width="8.5" height="8.5" fill="#6876b1"/><rect x="394.5" width="8.5" height="8.5" fill="#6875b1"/><rect x="402.5" width="8.5" height="8.5" fill="#6a77b2"/><rect x="410.5" width="8.5" height="8.5" fill="#6e7ab4"/><rect x="418.5" width="8.5" height="8.5" fill="#727eb6"/><rect x="426.5" width="8.5" height="8.5" fill="#7782b9"/><rect x="434.5" width="8.5" height="8.5" fill="#7b86bb"/><rect x="442.5" width="8.5" height="8.5" fill="#7e89bd"/><rect x="450.5" width="8.5" height="8.5" fill="#7f8bbe"/><rect x="458.5" width="8.5" height="8.5" fill="#7f8abd"/><rect x="466.5" width="8.5" height="8.5" fill="#7c87bc"/><rect x="474.5" width="8.5" height="8.5" fill="#7985ba"/><rect x="482.5" width="8.5" height="8.5" fill="#7883b9"/><rect x="490.5" width="8.5" height="8.5" fill="#7985ba"/><rect x="498.5" width="8.5" height="8.5" fill="#7f8abd"/><rect x="506.5" width="8.5" height="8.5" fill="#8a94c3"/><rect x="514.5" width="8.5" height="8.5" fill="#98a1cc"/><rect x="522.5" width="8.5" height="8.5" fill="#a9b1d5"/><rect x="530.5" width="8.5" height="8.5" fill="#bbc1df"/><rect x="538.5" width="8.5" height="8.5" fill="#cbd0e8"/><rect x="546.5" width="8.5" height="8.5" fill="#d9dcf0"/><rect x="554.5" width="8.5" height="8.5" fill="#e2e5f5"/><rect x="562.5" width="8.5" height="8.5" fill="#e6e9f7"/><rect x="570.5" width="8.5" height="8.5" fill="#e6e8f7"/><rect x="578.5" width="8.5" height="8.5" fill="#e1e4f4"/><rect x="586.5" width="8.5" height="8.5" fill="#dadef0"/><rect x="594.5" width="8.5" height="8.5" fill="#d2d6ec"/><rect x="602.5" width="8.5" height="8.5" fill="#cacfe7"/><rect x="610.5" width="8.5" height="8.5" fill="#c3c8e3"/><rect x="618.5" width="8.5" height="8.5" fill="#bec4e1"/><rect x="626.5" width="8.5" height="8.5" fill="#bbc1df"/><rect x="634.5" width="8.5" height="8.5" fill="#bac1df"/><rect x="642.5" width="8.5" height="8.5" fill="#bcc2e0"/><rect x="650.5" width="8.5" height="8.5" fill="#c0c6e2"/><rect x="658.5" width="8.5" height="8.5" fill="#c6cbe5"/><rect x="666.5" width="8.5" height="8.5" fill="#cbcfe8"/><rect x="674.5" width="8.5" height="8.5" fill="#cdd1e9"/><rect x="682.5" width="8.5" height="8.5" fill="#cdd1e9"/><rect x="690.5" width="8.5" height="8.5" fill="#ccd1e9"/><rect x="698.5" width="8.5" height="8.5" fill="#cdd1e9"/><rect x="706.5" width="8.5" height="8.5" fill="#cfd3ea"/><rect x="714.5" width="8.5" height="8.5" fill="#d2d6ec"/><rect x="722.5" width="8.5" height="8.5" fill="#d4d8ed"/><rect x="730.5" width="8.5" height="8.5" fill="#d1d5eb"/><rect x="738.5" width="8.5" height="8.5" fill="#c7cde6"/><rect x="746.5" width="8.5" height="8.5" fill="#b7bedd"/><rect x="754.5" width="8.5" height="8.5" fill="#a4acd2"/></g>
<g transform="translate(0,608)"><rect x="186.5" width="8.5" height="8.5" fill="#5c6aaa"/><rect x="194.5" width="8.5" height="8.5" fill="#6875b1"/><rect x="202.5" width="8.5" height="8.5" fill="#7783b9"/><rect x="210.5" width="8.5" height="8.5" fill="#8993c3"/><rect x="218.5" width="8.5" height="8.5" fill="#9ca5ce"/><rect x="226.5" width="8.5" height="8.5" fill="#b1b8d9"/><rect x="234.5" width="8.5" height="8.5" fill="#c5cbe5"/><rect x="242.5" width="8.5" height="8.5" fill="#d7dbef"/><rect x="250.5" width="8.5" height="8.5" fill="#e3e6f5"/><rect x="258.5" width="8.5" height="8.5" fill="#e5e8f7"/><rect x="266.5" width="8.5" height="8.5" fill="#e1e4f4"/><rect x="274.5" width="8.5" height="8.5" fill="#d9ddf0"/><rect x="282.5" width="8.5" height="8.5" fill="#d1d5eb"/><rect x="290.5" width="8.5" height="8.5" fill="#cbd0e8"/><rect x="298.5" width="8.5" height="8.5" fill="#c7cce6"/><rect x="306.5" width="8.5" height="8.5" fill="#c4c9e4"/><rect x="314.5" width="8.5" height="8.5" fill="#bfc5e1"/><rect x="322.5" width="8.5" height="8.5" fill="#b7bddd"/><rect x="330.5" width="8.5" height="8.5" fill="#abb2d6"/><rect x="338.5" width="8.5" height="8.5" fill="#9ca5ce"/><rect x="346.5" width="8.5" height="8.5" fill="#8c96c5"/><rect x="354.5" width="8.5" height="8.5" fill="#7d88bc"/><rect x="362.5" width="8.5" height="8.5" fill="#707cb5"/><rect x="370.5" width="8.5" height="8.5" fill="#6673af"/><rect x="378.5" width="8.5" height="8.5" fill="#5f6dac"/><rect x="386.5" width="8.5" height="8.5" fill="#5b69a9"/><rect x="394.5" width="8.5" height="8.5" fill="#5a68a9"/><rect x="402.5" width="8.5" height="8.5" fill="#5b69a9"/><rect x="410.5" width="8.5" height="8.5" fill="#5e6cab"/><rect x="418.5" width="8.5" height="8.5" fill="#616fad"/><rect x="426.5" width="8.5" height="8.5" fill="#6673af"/><rect x="434.5" width="8.5" height="8.5" fill="#6a77b2"/><rect x="442.5" width="8.5" height="8.5" fill="#6d7ab3"/><rect x="450.5" width="8.5" height="8.5" fill="#6f7bb4"/><rect x="458.5" width="8.5" height="8.5" fill="#6e7bb4"/><rect x="466.5" width="8.5" height="8.5" fill="#6c79b3"/><rect x="474.5" width="8.5" height="8.5" fill="#6a77b2"/><rect x="482.5" width="8.5" height="8.5" fill="#6976b1"/><rect x="490.5" width="8.5" height="8.5" fill="#6b78b2"/><rect x="498.5" width="8.5" height="8.5" fill="#717db6"/><rect x="506.5" width="8.5" height="8.5" fill="#7c87bc"/><rect x="514.5" width="8.5" height="8.5" fill="#8b95c4"/><rect x="522.5" width="8.5" height="8.5" fill="#9ca5ce"/><rect x="530.5" width="8.5" height="8.5" fill="#aeb6d8"/><rect x="538.5" width="8.5" height="8.5" fill="#bfc5e1"/><rect x="546.5" width="8.5" height="8.5" fill="#cdd1e9"/><rect x="554.5" width="8.5" height="8.5" fill="#d6daee"/><rect x="562.5" width="8.5" height="8.5" fill="#d9ddf0"/><rect x="570.5" width="8.5" height="8.5" fill="#d8dcef"/><rect x="578.5" width="8.5" height="8.5" fill="#d2d7ec"/><rect x="586.5" width="8.5" height="8.5" fill="#cbd0e8"/><rect x="594.5" width="8.5" height="8.5" fill="#c2c8e3"/><rect x="602.5" width="8.5" height="8.5" fill="#bac0df"/><rect x="610.5" width="8.5" height="8.5" fill="#b4badb"/><rect x="618.5" width="8.5" height="8.5" fill="#afb7d9"/><rect x="626.5" width="8.5" height="8.5" fill="#aeb5d8"/><rect x="634.5" width="8.5" height="8.5" fill="#afb6d8"/><rect x="642.5" width="8.5" height="8.5" fill="#b3b9da"/><rect x="650.5" width="8.5" height="8.5" fill="#b8bfde"/><rect x="658.5" width="8.5" height="8.5" fill="#bfc5e1"/><rect x="666.5" width="8.5" height="8.5" fill="#c4cae4"/><rect x="674.5" width="8.5" height="8.5" fill="#c7cce5"/><rect x="682.5" width="8.5" height="8.5" fill="#c6cbe5"/><rect x="690.5" width="8.5" height="8.5" fill="#c4cae4"/><rect x="698.5" width="8.5" height="8.5" fill="#c3c9e4"/><rect x="706.5" width="8.5" height="8.5" fill="#c4c9e4"/><rect x="714.5" width="8.5" height="8.5" fill="#c5cae5"/><rect x="722.5" width="8.5" height="8.5" fill="#c6cbe5"/><rect x="730.5" width="8.5" height="8.5" fill="#c3c8e3"/><rect x="738.5" width="8.5" height="8.5" fill="#bbc1df"/><rect x="746.5" width="8.5" height="8.5" fill="#adb4d7"/><rect x="754.5" width="8.5" height="8.5" fill="#9ca4cd"/></g>
<g transform="translate(0,616)"><rect x="186.5" width="8.5" height="8.5" fill="#5665a7"/><rect x="194.5" width="8.5" height="8.5" fill="#616ead"/><rect x="202.5" width="8.5" height="8.5" fill="#6e7bb4"/><rect x="210.5" width="8.5" height="8.5" fill="#7e89bd"/><rect x="218.5" width="8.5" height="8.5" fill="#919ac7"/><rect x="226.5" width="8.5" height="8.5" fill="#a5add3"/><rect x="234.5" width="8.5" height="8.5" fill="#b9bfde"/><rect x="242.5" width="8.5" height="8.5" fill="#cbcfe8"/><rect x="250.5" width="8.5" height="8.5" fill="#d7daee"/><rect x="258.5" width="8.5" height="8.5" fill="#dadef0"/><rect x="266.5" width="8.5" height="8.5" fill="#d6daee"/><rect x="274.5" width="8.5" height="8.5" fill="#cdd2e9"/><rect x="282.5" width="8.5" height="8.5" fill="#c4cae4"/><rect x="290.5" width="8.5" height="8.5" fill="#bdc3e0"/><rect x="298.5" width="8.5" height="8.5" fill="#b7bedd"/><rect x="306.5" width="8.5" height="8.5" fill="#b2b9da"/><rect x="314.5" width="8.5" height="8.5" fill="#adb4d7"/><rect x="322.5" width="8.5" height="8.5" fill="#a5add3"/><rect x="330.5" width="8.5" height="8.5" fill="#9ba3cd"/><rect x="338.5" width="8.5" height="8.5" fill="#8d97c6"/><rect x="346.5" width="8.5" height="8.5" fill="#7f8abe"/><rect x="354.5" width="8.5" height="8.5" fill="#717eb6"/><rect x="362.5" width="8.5" height="8.5" fill="#6573af"/><rect x="370.5" width="8.5" height="8.5" fill="#5b6aaa"/><rect x="378.5" width="8.5" height="8.5" fill="#5463a6"/><rect x="386.5" width="8.5" height="8.5" fill="#505fa3"/><rect x="394.5" width="8.5" height="8.5" fill="#4e5da2"/><rect x="402.5" width="8.5" height="8.5" fill="#4e5ea2"/><rect x="410.5" width="8.5" height="8.5" fill="#5160a3"/><rect x="418.5" width="8.5" height="8.5" fill="#5463a5"/><rect x="426.5" width="8.5" height="8.5" fill="#5866a8"/><rect x="434.5" width="8.5" height="8.5" fill="#5c6aaa"/><rect x="442.5" width="8.5" height="8.5" fill="#5f6dac"/><rect x="450.5" width="8.5" height="8.5" fill="#616fad"/><rect x="458.5" width="8.5" height="8.5" fill="#616fad"/><rect x="466.5" width="8.5" height="8.5" fill="#606eac"/><rect x="474.5" width="8.5" height="8.5" fill="#5f6dab"/><rect x="482.5" width="8.5" height="8.5" fill="#5e6cab"/><rect x="490.5" width="8.5" height="8.5" fill="#616eac"/><rect x="498.5" width="8.5" height="8.5" fill="#6774b0"/><rect x="506.5" width="8.5" height="8.5" fill="#717db6"/><rect x="514.5" width="8.5" height="8.5" fill="#7f8abe"/><rect x="522.5" width="8.5" height="8.5" fill="#9099c7"/><rect x="530.5" width="8.5" height="8.5" fill="#a1a9d0"/><rect x="538.5" width="8.5" height="8.5" fill="#b0b7d9"/><rect x="546.5" width="8.5" height="8.5" fill="#bcc3e0"/><rect x="554.5" width="8.5" height="8.5" fill="#c4cae4"/><rect x="562.5" width="8.5" height="8.5" fill="#c7cce6"/><rect x="570.5" width="8.5" height="8.5" fill="#c5cae5"/><rect x="578.5" width="8.5" height="8.5" fill="#bfc5e2"/><rect x="586.5" width="8.5" height="8.5" fill="#b8bedd"/><rect x="594.5" width="8.5" height="8.5" fill="#b0b7d9"/><rect x="602.5" width="8.5" height="8.5" fill="#a8b0d5"/><rect x="610.5" width="8.5" height="8.5" fill="#a2abd1"/><rect x="618.5" width="8.5" height="8.5" fill="#9fa7cf"/><rect x="626.5" width="8.5" height="8.5" fill="#9ea6cf"/><rect x="634.5" width="8.5" height="8.5" fill="#9fa8d0"/><rect x="642.5" width="8.5" height="8.5" fill="#a4acd2"/><rect x="650.5" width="8.5" height="8.5" fill="#aab1d5"/><rect x="658.5" width="8.5" height="8.5" fill="#b0b7d9"/><rect x="666.5" width="8.5" height="8.5" fill="#b5bbdb"/><rect x="674.5" width="8.5" height="8.5" fill="#b7bddd"/><rect x="682.5" width="8.5" height="8.5" fill="#b6bddc"/><rect x="690.5" width="8.5" height="8.5" fill="#b4bbdb"/><rect x="698.5" width="8.5" height="8.5" fill="#b3bada"/><rect x="706.5" width="8.5" height="8.5" fill="#b2b9da"/><rect x="714.5" width="8.5" height="8.5" fill="#b2b9da"/><rect x="722.5" width="8.5" height="8.5" fill="#b2b9da"/><rect x="730.5" width="8.5" height="8.5" fill="#afb7d9"/><rect x="738.5" width="8.5" height="8.5" fill="#a9b0d5"/><rect x="746.5" width="8.5" height="8.5" fill="#9ea6cf"/><rect x="754.5" width="8.5" height="8.5" fill="#8f99c7"/></g>
<g transform="translate(0,624)"><rect x="186.5" width="8.5" height="8.5" fill="#5160a4"/><rect x="194.5" width="8.5" height="8.5" fill="#5a68a9"/><rect x="202.5" width="8.5" height="8.5" fill="#6673af"/><rect x="210.5" width="8.5" height="8.5" fill="#7480b7"/><rect x="218.5" width="8.5" height="8.5" fill="#8590c1"/><rect x="226.5" width="8.5" height="8.5" fill="#98a1cb"/><rect x="234.5" width="8.5" height="8.5" fill="#aab2d6"/><rect x="242.5" width="8.5" height="8.5" fill="#bbc1df"/><rect x="250.5" width="8.5" height="8.5" fill="#c6cbe5"/><rect x="258.5" width="8.5" height="8.5" fill="#c9cee7"/><rect x="266.5" width="8.5" height="8.5" fill="#c5cae5"/><rect x="274.5" width="8.5" height="8.5" fill="#bdc3e0"/><rect x="282.5" width="8.5" height="8.5" fill="#b3badb"/><rect x="290.5" width="8.5" height="8.5" fill="#abb3d6"/><rect x="298.5" width="8.5" height="8.5" fill="#a4acd2"/><rect x="306.5" width="8.5" height="8.5" fill="#9fa7cf"/><rect x="314.5" width="8.5" height="8.5" fill="#99a2cc"/><rect x="322.5" width="8.5" height="8.5" fill="#929cc8"/><rect x="330.5" width="8.5" height="8.5" fill="#8993c3"/><rect x="338.5" width="8.5" height="8.5" fill="#7e89bd"/><rect x="346.5" width="8.5" height="8.5" fill="#727eb6"/><rect x="354.5" width="8.5" height="8.5" fill="#6673af"/><rect x="362.5" width="8.5" height="8.5" fill="#5b69a9"/><rect x="370.5" width="8.5" height="8.5" fill="#5261a4"/><rect x="378.5" width="8.5" height="8.5" fill="#4b5ba0"/><rect x="386.5" width="8.5" height="8.5" fill="#47579e"/><rect x="394.5" width="8.5" height="8.5" fill="#45559d"/><rect x="402.5" width="8.5" height="8.5" fill="#45559d"/><rect x="410.5" width="8.5" height="8.5" fill="#46569e"/><rect x="418.5" width="8.5" height="8.5" fill="#49599f"/><rect x="426.5" width="8.5" height="8.5" fill="#4d5da2"/><rect x="434.5" width="8.5" height="8.5" fill="#5160a4"/><rect x="442.5" width="8.5" height="8.5" fill="#5563a6"/><rect x="450.5" width="8.5" height="8.5" fill="#5765a7"/><rect x="458.5" width="8.5" height="8.5" fill="#5866a7"/><rect x="466.5" width="8.5" height="8.5" fill="#5866a7"/><rect x="474.5" width="8.5" height="8.5" fill="#5766a7"/><rect x="482.5" width="8.5" height="8.5" fill="#5866a7"/><rect x="490.5" width="8.5" height="8.5" fill="#5a68a9"/><rect x="498.5" width="8.5" height="8.5" fill="#606eac"/><rect x="506.5" width="8.5" height="8.5" fill="#6976b1"/><rect x="514.5" width="8.5" height="8.5" fill="#7581b8"/><rect x="522.5" width="8.5" height="8.5" fill="#838ec0"/><rect x="530.5" width="8.5" height="8.5" fill="#929cc8"/><rect x="538.5" width="8.5" height="8.5" fill="#9fa8d0"/><rect x="546.5" width="8.5" height="8.5" fill="#aab1d5"/><rect x="554.5" width="8.5" height="8.5" fill="#b0b7d9"/><rect x="562.5" width="8.5" height="8.5" fill="#b2b9da"/><rect x="570.5" width="8.5" height="8.5" fill="#afb6d9"/><rect x="578.5" width="8.5" height="8.5" fill="#aab2d6"/><rect x="586.5" width="8.5" height="8.5" fill="#a3acd2"/><rect x="594.5" width="8.5" height="8.5" fill="#9ca5ce"/><rect x="602.5" width="8.5" height="8.5" fill="#959fca"/><rect x="610.5" width="8.5" height="8.5" fill="#909ac7"/><rect x="618.5" width="8.5" height="8.5" fill="#8d97c5"/><rect x="626.5" width="8.5" height="8.5" fill="#8c96c5"/><rect x="634.5" width="8.5" height="8.5" fill="#8e98c6"/><rect x="642.5" width="8.5" height="8.5" fill="#929bc8"/><rect x="650.5" width="8.5" height="8.5" fill="#97a0cb"/><rect x="658.5" width="8.5" height="8.5" fill="#9ca5ce"/><rect x="666.5" width="8.5" height="8.5" fill="#a0a8d0"/><rect x="674.5" width="8.5" height="8.5" fill="#a2aad1"/><rect x="682.5" width="8.5" height="8.5" fill="#a1a9d0"/><rect x="690.5" width="8.5" height="8.5" fill="#a0a8d0"/><rect x="698.5" width="8.5" height="8.5" fill="#9ea7cf"/><rect x="706.5" width="8.5" height="8.5" fill="#9da6ce"/><rect x="714.5" width="8.5" height="8.5" fill="#9da6ce"/><rect x="722.5" width="8.5" height="8.5" fill="#9ca5ce"/><rect x="730.5" width="8.5" height="8.5" fill="#9aa3cc"/><rect x="738.5" width="8.5" height="8.5" fill="#959eca"/><rect x="746.5" width="8.5" height="8.5" fill="#8c96c5"/><rect x="754.5" width="8.5" height="8.5" fill="#818cbf"/></g>
<g transform="translate(0,632)"><rect x="186.5" width="8.5" height="8.5" fill="#4c5ca1"/><rect x="194.5" width="8.5" height="8.5" fill="#5463a6"/><rect x="202.5" width="8.5" height="8.5" fill="#5e6cab"/><rect x="210.5" width="8.5" height="8.5" fill="#6b78b2"/><rect x="218.5" width="8.5" height="8.5" fill="#7a86bb"/><rect x="226.5" width="8.5" height="8.5" fill="#8a94c4"/><rect x="234.5" width="8.5" height="8.5" fill="#9aa3cd"/><rect x="242.5" width="8.5" height="8.5" fill="#a8b0d5"/><rect x="250.5" width="8.5" height="8.5" fill="#b2b9da"/><rect x="258.5" width="8.5" height="8.5" fill="#b4bbdb"/><rect x="266.5" width="8.5" height="8.5" fill="#b1b8d9"/><rect x="274.5" width="8.5" height="8.5" fill="#aab1d5"/><rect x="282.5" width="8.5" height="8.5" fill="#a1a9d0"/><rect x="290.5" width="8.5" height="8.5" fill="#98a1cb"/><rect x="298.5" width="8.5" height="8.5" fill="#919ac7"/><rect x="306.5" width="8.5" height="8.5" fill="#8b95c4"/><rect x="314.5" width="8.5" height="8.5" fill="#858fc1"/><rect x="322.5" width="8.5" height="8.5" fill="#7e8abd"/><rect x="330.5" width="8.5" height="8.5" fill="#7783b9"/><rect x="338.5" width="8.5" height="8.5" fill="#6e7bb4"/><rect x="346.5" width="8.5" height="8.5" fill="#6472af"/><rect x="354.5" width="8.5" height="8.5" fill="#5a69a9"/><rect x="362.5" width="8.5" height="8.5" fill="#5160a4"/><rect x="370.5" width="8.5" height="8.5" fill="#4a59a0"/><rect x="378.5" width="8.5" height="8.5" fill="#45559d"/><rect x="386.5" width="8.5" height="8.5" fill="#45559d"/><rect x="394.5" width="8.5" height="8.5" fill="#45559d"/><rect x="402.5" width="8.5" height="8.5" fill="#45559d"/><rect x="410.5" width="8.5" height="8.5" fill="#45559d"/><rect x="418.5" width="8.5" height="8.5" fill="#45559d"/><rect x="426.5" width="8.5" height="8.5" fill="#45559d"/><rect x="434.5" width="8.5" height="8.5" fill="#49599f"/><rect x="442.5" width="8.5" height="8.5" fill="#4d5ca1"/><rect x="450.5" width="8.5" height="8.5" fill="#505fa3"/><rect x="458.5" width="8.5" height="8.5" fill="#5160a4"/><rect x="466.5" width="8.5" height="8.5" fill="#5261a4"/><rect x="474.5" width="8.5" height="8.5" fill="#5361a5"/><rect x="482.5" width="8.5" height="8.5" fill="#5463a5"/><rect x="490.5" width="8.5" height="8.5" fill="#5665a7"/><rect x="498.5" width="8.5" height="8.5" fill="#5b6aaa"/><rect x="506.5" width="8.5" height="8.5" fill="#6370ae"/><rect x="514.5" width="8.5" height="8.5" fill="#6d79b3"/><rect x="522.5" width="8.5" height="8.5" fill="#7884ba"/><rect x="530.5" width="8.5" height="8.5" fill="#848ec0"/><rect x="538.5" width="8.5" height="8.5" fill="#8e98c6"/><rect x="546.5" width="8.5" height="8.5" fill="#969fca"/><rect x="554.5" width="8.5" height="8.5" fill="#9aa3cd"/><rect x="562.5" width="8.5" height="8.5" fill="#9ca4cd"/><rect x="570.5" width="8.5" height="8.5" fill="#99a2cc"/><rect x="578.5" width="8.5" height="8.5" fill="#959eca"/><rect x="586.5" width="8.5" height="8.5" fill="#8f99c6"/><rect x="594.5" width="8.5" height="8.5" fill="#8993c3"/><rect x="602.5" width="8.5" height="8.5" fill="#838ec0"/><rect x="610.5" width="8.5" height="8.5" fill="#7e8abd"/><rect x="618.5" width="8.5" height="8.5" fill="#7c87bc"/><rect x="626.5" width="8.5" height="8.5" fill="#7b87bb"/><rect x="634.5" width="8.5" height="8.5" fill="#7c88bc"/><rect x="642.5" width="8.5" height="8.5" fill="#7f8abe"/><rect x="650.5" width="8.5" height="8.5" fill="#838ec0"/><rect x="658.5" width="8.5" height="8.5" fill="#8791c2"/><rect x="666.5" width="8.5" height="8.5" fill="#8994c3"/><rect x="674.5" width="8.5" height="8.5" fill="#8a95c4"/><rect x="682.5" width="8.5" height="8.5" fill="#8a94c4"/><rect x="690.5" width="8.5" height="8.5" fill="#8993c3"/><rect x="698.5" width="8.5" height="8.5" fill="#8892c3"/><rect x="706.5" width="8.5" height="8.5" fill="#8792c2"/><rect x="714.5" width="8.5" height="8.5" fill="#8792c2"/><rect x="722.5" width="8.5" height="8.5" fill="#8691c2"/><rect x="730.5" width="8.5" height="8.5" fill="#858fc1"/><rect x="738.5" width="8.5" height="8.5" fill="#818cbe"/><rect x="746.5" width="8.5" height="8.5" fill="#7a86bb"/><rect x="754.5" width="8.5" height="8.5" fill="#727eb6"/></g>
<g transform="translate(0,640)"><rect x="186.5" width="8.5" height="8.5" fill="#49589f"/><rect x="194.5" width="8.5" height="8.5" fill="#4f5ea3"/><rect x="202.5" width="8.5" height="8.5" fill="#5866a7"/><rect x="210.5" width="8.5" height="8.5" fill="#6270ad"/><rect x="218.5" width="8.5" height="8.5" fill="#6f7bb4"/><rect x="226.5" width="8.5" height="8.5" fill="#7c88bc"/><rect x="234.5" width="8.5" height="8.5" fill="#8a94c3"/><rect x="242.5" width="8.5" height="8.5" fill="#959eca"/><rect x="250.5" width="8.5" height="8.5" fill="#9da5ce"/><rect x="258.5" width="8.5" height="8.5" fill="#9fa7cf"/><rect x="266.5" width="8.5" height="8.5" fill="#9ca5ce"/><rect x="274.5" width="8.5" height="8.5" fill="#959fca"/><rect x="282.5" width="8.5" height="8.5" fill="#8d97c5"/><rect x="290.5" width="8.5" height="8.5" fill="#8590c1"/><rect x="298.5" width="8.5" height="8.5" fill="#7e89bd"/><rect x="306.5" width="8.5" height="8.5" fill="#7783b9"/><rect x="314.5" width="8.5" height="8.5" fill="#727eb6"/><rect x="322.5" width="8.5" height="8.5" fill="#6c79b3"/><rect x="330.5" width="8.5" height="8.5" fill="#6674b0"/><rect x="338.5" width="8.5" height="8.5" fill="#5f6dac"/><rect x="346.5" width="8.5" height="8.5" fill="#5866a8"/><rect x="354.5" width="8.5" height="8.5" fill="#505fa3"/><rect x="362.5" width="8.5" height="8.5" fill="#49599f"/><rect x="370.5" width="8.5" height="8.5" fill="#45559d"/><rect x="378.5" width="8.5" height="8.5" fill="#45559d"/><rect x="386.5" width="8.5" height="8.5" fill="#45559d"/><rect x="394.5" width="8.5" height="8.5" fill="#45559d"/><rect x="402.5" width="8.5" height="8.5" fill="#45559d"/><rect x="410.5" width="8.5" height="8.5" fill="#45559d"/><rect x="418.5" width="8.5" height="8.5" fill="#45559d"/><rect x="426.5" width="8.5" height="8.5" fill="#45559d"/><rect x="434.5" width="8.5" height="8.5" fill="#45559d"/><rect x="442.5" width="8.5" height="8.5" fill="#48579e"/><rect x="450.5" width="8.5" height="8.5" fill="#4b5aa0"/><rect x="458.5" width="8.5" height="8.5" fill="#4d5ca1"/><rect x="466.5" width="8.5" height="8.5" fill="#4f5ea2"/><rect x="474.5" width="8.5" height="8.5" fill="#505fa3"/><rect x="482.5" width="8.5" height="8.5" fill="#5261a4"/><rect x="490.5" width="8.5" height="8.5" fill="#5463a6"/><rect x="498.5" width="8.5" height="8.5" fill="#5867a8"/><rect x="506.5" width="8.5" height="8.5" fill="#5e6cab"/><rect x="514.5" width="8.5" height="8.5" fill="#6573af"/><rect x="522.5" width="8.5" height="8.5" fill="#6e7ab4"/><rect x="530.5" width="8.5" height="8.5" fill="#7682b8"/><rect x="538.5" width="8.5" height="8.5" fill="#7d89bd"/><rect x="546.5" width="8.5" height="8.5" fill="#838ec0"/><rect x="554.5" width="8.5" height="8.5" fill="#8691c2"/><rect x="562.5" width="8.5" height="8.5" fill="#8791c2"/><rect x="570.5" width="8.5" height="8.5" fill="#8590c1"/><rect x="578.5" width="8.5" height="8.5" fill="#818cbf"/><rect x="586.5" width="8.5" height="8.5" fill="#7c88bc"/><rect x="594.5" width="8.5" height="8.5" fill="#7783b9"/><rect x="602.5" width="8.5" height="8.5" fill="#727eb6"/><rect x="610.5" width="8.5" height="8.5" fill="#6e7bb4"/><rect x="618.5" width="8.5" height="8.5" fill="#6c78b3"/><rect x="626.5" width="8.5" height="8.5" fill="#6b78b2"/><rect x="634.5" width="8.5" height="8.5" fill="#6b78b2"/><rect x="642.5" width="8.5" height="8.5" fill="#6d7ab3"/><rect x="650.5" width="8.5" height="8.5" fill="#6f7cb5"/><rect x="658.5" width="8.5" height="8.5" fill="#717eb6"/><rect x="666.5" width="8.5" height="8.5" fill="#737fb7"/><rect x="674.5" width="8.5" height="8.5" fill="#7480b7"/><rect x="682.5" width="8.5" height="8.5" fill="#7480b7"/><rect x="690.5" width="8.5" height="8.5" fill="#7480b7"/><rect x="698.5" width="8.5" height="8.5" fill="#737fb7"/><rect x="706.5" width="8.5" height="8.5" fill="#737fb7"/><rect x="714.5" width="8.5" height="8.5" fill="#737fb7"/><rect x="722.5" width="8.5" height="8.5" fill="#737fb6"/><rect x="730.5" width="8.5" height="8.5" fill="#717eb6"/><rect x="738.5" width="8.5" height="8.5" fill="#6e7bb4"/><rect x="746.5" width="8.5" height="8.5" fill="#6a77b2"/><rect x="754.5" width="8.5" height="8.5" fill="#6471ae"/></g>
<g transform="translate(0,648)"><rect x="186.5" width="8.5" height="8.5" fill="#45559d"/><rect x="194.5" width="8.5" height="8.5" fill="#4b5aa0"/><rect x="202.5" width="8.5" height="8.5" fill="#5261a4"/><rect x="210.5" width="8.5" height="8.5" fill="#5a68a9"/><rect x="218.5" width="8.5" height="8.5" fill="#6472ae"/><rect x="226.5" width="8.5" height="8.5" fill="#6f7cb5"/><rect x="234.5" width="8.5" height="8.5" fill="#7a85ba"/><rect x="242.5" width="8.5" height="8.5" fill="#828dbf"/><rect x="250.5" width="8.5" height="8.5" fill="#8892c2"/><rect x="258.5" width="8.5" height="8.5" fill="#8994c3"/><rect x="266.5" width="8.5" height="8.5" fill="#8791c2"/><rect x="274.5" width="8.5" height="8.5" fill="#818cbf"/><rect x="282.5" width="8.5" height="8.5" fill="#7a86bb"/><rect x="290.5" width="8.5" height="8.5" fill="#737fb7"/><rect x="298.5" width="8.5" height="8.5" fill="#6c79b3"/><rect x="306.5" width="8.5" height="8.5" fill="#6774b0"/><rect x="314.5" width="8.5" height="8.5" fill="#626fad"/><rect x="322.5" width="8.5" height="8.5" fill="#5d6baa"/><rect x="330.5" width="8.5" height="8.5" fill="#5866a8"/><rect x="338.5" width="8.5" height="8.5" fill="#5362a5"/><rect x="346.5" width="8.5" height="8.5" fill="#4d5da2"/><rect x="354.5" width="8.5" height="8.5" fill="#47579e"/><rect x="362.5" width="8.5" height="8.5" fill="#45559d"/><rect x="370.5" width="8.5" height="8.5" fill="#45559d"/><rect x="378.5" width="8.5" height="8.5" fill="#45559d"/><rect x="386.5" width="8.5" height="8.5" fill="#45559d"/><rect x="394.5" width="8.5" height="8.5" fill="#45559d"/><rect x="402.5" width="8.5" height="8.5" fill="#45559d"/><rect x="410.5" width="8.5" height="8.5" fill="#45559d"/><rect x="418.5" width="8.5" height="8.5" fill="#45559d"/><rect x="426.5" width="8.5" height="8.5" fill="#45559d"/><rect x="434.5" width="8.5" height="8.5" fill="#45559d"/><rect x="442.5" width="8.5" height="8.5" fill="#45559d"/><rect x="450.5" width="8.5" height="8.5" fill="#48579e"/><rect x="458.5" width="8.5" height="8.5" fill="#4a5aa0"/><rect x="466.5" width="8.5" height="8.5" fill="#4d5ca1"/><rect x="474.5" width="8.5" height="8.5" fill="#4e5ea2"/><rect x="482.5" width="8.5" height="8.5" fill="#505fa3"/><rect x="490.5" width="8.5" height="8.5" fill="#5362a5"/><rect x="498.5" width="8.5" height="8.5" fill="#5664a6"/><rect x="506.5" width="8.5" height="8.5" fill="#5a68a9"/><rect x="514.5" width="8.5" height="8.5" fill="#5f6cab"/><rect x="522.5" width="8.5" height="8.5" fill="#6471ae"/><rect x="530.5" width="8.5" height="8.5" fill="#6a77b1"/><rect x="538.5" width="8.5" height="8.5" fill="#6f7bb4"/><rect x="546.5" width="8.5" height="8.5" fill="#727fb6"/><rect x="554.5" width="8.5" height="8.5" fill="#7480b7"/><rect x="562.5" width="8.5" height="8.5" fill="#7481b8"/><rect x="570.5" width="8.5" height="8.5" fill="#737fb7"/><rect x="578.5" width="8.5" height="8.5" fill="#707cb5"/><rect x="586.5" width="8.5" height="8.5" fill="#6c78b3"/><rect x="594.5" width="8.5" height="8.5" fill="#6774b0"/><rect x="602.5" width="8.5" height="8.5" fill="#6371ae"/><rect x="610.5" width="8.5" height="8.5" fill="#606dac"/><rect x="618.5" width="8.5" height="8.5" fill="#5d6bab"/><rect x="626.5" width="8.5" height="8.5" fill="#5c6aaa"/><rect x="634.5" width="8.5" height="8.5" fill="#5c6aaa"/><rect x="642.5" width="8.5" height="8.5" fill="#5c6aaa"/><rect x="650.5" width="8.5" height="8.5" fill="#5d6baa"/><rect x="658.5" width="8.5" height="8.5" fill="#5e6cab"/><rect x="666.5" width="8.5" height="8.5" fill="#5f6dab"/><rect x="674.5" width="8.5" height="8.5" fill="#5f6dac"/><rect x="682.5" width="8.5" height="8.5" fill="#606eac"/><rect x="690.5" width="8.5" height="8.5" fill="#606eac"/><rect x="698.5" width="8.5" height="8.5" fill="#616eac"/><rect x="706.5" width="8.5" height="8.5" fill="#616fad"/><rect x="714.5" width="8.5" height="8.5" fill="#616fad"/><rect x="722.5" width="8.5" height="8.5" fill="#616fad"/><rect x="730.5" width="8.5" height="8.5" fill="#616ead"/><rect x="738.5" width="8.5" height="8.5" fill="#5f6dac"/><rect x="746.5" width="8.5" height="8.5" fill="#5c6aaa"/><rect x="754.5" width="8.5" height="8.5" fill="#5866a7"/></g>
</g></g>
<g clip-path="url(#pc)" fill="none" stroke="#4a5892" stroke-width="1.6" stroke-linejoin="round" stroke-linecap="round">
<path d="M210.0,158.6 C212.0,158.5 218.2,158.9 221.8,158.1 C225.3,157.3 228.5,156.0 231.2,153.9 C233.8,151.7 236.1,148.2 237.8,145.2 C239.4,142.1 240.5,137.3 241.0,135.8"/>
<path d="M224.6,117.6 C223.7,117.1 221.4,114.0 219.4,114.6 C217.4,115.1 213.5,119.9 212.4,120.9"/>
<path d="M267.6,104.0 C267.5,106.4 267.5,113.8 267.2,118.1 C266.8,122.4 266.0,126.3 265.5,129.9 C265.0,133.4 264.1,136.0 264.1,139.3 C264.1,142.6 265.3,148.1 265.5,149.9"/>
<path d="M238.2,171.0 C236.7,173.0 232.0,179.5 228.8,182.8 C225.7,186.1 222.5,188.5 219.4,190.6 C216.3,192.6 211.6,194.5 210.0,195.3"/>
<path d="M293.5,104.0 C292.7,106.0 290.8,111.4 288.8,115.8 C286.8,120.1 284.3,125.0 281.7,129.9 C279.2,134.8 276.3,140.1 273.5,145.2 C270.8,150.3 268.2,155.2 265.3,160.5 C262.3,165.7 258.8,171.4 255.9,176.9 C252.9,182.4 250.2,187.9 247.6,193.4 C245.1,198.9 242.5,204.4 240.6,209.8 C238.7,215.3 237.2,221.2 236.3,226.3 C235.5,231.4 234.9,235.7 235.4,240.4 C235.9,245.1 237.4,250.2 239.4,254.5 C241.4,258.8 246.3,264.3 247.6,266.3"/>
<path d="M365.2,248.7 C366.3,250.0 370.7,253.6 371.8,256.9 C373.0,260.2 372.5,265.0 372.3,268.7 C372.1,272.3 370.7,277.3 370.4,279.0"/>
<path d="M423.8,104.0 C424.2,106.0 424.8,112.4 426.2,115.8 C427.5,119.1 430.1,122.0 432.0,124.0 C434.0,126.0 436.9,126.9 437.9,127.5"/>
<path d="M489.7,119.3 C490.7,117.9 493.8,113.6 495.6,111.1 C497.3,108.5 499.5,105.2 500.3,104.0"/>
<path d="M483.8,172.2 C484.4,167.9 485.4,161.4 488.5,158.1 C491.6,154.8 497.9,153.4 502.6,152.2 C507.3,151.0 512.4,150.7 516.7,151.0 C521.0,151.4 525.5,152.6 528.5,154.6 C531.4,156.5 533.2,159.5 534.4,162.8 C535.5,166.1 535.7,170.6 535.5,174.6 C535.3,178.5 534.4,183.4 533.2,186.3 C532.0,189.3 530.8,190.2 528.5,192.2 C526.1,194.2 522.6,196.9 519.1,198.1 C515.5,199.3 511.6,200.0 507.3,199.3 C503.0,198.5 496.9,195.9 493.2,193.4 C489.5,190.8 486.5,187.5 485.0,184.0 C483.4,180.4 483.2,176.5 483.8,172.2"/>
<path d="M547.3,254.5 C548.5,255.5 552.2,258.5 554.4,260.4 C556.5,262.4 559.1,265.3 560.0,266.3"/>
<path d="M628.2,104.0 C629.0,105.6 630.8,110.9 632.9,113.4 C635.1,116.0 638.6,117.9 641.1,119.3 C643.7,120.7 647.0,121.2 648.2,121.6"/>
<path d="M701.1,118.1 C702.7,117.1 707.4,114.0 710.5,112.2 C713.7,110.5 717.6,108.9 719.9,107.5 C722.3,106.2 723.9,104.6 724.7,104.0"/>
<path d="M658.8,105.2 C661.1,105.6 668.2,107.3 672.9,107.5 C677.6,107.7 684.7,106.5 687.0,106.4"/>
<path d="M621.2,145.2 C622.3,144.6 624.7,142.6 628.2,141.6 C631.7,140.7 636.8,139.7 642.3,139.3 C647.8,138.9 655.3,139.7 661.1,139.3 C667.0,138.9 672.5,138.1 677.6,136.9 C682.7,135.8 686.2,134.0 691.7,132.2 C697.2,130.5 703.3,128.1 710.5,126.3 C717.8,124.6 730.9,122.4 735.0,121.6"/>
<path d="M694.1,152.2 C696.0,151.6 701.5,149.9 705.8,148.7 C710.1,147.5 715.1,146.1 719.9,145.2 C724.8,144.2 732.5,143.2 735.0,142.8"/>
<path d="M697.6,175.7 C699.8,175.9 706.0,176.6 710.5,176.4 C715.0,176.3 720.6,175.5 724.7,175.0 C728.7,174.6 733.3,173.9 735.0,173.6"/>
<path d="M593.9,196.0 C593.2,197.2 590.4,199.9 589.8,203.2 C589.2,206.6 589.4,212.2 590.3,216.1 C591.3,220.0 593.0,223.3 595.5,226.6 C598.0,230.0 601.8,234.0 605.2,236.3 C608.5,238.6 612.0,240.0 615.6,240.6 C619.3,241.3 623.4,241.0 626.9,240.0 C630.4,239.0 634.0,237.0 636.6,234.7 C639.2,232.3 641.4,228.9 642.6,225.8 C643.7,222.7 644.0,219.0 643.5,216.1 C643.1,213.2 640.5,209.7 639.8,208.4"/>
<path d="M651.9,243.5 C653.3,242.3 657.0,239.2 660.0,236.3 C663.0,233.3 667.7,228.6 669.7,225.8 C671.7,223.0 672.1,221.5 672.1,219.4 C672.1,217.2 671.2,215.3 669.7,212.9 C668.2,210.5 665.9,207.5 663.2,204.8 C660.5,202.2 656.8,199.5 653.5,196.8 C650.3,194.1 647.1,191.1 643.9,188.7 C640.6,186.3 637.4,184.3 634.2,182.3 C631.0,180.2 627.7,178.4 624.5,176.6 C621.3,174.8 618.3,172.8 614.8,171.3 C611.3,169.8 607.3,168.0 603.5,167.4 C599.8,166.8 595.8,166.9 592.3,167.7 C588.8,168.6 585.4,170.2 582.6,172.6 C579.8,175.0 577.2,178.8 575.3,182.3 C573.4,185.8 572.1,189.5 571.3,193.5 C570.5,197.6 570.2,201.9 570.5,206.5 C570.8,211.0 571.4,216.4 572.9,221.0 C574.4,225.5 576.7,229.8 579.4,233.9 C582.0,237.9 585.3,241.7 589.0,245.2 C592.8,248.7 597.6,252.3 601.9,254.8 C606.2,257.4 610.5,259.4 614.8,260.5 C619.1,261.6 624.0,261.7 627.7,261.3 C631.5,260.8 634.7,259.4 637.4,257.7 C640.1,256.1 642.8,252.6 643.9,251.6"/>
<path d="M639.8,172.6 C641.6,173.9 646.4,178.2 650.3,180.6 C654.2,183.1 658.3,185.2 663.2,187.1 C668.2,189.0 667.9,190.4 680.0,192.3 C692.1,194.1 726.5,197.4 735.8,198.4"/>
<path d="M620.0,287.9 C621.6,287.5 625.6,287.2 629.7,285.5 C633.7,283.7 639.6,280.9 644.2,277.4 C648.8,273.9 653.1,268.8 657.1,264.5 C661.1,260.2 664.6,255.1 668.4,251.6 C672.2,248.1 675.6,245.8 679.7,243.5 C683.7,241.3 688.0,239.5 692.6,237.9 C697.2,236.3 702.5,234.5 707.1,233.9 C711.7,233.2 715.7,233.5 720.0,233.9 C724.3,234.3 729.6,235.7 732.9,236.3 C736.2,236.9 738.8,237.2 740.0,237.4"/>
<path d="M671.6,267.7 C672.7,266.4 675.4,262.1 678.1,259.7 C680.8,257.3 684.0,255.0 687.7,253.2 C691.5,251.5 696.3,250.0 700.6,249.2 C704.9,248.4 709.5,248.0 713.5,248.4 C717.6,248.8 721.6,250.4 724.8,251.6 C728.1,252.8 730.4,254.6 732.9,255.6 C735.4,256.7 738.8,257.7 740.0,258.1"/>
<path d="M687.7,275.8 C688.7,273.8 690.2,271.5 692.6,270.2 C695.0,268.8 698.8,267.9 702.3,267.7 C705.8,267.6 710.3,268.0 713.5,269.4 C716.8,270.7 720.1,273.1 721.6,275.8 C723.1,278.5 723.0,282.8 722.4,285.5 C721.9,288.2 720.9,290.1 718.4,291.9 C715.8,293.8 710.9,296.1 707.1,296.8 C703.3,297.4 698.9,297.0 695.8,296.0 C692.7,294.9 690.0,292.6 688.5,290.3 C687.1,288.0 687.1,284.7 686.9,282.3 C686.8,279.8 686.8,277.8 687.7,275.8"/>
<path d="M264.4,333.1 C264.3,331.6 264.4,327.0 263.5,324.0 C262.6,321.0 261.3,317.8 259.0,314.9 C256.7,312.0 253.5,308.9 249.9,306.8 C246.3,304.6 241.5,302.7 237.2,302.2 C233.0,301.8 228.1,302.8 224.5,304.0 C220.9,305.2 217.9,307.9 215.4,309.5 C213.0,311.0 210.9,312.8 210.0,313.5"/>
<path d="M210.0,365.7 C211.2,366.5 214.5,368.8 217.3,370.3 C220.0,371.8 223.0,373.9 226.3,374.8 C229.7,375.7 233.9,376.2 237.2,375.7 C240.5,375.3 243.4,373.7 246.3,372.1 C249.2,370.4 252.5,367.5 254.5,365.7 C256.4,363.9 257.5,361.9 258.1,361.2"/>
<path d="M259.5,279.0 C260.4,279.5 261.5,279.9 264.4,282.3 C267.4,284.6 273.2,289.2 277.1,293.1 C281.1,297.1 284.7,301.8 288.0,305.8 C291.4,309.9 294.2,313.4 297.1,317.6 C300.0,321.9 303.9,329.0 305.3,331.2"/>
<path d="M659.9,295.0 C660.2,296.8 660.2,302.5 661.7,305.8 C663.2,309.2 665.9,312.5 669.0,314.9 C672.0,317.3 675.6,319.1 679.8,320.4 C684.1,321.6 689.5,322.5 694.4,322.5 C699.2,322.5 704.0,321.5 708.9,320.4 C713.7,319.2 719.0,317.2 723.4,315.8 C727.7,314.5 733.1,312.8 735.0,312.2"/>
<path d="M668.0,454.0 C668.2,452.2 667.6,446.7 669.0,443.1 C670.3,439.5 673.2,435.2 676.2,432.2 C679.2,429.2 682.9,426.8 687.1,425.0 C691.3,423.1 696.8,421.6 701.6,421.3 C706.5,421.0 711.9,421.9 716.1,423.1 C720.4,424.4 723.9,426.8 727.0,428.6 C730.2,430.4 733.7,433.1 735.0,434.0"/>
<path d="M690.7,452.2 C692.2,449.6 695.0,447.2 698.0,445.8 C701.0,444.5 705.5,443.6 708.9,444.0 C712.2,444.5 715.4,446.0 717.9,448.5 C720.5,451.1 723.2,455.5 724.3,459.4 C725.4,463.4 725.4,468.5 724.3,472.1 C723.2,475.8 720.8,478.9 717.9,481.2 C715.1,483.5 710.7,485.7 707.1,485.7 C703.4,485.7 699.0,483.5 696.2,481.2 C693.3,478.9 691.0,475.5 689.8,472.1 C688.6,468.8 688.8,464.6 688.9,461.2 C689.1,457.9 689.2,454.7 690.7,452.2"/>
<path d="M259.9,511.3 C260.2,513.1 260.1,519.0 261.7,522.2 C263.4,525.4 266.4,527.8 269.9,530.4 C273.4,533.0 278.6,535.8 282.6,537.6 C286.5,539.5 289.8,540.8 293.5,541.3 C297.1,541.7 301.9,542.0 304.4,540.4 C306.8,538.7 307.5,534.3 308.0,531.3 C308.4,528.3 308.0,524.9 307.1,522.2 C306.2,519.5 304.1,516.8 302.5,515.0 C301.0,513.1 298.8,511.6 298.0,511.0"/>
<path d="M373.6,560.3 C372.5,560.9 368.9,561.8 367.2,564.0 C365.6,566.1 364.0,569.7 363.6,573.0 C363.1,576.4 363.6,580.6 364.5,583.9 C365.4,587.2 366.5,590.3 369.0,593.0 C371.6,595.7 375.7,597.8 379.9,600.2 C384.2,602.7 389.0,605.1 394.4,607.5 C399.9,609.9 406.5,612.3 412.6,614.8 C418.6,617.2 424.7,619.9 430.7,622.0 C436.8,624.1 444.3,626.1 448.9,627.5 C453.4,628.8 456.4,629.6 457.9,630.0"/>
<path d="M572.5,589.4 C572.7,591.2 572.7,596.3 573.4,600.2 C574.2,604.2 575.5,609.3 577.1,612.9 C578.6,616.6 581.0,619.2 582.5,622.0 C584.0,624.9 585.5,628.7 586.1,630.0"/>
<path d="M661.7,589.4 C661.2,591.8 659.6,599.0 659.0,603.9 C658.4,608.7 658.3,614.0 658.1,618.4 C657.9,622.7 657.8,628.1 657.7,630.0"/>
<path d="M673.5,611.1 C673.6,612.9 674.1,618.9 674.4,622.0 C674.7,625.2 675.2,628.7 675.3,630.0"/>
<path d="M713.4,568.5 C715.1,568.6 719.8,568.6 723.4,569.4 C727.0,570.2 733.1,572.4 735.0,573.0"/>
<path d="M706.1,603.9 C707.2,601.6 714.8,600.1 715.2,602.1 C715.7,604.0 710.4,615.4 708.9,615.7 C707.4,616.0 705.1,606.1 706.1,603.9"/>
<path d="M617.2,589.4 C617.5,591.2 618.9,596.6 619.1,600.2 C619.2,603.9 618.9,607.5 618.1,611.1 C617.4,614.8 615.7,618.9 614.5,622.0 C613.3,625.2 611.5,628.7 610.9,630.0"/>
<path d="M474.4,279.0 C475.9,277.7 480.3,273.3 483.8,271.0 C487.3,268.7 491.2,266.1 495.6,265.1 C499.9,264.1 505.7,264.5 509.7,265.1 C513.6,265.7 516.7,266.9 519.1,268.7 C521.4,270.4 522.9,274.0 523.8,275.7 C524.6,277.4 524.4,277.9 524.2,279.0 C524.0,280.1 523.8,280.2 522.6,282.3 C521.5,284.3 519.6,288.6 517.2,291.3 C514.8,294.1 511.7,296.6 508.1,298.6 C504.5,300.6 499.6,302.7 495.4,303.1 C491.2,303.6 486.3,303.0 482.7,301.3 C479.1,299.6 475.7,296.0 473.6,293.1 C471.5,290.3 470.4,286.4 470.0,284.1 C469.6,281.7 470.8,279.8 471.0,279.0"/>
<path d="M644.5,630.0 C644.6,627.5 645.0,619.7 645.4,614.8 C645.8,609.8 646.4,605.1 646.8,600.2 C647.3,595.4 647.6,590.6 648.1,585.7 C648.6,580.9 649.1,575.7 649.9,571.2 C650.7,566.7 651.3,562.7 652.6,558.5 C654.0,554.3 656.6,550.3 658.1,545.8 C659.6,541.3 661.2,536.1 661.7,531.3 C662.1,526.5 661.7,521.3 660.8,516.8 C659.9,512.2 657.5,507.2 656.2,504.1 C655.0,501.0 654.8,501.2 653.3,498.3 C651.8,495.4 649.7,490.4 647.2,486.7 C644.6,482.9 640.8,479.7 638.1,475.8 C635.4,471.8 632.5,467.9 630.8,463.1 C629.2,458.2 628.4,452.2 628.1,446.7 C627.8,441.3 628.1,435.5 629.0,430.4 C629.9,425.3 632.1,419.3 633.6,415.9 C635.0,412.5 635.6,412.3 637.6,410.0 C639.5,407.7 642.5,405.2 645.4,402.0 C648.2,398.9 650.8,394.8 654.4,391.1 C658.1,387.5 662.6,383.9 667.1,380.2 C671.7,376.6 676.8,372.7 681.7,369.4 C686.5,366.0 691.0,363.0 696.2,360.3 C701.3,357.6 707.4,354.8 712.5,353.0 C717.6,351.2 723.3,350.2 727.0,349.4 C730.8,348.6 733.7,348.6 735.0,348.5"/>
<path d="M318.0,360.3 C317.8,362.1 317.4,367.5 316.7,371.2 C316.0,374.8 315.0,378.4 313.8,382.1 C312.6,385.7 310.9,389.6 309.4,392.9 C307.9,396.3 306.2,399.2 304.7,402.0 C303.2,404.9 301.8,407.1 300.2,410.0 C298.7,412.9 296.6,415.2 295.3,419.5 C294.0,423.8 292.9,430.4 292.6,435.8 C292.3,441.3 292.4,446.7 293.5,452.2 C294.5,457.6 296.5,463.4 298.9,468.5 C301.3,473.6 304.6,478.1 308.0,483.0 C311.3,488.0 316.0,494.5 319.1,498.3 C322.1,502.1 323.4,502.8 326.1,505.9 C328.8,509.0 332.8,512.8 335.2,516.8 C337.6,520.7 339.6,525.2 340.6,529.5 C341.7,533.7 342.2,538.2 341.6,542.2 C340.9,546.1 338.8,548.8 337.0,553.1 C335.2,557.3 332.8,563.0 330.7,567.6 C328.5,572.1 325.8,576.0 324.3,580.3 C322.8,584.5 321.9,589.4 321.6,593.0 C321.3,596.6 321.4,598.7 322.5,602.1 C323.6,605.4 326.1,609.3 327.9,612.9 C329.8,616.6 331.9,621.0 333.4,623.8 C334.9,626.7 336.4,629.0 337.0,630.0"/>
<path d="M735.0,400.2 C733.7,399.9 730.2,399.0 727.0,398.4 C723.9,397.8 720.4,396.7 716.1,396.6 C711.9,396.4 706.5,396.6 701.6,397.5 C696.8,398.4 692.2,399.9 687.1,402.0 C682.0,404.1 674.6,408.3 670.9,410.0 C667.3,411.7 667.8,410.1 665.3,412.3 C662.9,414.4 658.5,419.2 656.2,423.1 C654.0,427.1 652.6,431.3 651.7,435.8 C650.8,440.4 650.7,445.8 650.8,450.4 C651.0,454.9 652.3,460.9 652.6,463.1"/>
<path d="M658.1,477.6 C659.0,479.7 661.7,486.9 663.5,490.3 C665.3,493.7 666.7,495.2 668.8,497.8 C670.9,500.4 673.8,502.4 676.2,505.9 C678.7,509.3 681.5,514.4 683.5,518.6 C685.4,522.8 687.4,527.4 688.0,531.3 C688.6,535.2 688.2,538.5 687.1,542.2 C686.0,545.8 683.8,549.4 681.7,553.1 C679.5,556.7 676.5,560.6 674.4,564.0 C672.3,567.3 669.9,571.5 669.0,573.0"/>
<path d="M303.6,185.1 C302.4,186.7 297.5,191.6 296.6,194.6 C295.7,197.5 296.2,200.3 298.2,202.8 C300.2,205.3 303.9,207.8 308.8,209.4 C313.7,210.9 320.6,211.9 327.6,212.2 C334.7,212.5 344.1,211.1 351.1,211.3 C358.2,211.4 364.3,211.8 369.9,212.9 C375.6,214.0 381.3,216.0 385.0,217.8 C388.7,219.7 389.7,221.8 392.1,224.0 C394.4,226.2 397.3,228.3 399.1,231.0 C400.9,233.8 402.2,236.5 402.6,240.4 C403.0,244.3 402.2,249.8 401.5,254.5 C400.7,259.2 399.2,264.6 397.9,268.7 C396.7,272.7 394.9,276.1 393.8,279.0 C392.6,281.9 392.2,283.2 390.8,285.9 C389.4,288.5 387.8,291.6 385.4,295.0 C382.9,298.3 379.6,302.8 376.3,305.8 C373.0,308.9 369.3,311.0 365.4,313.1 C361.5,315.2 356.5,317.3 352.7,318.5 C348.9,319.8 346.0,320.4 342.5,320.4 C339.0,320.4 335.8,319.9 331.6,318.5 C327.3,317.2 321.6,314.6 317.1,312.2 C312.5,309.8 308.0,306.9 304.4,304.0 C300.7,301.2 298.0,298.3 295.3,295.0 C292.6,291.6 290.2,286.7 288.0,284.1 C285.9,281.4 284.0,282.7 282.3,279.0 C280.6,275.3 278.7,267.2 277.7,261.6 C276.8,255.9 276.7,250.6 276.8,245.1 C276.9,239.6 277.5,233.8 278.2,228.7 C278.9,223.6 280.1,219.3 281.0,214.6 C282.0,209.8 283.3,205.1 284.1,200.4 C284.9,195.7 285.2,191.4 285.7,186.3 C286.3,181.2 286.7,175.0 287.6,169.9 C288.5,164.8 289.6,160.1 291.1,155.7 C292.7,151.4 294.5,147.3 297.0,144.0 C299.6,140.7 303.1,137.8 306.4,135.8 C309.8,133.7 313.7,132.0 317.0,131.8 C320.4,131.6 324.2,132.5 326.4,134.6 C328.7,136.6 330.0,140.7 330.4,144.0 C330.8,147.3 329.1,152.8 328.8,154.6"/>
<path d="M210.0,283.2 C211.8,282.8 216.4,281.3 220.9,280.8 C225.4,280.4 231.8,279.4 237.2,280.4 C242.7,281.4 248.4,283.9 253.5,286.8 C258.7,289.7 263.8,293.6 268.1,297.7 C272.3,301.8 276.2,306.6 279.0,311.3 C281.7,316.0 283.2,321.0 284.4,325.8 C285.6,330.6 286.0,335.8 286.2,340.3 C286.5,344.9 286.4,348.8 285.8,353.0 C285.3,357.3 284.4,361.3 282.9,365.7 C281.5,370.1 279.6,374.9 277.1,379.3 C274.7,383.7 270.8,388.3 268.1,392.0 C265.3,395.8 263.3,399.0 260.8,402.0 C258.3,405.0 255.0,408.3 252.9,410.0 C250.7,411.7 250.4,411.1 248.1,412.3 C245.8,413.4 242.1,415.7 239.0,416.8 C236.0,417.9 233.0,418.8 230.0,418.6 C226.9,418.5 223.9,417.2 220.9,415.9 C217.9,414.5 213.5,411.4 211.8,410.4 C210.2,409.5 211.1,410.1 210.9,410.0"/>
<path d="M427.1,553.1 C428.9,552.5 433.8,550.6 438.0,549.4 C442.2,548.2 447.7,546.7 452.5,545.8 C457.3,544.9 463.7,544.3 467.0,544.0 C470.3,543.7 469.9,543.3 472.5,544.2 C475.1,545.1 478.9,547.0 482.7,549.4 C486.5,551.8 491.5,554.9 495.4,558.5 C499.3,562.1 503.0,567.0 506.3,571.2 C509.6,575.4 512.9,579.7 515.4,583.9 C517.8,588.1 519.4,592.7 520.8,596.6 C522.2,600.5 523.2,603.9 523.5,607.5 C523.8,611.1 523.2,615.1 522.6,618.4 C522.0,621.7 520.7,625.5 519.9,627.5 C519.1,629.4 518.4,629.6 518.1,630.0"/>
<path d="M384.2,279.0 C383.8,279.5 383.4,280.5 381.7,282.3 C380.1,284.0 377.5,287.1 374.5,289.5 C371.5,291.9 367.5,294.7 363.6,296.8 C359.7,298.9 354.4,301.1 350.9,302.2 C347.4,303.4 346.3,303.9 342.5,303.6 C338.7,303.3 332.5,302.0 327.9,300.4 C323.4,298.8 318.9,296.5 315.2,294.1 C311.6,291.6 308.6,288.4 306.2,285.9 C303.8,283.4 301.8,283.4 300.8,279.0 C299.8,274.6 299.1,265.3 300.1,259.2 C301.0,253.2 303.4,247.3 306.4,242.8 C309.5,238.3 313.1,234.9 318.2,232.2 C323.3,229.4 330.4,227.4 337.0,226.3 C343.7,225.3 351.9,225.4 358.2,225.8 C364.5,226.3 370.2,227.8 374.7,229.1 C379.1,230.5 383.3,233.1 385.0,233.8"/>
<path d="M564.4,630.0 C564.2,628.7 564.1,625.2 563.4,622.0 C562.8,618.9 561.6,614.8 560.7,611.1 C559.8,607.5 558.9,603.9 558.0,600.2 C557.1,596.6 556.5,593.3 555.3,589.4 C554.1,585.4 552.6,580.6 550.7,576.7 C548.9,572.7 547.0,568.9 544.4,565.8 C541.8,562.6 539.0,560.6 535.3,557.6 C531.7,554.6 526.9,551.4 522.6,547.6 C518.4,543.8 514.2,539.2 509.9,534.9 C505.7,530.7 501.5,526.1 497.2,522.2 C493.0,518.3 488.6,513.8 484.5,511.3 C480.4,508.8 476.0,507.2 472.5,507.2 C469.0,507.2 467.3,509.7 463.4,511.3 C459.4,512.9 453.7,515.0 448.9,516.8 C444.0,518.6 439.2,521.0 434.4,522.2 C429.5,523.4 424.1,524.3 419.8,524.0 C415.6,523.7 412.3,522.2 409.0,520.4 C405.6,518.6 402.3,515.9 399.9,513.1 C397.5,510.4 395.4,506.2 394.4,504.1 C393.5,502.0 394.1,502.6 394.1,500.6 C394.1,498.6 393.5,495.3 394.4,492.1 C395.4,488.9 397.5,484.2 399.9,481.2 C402.3,478.2 406.2,475.8 409.0,474.0 C411.7,472.1 413.3,471.4 416.2,470.3 C419.1,469.3 424.5,468.1 426.2,467.6"/>
<path d="M545.8,630.0 C545.8,628.7 545.7,625.8 545.3,622.0 C544.9,618.3 544.2,612.3 543.5,607.5 C542.7,602.7 542.1,597.5 540.8,593.0 C539.4,588.4 537.4,584.2 535.3,580.3 C533.2,576.4 531.1,573.0 528.1,569.4 C525.0,565.8 520.8,561.8 517.2,558.5 C513.5,555.2 510.2,552.5 506.3,549.4 C502.4,546.4 497.8,543.4 493.6,540.4 C489.4,537.3 484.4,533.2 480.9,531.3 C477.4,529.4 476.6,529.0 472.5,529.0 C468.4,529.0 461.9,530.2 456.1,531.3 C450.4,532.4 444.0,534.5 438.0,535.8 C431.9,537.2 425.6,539.0 419.8,539.5 C414.1,539.9 408.3,539.6 403.5,538.5 C398.7,537.5 394.7,535.5 390.8,533.1 C386.9,530.7 382.6,527.1 379.9,524.0 C377.2,521.0 375.5,518.0 374.5,515.0 C373.4,511.9 373.6,508.4 373.6,505.9 C373.5,503.3 373.8,502.6 374.3,499.7 C374.7,496.8 375.0,492.2 376.3,488.5 C377.5,484.8 379.6,481.1 381.7,477.6 C383.9,474.1 386.9,470.0 389.0,467.6 C391.1,465.2 391.7,464.4 394.4,463.1 C397.2,461.7 401.1,461.2 405.3,459.4 C409.6,457.6 415.3,454.9 419.8,452.2 C424.4,449.5 428.6,446.7 432.5,443.1 C436.5,439.5 440.4,434.9 443.4,430.4 C446.5,425.9 448.8,419.3 450.7,415.9 C452.6,412.5 453.2,412.6 454.9,410.0 C456.5,407.4 458.9,404.0 460.7,400.2 C462.4,396.5 463.8,391.7 465.2,387.5 C466.6,383.3 467.9,379.3 468.8,374.8 C469.7,370.3 470.6,364.2 470.6,360.3 C470.6,356.4 470.3,354.8 468.8,351.2 C467.3,347.6 464.3,342.1 461.6,338.5 C458.9,334.9 455.8,332.2 452.5,329.4 C449.2,326.7 443.9,323.5 441.6,322.2 C439.3,320.8 441.3,321.7 438.9,321.3 C436.5,320.8 431.5,319.9 427.1,319.5 C422.7,319.0 416.5,319.2 412.6,318.5 C408.6,317.9 405.5,317.0 403.5,315.8 C401.5,314.6 400.9,314.2 400.8,311.3 C400.6,308.4 401.5,302.8 402.6,298.6 C403.7,294.4 406.1,289.2 407.1,285.9 C408.1,282.6 408.1,281.5 408.7,279.0 C409.3,276.5 408.9,274.1 410.9,271.0 C412.8,267.9 416.0,263.6 420.3,260.4 C424.6,257.3 430.9,254.7 436.7,252.2 C442.6,249.6 450.1,247.5 455.6,245.1 C461.1,242.8 466.0,240.4 469.7,238.1 C473.4,235.7 475.8,233.8 477.9,231.0 C480.1,228.3 481.8,223.2 482.6,221.6"/>
<path d="M439.8,568.5 C438.6,569.5 434.1,572.3 432.5,574.8 C431.0,577.4 430.4,580.9 430.7,583.9 C431.0,586.9 431.9,590.3 434.4,593.0 C436.8,595.7 441.0,598.6 445.2,600.2 C449.5,601.9 455.2,602.6 459.8,603.0 C464.3,603.3 469.0,603.4 472.5,602.5 C476.0,601.6 478.4,599.4 480.9,597.5 C483.3,595.6 486.0,593.4 487.2,591.2 C488.4,588.9 488.3,586.6 488.1,583.9 C488.0,581.2 486.6,576.4 486.3,574.8"/>
<path d="M412.6,357.6 C411.1,359.2 407.1,363.9 403.5,367.5 C399.9,371.2 395.3,375.7 390.8,379.3 C386.3,383.0 381.1,386.1 376.3,389.3 C371.5,392.5 366.6,395.4 361.8,398.4 C356.9,401.4 350.2,405.3 347.3,407.5 C344.3,409.6 346.6,408.5 344.3,411.1 C342.0,413.7 336.7,419.0 333.4,423.1 C330.1,427.3 326.4,431.3 324.3,435.8 C322.2,440.4 321.0,445.5 320.7,450.4 C320.4,455.2 321.3,460.6 322.5,464.9 C323.7,469.1 325.8,472.4 327.9,475.8 C330.1,479.1 333.1,482.7 335.2,484.8 C337.3,487.0 338.6,488.2 340.6,488.5 C342.7,488.8 344.9,487.6 347.3,486.7 C349.6,485.7 352.4,485.1 354.5,483.0 C356.6,480.9 357.8,477.3 360.0,474.0 C362.1,470.6 364.5,466.7 367.2,463.1 C369.9,459.4 373.0,455.5 376.3,452.2 C379.6,448.9 382.9,445.8 387.2,443.1 C391.4,440.4 396.9,438.6 401.7,435.8 C406.5,433.1 412.0,430.1 416.2,426.8 C420.4,423.4 424.4,418.7 427.1,415.9 C429.8,413.1 431.2,411.7 432.7,410.0 C434.2,408.3 435.0,408.2 436.2,405.6 C437.4,403.1 438.6,398.4 439.8,394.8 C441.0,391.1 442.4,387.5 443.4,383.9 C444.5,380.2 445.5,376.3 446.1,373.0 C446.8,369.7 446.9,365.4 447.1,363.9"/>
<path d="M675.3,483.0 C677.1,485.4 682.7,493.9 685.9,497.4 C689.0,500.9 690.8,501.6 694.4,504.1 C697.9,506.6 703.1,510.7 707.1,512.2 C711.0,513.8 714.3,513.8 717.9,513.1 C721.6,512.5 726.0,510.0 728.8,508.6 C731.7,507.2 734.0,505.6 735.0,505.0"/>
<path d="M468.0,446.9 C468.3,446.3 468.5,445.9 470.0,443.1 C471.5,440.4 475.1,434.6 477.3,430.4 C479.4,426.2 481.2,421.0 482.7,417.7 C484.2,414.4 483.9,410.1 486.3,410.4 C488.8,410.7 495.3,415.0 497.2,419.5 C499.2,424.1 497.5,431.6 498.1,437.7 C498.7,443.7 498.9,451.0 500.8,455.8 C502.8,460.6 506.0,463.4 509.9,466.7 C513.9,470.0 519.6,472.7 524.4,475.8 C529.3,478.8 534.5,481.4 539.0,484.8 C543.5,488.3 548.4,493.6 551.4,496.5 C554.5,499.4 553.7,499.2 557.1,502.3 C560.5,505.3 568.0,511.0 571.6,515.0 C575.2,518.9 576.1,521.9 578.9,525.8 C581.6,529.8 584.9,534.9 587.9,538.5 C591.0,542.2 594.6,545.4 597.0,547.6 C599.4,549.8 600.5,550.5 602.5,551.7 C604.5,552.9 606.5,553.1 609.1,554.9 C611.7,556.6 615.4,559.7 618.1,562.1 C620.9,564.6 623.1,567.0 625.4,569.4 C627.7,571.8 630.4,573.3 631.8,576.7 C633.1,580.0 633.1,584.8 633.6,589.4 C634.0,593.9 634.5,599.0 634.5,603.9 C634.5,608.7 634.0,614.0 633.6,618.4 C633.1,622.7 632.1,628.1 631.8,630.0"/>
<path d="M326.4,246.3 C325.1,247.5 320.6,250.0 318.7,253.4 C316.7,256.7 314.9,262.0 314.9,266.3 C315.0,270.6 317.1,276.3 319.0,279.0 C320.8,281.7 323.1,281.0 326.1,282.3 C329.1,283.6 334.3,286.0 337.0,286.8 C339.7,287.6 340.2,287.3 342.5,287.0 C344.8,286.7 347.8,286.3 350.9,285.0 C354.0,283.7 359.4,280.0 361.1,279.0"/>
<path d="M639.5,279.0 C639.3,279.2 639.9,279.3 638.1,280.4 C636.4,281.6 632.4,284.7 629.0,285.9 C625.7,287.1 621.8,288.0 618.1,287.7 C614.5,287.4 610.2,285.5 607.3,284.1 C604.3,282.6 604.1,281.4 600.2,279.0 C596.4,276.7 588.2,274.0 584.2,270.0 C580.2,266.0 578.8,259.2 576.1,254.8 C573.4,250.4 570.8,247.0 568.1,243.5 C565.4,240.1 562.3,236.5 560.0,234.0 C557.7,231.5 555.8,231.9 554.4,228.7 C552.9,225.4 551.9,219.6 551.5,214.6 C551.1,209.5 551.3,203.6 552.0,198.1 C552.7,192.6 554.2,185.8 555.5,181.6 C556.9,177.4 558.3,177.1 560.0,172.8 C561.7,168.5 564.2,162.1 565.9,155.7 C567.5,149.4 569.1,140.5 569.9,134.6 C570.7,128.7 571.2,123.8 570.8,120.5 C570.4,117.2 569.3,116.0 567.5,114.8 C565.7,113.6 563.8,113.3 560.0,113.4 C556.2,113.6 550.6,114.6 544.9,115.8 C539.3,116.9 532.0,118.7 526.1,120.5 C520.2,122.2 514.4,124.4 509.7,126.3 C505.0,128.3 501.8,130.1 497.9,132.2 C494.0,134.4 490.1,136.9 486.1,139.3 C482.2,141.6 478.9,144.1 474.4,146.3 C469.9,148.6 463.8,151.7 459.1,152.8 C454.4,153.9 450.7,153.4 446.2,152.9 C441.6,152.4 437.9,151.0 432.0,149.9 C426.2,148.8 417.1,146.7 410.9,146.3 C404.6,145.9 398.7,146.5 394.4,147.5 C390.1,148.6 388.1,150.6 385.0,152.6 C381.9,154.5 378.3,156.6 375.8,159.3 C373.3,162.0 371.2,165.7 369.9,168.7 C368.7,171.6 367.7,174.8 368.1,176.9 C368.5,179.1 369.5,179.9 372.3,181.6 C375.1,183.3 381.3,185.2 385.0,187.1 C388.7,189.1 390.5,191.6 394.4,193.4 C398.3,195.2 403.0,197.3 408.5,198.1 C414.0,198.9 419.9,197.9 427.3,198.1 C434.8,198.3 448.9,199.1 453.2,199.3"/>
<path d="M563.2,279.0 C563.4,280.8 565.1,285.9 564.4,289.5 C563.6,293.1 561.3,297.7 558.9,300.4 C556.5,303.1 554.1,303.4 549.8,305.8 C545.6,308.3 539.3,311.9 533.5,314.9 C527.8,317.9 521.4,321.0 515.4,324.0 C509.3,327.0 503.0,332.4 497.2,332.7 C491.5,333.0 485.0,328.5 480.9,325.8 C476.8,323.1 475.1,319.2 472.5,316.7 C469.9,314.3 468.5,313.1 465.2,311.3 C461.9,309.5 456.4,308.0 452.5,305.8 C448.6,303.7 444.2,301.0 441.6,298.6 C439.0,296.2 437.7,293.8 437.1,291.3 C436.5,288.9 437.4,286.1 438.0,284.1 C438.6,282.0 437.5,281.6 440.5,279.0 C443.4,276.4 449.9,271.9 455.6,268.7 C461.2,265.4 468.9,262.4 474.4,259.2 C479.9,256.1 484.6,252.4 488.5,249.8 C492.4,247.3 494.6,245.7 497.9,244.0 C501.2,242.2 506.7,240.0 508.5,239.2"/>
<path d="M581.6,332.2 C579.0,332.5 570.9,332.9 566.2,334.0 C561.5,335.0 556.8,336.5 553.5,338.5 C550.1,340.5 548.2,343.0 546.2,345.8 C544.2,348.5 542.4,351.2 541.7,354.8 C540.9,358.5 541.2,363.9 541.7,367.5 C542.1,371.2 543.0,374.0 544.4,376.6 C545.8,379.2 546.5,381.5 549.8,383.0 C553.2,384.5 559.5,385.8 564.4,385.7 C569.2,385.5 574.0,383.7 578.9,382.1 C583.7,380.4 589.5,377.8 593.4,375.7 C597.3,373.6 600.1,370.7 602.5,369.4 C604.8,368.0 605.9,368.8 607.3,367.5 C608.7,366.3 610.3,363.0 610.9,362.1"/>
<ellipse cx="342.6" cy="260.8" rx="2.6" ry="1.6"/>
</g>
<g font-size="22.8">
<text x="225.0" y="133.0">0.4</text>
<text x="234.9" y="167.5">0.2</text>
<text x="295.6" y="180.5">-0.2</text>
<text x="326.6" y="246.3">-0.6</text>
<text x="442.8" y="141.2">-0.2</text>
<text x="458.8" y="216.4">0.0</text>
<text x="514.6" y="248.7">0.2</text>
<text x="654.3" y="133.2">-0.2</text>
<text x="610.8" y="168.0">0.0</text>
<text x="655.4" y="172.7">0.2</text>
<text x="600.2" y="202.8">-0.4</text>
<text x="645.6" y="290.3">0.2</text>
<text x="248.0" y="354.8">0.4</text>
<text x="297.0" y="354.8">0.0</text>
<text x="427.9" y="358.5">0.2</text>
<text x="588.9" y="346.4">0.0</text>
<text x="432.4" y="468.5">0.2</text>
<text x="260.7" y="506.0">0.2</text>
<text x="649.8" y="477.6">-0.4</text>
<text x="379.8" y="567.6">-0.2</text>
<text x="445.4" y="570.0">-0.4</text>
<text x="667.0" y="591.2">-0.4</text>
<text x="577.4" y="584.2">0.4</text>
</g>
<g clip-path="url(#pc)" fill="none" stroke="#000" stroke-width="1.95">
<ellipse cx="243.2" cy="129.0" rx="5.95" ry="5.55"/>
<ellipse cx="260.6" cy="147.2" rx="5.95" ry="5.55"/>
<ellipse cx="230.4" cy="172.1" rx="5.95" ry="5.55"/>
<ellipse cx="321.6" cy="176.2" rx="5.95" ry="5.55"/>
<ellipse cx="284.4" cy="201.1" rx="5.95" ry="5.55"/>
<ellipse cx="329.6" cy="196.8" rx="5.95" ry="5.55"/>
<ellipse cx="329.1" cy="246.4" rx="5.95" ry="5.55"/>
<ellipse cx="361.1" cy="252.0" rx="5.95" ry="5.55"/>
<ellipse cx="342.9" cy="279.4" rx="5.95" ry="5.55"/>
<ellipse cx="353.8" cy="281.0" rx="5.95" ry="5.55"/>
<ellipse cx="478.0" cy="106.0" rx="5.95" ry="5.55"/>
<ellipse cx="456.9" cy="153.2" rx="5.95" ry="5.55"/>
<ellipse cx="492.5" cy="170.7" rx="5.95" ry="5.55"/>
<ellipse cx="533.6" cy="187.1" rx="5.95" ry="5.55"/>
<ellipse cx="429.6" cy="185.9" rx="5.95" ry="5.55"/>
<ellipse cx="409.5" cy="197.3" rx="5.95" ry="5.55"/>
<ellipse cx="422.3" cy="198.0" rx="5.95" ry="5.55"/>
<ellipse cx="436.1" cy="228.7" rx="5.95" ry="5.55"/>
<ellipse cx="404.7" cy="234.3" rx="5.95" ry="5.55"/>
<ellipse cx="487.7" cy="232.6" rx="5.95" ry="5.55"/>
<ellipse cx="487.7" cy="244.0" rx="5.95" ry="5.55"/>
<ellipse cx="500.3" cy="270.6" rx="5.95" ry="5.55"/>
<ellipse cx="673.1" cy="113.7" rx="5.95" ry="5.55"/>
<ellipse cx="644.7" cy="162.7" rx="5.95" ry="5.55"/>
<ellipse cx="659.9" cy="171.5" rx="5.95" ry="5.55"/>
<ellipse cx="691.5" cy="174.8" rx="5.95" ry="5.55"/>
<ellipse cx="719.1" cy="165.2" rx="5.95" ry="5.55"/>
<ellipse cx="730.5" cy="157.0" rx="5.95" ry="5.55"/>
<ellipse cx="623.4" cy="193.2" rx="5.95" ry="5.55"/>
<ellipse cx="714.1" cy="214.9" rx="5.95" ry="5.55"/>
<ellipse cx="647.5" cy="244.7" rx="5.95" ry="5.55"/>
<ellipse cx="698.7" cy="257.2" rx="5.95" ry="5.55"/>
<ellipse cx="702.2" cy="260.4" rx="5.95" ry="5.55"/>
<ellipse cx="299.8" cy="306.9" rx="5.95" ry="5.55"/>
<ellipse cx="238.9" cy="335.5" rx="5.95" ry="5.55"/>
<ellipse cx="337.6" cy="342.3" rx="5.95" ry="5.55"/>
<ellipse cx="356.2" cy="342.3" rx="5.95" ry="5.55"/>
<ellipse cx="281.2" cy="367.4" rx="5.95" ry="5.55"/>
<ellipse cx="282.9" cy="394.0" rx="5.95" ry="5.55"/>
<ellipse cx="223.9" cy="424.5" rx="5.95" ry="5.55"/>
<ellipse cx="372.4" cy="410.0" rx="5.95" ry="5.55"/>
<ellipse cx="459.8" cy="285.2" rx="5.95" ry="5.55"/>
<ellipse cx="523.2" cy="302.1" rx="5.95" ry="5.55"/>
<ellipse cx="432.7" cy="319.8" rx="5.95" ry="5.55"/>
<ellipse cx="391.6" cy="351.2" rx="5.95" ry="5.55"/>
<ellipse cx="424.8" cy="357.3" rx="5.95" ry="5.55"/>
<ellipse cx="501.0" cy="362.6" rx="5.95" ry="5.55"/>
<ellipse cx="541.6" cy="376.1" rx="5.95" ry="5.55"/>
<ellipse cx="411.5" cy="402.0" rx="5.95" ry="5.55"/>
<ellipse cx="428.4" cy="401.3" rx="5.95" ry="5.55"/>
<ellipse cx="419.9" cy="411.0" rx="5.95" ry="5.55"/>
<ellipse cx="462.7" cy="416.5" rx="5.95" ry="5.55"/>
<ellipse cx="457.9" cy="440.0" rx="5.95" ry="5.55"/>
<ellipse cx="536.1" cy="434.2" rx="5.95" ry="5.55"/>
<ellipse cx="564.4" cy="298.6" rx="5.95" ry="5.55"/>
<ellipse cx="612.2" cy="359.0" rx="5.95" ry="5.55"/>
<ellipse cx="652.0" cy="355.8" rx="5.95" ry="5.55"/>
<ellipse cx="665.7" cy="352.6" rx="5.95" ry="5.55"/>
<ellipse cx="589.3" cy="401.3" rx="5.95" ry="5.55"/>
<ellipse cx="651.5" cy="399.3" rx="5.95" ry="5.55"/>
<ellipse cx="342.9" cy="480.2" rx="5.95" ry="5.55"/>
<ellipse cx="352.1" cy="485.8" rx="5.95" ry="5.55"/>
<ellipse cx="280.0" cy="491.1" rx="5.95" ry="5.55"/>
<ellipse cx="292.1" cy="493.6" rx="5.95" ry="5.55"/>
<ellipse cx="335.7" cy="546.8" rx="5.95" ry="5.55"/>
<ellipse cx="349.7" cy="552.8" rx="5.95" ry="5.55"/>
<ellipse cx="300.6" cy="567.3" rx="5.95" ry="5.55"/>
<ellipse cx="234.8" cy="571.0" rx="5.95" ry="5.55"/>
<ellipse cx="256.5" cy="593.5" rx="5.95" ry="5.55"/>
<ellipse cx="317.5" cy="593.2" rx="5.95" ry="5.55"/>
<ellipse cx="261.1" cy="610.9" rx="5.95" ry="5.55"/>
<ellipse cx="390.2" cy="471.3" rx="5.95" ry="5.55"/>
<ellipse cx="406.1" cy="471.8" rx="5.95" ry="5.55"/>
<ellipse cx="477.3" cy="499.6" rx="5.95" ry="5.55"/>
<ellipse cx="426.0" cy="513.4" rx="5.95" ry="5.55"/>
<ellipse cx="536.1" cy="526.2" rx="5.95" ry="5.55"/>
<ellipse cx="526.4" cy="560.1" rx="5.95" ry="5.55"/>
<ellipse cx="413.9" cy="556.5" rx="5.95" ry="5.55"/>
<ellipse cx="452.6" cy="561.8" rx="5.95" ry="5.55"/>
<ellipse cx="703.7" cy="462.4" rx="5.95" ry="5.55"/>
<ellipse cx="588.6" cy="480.3" rx="5.95" ry="5.55"/>
<ellipse cx="593.5" cy="486.8" rx="5.95" ry="5.55"/>
<ellipse cx="589.8" cy="496.0" rx="5.95" ry="5.55"/>
<ellipse cx="563.7" cy="506.7" rx="5.95" ry="5.55"/>
<ellipse cx="603.5" cy="518.4" rx="5.95" ry="5.55"/>
<ellipse cx="614.2" cy="533.3" rx="5.95" ry="5.55"/>
<ellipse cx="610.4" cy="555.1" rx="5.95" ry="5.55"/>
<ellipse cx="584.9" cy="562.1" rx="5.95" ry="5.55"/>
<ellipse cx="588.7" cy="589.9" rx="5.95" ry="5.55"/>
<ellipse cx="633.9" cy="576.7" rx="5.95" ry="5.55"/>
<ellipse cx="561.0" cy="598.4" rx="5.95" ry="5.55"/>
<ellipse cx="722.1" cy="545.7" rx="5.95" ry="5.55"/>
<ellipse cx="724.1" cy="555.7" rx="5.95" ry="5.55"/>
<ellipse cx="730.3" cy="594.7" rx="5.95" ry="5.55"/>
<ellipse cx="681.8" cy="600.4" rx="5.95" ry="5.55"/>
<ellipse cx="668.9" cy="607.2" rx="5.95" ry="5.55"/>
</g>
<rect x="210.5" y="104.0" width="524.5" height="525.5" fill="none" stroke="#a8a8a8" stroke-width="1.5"/>
<g stroke="#a8a8a8" stroke-width="1.5"><line x1="211.0" y1="629.5" x2="211.0" y2="640.5"/><line x1="298.2" y1="629.5" x2="298.2" y2="640.5"/><line x1="385.5" y1="629.5" x2="385.5" y2="640.5"/><line x1="472.8" y1="629.5" x2="472.8" y2="640.5"/><line x1="560.0" y1="629.5" x2="560.0" y2="640.5"/><line x1="647.2" y1="629.5" x2="647.2" y2="640.5"/><line x1="734.5" y1="629.5" x2="734.5" y2="640.5"/><line x1="199.5" y1="629.5" x2="210.5" y2="629.5"/><line x1="199.5" y1="541.9" x2="210.5" y2="541.9"/><line x1="199.5" y1="454.4" x2="210.5" y2="454.4"/><line x1="199.5" y1="366.8" x2="210.5" y2="366.8"/><line x1="199.5" y1="279.2" x2="210.5" y2="279.2"/><line x1="199.5" y1="191.7" x2="210.5" y2="191.7"/><line x1="199.5" y1="104.1" x2="210.5" y2="104.1"/><line x1="860" y1="116.7" x2="872" y2="116.7"/><line x1="860" y1="235.2" x2="872" y2="235.2"/><line x1="860" y1="353.7" x2="872" y2="353.7"/><line x1="860" y1="472.2" x2="872" y2="472.2"/><line x1="860" y1="590.7" x2="872" y2="590.7"/></g>
<g font-size="22.8" text-anchor="middle"><text x="211.0" y="668.3">0</text><text x="298.2" y="668.3">50</text><text x="385.5" y="668.3">100</text><text x="472.8" y="668.3">150</text><text x="560.0" y="668.3">200</text><text x="647.2" y="668.3">250</text><text x="734.5" y="668.3">300</text></g>
<g font-size="22.8" text-anchor="end"><text x="193" y="637.2">0</text><text x="193" y="549.6">50</text><text x="193" y="462.1">100</text><text x="193" y="374.5">150</text><text x="193" y="286.9">200</text><text x="193" y="199.4">250</text><text x="193" y="111.8">300</text></g>
<g font-size="22.8"><text x="879" y="124.4">0.3</text><text x="879" y="242.9">0.25</text><text x="879" y="361.4">0.2</text><text x="879" y="479.9">0.15</text><text x="879" y="598.4">0.1</text></g>
<rect x="836.5" y="114.5" width="22.5" height="515" fill="url(#cbg)" stroke="#111" stroke-width="2"/>
<text x="474" y="710.3" text-anchor="middle" font-size="25.3">Easting</text>
<text transform="translate(123.8,366.7) rotate(-90)" text-anchor="middle" font-size="25.3">Northing</text>
<text transform="translate(953.2,372.8) rotate(-90)" text-anchor="middle" font-size="25.3">Standard Error</text>
</svg>
</body></html>
